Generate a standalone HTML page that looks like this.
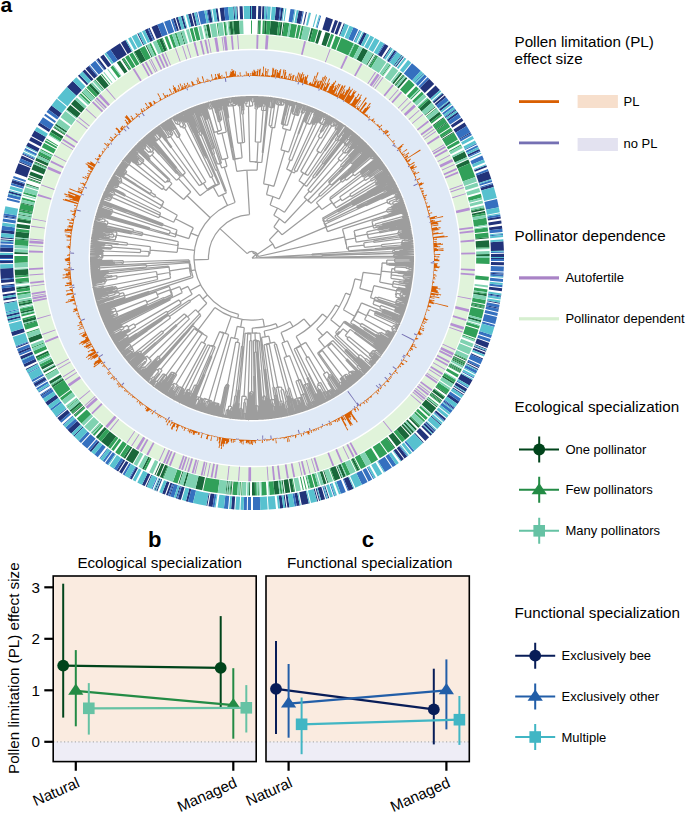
<!DOCTYPE html>
<html><head><meta charset="utf-8"><style>
html,body{margin:0;padding:0;background:#fff;}
svg{display:block;font-family:"Liberation Sans", sans-serif;}
</style></head><body>
<svg width="685" height="813" viewBox="0 0 685 813">
<path d="M459.8 258A207.8 207.8 0 1 1 44.2 258A207.8 207.8 0 1 1 459.8 258ZM415.4 258A163.4 163.4 0 1 0 88.6 258A163.4 163.4 0 1 0 415.4 258Z" fill="#dfe9f6" fill-rule="evenodd"/>
<path d="M475.2 258A223.2 223.2 0 1 1 28.8 258A223.2 223.2 0 1 1 475.2 258ZM461.2 258A209.2 209.2 0 1 0 42.8 258A209.2 209.2 0 1 0 461.2 258Z" fill="#e0f3da" fill-rule="evenodd"/>
<path d="M252 258L255.7 254.7M252.8 253.1A5 5 0 0 1 257 257.8M252.8 253.1L253.1 251.6M247.2 253.6A6.5 6.5 0 0 1 258 255.4M247.2 253.6L219.9 228.6M208.5 259.4A43.5 43.5 0 0 1 249.5 214.6M208.5 259.4L194 259.8M238.6 314.4A58 58 0 0 1 235.1 202.5M238.6 314.4L237.7 318.3M263 319A62 62 0 0 1 214.8 307.6M263 319L264.4 326.9M276.1 323.7A70 70 0 0 1 252.3 328M276.1 323.7L277.5 327.5M290 321.5A74 74 0 0 1 264.2 331M290 321.5L293 326.7M303.9 318.9A80 80 0 0 1 281 332.5M303.9 318.9L310.4 326.5M322.5 314A90 90 0 0 1 296.1 336.5M322.5 314L327.2 317.7M335.7 305A96 96 0 0 1 316.7 328.9M335.7 305L339.2 307M345.7 293.1A100 100 0 0 1 330.7 319.7M345.7 293.1L350.3 294.8M354.9 278.9A105 105 0 0 1 343.4 309.8M354.9 278.9L361.7 280.3M363.1 272.3A112 112 0 0 1 359.8 288.3M363.1 272.3L380.9 274.6M381.7 267A130 130 0 0 1 379.7 282.1M381.7 267L381.8 267.1M382.1 262.9A130.2 130.2 0 0 1 381.5 271.2M382.1 262.9L386.6 263.1M386.7 261.5A134.7 134.7 0 0 1 386.6 264.6M386.7 261.5L386.8 261.5M386.8 260.1A134.9 134.9 0 0 1 386.8 263M386.8 260.1L394.7 260.2M394.7 259A142.7 142.7 0 0 1 394.7 261.3M394.7 259L409.6 259.1M409.6 258.7A157.6 157.6 0 0 1 409.5 259.6M409.6 258.7L410.7 258.7M410.7 258.3A158.7 158.7 0 0 1 410.7 259M410.7 258.3L414 258.3M410.7 259L414 259M409.5 259.6L414 259.7M394.7 261.3L394.8 261.3M394.8 260.5A142.8 142.8 0 0 1 394.7 262.1M394.8 260.5L410.7 260.8M410.8 260.3A158.8 158.8 0 0 1 410.7 261.3M410.8 260.3L414 260.3M410.7 261.3L410.8 261.3M410.8 261A158.8 158.8 0 0 1 410.8 261.6M410.8 261L414 261M410.8 261.6L414 261.7M394.7 262.1L394.8 262.1M394.9 261.8A142.9 142.9 0 0 1 394.8 262.4M394.9 261.8L413.9 262.4M394.8 262.4L413.9 263M386.8 263L401.3 263.6M401.3 263.3A149.4 149.4 0 0 1 401.3 263.9M401.3 263.3L413.9 263.7M401.3 263.9L413.9 264.4M386.6 264.6L388.6 264.7M388.7 264.2A136.8 136.8 0 0 1 388.6 265.1M388.7 264.2L399.2 264.7M399.3 264.4A147.4 147.4 0 0 1 399.2 265M399.3 264.4L413.8 265M399.2 265L413.8 265.7M388.6 265.1L413.8 266.4M381.5 271.2L391.5 272.2M391.8 268.6A140.2 140.2 0 0 1 391.1 275.9M391.8 268.6L394.8 268.8M394.9 266.9A143.2 143.2 0 0 1 394.6 270.8M394.9 266.9L406.1 267.6M406.2 266.6A154.4 154.4 0 0 1 406.1 268.5M406.2 266.6L413.7 267.1M406.1 268.5L408.8 268.7M408.9 267.8A157.2 157.2 0 0 1 408.8 269.6M408.9 267.8L412.1 268M412.1 267.6A160.4 160.4 0 0 1 412.1 268.3M412.1 267.6L413.7 267.7M412.1 268.3L413.7 268.4M408.8 269.6L411.3 269.7M411.3 269.2A159.7 159.7 0 0 1 411.3 270.2M411.3 269.2L412.8 269.3M412.8 269A161.2 161.2 0 0 1 412.8 269.7M412.8 269L413.6 269.1M412.8 269.7L413.6 269.7M411.3 270.2L413.5 270.4M394.6 270.8L406.6 271.9M406.6 271.3A155.2 155.2 0 0 1 406.5 272.5M406.6 271.3L407.4 271.4M407.5 270.9A156 156 0 0 1 407.4 271.9M407.5 270.9L411.5 271.3M411.5 270.9A160 160 0 0 1 411.5 271.6M411.5 270.9L413.5 271.1M411.5 271.6L413.4 271.7M407.4 271.9L413.4 272.4M406.5 272.5L413.3 273.1M391.1 275.9L391.2 275.9M391.5 273.5A140.3 140.3 0 0 1 390.9 278.3M391.5 273.5L391.6 273.5M391.7 272.1A140.4 140.4 0 0 1 391.4 274.9M391.7 272.1L397.7 272.7M397.8 272.2A146.5 146.5 0 0 1 397.7 273.1M397.8 272.2L413.2 273.8M397.7 273.1L409.3 274.4M409.3 274A158.1 158.1 0 0 1 409.2 274.7M409.3 274L413.2 274.4M409.2 274.7L413.1 275.1M391.4 274.9L403.3 276.4M403.4 275A152.4 152.4 0 0 1 403.1 277.7M403.4 275L404.6 275.1M404.6 274.8A153.5 153.5 0 0 1 404.5 275.5M404.6 274.8L413 275.8M404.5 275.5L412.9 276.4M403.1 277.7L403.8 277.8M403.9 276.8A153.1 153.1 0 0 1 403.6 278.7M403.9 276.8L410.5 277.6M410.6 277.2A159.7 159.7 0 0 1 410.4 278.1M410.6 277.2L411.1 277.2M411.1 276.9A160.3 160.3 0 0 1 411.1 277.5M411.1 276.9L412.9 277.1M411.1 277.5L412.8 277.8M410.4 278.1L412.7 278.4M403.6 278.7L405.4 278.9M405.4 278.5A154.8 154.8 0 0 1 405.3 279.4M405.4 278.5L409.2 279M409.2 278.6A158.6 158.6 0 0 1 409.1 279.3M409.2 278.6L412.6 279.1M409.1 279.3L412.5 279.8M405.3 279.4L412.4 280.4M390.9 278.3L404.7 280.3M404.8 280A154.4 154.4 0 0 1 404.7 280.6M404.8 280L412.3 281.1M404.7 280.6L412.2 281.7M379.7 282.1L392.8 284.6M393.2 282.4A143.3 143.3 0 0 1 392.4 286.7M393.2 282.4L393.3 282.4M393.5 281.2A143.4 143.4 0 0 1 393.1 283.6M393.5 281.2L398.8 282.1M398.9 281.3A148.7 148.7 0 0 1 398.6 282.8M398.9 281.3L403.4 282.1M403.5 281.4A153.3 153.3 0 0 1 403.3 282.7M403.5 281.4L408.8 282.2M408.8 281.9A158.6 158.6 0 0 1 408.7 282.6M408.8 281.9L412.1 282.4M408.7 282.6L412 283.1M403.3 282.7L409 283.6M409 283.3A159.1 159.1 0 0 1 408.9 283.9M409 283.3L411.9 283.7M408.9 283.9L411.8 284.4M398.6 282.8L411.7 285.1M393.1 283.6L405.6 285.9M405.7 285A156.1 156.1 0 0 1 405.4 286.8M405.7 285L406.1 285.1M406.1 284.8A156.4 156.4 0 0 1 406 285.4M406.1 284.8L411.6 285.7M406 285.4L411.5 286.4M405.4 286.8L405.7 286.8M405.8 286.4A156.4 156.4 0 0 1 405.6 287.3M405.8 286.4L408.2 286.8M408.2 286.5A158.8 158.8 0 0 1 408.1 287.1M408.2 286.5L411.4 287M408.1 287.1L411.3 287.7M405.6 287.3L411.1 288.4M392.4 286.7L397.8 287.8M397.9 287.3A148.8 148.8 0 0 1 397.7 288.3M397.9 287.3L406.3 288.9M406.4 288.5A157.3 157.3 0 0 1 406.2 289.4M406.4 288.5L406.4 288.5M406.4 288.1A157.3 157.3 0 0 1 406.3 288.8M406.4 288.1L411 289M406.3 288.8L410.9 289.7M406.2 289.4L410.7 290.3M397.7 288.3L410.6 291M359.8 288.3L372.4 291.8M373.9 285.7A125 125 0 0 1 370.5 297.7M373.9 285.7L396.4 290.9M396.8 289.1A148.1 148.1 0 0 1 396 292.7M396.8 289.1L401.3 290M401.4 289.7A152.7 152.7 0 0 1 401.2 290.3M401.4 289.7L410.5 291.7M401.2 290.3L410.3 292.3M396 292.7L396 292.7M396.6 290.3A148.2 148.2 0 0 1 395.4 295.1M396.6 290.3L406.6 292.5M406.6 292.2A158.4 158.4 0 0 1 406.5 292.8M406.6 292.2L410.2 293M406.5 292.8L410 293.6M395.4 295.1L396.2 295.3M396.7 293.4A148.9 148.9 0 0 1 395.7 297.2M396.7 293.4L400.2 294.2M400.7 292.5A152.6 152.6 0 0 1 399.8 296M400.7 292.5L402.4 292.9M402.5 292.6A154.4 154.4 0 0 1 402.3 293.2M402.5 292.6L409.9 294.3M402.3 293.2L409.7 294.9M399.8 296L401 296.3M401.3 295.1A153.8 153.8 0 0 1 400.7 297.4M401.3 295.1L402.5 295.4M402.8 294.3A155.1 155.1 0 0 1 402.2 296.6M402.8 294.3L404.6 294.7M404.6 294.4A156.9 156.9 0 0 1 404.5 295M404.6 294.4L409.6 295.6M404.5 295L409.4 296.2M402.2 296.6L405.2 297.3M405.3 296.8A158.1 158.1 0 0 1 405 297.9M405.3 296.8L405.5 296.8M405.6 296.3A158.3 158.3 0 0 1 405.3 297.3M405.6 296.3L408.1 296.9M408.1 296.6A160.8 160.8 0 0 1 408 297.3M408.1 296.6L409.3 296.9M408 297.3L409.1 297.5M405.3 297.3L408.9 298.2M405 297.9L408.8 298.8M400.7 297.4L408.6 299.5M395.7 297.2L397.7 297.7M397.8 297.3A151 151 0 0 1 397.6 298.2M397.8 297.3L408.4 300.1M397.6 298.2L398.2 298.4M398.2 298.1A151.6 151.6 0 0 1 398.1 298.7M398.2 298.1L408.2 300.8M398.1 298.7L408.1 301.4M370.5 297.7L374.5 299M375.1 297.2A129.2 129.2 0 0 1 373.9 300.9M375.1 297.2L377.9 298.1M378.2 297.2A132.1 132.1 0 0 1 377.6 299.1M378.2 297.2L395.8 302.6M396.1 301.5A150.5 150.5 0 0 1 395.4 303.7M396.1 301.5L396.1 301.5M396.5 300.2A150.5 150.5 0 0 1 395.7 302.7M396.5 300.2L396.6 300.3M396.9 299.5A150.7 150.7 0 0 1 396.4 301.1M396.9 299.5L401.8 300.9M401.9 300.4A155.8 155.8 0 0 1 401.7 301.3M401.9 300.4L407.9 302.1M401.7 301.3L402.2 301.5M402.3 301.2A156.4 156.4 0 0 1 402.1 301.8M402.3 301.2L407.7 302.7M402.1 301.8L407.5 303.4M396.4 301.1L404.6 303.5M404.7 303.2A159.2 159.2 0 0 1 404.5 303.9M404.7 303.2L407.3 304M404.5 303.9L407.1 304.7M395.7 302.7L398.7 303.6M398.9 303.2A153.7 153.7 0 0 1 398.6 304.1M398.9 303.2L404.7 305M404.8 304.7A159.8 159.8 0 0 1 404.6 305.3M404.8 304.7L406.9 305.3M404.6 305.3L406.7 305.9M398.6 304.1L406.5 306.6M395.4 303.7L406.3 307.2M377.6 299.1L398.4 305.9M398.6 305.4A154.1 154.1 0 0 1 398.3 306.3M398.6 305.4L406.1 307.9M398.3 306.3L402.2 307.6M402.3 307.3A158.2 158.2 0 0 1 402.1 307.9M402.3 307.3L405.9 308.5M402.1 307.9L405.7 309.1M373.9 300.9L374 300.9M374.5 299.6A129.4 129.4 0 0 1 373.6 302.2M374.5 299.6L379.3 301.2M379.4 301A134.5 134.5 0 0 1 379.2 301.5M379.4 301L405.5 309.8M379.2 301.5L405.3 310.4M373.6 302.2L373.7 302.3M374.4 300.4A129.5 129.5 0 0 1 373 304.1M374.4 300.4L405.1 311.1M373 304.1L380.3 306.9M380.8 305.4A137.3 137.3 0 0 1 379.7 308.3M380.8 305.4L394.7 310.5M395 309.6A152 152 0 0 1 394.4 311.3M395 309.6L395.2 309.7M395.4 308.9A152.2 152.2 0 0 1 394.9 310.5M395.4 308.9L395.5 308.9M395.6 308.4A152.2 152.2 0 0 1 395.3 309.3M395.6 308.4L404.8 311.7M395.3 309.3L395.6 309.4M395.7 309.1A152.5 152.5 0 0 1 395.5 309.7M395.7 309.1L404.6 312.3M395.5 309.7L404.4 313M394.9 310.5L395 310.6M395.1 310.3A152.3 152.3 0 0 1 394.9 310.9M395.1 310.3L404.2 313.6M394.9 310.9L403.9 314.2M394.4 311.3L403.7 314.8M379.7 308.3L383.5 309.8M383.7 309.3A141.4 141.4 0 0 1 383.3 310.3M383.7 309.3L399.4 315.4M399.6 314.9A158.1 158.1 0 0 1 399.1 315.9M399.6 314.9L400.1 315.1M400.3 314.6A158.8 158.8 0 0 1 400 315.5M400.3 314.6L402 315.3M402.1 315A160.6 160.6 0 0 1 401.9 315.6M402.1 315L403.5 315.5M401.9 315.6L403.2 316.1M400 315.5L403 316.7M399.1 315.9L402.7 317.3M383.3 310.3L402.5 318M343.4 309.8L354.7 316.2M358.3 309.2A118 118 0 0 1 350.6 322.9M358.3 309.2L358.5 309.3M361.4 302.9A118.2 118.2 0 0 1 355.3 315.5M361.4 302.9L381.7 311.2M381.9 310.7A140.2 140.2 0 0 1 381.4 311.8M381.9 310.7L398.5 317.5M398.7 317.2A158.1 158.1 0 0 1 398.4 317.8M398.7 317.2L402.2 318.6M398.4 317.8L402 319.2M381.4 311.8L382.2 312.1M382.4 311.8A141 141 0 0 1 382.1 312.4M382.4 311.8L401.7 319.8M382.1 312.4L401.5 320.5M355.3 315.5L355.5 315.6M357.7 311.4A118.4 118.4 0 0 1 353 319.8M357.7 311.4L366.6 315.8M368.4 312.1A128.4 128.4 0 0 1 364.6 319.5M368.4 312.1L368.6 312.2M369.7 309.5A128.5 128.5 0 0 1 367.3 314.8M369.7 309.5L375.2 311.9M375.6 311A134.5 134.5 0 0 1 374.8 312.8M375.6 311L391.4 317.8M391.6 317.4A151.7 151.7 0 0 1 391.2 318.2M391.6 317.4L398.6 320.3M398.7 320A159.3 159.3 0 0 1 398.4 320.6M398.7 320L401.2 321.1M398.4 320.6L401 321.7M391.2 318.2L400.7 322.3M374.8 312.8L375 312.9M375.4 312A134.7 134.7 0 0 1 374.6 313.8M375.4 312L400.4 322.9M374.6 313.8L374.7 313.8M375 313.1A134.8 134.8 0 0 1 374.3 314.6M375 313.1L395.9 322.5M396.2 321.8A157.7 157.7 0 0 1 395.6 323.2M396.2 321.8L400.1 323.5M395.6 323.2L397.9 324.2M398.1 323.7A160.2 160.2 0 0 1 397.7 324.6M398.1 323.7L399.6 324.4M399.7 324.1A161.9 161.9 0 0 1 399.5 324.7M399.7 324.1L399.9 324.2M399.5 324.7L399.6 324.8M397.7 324.6L399.3 325.4M374.3 314.6L399 326M367.3 314.8L392.6 327.2M393.5 325.3A156.7 156.7 0 0 1 391.6 329.1M393.5 325.3L395.2 326.1M395.5 325.4A158.6 158.6 0 0 1 394.9 326.8M395.5 325.4L397.9 326.5M398 326.2A161.2 161.2 0 0 1 397.7 326.8M398 326.2L398.8 326.6M397.7 326.8L398.5 327.2M394.9 326.8L395.1 326.9M395.3 326.4A158.8 158.8 0 0 1 394.8 327.3M395.3 326.4L398.2 327.8M394.8 327.3L397.4 328.6M397.6 328.3A161.6 161.6 0 0 1 397.3 328.9M397.6 328.3L397.9 328.4M397.3 328.9L397.6 329M391.6 329.1L392.9 329.8M393.7 328.2A158.1 158.1 0 0 1 392.1 331.3M393.7 328.2L395.7 329.2M395.9 328.9A160.4 160.4 0 0 1 395.6 329.5M395.9 328.9L397.3 329.6M395.6 329.5L397 330.2M392.1 331.3L392.1 331.4M392.4 330.7A158.1 158.1 0 0 1 391.8 332M392.4 330.7L393.9 331.4M394.2 330.7A159.7 159.7 0 0 1 393.5 332.2M394.2 330.7L395.8 331.5M396.1 330.9A161.5 161.5 0 0 1 395.5 332.1M396.1 330.9L396.5 331.1M396.7 330.8A162 162 0 0 1 396.4 331.4M396.7 330.8L396.7 330.8M396.4 331.4L396.4 331.4M395.5 332.1L395.5 332.1M395.6 331.8A161.5 161.5 0 0 1 395.3 332.4M395.6 331.8L396.1 332M395.3 332.4L395.8 332.6M393.5 332.2L395.5 333.2M391.8 332L395.2 333.8M364.6 319.5L386.6 331.6M387.3 330.4A153.4 153.4 0 0 1 386 332.8M387.3 330.4L394.9 334.4M386 332.8L386 332.8M386.5 331.8A153.4 153.4 0 0 1 385.5 333.7M386.5 331.8L386.5 331.8M386.8 331.2A153.4 153.4 0 0 1 386.2 332.5M386.8 331.2L389.7 332.8M389.9 332.5A156.7 156.7 0 0 1 389.6 333.1M389.9 332.5L394.5 335M389.6 333.1L394.2 335.6M386.2 332.5L387.2 333M387.4 332.6A154.6 154.6 0 0 1 387 333.5M387.4 332.6L393.9 336.2M387 333.5L388.2 334.1M388.3 333.8A156 156 0 0 1 388 334.4M388.3 333.8L393.6 336.8M388 334.4L393.2 337.3M385.5 333.7L392.9 337.9M353 319.8L360.8 324.6M361.5 323.4A127.6 127.6 0 0 1 360.1 325.7M361.5 323.4L378.6 333.6M379.3 332.5A147.5 147.5 0 0 1 377.9 334.7M379.3 332.5L380.4 333.2M381 332.2A148.8 148.8 0 0 1 379.9 334.2M381 332.2L389.4 337.1M389.5 336.8A158.5 158.5 0 0 1 389.2 337.4M389.5 336.8L392.6 338.5M389.2 337.4L392.2 339.1M379.9 334.2L380.1 334.3M380.4 333.9A149.1 149.1 0 0 1 379.8 334.8M380.4 333.9L388 338.3M388.2 337.9A158 158 0 0 1 387.7 338.8M388.2 337.9L390.2 339.1M390.4 338.8A160.2 160.2 0 0 1 390 339.4M390.4 338.8L391.9 339.7M390 339.4L391.6 340.3M387.7 338.8L391.2 340.8M379.8 334.8L390.9 341.4M377.9 334.7L382.1 337.3M382.3 337A152.3 152.3 0 0 1 381.9 337.5M382.3 337L390.5 342M381.9 337.5L390.2 342.6M360.1 325.7L363.7 327.9M364 327.5A131.8 131.8 0 0 1 363.4 328.4M364 327.5L375.6 334.7M375.8 334.4A145.5 145.5 0 0 1 375.4 334.9M375.8 334.4L389.8 343.1M375.4 334.9L389.5 343.7M363.4 328.4L364.3 329M364.4 328.7A132.8 132.8 0 0 1 364.1 329.2M364.4 328.7L389.1 344.3M364.1 329.2L388.8 344.8M350.6 322.9L352.9 324.4M353.2 323.9A120.8 120.8 0 0 1 352.6 324.8M353.2 323.9L375.4 338.5M375.8 337.9A147.4 147.4 0 0 1 375.1 339M375.8 337.9L376 338M376.3 337.6A147.6 147.6 0 0 1 375.8 338.4M376.3 337.6L388.4 345.4M375.8 338.4L376 338.5M376.1 338.3A147.8 147.8 0 0 1 375.8 338.8M376.1 338.3L388 346M375.8 338.8L387.7 346.5M375.1 339L387.3 347.1M352.6 324.8L386.9 347.7M330.7 319.7L340.1 327.2M344.3 321.4A112 112 0 0 1 335.5 332.6M344.3 321.4L344.8 321.7M345.2 321.2A112.6 112.6 0 0 1 344.4 322.3M345.2 321.2L367.9 336.6M368.1 336.2A140 140 0 0 1 367.6 336.9M368.1 336.2L368.1 336.2M368.3 336A140 140 0 0 1 368 336.4M368.3 336L386.6 348.2M368 336.4L386.2 348.8M367.6 336.9L385.8 349.3M344.4 322.3L344.6 322.4M344.9 322A112.8 112.8 0 0 1 344.3 322.8M344.9 322L385.4 349.9M344.3 322.8L373.6 343.4M373.9 343A148.6 148.6 0 0 1 373.3 343.8M373.9 343L383.3 349.6M383.5 349.3A160.1 160.1 0 0 1 383.1 349.9M383.5 349.3L385 350.4M383.1 349.9L384.7 351M373.3 343.8L384.3 351.5M335.5 332.6L337 334M339.2 331.5A114 114 0 0 1 334.8 336.4M339.2 331.5L340.1 332.2M342.9 328.8A115.2 115.2 0 0 1 337.2 335.6M342.9 328.8L347.7 332.5M350.1 329.3A121.2 121.2 0 0 1 345.2 335.6M350.1 329.3L354.5 332.5M354.7 332.1A126.7 126.7 0 0 1 354.2 332.8M354.7 332.1L373.7 345.8M374 345.4A150.1 150.1 0 0 1 373.5 346.2M374 345.4L374.8 346M375 345.7A151.1 151.1 0 0 1 374.6 346.2M375 345.7L383.9 352.1M374.6 346.2L383.5 352.6M373.5 346.2L383.1 353.2M354.2 332.8L382.7 353.7M345.2 335.6L347.9 337.8M348.8 336.7A124.8 124.8 0 0 1 346.9 339M348.8 336.7L370 354M370.9 352.9A152.1 152.1 0 0 1 369.1 355.1M370.9 352.9L371 353M372.1 351.5A152.2 152.2 0 0 1 369.8 354.4M372.1 351.5L372.1 351.5M373 350.3A152.2 152.2 0 0 1 371.1 352.8M373 350.3L374.3 351.2M375 350.3A153.8 153.8 0 0 1 373.6 352.2M375 350.3L375.5 350.8M376.1 350A154.5 154.5 0 0 1 375 351.5M376.1 350L378.2 351.6M378.3 351.3A157.1 157.1 0 0 1 378 351.8M378.3 351.3L382.3 354.3M378 351.8L381.9 354.8M375 351.5L380.5 355.6M380.8 355.2A161.4 161.4 0 0 1 380.2 356M380.8 355.2L381 355.4M381.2 355.1A161.6 161.6 0 0 1 380.8 355.6M381.2 355.1L381.5 355.3M380.8 355.6L381.1 355.9M380.2 356L380.7 356.4M373.6 352.2L380 357.2M380.3 356.9A162 162 0 0 1 379.8 357.4M380.3 356.9L380.3 356.9M379.8 357.4L379.9 357.5M371.1 352.8L371.2 352.8M371.6 352.2A152.3 152.3 0 0 1 370.7 353.3M371.6 352.2L376 355.7M376.2 355.4A157.8 157.8 0 0 1 375.8 355.9M376.2 355.4L379.5 358M375.8 355.9L379 358.5M370.7 353.3L373.5 355.5M373.8 355.2A155.8 155.8 0 0 1 373.1 355.9M373.8 355.2L378.6 359M373.1 355.9L377.6 359.5M377.9 359.3A161.6 161.6 0 0 1 377.4 359.8M377.9 359.3L378.2 359.6M377.4 359.8L377.8 360.1M369.8 354.4L377.4 360.6M369.1 355.1L371.2 356.8M371.4 356.5A154.8 154.8 0 0 1 371 357M371.4 356.5L376.9 361.1M371 357L376.5 361.6M346.9 339L370.2 358.8M370.8 358.2A155.4 155.4 0 0 1 369.7 359.5M370.8 358.2L374.4 361.2M374.6 360.9A160.1 160.1 0 0 1 374.2 361.4M374.6 360.9L376.1 362.2M374.2 361.4L375.6 362.7M369.7 359.5L371.1 360.7M371.4 360.3A157.2 157.2 0 0 1 370.7 361.1M371.4 360.3L374.9 363.4M375.1 363.1A161.9 161.9 0 0 1 374.7 363.6M375.1 363.1L375.2 363.2M374.7 363.6L374.8 363.7M370.7 361.1L374.3 364.2M337.2 335.6L359.2 355.7M360.2 354.6A145.1 145.1 0 0 1 358.2 356.8M360.2 354.6L365.5 359.2M366.1 358.5A152 152 0 0 1 364.8 359.9M366.1 358.5L369.5 361.5M369.8 361.1A156.6 156.6 0 0 1 369.1 361.9M369.8 361.1L373.9 364.7M369.1 361.9L371.4 363.8M371.6 363.6A159.5 159.5 0 0 1 371.1 364.1M371.6 363.6L373.4 365.2M371.1 364.1L373 365.7M364.8 359.9L371.1 365.5M371.4 365.2A160.4 160.4 0 0 1 370.7 365.9M371.4 365.2L372.6 366.2M370.7 365.9L371.5 366.6M371.7 366.4A161.5 161.5 0 0 1 371.3 366.9M371.7 366.4L372.1 366.7M371.3 366.9L371.7 367.2M358.2 356.8L360.5 358.9M360.8 358.6A148.2 148.2 0 0 1 360.2 359.2M360.8 358.6L370.6 367.7M370.9 367.4A161.6 161.6 0 0 1 370.4 367.9M370.9 367.4L371.2 367.7M370.4 367.9L370.7 368.2M360.2 359.2L370.3 368.7M334.8 336.4L357 357.5M357.2 357.3A144.7 144.7 0 0 1 356.8 357.7M357.2 357.3L369.8 369.2M356.8 357.7L369.4 369.7M316.7 328.9L322.8 335.5M327 331.5A105 105 0 0 1 318.4 339.3M327 331.5L345.5 349.6M346 349.1A130.9 130.9 0 0 1 345 350.1M346 349.1L358.3 361M358.6 360.7A148 148 0 0 1 357.9 361.3M358.6 360.7L364.2 366.1M364.5 365.9A155.8 155.8 0 0 1 364 366.3M364.5 365.9L368.9 370.2M364 366.3L368.4 370.6M357.9 361.3L368 371.1M345 350.1L345.1 350.2M345.4 349.9A131 131 0 0 1 344.8 350.5M345.4 349.9L367.5 371.6M344.8 350.5L353.7 359.3M353.9 359.1A143.5 143.5 0 0 1 353.5 359.5M353.9 359.1L367 372.1M353.5 359.5L366.6 372.6M318.4 339.3L324.9 347.3M330.7 342.2A115.2 115.2 0 0 1 318.7 352M330.7 342.2L330.8 342.3M332.8 340.5A115.5 115.5 0 0 1 328.9 344.1M332.8 340.5L357.6 365.9M358.3 365.2A151 151 0 0 1 356.9 366.6M358.3 365.2L366.1 373M356.9 366.6L360.1 369.8M360.7 369.2A155.5 155.5 0 0 1 359.4 370.4M360.7 369.2L362 370.6M362.4 370.2A157.4 157.4 0 0 1 361.7 370.9M362.4 370.2L365.6 373.5M361.7 370.9L364.8 374.1M365 373.9A161.8 161.8 0 0 1 364.5 374.3M365 373.9L365.1 374M364.5 374.3L364.6 374.4M359.4 370.4L363.2 374.4M363.5 374.2A161 161 0 0 1 363 374.6M363.5 374.2L364.2 374.9M363 374.6L363.7 375.4M328.9 344.1L329.6 344.9M331.4 343.2A116.5 116.5 0 0 1 327.7 346.5M331.4 343.2L346.5 359.4M346.9 359A138.6 138.6 0 0 1 346.1 359.8M346.9 359L347 359.1M347.2 358.9A138.7 138.7 0 0 1 346.8 359.3M347.2 358.9L363.2 375.8M346.8 359.3L362.7 376.3M346.1 359.8L346.2 359.9M346.4 359.7A138.7 138.7 0 0 1 345.9 360.1M346.4 359.7L362.2 376.7M345.9 360.1L361.7 377.2M327.7 346.5L349.7 372.3M350.9 371.2A150.3 150.3 0 0 1 348.4 373.4M350.9 371.2L351.3 371.7M352 371A150.9 150.9 0 0 1 350.6 372.3M352 371L352.1 371.2M352.7 370.7A151.1 151.1 0 0 1 351.5 371.7M352.7 370.7L353.6 371.7M354.3 371.1A152.5 152.5 0 0 1 352.9 372.3M354.3 371.1L354.9 371.8M355.4 371.3A153.4 153.4 0 0 1 354.3 372.2M355.4 371.3L361.2 377.7M354.3 372.2L354.6 372.5M354.9 372.2A153.8 153.8 0 0 1 354.2 372.8M354.9 372.2L356.1 373.5M356.4 373.3A155.5 155.5 0 0 1 355.9 373.7M356.4 373.3L360.7 378.1M355.9 373.7L360.2 378.6M354.2 372.8L359.7 379M352.9 372.3L359.2 379.4M351.5 371.7L358.7 379.9M350.6 372.3L351.8 373.7M352.1 373.3A152.7 152.7 0 0 1 351.4 374M352.1 373.3L358.2 380.3M351.4 374L356.1 379.5M356.4 379.2A160 160 0 0 1 355.9 379.7M356.4 379.2L357.7 380.8M355.9 379.7L357.2 381.2M348.4 373.4L349.7 374.8M350.1 374.4A152.3 152.3 0 0 1 349.2 375.2M350.1 374.4L351.3 375.8M351.6 375.6A154.1 154.1 0 0 1 351.1 376M351.6 375.6L356.7 381.6M351.1 376L356.2 382.1M349.2 375.2L353.9 380.9M354.2 380.7A159.7 159.7 0 0 1 353.6 381.1M354.2 380.7L355.6 382.5M353.6 381.1L355.1 382.9M318.7 352L318.8 352.1M320.2 351.2A115.5 115.5 0 0 1 317.5 353.1M320.2 351.2L320.6 351.8M322.3 350.5A116.2 116.2 0 0 1 318.9 353M322.3 350.5L342.4 376.9M344 375.7A149.4 149.4 0 0 1 340.7 378.2M344 375.7L344 375.7M345.4 374.5A149.4 149.4 0 0 1 342.6 376.8M345.4 374.5L345.7 374.8M346.6 374.1A149.8 149.8 0 0 1 344.7 375.6M346.6 374.1L347.9 375.6M348.1 375.4A151.7 151.7 0 0 1 347.6 375.8M348.1 375.4L354.6 383.4M347.6 375.8L354.1 383.8M344.7 375.6L345.5 376.6M346.1 376.1A151 151 0 0 1 344.9 377M346.1 376.1L346.8 377M347.1 376.7A152.1 152.1 0 0 1 346.4 377.3M347.1 376.7L348.6 378.5M348.8 378.3A154.5 154.5 0 0 1 348.3 378.7M348.8 378.3L353.6 384.2M348.3 378.7L353 384.6M346.4 377.3L352.5 385M344.9 377L348.4 381.4M348.6 381.2A156.5 156.5 0 0 1 348.1 381.6M348.6 381.2L352 385.5M348.1 381.6L351.5 385.9M342.6 376.8L345.3 380.2M345.6 379.9A153.7 153.7 0 0 1 344.9 380.5M345.6 379.9L347.7 382.7M348 382.5A157.2 157.2 0 0 1 347.5 382.9M348 382.5L350.9 386.3M347.5 382.9L350.4 386.7M344.9 380.5L349.9 387.1M340.7 378.2L340.7 378.2M341.4 377.7A149.4 149.4 0 0 1 340 378.7M341.4 377.7L341.6 378M342 377.7A149.8 149.8 0 0 1 341.2 378.3M342 377.7L349.3 387.5M341.2 378.3L346.8 385.8M347.1 385.6A159.1 159.1 0 0 1 346.5 386M347.1 385.6L348.8 387.9M346.5 386L348.3 388.3M340 378.7L341.3 380.5M341.6 380.3A151.6 151.6 0 0 1 341.1 380.7M341.6 380.3L347.7 388.7M341.1 380.7L347.2 389.1M318.9 353L340 382.9M340.8 382.3A152.8 152.8 0 0 1 339.2 383.5M340.8 382.3L341.8 383.7M342.2 383.4A154.5 154.5 0 0 1 341.3 384M342.2 383.4L346.6 389.5M341.3 384L341.7 384.6M342.1 384.3A155.1 155.1 0 0 1 341.3 384.8M342.1 384.3L346.1 389.9M341.3 384.8L341.6 385.2M341.8 385A155.6 155.6 0 0 1 341.3 385.4M341.8 385L345.5 390.3M341.3 385.4L345 390.7M339.2 383.5L344.4 391M317.5 353.1L343.9 391.4M296.1 336.5L301 345.2M305.7 342.4A100 100 0 0 1 296.1 347.7M305.7 342.4L325.2 373M327.1 371.8A136.3 136.3 0 0 1 323.3 374.2M327.1 371.8L329.3 375.1M330.4 374.4A140.4 140.4 0 0 1 328.2 375.9M330.4 374.4L331.3 375.8M331.8 375.5A142 142 0 0 1 330.8 376.1M331.8 375.5L338.5 385.4M338.8 385.2A154 154 0 0 1 338.3 385.5M338.8 385.2L343.3 391.8M338.3 385.5L342.8 392.2M330.8 376.1L341.5 392.2M341.8 392A161.3 161.3 0 0 1 341.3 392.3M341.8 392L342.2 392.6M341.3 392.3L341.7 392.9M328.2 375.9L329 377.1M330 376.5A141.9 141.9 0 0 1 328 377.8M330 376.5L341.1 393.3M328 377.8L328.1 377.9M328.9 377.4A142 142 0 0 1 327.4 378.3M328.9 377.4L336.8 389.8M337.4 389.4A156.7 156.7 0 0 1 336.3 390.1M337.4 389.4L337.7 390M338 389.8A157.4 157.4 0 0 1 337.5 390.2M338 389.8L340.5 393.7M337.5 390.2L340 394M336.3 390.1L336.4 390.3M336.7 390.1A156.9 156.9 0 0 1 336.1 390.5M336.7 390.1L339.4 394.4M336.1 390.5L338.8 394.8M327.4 378.3L334.7 390.1M335 389.9A155.8 155.8 0 0 1 334.4 390.2M335 389.9L338.3 395.1M334.4 390.2L337.7 395.5M323.3 374.2L328.5 382.7M328.9 382.5A146.3 146.3 0 0 1 328.1 382.9M328.9 382.5L337.1 395.8M328.1 382.9L334.1 392.7M334.3 392.6A157.8 157.8 0 0 1 333.8 392.9M334.3 392.6L336.6 396.2M333.8 392.9L336 396.5M296.1 347.7L296.3 348M298.4 346.9A100.3 100.3 0 0 1 294.1 349M298.4 346.9L298.5 347.2M300.7 346A100.6 100.6 0 0 1 296.3 348.3M300.7 346L307.1 357.4M308.4 356.6A113.7 113.7 0 0 1 305.7 358.2M308.4 356.6L328.1 391M329.7 390.1A153.2 153.2 0 0 1 326.5 391.9M329.7 390.1L329.8 390.3M331 389.5A153.4 153.4 0 0 1 328.6 391M331 389.5L335.4 396.9M328.6 391L328.8 391.3M329.8 390.7A153.8 153.8 0 0 1 327.8 391.9M329.8 390.7L330.1 391.1M330.6 390.8A154.3 154.3 0 0 1 329.5 391.4M330.6 390.8L333.5 395.7M333.8 395.5A160 160 0 0 1 333.2 395.8M333.8 395.5L334.8 397.2M333.2 395.8L334.3 397.6M329.5 391.4L329.5 391.4M329.8 391.3A154.3 154.3 0 0 1 329.3 391.6M329.8 391.3L333.7 397.9M329.3 391.6L333.1 398.2M327.8 391.9L329.9 395.6M330.3 395.3A158.1 158.1 0 0 1 329.4 395.8M330.3 395.3L331 396.5M331.2 396.3A159.4 159.4 0 0 1 330.7 396.7M331.2 396.3L332.5 398.6M330.7 396.7L331.9 398.9M329.4 395.8L331.3 399.2M326.5 391.9L330.8 399.6M305.7 358.2L319.1 383.2M320.5 382.4A142.1 142.1 0 0 1 317.6 384M320.5 382.4L330.2 399.9M317.6 384L318.4 385.5M319.7 384.8A143.8 143.8 0 0 1 317 386.3M319.7 384.8L323.4 391.6M323.9 391.4A151.5 151.5 0 0 1 322.9 391.9M323.9 391.4L326.4 396.1M326.8 395.9A156.9 156.9 0 0 1 326 396.3M326.8 395.9L328.7 399.4M329 399.2A160.9 160.9 0 0 1 328.5 399.5M329 399.2L329.6 400.2M328.5 399.5L329 400.5M326 396.3L328.4 400.9M322.9 391.9L327.8 401.2M317 386.3L318.6 389.3M319.2 389A147.2 147.2 0 0 1 317.9 389.6M319.2 389L319.5 389.5M320 389.3A147.8 147.8 0 0 1 319 389.8M320 389.3L325.2 399.3M325.6 399.1A159.1 159.1 0 0 1 324.7 399.6M325.6 399.1L326.1 400.1M326.4 399.9A160.2 160.2 0 0 1 325.8 400.2M326.4 399.9L327.2 401.5M325.8 400.2L326.6 401.8M324.7 399.6L326 402.1M319 389.8L325.4 402.4M317.9 389.6L323.5 400.9M323.8 400.7A159.8 159.8 0 0 1 323.2 401M323.8 400.7L324.8 402.7M323.2 401L324.2 403M296.3 348.3L308.5 373.2M308.7 373.1A128.3 128.3 0 0 1 308.3 373.4M308.7 373.1L323.6 403.3M308.3 373.4L323 403.6M294.1 349L307.4 377.6M307.9 377.3A131.8 131.8 0 0 1 306.8 377.8M307.9 377.3L315.9 394.3M316.6 393.9A150.5 150.5 0 0 1 315.2 394.6M316.6 393.9L316.6 394M317.1 393.7A150.5 150.5 0 0 1 316 394.2M317.1 393.7L317.2 393.8M317.5 393.7A150.6 150.6 0 0 1 316.9 393.9M317.5 393.7L322.4 403.9M316.9 393.9L321.8 404.2M316 394.2L319.7 402.1M320 401.9A159.2 159.2 0 0 1 319.4 402.2M320 401.9L321.2 404.5M319.4 402.2L320.6 404.8M315.2 394.6L320 405M306.8 377.8L319.4 405.3M281 332.5L284.7 341.9M287.4 340.7A90 90 0 0 1 281.9 342.9M287.4 340.7L306 384.2M307.6 383.5A137.2 137.2 0 0 1 304.3 384.9M307.6 383.5L307.7 383.7M308.4 383.4A137.5 137.5 0 0 1 307 384M308.4 383.4L309.6 386M309.8 385.9A140.4 140.4 0 0 1 309.3 386.1M309.8 385.9L318.8 405.6M309.3 386.1L318.2 405.9M307 384L308.2 386.7M308.8 386.4A140.4 140.4 0 0 1 307.6 387M308.8 386.4L317.5 406.1M307.6 387L313.5 400.6M313.9 400.4A155.3 155.3 0 0 1 313.1 400.8M313.9 400.4L315.6 404.1M315.9 404A159.4 159.4 0 0 1 315.3 404.3M315.9 404L316.9 406.4M315.3 404.3L316.3 406.7M313.1 400.8L315.7 407M304.3 384.9L304.3 384.9M305.1 384.6A137.3 137.3 0 0 1 303.6 385.2M305.1 384.6L312.1 401.4M312.5 401.2A155.5 155.5 0 0 1 311.6 401.6M312.5 401.2L315.1 407.2M311.6 401.6L312.9 404.6M313.2 404.4A158.7 158.7 0 0 1 312.6 404.7M313.2 404.4L314.5 407.5M312.6 404.7L313.8 407.7M303.6 385.2L312.3 406.6M312.6 406.5A160.4 160.4 0 0 1 312 406.8M312.6 406.5L313.2 408M312 406.8L312.6 408.2M281.9 342.9L286.7 356.6M289.5 355.6A104.5 104.5 0 0 1 284 357.5M289.5 355.6L298.9 380M300.4 379.4A130.7 130.7 0 0 1 297.4 380.5M300.4 379.4L312 408.5M297.4 380.5L297.5 380.7M299 380.1A130.8 130.8 0 0 1 295.9 381.2M299 380.1L299.1 380.2M300 379.9A131 131 0 0 1 298.2 380.6M300 379.9L311.3 408.7M298.2 380.6L303.3 394.1M304.5 393.7A145.5 145.5 0 0 1 302.2 394.6M304.5 393.7L308 402.7M308.3 402.6A155.2 155.2 0 0 1 307.7 402.9M308.3 402.6L310.7 409M307.7 402.9L310.1 409.2M302.2 394.6L302.2 394.6M303 394.3A145.6 145.6 0 0 1 301.4 394.9M303 394.3L307.1 405.2M307.8 405A157.2 157.2 0 0 1 306.4 405.5M307.8 405L309.5 409.5M306.4 405.5L306.7 406.3M307.2 406.1A158.1 158.1 0 0 1 306.2 406.5M307.2 406.1L307.8 407.7M308.1 407.6A159.8 159.8 0 0 1 307.4 407.9M308.1 407.6L308.8 409.7M307.4 407.9L308.2 409.9M306.2 406.5L307.6 410.2M301.4 394.9L307 410.4M295.9 381.2L306.3 410.6M284 357.5L297.1 398.6M299.8 397.7A147.6 147.6 0 0 1 294.5 399.4M299.8 397.7L299.8 397.7M300.9 397.3A147.6 147.6 0 0 1 298.6 398.1M300.9 397.3L305.7 410.8M298.6 398.1L298.7 398.2M299.9 397.7A147.7 147.7 0 0 1 297.4 398.6M299.9 397.7L301.5 402.3M301.9 402.1A152.5 152.5 0 0 1 301 402.4M301.9 402.1L305.1 411.1M301 402.4L301.2 402.7M301.5 402.6A152.8 152.8 0 0 1 300.9 402.8M301.5 402.6L304.4 411.3M300.9 402.8L303.8 411.5M297.4 398.6L297.7 399.6M298.3 399.5A148.8 148.8 0 0 1 297.2 399.8M298.3 399.5L298.6 400.4M299 400.3A149.8 149.8 0 0 1 298.1 400.6M299 400.3L299.1 400.7M299.4 400.6A150.3 150.3 0 0 1 298.9 400.8M299.4 400.6L303.1 411.7M298.9 400.8L302.5 411.9M298.1 400.6L301.9 412.1M297.2 399.8L301.2 412.3M294.5 399.4L294.5 399.4M295.1 399.3A147.7 147.7 0 0 1 294 399.6M295.1 399.3L295.3 400.1M295.8 400A148.6 148.6 0 0 1 294.8 400.3M295.8 400L297.4 405.1M297.9 405A154 154 0 0 1 297 405.3M297.9 405L299.2 409.3M299.5 409.2A158.5 158.5 0 0 1 298.9 409.4M299.5 409.2L300.6 412.5M298.9 409.4L299.9 412.7M297 405.3L299.3 412.9M294.8 400.3L298.7 413.1M294 399.6L298 413.3M264.2 331L265.2 336.9M268.8 336.2A80 80 0 0 1 261.5 337.4M268.8 336.2L270.3 343.2M274.7 342.2A87.2 87.2 0 0 1 265.8 344.1M274.7 342.2L275.2 344.3M276.3 344A89.3 89.3 0 0 1 274.2 344.5M276.3 344L288.7 388.1M289.5 387.9A135.2 135.2 0 0 1 288 388.4M289.5 387.9L292.3 397.7M292.7 397.6A145.4 145.4 0 0 1 291.9 397.9M292.7 397.6L297.4 413.5M291.9 397.9L295.5 410.5M295.8 410.4A158.6 158.6 0 0 1 295.1 410.6M295.8 410.4L296.7 413.7M295.1 410.6L296.1 413.9M288 388.4L294.8 413.1M295.1 413A160.9 160.9 0 0 1 294.5 413.2M295.1 413L295.4 414.1M294.5 413.2L294.8 414.2M274.2 344.5L286.1 391.1M286.9 390.9A137.4 137.4 0 0 1 285.3 391.3M286.9 390.9L288.2 395.6M288.7 395.4A142.3 142.3 0 0 1 287.6 395.7M288.7 395.4L291.4 405.4M291.7 405.3A152.5 152.5 0 0 1 291.1 405.4M291.7 405.3L294.1 414.4M291.1 405.4L293.5 414.6M287.6 395.7L290.9 408.8M291.3 408.7A155.7 155.7 0 0 1 290.6 408.8M291.3 408.7L292.8 414.8M290.6 408.8L292.2 414.9M285.3 391.3L287.8 401.5M288.1 401.5A147.9 147.9 0 0 1 287.5 401.6M288.1 401.5L291.5 415.1M287.5 401.6L290.9 415.3M265.8 344.1L265.9 344.4M267.8 344.1A87.6 87.6 0 0 1 264 344.7M267.8 344.1L267.8 344.5M269.2 344.2A87.9 87.9 0 0 1 266.5 344.7M269.2 344.2L277.8 387.3M279.6 386.9A131.8 131.8 0 0 1 275.9 387.6M279.6 386.9L279.7 387.4M281.4 387A132.3 132.3 0 0 1 278 387.7M281.4 387L282.1 389.7M283.2 389.5A135.1 135.1 0 0 1 280.9 390M283.2 389.5L286.1 401.4M286.8 401.2A147.4 147.4 0 0 1 285.3 401.6M286.8 401.2L290.2 415.4M285.3 401.6L286.8 408.1M287.5 408A154.1 154.1 0 0 1 286.2 408.3M287.5 408L289.1 415.1M289.4 415A161.4 161.4 0 0 1 288.8 415.1M289.4 415L289.6 415.6M288.8 415.1L288.9 415.7M286.2 408.3L287.9 415.6M288.2 415.5A161.6 161.6 0 0 1 287.5 415.6M288.2 415.5L288.3 415.9M287.5 415.6L287.6 416M280.9 390L284.1 404.5M284.4 404.5A150 150 0 0 1 283.8 404.6M284.4 404.5L287 416.2M283.8 404.6L286.3 416.3M278 387.7L280.7 401.1M281.6 400.9A145.9 145.9 0 0 1 279.8 401.2M281.6 400.9L282 403M282.5 402.9A148.1 148.1 0 0 1 281.6 403.1M282.5 402.9L285.2 415.8M285.5 415.7A161.2 161.2 0 0 1 284.8 415.8M285.5 415.7L285.7 416.5M284.8 415.8L285 416.6M281.6 403.1L284.3 416.7M279.8 401.2L280.6 405.5M281.1 405.4A150.2 150.2 0 0 1 280.2 405.6M281.1 405.4L282.4 411.9M282.7 411.8A156.8 156.8 0 0 1 282 411.9M282.7 411.8L283.7 416.9M282 411.9L283 417M280.2 405.6L282.4 417.1M275.9 387.6L280.8 414M281.1 413.9A158.6 158.6 0 0 1 280.4 414M281.1 413.9L281.7 417.3M280.4 414L281 417.4M266.5 344.7L273.6 387.1M274.3 387A130.9 130.9 0 0 1 272.8 387.3M274.3 387L275.7 394.8M276.3 394.7A138.8 138.8 0 0 1 275.1 394.9M276.3 394.7L280.4 417.5M275.1 394.9L275.4 397.2M275.9 397.1A141.2 141.2 0 0 1 275 397.3M275.9 397.1L276 398M276.3 397.9A142 142 0 0 1 275.7 398M276.3 397.9L279.7 417.6M275.7 398L279.1 417.7M275 397.3L278.4 417.8M272.8 387.3L277.7 417.9M264 344.7L271.6 399.5M273 399.3A142.9 142.9 0 0 1 270.3 399.7M273 399.3L273 399.5M274.1 399.3A143 143 0 0 1 271.8 399.6M274.1 399.3L277.1 418M271.8 399.6L272.3 403.2M273 403.1A146.6 146.6 0 0 1 271.7 403.3M273 403.1L273.4 406.1M274.1 406A149.6 149.6 0 0 1 272.7 406.2M274.1 406L274.8 411M275.3 410.9A154.7 154.7 0 0 1 274.4 411.1M275.3 410.9L276.4 418.1M274.4 411.1L274.4 411.1M274.7 411.1A154.8 154.8 0 0 1 274.1 411.2M274.7 411.1L275.7 418.2M274.1 411.2L275.1 418.3M272.7 406.2L274.4 418.4M271.7 403.3L273.8 418.5M270.3 399.7L272.4 415.6M272.7 415.6A158.9 158.9 0 0 1 272 415.7M272.7 415.6L273.1 418.6M272 415.7L272.4 418.7M261.5 337.4L265.3 369.2M265.7 369.1A112 112 0 0 1 265 369.2M265.7 369.1L271.8 418.8M265 369.2L265 369.4M265.2 369.4A112.2 112.2 0 0 1 264.8 369.5M265.2 369.4L271.1 418.9M264.8 369.5L270.4 418.9M252.3 328L252.3 333M257.4 332.8A75 75 0 0 1 247.3 332.9M257.4 332.8L257.4 333.2M259.9 333A75.4 75.4 0 0 1 255 333.4M259.9 333L266.7 398.2M267.2 398.2A141 141 0 0 1 266.3 398.3M267.2 398.2L269 415.3M269.3 415.3A158.2 158.2 0 0 1 268.7 415.3M269.3 415.3L269.8 419M268.7 415.3L269.1 419.1M266.3 398.3L268.4 419.2M255 333.4L255.3 340.3M257.1 340.2A82.3 82.3 0 0 1 253.4 340.3M257.1 340.2L257.2 340.6M258.3 340.5A82.7 82.7 0 0 1 256 340.6M258.3 340.5L258.3 340.9M259.2 340.8A83.1 83.1 0 0 1 257.5 340.9M259.2 340.8L264 396.3M265.2 396.2A138.9 138.9 0 0 1 262.8 396.4M265.2 396.2L266.6 410.9M266.9 410.9A153.6 153.6 0 0 1 266.3 410.9M266.9 410.9L267.8 419.2M266.3 410.9L267.1 419.3M262.8 396.4L262.8 397.1M263.6 397.1A139.5 139.5 0 0 1 262.1 397.2M263.6 397.1L263.8 400.2M264.4 400.2A142.7 142.7 0 0 1 263.2 400.3M264.4 400.2L264.8 404.3M265.1 404.3A146.8 146.8 0 0 1 264.5 404.3M265.1 404.3L266.4 419.4M264.5 404.3L265.7 419.4M263.2 400.3L264.3 413.3M264.6 413.2A155.8 155.8 0 0 1 263.9 413.3M264.6 413.2L265.1 419.5M263.9 413.3L264.4 419.5M262.1 397.2L263.7 419.6M257.5 340.9L259.4 370M259.7 369.9A112.2 112.2 0 0 1 259.2 370M259.7 369.9L263.1 419.6M259.2 370L262.4 419.7M256 340.6L256 341M256.8 341A83.1 83.1 0 0 1 255.3 341.1M256.8 341L258.1 363.1M258.3 363.1A105.3 105.3 0 0 1 257.9 363.1M258.3 363.1L261.7 419.7M257.9 363.1L261.1 419.7M255.3 341.1L255.7 352M256.7 352A94.1 94.1 0 0 1 254.7 352.1M256.7 352L256.7 352.3M256.9 352.3A94.5 94.5 0 0 1 256.5 352.3M256.9 352.3L260.4 419.8M256.5 352.3L259.7 419.8M254.7 352.1L256.2 405.5M257.1 405.5A147.6 147.6 0 0 1 255.4 405.5M257.1 405.5L257.1 405.9M258 405.8A148 148 0 0 1 256.3 405.9M258 405.8L258.2 411.4M258.7 411.4A153.5 153.5 0 0 1 257.7 411.4M258.7 411.4L259 419.8M257.7 411.4L257.8 413.7M258.1 413.7A155.8 155.8 0 0 1 257.5 413.7M258.1 413.7L258.4 419.9M257.5 413.7L257.7 419.9M256.3 405.9L256.4 409.7M256.7 409.7A151.8 151.8 0 0 1 256.1 409.7M256.7 409.7L257 419.9M256.1 409.7L256.4 419.9M255.4 405.5L255.7 420M253.4 340.3L254 376M254.2 376A118.1 118.1 0 0 1 253.7 376.1M254.2 376L255 420M253.7 376.1L254.3 420M247.3 332.9L247.2 333.3M249.3 333.4A75.4 75.4 0 0 1 245.2 333.1M249.3 333.4L249.3 333.8M250.9 333.9A75.9 75.9 0 0 1 247.7 333.7M250.9 333.9L250.8 340.7M251.8 340.7A82.7 82.7 0 0 1 249.8 340.7M251.8 340.7L251.6 391.9M253.1 391.9A133.9 133.9 0 0 1 250.2 391.9M253.1 391.9L253.3 412.3M253.6 412.3A154.3 154.3 0 0 1 253 412.3M253.6 412.3L253.7 420M253 412.3L253 420M250.2 391.9L250.1 392.9M251.1 393A135 135 0 0 1 249.2 392.9M251.1 393L251.1 393.6M251.9 393.6A135.6 135.6 0 0 1 250.3 393.6M251.9 393.6L251.9 395.2M252.3 395.2A137.2 137.2 0 0 1 251.4 395.2M252.3 395.2L252.3 420M251.4 395.2L251.4 405.4M251.7 405.4A147.4 147.4 0 0 1 251.1 405.4M251.7 405.4L251.7 420M251.1 405.4L251 420M250.3 393.6L250.2 405M250.5 405A147 147 0 0 1 249.9 405M250.5 405L250.3 420M249.9 405L249.7 420M249.2 392.9L248.6 419.8M249 419.8A161.8 161.8 0 0 1 248.3 419.8M249 419.8L249 420M248.3 419.8L248.3 420M249.8 340.7L247.6 419.9M247.7 333.7L244.1 396.3M246.2 396.4A138.5 138.5 0 0 1 242 396.1M246.2 396.4L246.1 399.1M247.3 399.1A141.2 141.2 0 0 1 244.8 399M247.3 399.1L247.1 405.7M247.4 405.8A147.8 147.8 0 0 1 246.8 405.7M247.4 405.8L247 419.9M246.8 405.7L246.3 419.9M244.8 399L244.7 402.4M245.4 402.4A144.6 144.6 0 0 1 243.9 402.4M245.4 402.4L244.9 413M245.6 413A155.2 155.2 0 0 1 244.3 413M245.6 413L245.4 418.2M245.7 418.2A160.3 160.3 0 0 1 245 418.2M245.7 418.2L245.6 419.9M245 418.2L245 419.8M244.3 413L244 418.9M244.3 418.9A161.1 161.1 0 0 1 243.7 418.8M244.3 418.9L244.3 419.8M243.7 418.8L243.6 419.8M243.9 402.4L242.9 419.7M242 396.1L241.1 408.4M242 408.4A150.8 150.8 0 0 1 240.1 408.3M242 408.4L241.9 409.5M242.6 409.5A151.8 151.8 0 0 1 241.3 409.4M242.6 409.5L242 418.4M242.4 418.4A160.7 160.7 0 0 1 241.7 418.3M242.4 418.4L242.3 419.7M241.7 418.3L241.6 419.7M241.3 409.4L240.8 416.4M241.1 416.5A158.8 158.8 0 0 1 240.5 416.4M241.1 416.5L240.9 419.6M240.5 416.4L240.3 419.6M240.1 408.3L239.8 412.3M240.1 412.3A154.8 154.8 0 0 1 239.5 412.3M240.1 412.3L239.6 419.5M239.5 412.3L238.9 419.5M245.2 333.1L238.9 403.2M239.3 403.3A145.8 145.8 0 0 1 238.4 403.2M239.3 403.3L238.8 408.7M239.2 408.8A151.3 151.3 0 0 1 238.5 408.7M239.2 408.8L238.3 419.4M238.5 408.7L237.6 419.4M238.4 403.2L236.9 419.3M242 319.2L240.7 327.1M244.3 327.6A70 70 0 0 1 237.2 326.4M244.3 327.6L242.3 346.1M242.9 346.2A88.6 88.6 0 0 1 241.6 346M242.9 346.2L238.5 389.6M238.9 389.6A132.3 132.3 0 0 1 238 389.6M238.9 389.6L236.3 414.9M236.7 414.9A157.7 157.7 0 0 1 236 414.9M236.7 414.9L236.2 419.2M236 414.9L235.6 419.2M238 389.6L234.9 419.1M241.6 346L235.7 395.9M236.5 396A138.9 138.9 0 0 1 234.9 395.8M236.5 396L235.7 402.8M236 402.9A145.8 145.8 0 0 1 235.4 402.8M236 402.9L234.2 419M235.4 402.8L233.6 418.9M234.9 395.8L233.8 404.5M234.3 404.6A147.6 147.6 0 0 1 233.4 404.5M234.3 404.6L234.2 405.1M234.5 405.1A148.1 148.1 0 0 1 233.9 405M234.5 405.1L232.9 418.9M233.9 405L232.2 418.8M233.4 404.5L231.6 418.7M237.2 326.4L234.6 338.3M238.2 339A82.2 82.2 0 0 1 231 337.4M238.2 339L237.6 342.5M239.6 342.8A85.8 85.8 0 0 1 235.7 342.2M239.6 342.8L230.3 406.4M231.8 406.6A150 150 0 0 1 228.7 406.2M231.8 406.6L231.6 408.2M232.3 408.3A151.6 151.6 0 0 1 230.9 408.1M232.3 408.3L230.9 418.6M230.9 408.1L230.5 410.8M231 410.9A154.3 154.3 0 0 1 230 410.7M231 410.9L230 418.1M230.3 418.2A161.6 161.6 0 0 1 229.6 418.1M230.3 418.2L230.2 418.5M229.6 418.1L229.6 418.4M230 410.7L228.9 418.3M228.7 406.2L228.2 409.6M229.2 409.8A153.5 153.5 0 0 1 227.2 409.5M229.2 409.8L229.2 409.9M229.5 410A153.6 153.6 0 0 1 228.9 409.9M229.5 410L228.3 418.2M228.9 409.9L227.6 418.1M227.2 409.5L227.1 410M227.8 410.1A154 154 0 0 1 226.4 409.9M227.8 410.1L226.9 416.2M227.2 416.2A160.1 160.1 0 0 1 226.6 416.1M227.2 416.2L226.9 418M226.6 416.1L226.3 417.9M226.4 409.9L225.6 415.1M226 415.2A159.3 159.3 0 0 1 225.1 415M226 415.2L225.6 417.8M225.1 415L224.8 416.6M225.1 416.7A161 161 0 0 1 224.5 416.6M225.1 416.7L224.9 417.7M224.5 416.6L224.3 417.6M235.7 342.2L227.6 384.3M228.5 384.5A128.7 128.7 0 0 1 226.7 384.2M228.5 384.5L228.4 384.7M229 384.8A128.8 128.8 0 0 1 227.8 384.6M229 384.8L223.7 414M224.2 414.1A158.6 158.6 0 0 1 223.2 413.9M224.2 414.1L223.6 417.5M223.2 413.9L223 415.2M223.3 415.3A159.9 159.9 0 0 1 222.7 415.2M223.3 415.3L223 417.4M222.7 415.2L222.3 417.3M227.8 384.6L221.6 417.1M226.7 384.2L226.5 385M227.2 385.2A129.6 129.6 0 0 1 225.9 384.9M227.2 385.2L221 417M225.9 384.9L225.5 386.8M226 386.9A131.5 131.5 0 0 1 224.9 386.7M226 386.9L223.8 397.8M224.1 397.8A142.6 142.6 0 0 1 223.5 397.7M224.1 397.8L220.3 416.9M223.5 397.7L219.7 416.7M224.9 386.7L221.3 404M221.6 404A149.2 149.2 0 0 1 221 403.9M221.6 404L219 416.6M221 403.9L218.3 416.5M231 337.4L213.8 402.4M215 402.7A149.3 149.3 0 0 1 212.6 402M215 402.7L215 402.7M216.6 403.1A149.3 149.3 0 0 1 213.4 402.3M216.6 403.1L216.6 403.1M218.3 403.5A149.4 149.4 0 0 1 214.9 402.7M218.3 403.5L218.3 403.5M219.1 403.7A149.4 149.4 0 0 1 217.5 403.3M219.1 403.7L218.7 405.2M219.3 405.3A150.9 150.9 0 0 1 218.2 405M219.3 405.3L219.2 405.7M219.6 405.8A151.3 151.3 0 0 1 218.7 405.6M219.6 405.8L219.2 407.9M219.5 407.9A153.4 153.4 0 0 1 218.9 407.8M219.5 407.9L217.7 416.3M218.9 407.8L217 416.2M218.7 405.6L216.4 416M218.2 405L215.7 415.9M217.5 403.3L217.4 403.7M217.9 403.8A149.7 149.7 0 0 1 217 403.6M217.9 403.8L215.1 415.7M217 403.6L215.8 408.3M216.1 408.3A154.5 154.5 0 0 1 215.5 408.2M216.1 408.3L214.4 415.6M215.5 408.2L213.8 415.4M214.9 402.7L214.8 402.7M215.4 402.9A149.4 149.4 0 0 1 214.3 402.6M215.4 402.9L215 404.5M215.4 404.6A151.1 151.1 0 0 1 214.5 404.4M215.4 404.6L215.1 405.8M215.4 405.9A152.3 152.3 0 0 1 214.8 405.7M215.4 405.9L213.1 415.3M214.8 405.7L212.5 415.1M214.5 404.4L211.8 414.9M214.3 402.6L211.2 414.8M213.4 402.3L211.3 410.5M211.6 410.6A157.8 157.8 0 0 1 210.9 410.4M211.6 410.6L210.5 414.6M210.9 410.4L209.9 414.4M212.6 402L209.2 414.2M231.3 316.4L225.3 333.4M228.7 334.5A80 80 0 0 1 221.9 332.1M228.7 334.5L208.9 399.9M211.9 400.8A148.3 148.3 0 0 1 205.8 399M211.9 400.8L211.4 402.9M211.7 402.9A150.4 150.4 0 0 1 211.1 402.8M211.7 402.9L208.6 414.1M211.1 402.8L207.9 413.9M205.8 399L205.8 399M207.6 399.5A148.3 148.3 0 0 1 204 398.4M207.6 399.5L207.5 399.7M209.7 400.4A148.5 148.5 0 0 1 205.4 399M209.7 400.4L209.5 401.1M210.5 401.4A149.3 149.3 0 0 1 208.5 400.8M210.5 401.4L209.2 406M209.5 406.1A154 154 0 0 1 208.9 405.9M209.5 406.1L207.3 413.7M208.9 405.9L206.6 413.5M208.5 400.8L208.3 401.5M209.4 401.8A150 150 0 0 1 207.2 401.2M209.4 401.8L206 413.3M207.2 401.2L207 401.7M207.7 401.9A150.6 150.6 0 0 1 206.2 401.5M207.7 401.9L206.7 405.3M207.3 405.5A154.1 154.1 0 0 1 206.1 405.1M207.3 405.5L207.1 406.2M207.4 406.3A154.8 154.8 0 0 1 206.8 406.1M207.4 406.3L205.3 413.1M206.8 406.1L204.7 412.9M206.1 405.1L204.3 410.7M204.7 410.8A160 160 0 0 1 204 410.6M204.7 410.8L204.1 412.7M204 410.6L203.4 412.5M206.2 401.5L202.8 412.3M205.4 399L204.1 402.9M204.7 403A152.6 152.6 0 0 1 203.5 402.7M204.7 403L204.2 404.6M204.5 404.7A154.2 154.2 0 0 1 203.9 404.5M204.5 404.7L202.1 412.1M203.9 404.5L201.5 411.9M203.5 402.7L202.9 404.5M203.2 404.6A154.6 154.6 0 0 1 202.6 404.4M203.2 404.6L200.9 411.7M202.6 404.4L200.2 411.5M204 398.4L199.6 411.3M221.9 332.1L221.8 332.5M223.8 333.3A80.4 80.4 0 0 1 219.7 331.6M223.8 333.3L199.8 397.7M201.7 398.4A149.1 149.1 0 0 1 197.8 396.9M201.7 398.4L201.7 398.5M202.6 398.8A149.2 149.2 0 0 1 200.8 398.2M202.6 398.8L202.6 399M203.1 399.2A149.4 149.4 0 0 1 202 398.8M203.1 399.2L198.9 411.1M202 398.8L200.8 402.3M201.3 402.5A153.1 153.1 0 0 1 200.4 402.1M201.3 402.5L198.3 410.8M200.4 402.1L197.8 409.3M198.1 409.4A160.7 160.7 0 0 1 197.5 409.1M198.1 409.4L197.7 410.6M197.5 409.1L197 410.4M200.8 398.2L196.4 410.2M197.8 396.9L197.8 396.9M198.8 397.3A149.1 149.1 0 0 1 196.8 396.5M198.8 397.3L198.1 399.2M199.1 399.6A151.2 151.2 0 0 1 197.1 398.8M199.1 399.6L197.6 403.6M198.1 403.7A155.4 155.4 0 0 1 197.2 403.4M198.1 403.7L195.8 409.9M197.2 403.4L196.4 405.4M196.7 405.5A157.5 157.5 0 0 1 196.1 405.3M196.7 405.5L195.2 409.7M196.1 405.3L194.5 409.5M197.1 398.8L195.1 403.9M195.5 404.1A156.6 156.6 0 0 1 194.6 403.7M195.5 404.1L194.2 407.6M194.5 407.7A160.4 160.4 0 0 1 193.9 407.5M194.5 407.7L193.9 409.2M193.9 407.5L193.3 409M194.6 403.7L192.7 408.7M196.8 396.5L192 408.5M219.7 331.6L213.4 346.1M215.2 346.9A96.2 96.2 0 0 1 211.5 345.3M215.2 346.9L211.5 356M212 356.2A106 106 0 0 1 210.9 355.7M212 356.2L204.7 374.4M205 374.5A125.6 125.6 0 0 1 204.3 374.2M205 374.5L191.4 408.2M204.3 374.2L198 389.6M198.2 389.7A142.2 142.2 0 0 1 197.7 389.5M198.2 389.7L190.8 408M197.7 389.5L190.2 407.7M210.9 355.7L201 379.3M201.3 379.4A131.6 131.6 0 0 1 200.8 379.2M201.3 379.4L189.5 407.5M200.8 379.2L188.9 407.2M211.5 345.3L211.2 345.9M213.2 346.9A96.9 96.9 0 0 1 209.1 345M213.2 346.9L196.5 385.2M197.4 385.6A138.8 138.8 0 0 1 195.6 384.8M197.4 385.6L188.3 407M195.6 384.8L195.4 385.3M196.2 385.7A139.3 139.3 0 0 1 194.6 384.9M196.2 385.7L192.9 393.3M193.4 393.5A147.6 147.6 0 0 1 192.4 393.1M193.4 393.5L187.7 406.7M192.4 393.1L190.9 396.4M191.4 396.6A151.3 151.3 0 0 1 190.5 396.3M191.4 396.6L187.1 406.4M190.5 396.3L187.4 403.3M187.7 403.4A159 159 0 0 1 187.1 403.1M187.7 403.4L186.5 406.1M187.1 403.1L185.8 405.9M194.6 384.9L185.2 405.6M209.1 345L209 345.3M210.1 345.8A97.3 97.3 0 0 1 207.9 344.7M210.1 345.8L189.1 390M190.4 390.6A146.2 146.2 0 0 1 187.8 389.4M190.4 390.6L189.6 392.2M190.2 392.5A148 148 0 0 1 189.1 391.9M190.2 392.5L189.8 393.2M190.1 393.3A148.8 148.8 0 0 1 189.5 393.1M190.1 393.3L184.6 405.3M189.5 393.1L184 405M189.1 391.9L185 400.5M185.3 400.6A157.4 157.4 0 0 1 184.7 400.4M185.3 400.6L183.4 404.8M184.7 400.4L182.8 404.5M187.8 389.4L187.7 389.6M188.2 389.8A146.5 146.5 0 0 1 187.2 389.4M188.2 389.8L187.5 391.3M187.9 391.5A148.1 148.1 0 0 1 187.1 391.1M187.9 391.5L187.6 392.2M187.8 392.3A148.9 148.9 0 0 1 187.3 392.1M187.8 392.3L182.2 404.2M187.3 392.1L181.6 403.9M187.1 391.1L181 403.6M187.2 389.4L180.4 403.3M207.9 344.7L184 391.6M184.5 391.9A149.9 149.9 0 0 1 183.5 391.4M184.5 391.9L183.4 394M183.8 394.2A152.3 152.3 0 0 1 183 393.8M183.8 394.2L179.5 402.8M179.8 403A162 162 0 0 1 179.2 402.7M179.8 403L179.8 403M179.2 402.7L179.2 402.7M183 393.8L178.6 402.4M183.5 391.4L178 402.1M214.8 307.6L198 330M203.5 333.8A90 90 0 0 1 192.9 325.8M203.5 333.8L203.3 334.1M207.3 336.5A90.4 90.4 0 0 1 199.4 331.5M207.3 336.5L203.6 342.9M205.7 344.1A97.7 97.7 0 0 1 201.6 341.7M205.7 344.1L182 387.9M183.2 388.5A147.5 147.5 0 0 1 180.9 387.3M183.2 388.5L183.2 388.5M183.8 388.8A147.5 147.5 0 0 1 182.7 388.2M183.8 388.8L183.3 389.8M183.5 389.9A148.7 148.7 0 0 1 183 389.7M183.5 389.9L177.4 401.8M183 389.7L176.8 401.5M182.7 388.2L177 398.9M177.3 399.1A159.6 159.6 0 0 1 176.7 398.8M177.3 399.1L176.2 401.2M176.7 398.8L175.6 400.9M180.9 387.3L180.9 387.3M181.9 387.8A147.6 147.6 0 0 1 179.9 386.7M181.9 387.8L175 400.5M179.9 386.7L179.7 387M180.4 387.3A147.8 147.8 0 0 1 179.1 386.6M180.4 387.3L176.3 394.8M176.8 395.1A156.3 156.3 0 0 1 175.7 394.5M176.8 395.1L174.2 399.9M174.5 400.1A161.8 161.8 0 0 1 173.9 399.7M174.5 400.1L174.4 400.2M173.9 399.7L173.8 399.9M175.7 394.5L175.1 395.5M175.4 395.7A157.6 157.6 0 0 1 174.8 395.4M175.4 395.7L173.2 399.6M174.8 395.4L172.7 399.2M179.1 386.6L172.1 398.9M201.6 341.7L176 384.3M177.9 385.4A147.4 147.4 0 0 1 174.1 383.2M177.9 385.4L177.8 385.6M178.4 386A147.6 147.6 0 0 1 177.2 385.3M178.4 386L173.7 394.1M174 394.2A157 157 0 0 1 173.4 393.9M174 394.2L171.5 398.6M173.4 393.9L170.9 398.2M177.2 385.3L174.1 390.5M174.5 390.7A153.7 153.7 0 0 1 173.7 390.3M174.5 390.7L170.3 397.9M173.7 390.3L170 396.5M170.3 396.7A161 161 0 0 1 169.7 396.3M170.3 396.7L169.7 397.6M169.7 396.3L169.2 397.2M174.1 383.2L173.1 384.8M174.2 385.5A149.4 149.4 0 0 1 171.9 384.1M174.2 385.5L173.9 386.1M174.5 386.5A150 150 0 0 1 173.2 385.7M174.5 386.5L172.7 389.5M172.9 389.6A153.5 153.5 0 0 1 172.4 389.3M172.9 389.6L168.6 396.9M172.4 389.3L168 396.5M173.2 385.7L172.2 387.4M172.6 387.7A152 152 0 0 1 171.7 387.1M172.6 387.7L167.4 396.2M171.7 387.1L168.6 392.1M169 392.4A158 158 0 0 1 168.2 391.9M169 392.4L166.9 395.8M168.2 391.9L167.6 392.8M167.8 393A159.1 159.1 0 0 1 167.3 392.7M167.8 393L166.3 395.5M167.3 392.7L165.7 395.1M171.9 384.1L165.2 394.8M199.4 331.5L199.2 331.8M202.1 333.7A90.7 90.7 0 0 1 196.4 329.7M202.1 333.7L175.7 373.7M176.8 374.5A138.6 138.6 0 0 1 174.5 373M176.8 374.5L172.7 380.9M173.1 381.1A146.3 146.3 0 0 1 172.3 380.6M173.1 381.1L164.6 394.4M172.3 380.6L164.9 392.1M165.1 392.3A160 160 0 0 1 164.6 392M165.1 392.3L164 394M164.6 392L163.5 393.7M174.5 373L174.4 373.2M175.6 374A138.9 138.9 0 0 1 173.2 372.3M175.6 374L162.9 393.3M173.2 372.3L172.9 372.7M174.1 373.4A139.3 139.3 0 0 1 171.8 371.9M174.1 373.4L173.3 374.5M174 374.9A140.6 140.6 0 0 1 172.7 374.1M174 374.9L168.3 383.3M168.6 383.5A150.7 150.7 0 0 1 168.1 383.2M168.6 383.5L162.3 392.9M168.1 383.2L161.8 392.6M172.7 374.1L172.3 374.6M172.9 375A141.2 141.2 0 0 1 171.8 374.2M172.9 375L161.2 392.2M171.8 374.2L166.9 381.4M167.2 381.6A149.9 149.9 0 0 1 166.5 381.1M167.2 381.6L165.1 384.7M165.4 384.9A153.6 153.6 0 0 1 164.9 384.5M165.4 384.9L160.7 391.8M164.9 384.5L160.1 391.4M166.5 381.1L159.6 391M171.8 371.9L171.2 372.7M171.5 372.9A140.3 140.3 0 0 1 171 372.6M171.5 372.9L159 390.7M171 372.6L158.5 390.3M196.4 329.7L196.2 330M198.1 331.4A91.1 91.1 0 0 1 194.3 328.5M198.1 331.4L165.9 375.4M167 376.2A145.6 145.6 0 0 1 164.8 374.6M167 376.2L164.3 380M164.7 380.4A150.3 150.3 0 0 1 163.8 379.7M164.7 380.4L157.9 389.9M163.8 379.7L161.4 383M161.8 383.3A154.4 154.4 0 0 1 161 382.7M161.8 383.3L157.4 389.5M161 382.7L158.5 386.3M158.8 386.4A158.7 158.7 0 0 1 158.2 386.1M158.8 386.4L156.8 389.1M158.2 386.1L156.3 388.7M164.8 374.6L164.8 374.6M165.5 375.1A145.6 145.6 0 0 1 164 374M165.5 375.1L155.7 388.3M164 374L163.8 374.3M164.5 374.9A146 146 0 0 1 163.1 373.8M164.5 374.9L156.5 385.6M156.8 385.8A159.4 159.4 0 0 1 156.3 385.4M156.8 385.8L155.2 387.9M156.3 385.4L154.7 387.5M163.1 373.8L157.1 381.5M157.9 382.1A155.7 155.7 0 0 1 156.3 380.8M157.9 382.1L154.1 387.1M156.3 380.8L154.8 382.8M155.3 383.1A158.1 158.1 0 0 1 154.4 382.4M155.3 383.1L153.3 385.7M153.7 386A161.3 161.3 0 0 1 152.9 385.4M153.7 386L153.4 386.4M153.7 386.6A161.9 161.9 0 0 1 153.1 386.2M153.7 386.6L153.6 386.7M153.1 386.2L153.1 386.3M152.9 385.4L152.5 385.9M154.4 382.4L152 385.5M194.3 328.5L160.8 369.4M162.1 370.4A144 144 0 0 1 159.4 368.3M162.1 370.4L159.6 373.6M159.9 373.9A148 148 0 0 1 159.2 373.3M159.9 373.9L155.1 380M155.3 380.2A155.8 155.8 0 0 1 154.8 379.8M155.3 380.2L151.5 385M154.8 379.8L151 384.6M159.2 373.3L150.4 384.2M159.4 368.3L157.8 370.2M159 371.2A146.5 146.5 0 0 1 156.7 369.2M159 371.2L154 377.3M154.7 377.8A154.3 154.3 0 0 1 153.3 376.7M154.7 377.8L149.9 383.8M153.3 376.7L151.5 378.9M152.2 379.4A157.2 157.2 0 0 1 150.8 378.3M152.2 379.4L149.5 382.8M149.7 383A161.5 161.5 0 0 1 149.2 382.5M149.7 383L149.4 383.4M149.2 382.5L148.9 382.9M150.8 378.3L148.7 380.8M149.1 381.1A160.4 160.4 0 0 1 148.3 380.4M149.1 381.1L148.4 382M148.6 382.2A161.6 161.6 0 0 1 148.1 381.8M148.6 382.2L148.4 382.5M148.1 381.8L147.8 382.1M148.3 380.4L147.3 381.6M156.7 369.2L152.7 373.9M152.9 374.1A152.6 152.6 0 0 1 152.4 373.7M152.9 374.1L146.8 381.2M152.4 373.7L146.3 380.8M192.9 325.8L189.4 329.8M189.5 330A95.3 95.3 0 0 1 189.2 329.7M189.5 330L145.8 380.3M189.2 329.7L145.3 379.9M207.5 295.1L202.8 299M206.8 303.3A64 64 0 0 1 199.3 294.4M206.8 303.3L197.9 312.1M200.4 314.5A76.5 76.5 0 0 1 195.6 309.6M200.4 314.5L200.1 314.8M200.9 315.5A76.9 76.9 0 0 1 199.4 314.1M200.9 315.5L194.1 323.2M194.3 323.4A87.2 87.2 0 0 1 193.9 323M194.3 323.4L144.8 379.4M193.9 323L184.7 333.3M184.9 333.4A100.9 100.9 0 0 1 184.6 333.1M184.9 333.4L144.3 379M184.6 333.1L143.8 378.6M199.4 314.1L159.2 356.8M160.1 357.7A135.6 135.6 0 0 1 158.4 356M160.1 357.7L159.6 358.2M160.3 358.9A136.3 136.3 0 0 1 158.9 357.6M160.3 358.9L158.5 360.9M158.7 361.1A139 139 0 0 1 158.3 360.7M158.7 361.1L143.3 378.1M158.3 360.7L142.8 377.7M158.9 357.6L156.5 360.2M157 360.6A139.9 139.9 0 0 1 156 359.7M157 360.6L154.5 363.2M154.9 363.5A143.4 143.4 0 0 1 154.2 362.9M154.9 363.5L142.3 377.2M154.2 362.9L153.9 363.3M154.1 363.5A143.9 143.9 0 0 1 153.7 363.1M154.1 363.5L141.8 376.7M153.7 363.1L141.3 376.3M156 359.7L140.8 375.8M158.4 356L141.5 373.6M141.8 373.9A159.9 159.9 0 0 1 141.3 373.4M141.8 373.9L140.3 375.4M141.3 373.4L139.8 374.9M195.6 309.6L187.6 316.9M189.5 318.9A87.2 87.2 0 0 1 185.8 314.8M189.5 318.9L149.1 358.3M151.4 360.7A143.7 143.7 0 0 1 146.8 356M151.4 360.7L144.8 367.4M145.5 368.1A153.1 153.1 0 0 1 144.1 366.7M145.5 368.1L139.4 374.4M144.1 366.7L143 367.8M143.6 368.5A154.8 154.8 0 0 1 142.3 367.2M143.6 368.5L142.1 370M142.4 370.4A157 157 0 0 1 141.7 369.7M142.4 370.4L138.9 374M141.7 369.7L140.1 371.3M140.3 371.5A159.3 159.3 0 0 1 139.9 371.1M140.3 371.5L138.4 373.5M139.9 371.1L137.9 373M142.3 367.2L138.4 371.1M138.6 371.4A160.3 160.3 0 0 1 138.2 370.9M138.6 371.4L137.4 372.6M138.2 370.9L137 372.1M146.8 356L145.4 357.2M146 357.9A145.6 145.6 0 0 1 144.9 356.6M146 357.9L145.9 358M146.7 358.8A145.7 145.7 0 0 1 145.2 357.1M146.7 358.8L146.1 359.4M147 360.4A146.6 146.6 0 0 1 145.1 358.4M147 360.4L145.5 361.8M146 362.3A148.7 148.7 0 0 1 145.1 361.3M146 362.3L136.5 371.6M145.1 361.3L142.2 364.1M142.7 364.6A152.7 152.7 0 0 1 141.7 363.6M142.7 364.6L136 371.1M141.7 363.6L138 367.1M138.3 367.5A157.8 157.8 0 0 1 137.7 366.8M138.3 367.5L138.2 367.6M138.4 367.9A158 158 0 0 1 138 367.4M138.4 367.9L135.6 370.6M138 367.4L135.1 370.2M137.7 366.8L134.6 369.7M145.1 358.4L134.9 368.1M135.1 368.3A160.7 160.7 0 0 1 134.6 367.8M135.1 368.3L134.2 369.2M134.6 367.8L133.7 368.7M145.2 357.1L133.3 368.2M144.9 356.6L132.8 367.7M185.8 314.8L185.5 315.1M186.6 316.3A87.6 87.6 0 0 1 184.5 313.8M186.6 316.3L176.7 325M177.2 325.5A100.8 100.8 0 0 1 176.3 324.5M177.2 325.5L144 355.3M144.4 355.8A145.4 145.4 0 0 1 143.6 354.9M144.4 355.8L143.8 356.3M144 356.5A146.2 146.2 0 0 1 143.6 356.1M144 356.5L132.3 367.2M143.6 356.1L131.9 366.7M143.6 354.9L142.5 355.8M142.7 356.1A146.8 146.8 0 0 1 142.3 355.6M142.7 356.1L131.4 366.2M142.3 355.6L131 365.7M176.3 324.5L155.7 342.7M155.9 342.9A128.2 128.2 0 0 1 155.5 342.5M155.9 342.9L130.6 365.2M155.5 342.5L130.1 364.7M184.5 313.8L162.9 331.7M163.6 332.6A115.6 115.6 0 0 1 162.1 330.8M163.6 332.6L140.9 351.8M141.6 352.6A145.4 145.4 0 0 1 140.1 350.9M141.6 352.6L141 353.2M141.4 353.6A146.2 146.2 0 0 1 140.6 352.7M141.4 353.6L130.1 363.3M130.4 363.6A161.1 161.1 0 0 1 129.9 363.1M130.4 363.6L129.7 364.2M129.9 363.1L129.2 363.7M140.6 352.7L130 361.7M130.2 362A160.2 160.2 0 0 1 129.8 361.5M130.2 362L128.8 363.2M129.8 361.5L128.4 362.7M140.1 350.9L138.4 352.3M138.7 352.7A147.6 147.6 0 0 1 138.1 352M138.7 352.7L129.8 360.1M130.1 360.4A159.2 159.2 0 0 1 129.6 359.9M130.1 360.4L127.9 362.2M129.6 359.9L127.5 361.6M138.1 352L127.1 361.1M162.1 330.8L135.6 352.3M135.9 352.6A149.8 149.8 0 0 1 135.3 351.9M135.9 352.6L129 358.2M129.2 358.5A158.7 158.7 0 0 1 128.8 358M129.2 358.5L126.6 360.6M128.8 358L126.2 360.1M135.3 351.9L125.8 359.6M199.3 294.4L190.1 300.8M190.6 301.6A75.3 75.3 0 0 1 189.5 299.9M190.6 301.6L169.5 316.6M170.5 318A101.2 101.2 0 0 1 168.5 315.2M170.5 318L131.5 346.7M132.7 348.3A149.6 149.6 0 0 1 130.3 345.1M132.7 348.3L132.5 348.5M133.4 349.7A150 150 0 0 1 131.6 347.3M133.4 349.7L133 350M133.9 351.1A150.4 150.4 0 0 1 132.1 348.9M133.9 351.1L132.4 352.3M133 353A152.3 152.3 0 0 1 131.8 351.6M133 353L125.4 359M131.8 351.6L131.6 351.7M132.1 352.4A152.6 152.6 0 0 1 131.1 351.1M132.1 352.4L131.5 353M131.7 353.2A153.4 153.4 0 0 1 131.3 352.7M131.7 353.2L125 358.5M131.3 352.7L124.5 358M131.1 351.1L125.7 355.2M126 355.5A159.3 159.3 0 0 1 125.4 354.8M126 355.5L125 356.4M125.2 356.6A160.7 160.7 0 0 1 124.8 356.1M125.2 356.6L124.1 357.5M124.8 356.1L123.7 356.9M125.4 354.8L123.3 356.4M132.1 348.9L122.9 355.9M131.6 347.3L128.9 349.3M129.3 349.8A153.2 153.2 0 0 1 128.5 348.8M129.3 349.8L126.7 351.7M126.9 352A156.5 156.5 0 0 1 126.5 351.5M126.9 352L122.5 355.3M126.5 351.5L122.1 354.8M128.5 348.8L123.6 352.4M123.8 352.7A159.4 159.4 0 0 1 123.4 352.2M123.8 352.7L121.7 354.3M123.4 352.2L121.3 353.7M130.3 345.1L130.3 345.1M130.9 345.9A149.6 149.6 0 0 1 129.8 344.3M130.9 345.9L120.9 353.2M129.8 344.3L125.4 347.4M125.8 347.8A154.9 154.9 0 0 1 125.1 346.9M125.8 347.8L124.2 348.9M124.5 349.3A156.8 156.8 0 0 1 123.9 348.6M124.5 349.3L122.7 350.7M122.8 350.9A159.1 159.1 0 0 1 122.5 350.4M122.8 350.9L120.5 352.6M122.5 350.4L120.1 352.1M123.9 348.6L119.7 351.5M125.1 346.9L119.3 351M168.5 315.2L162 319.7M162.3 320.1A109.1 109.1 0 0 1 161.8 319.3M162.3 320.1L147.6 330.2M147.7 330.4A126.9 126.9 0 0 1 147.4 330M147.7 330.4L119 350.4M147.4 330L118.6 349.9M161.8 319.3L132.4 339.3M132.5 339.5A144.6 144.6 0 0 1 132.2 339M132.5 339.5L118.2 349.3M132.2 339L117.8 348.8M189.5 299.9L117.4 348.2M200.6 284.9L190 290.5M192.2 294.3A70 70 0 0 1 188 286.4M192.2 294.3L180.1 301.7M181.2 303.4A84.2 84.2 0 0 1 179 299.9M181.2 303.4L167.4 312.2M168 313.2A100.5 100.5 0 0 1 166.8 311.3M168 313.2L136.6 333.8M136.8 334.2A138.1 138.1 0 0 1 136.4 333.5M136.8 334.2L118.5 346.3M118.7 346.6A160 160 0 0 1 118.3 346M118.7 346.6L117.1 347.7M118.3 346L116.7 347.1M136.4 333.5L116.3 346.5M166.8 311.3L127.6 335.8M128.3 337.1A146.8 146.8 0 0 1 126.8 334.6M128.3 337.1L128.2 337.1M128.5 337.5A146.9 146.9 0 0 1 128 336.7M128.5 337.5L120.8 342.5M121 342.7A156.1 156.1 0 0 1 120.6 342.2M121 342.7L116 346M120.6 342.2L115.6 345.4M128 336.7L115.2 344.8M126.8 334.6L126.3 334.9M126.6 335.3A147.3 147.3 0 0 1 126 334.4M126.6 335.3L124 337M124.3 337.4A150.4 150.4 0 0 1 123.7 336.5M124.3 337.4L118.2 341.2M118.5 341.6A157.5 157.5 0 0 1 118 340.8M118.5 341.6L117.5 342.2M117.7 342.5A158.7 158.7 0 0 1 117.3 341.9M117.7 342.5L114.9 344.3M117.3 341.9L114.5 343.7M118 340.8L114.2 343.1M123.7 336.5L113.8 342.6M126 334.4L113.5 342M179 299.9L134.8 325.4M135.7 326.9A135.2 135.2 0 0 1 133.9 323.8M135.7 326.9L130.3 330.1M130.6 330.6A141.5 141.5 0 0 1 130 329.6M130.6 330.6L117 338.7M117.2 339A157.2 157.2 0 0 1 116.9 338.4M117.2 339L113.1 341.4M116.9 338.4L112.8 340.8M130 329.6L121.4 334.6M121.6 334.9A151.4 151.4 0 0 1 121.2 334.3M121.6 334.9L112.4 340.3M121.2 334.3L112.1 339.7M133.9 323.8L128.2 327M129.1 328.6A141.8 141.8 0 0 1 127.3 325.4M129.1 328.6L125.3 330.7M125.5 331.1A146.1 146.1 0 0 1 125.1 330.4M125.5 331.1L111.8 339.1M125.1 330.4L120.3 333.1M120.4 333.4A151.6 151.6 0 0 1 120.1 332.8M120.4 333.4L111.4 338.5M120.1 332.8L111.1 337.9M127.3 325.4L123.5 327.4M124 328.5A146.1 146.1 0 0 1 122.9 326.4M124 328.5L121.2 330.1M121.6 330.9A149.4 149.4 0 0 1 120.7 329.3M121.6 330.9L116.2 333.9M116.4 334.2A155.6 155.6 0 0 1 116 333.6M116.4 334.2L110.8 337.3M116 333.6L110.4 336.8M120.7 329.3L114.1 332.8M114.5 333.4A156.9 156.9 0 0 1 113.8 332.3M114.5 333.4L110.8 335.4M111 335.7A161 161 0 0 1 110.6 335.1M111 335.7L110.1 336.2M110.6 335.1L109.8 335.6M113.8 332.3L110.1 334.3M110.2 334.6A161.1 161.1 0 0 1 109.9 334M110.2 334.6L109.5 335M109.9 334L109.1 334.4M122.9 326.4L108.8 333.8M188 286.4L180.9 289.6M182.3 292.6A77.8 77.8 0 0 1 179.7 286.6M182.3 292.6L170.3 298.5M170.6 299.1A91.2 91.2 0 0 1 170 297.9M170.6 299.1L170.3 299.3M170.5 299.7A91.6 91.6 0 0 1 170 298.8M170.5 299.7L121.8 324.6M122.1 325.2A146.2 146.2 0 0 1 121.5 324M122.1 325.2L121.9 325.3M122.2 325.7A146.4 146.4 0 0 1 121.7 324.9M122.2 325.7L112.7 330.7M112.8 331A157.1 157.1 0 0 1 112.5 330.4M112.8 331L108.5 333.2M112.5 330.4L108.2 332.6M121.7 324.9L107.9 332M121.5 324L118.8 325.4M118.9 325.7A149.3 149.3 0 0 1 118.7 325.1M118.9 325.7L107.6 331.4M118.7 325.1L107.3 330.8M170 298.8L107 330.2M170 297.9L140 312.5M140.1 312.9A124.6 124.6 0 0 1 139.8 312.2M140.1 312.9L124.3 320.6M124.5 320.9A142.2 142.2 0 0 1 124.2 320.3M124.5 320.9L106.7 329.6M124.2 320.3L106.4 329M139.8 312.2L106.1 328.4M179.7 286.6L170.6 290.2M172.2 293.8A87.5 87.5 0 0 1 169.3 286.5M172.2 293.8L171.8 294M172.7 295.9A87.9 87.9 0 0 1 171 292.1M172.7 295.9L105.8 327.8M171 292.1L170.7 292.2M171.7 294.6A88.2 88.2 0 0 1 169.7 289.8M171.7 294.6L164 298.1M164.3 298.7A96.7 96.7 0 0 1 163.7 297.5M164.3 298.7L147.6 306.5M147.9 306.9A115.1 115.1 0 0 1 147.4 306M147.9 306.9L136.3 312.4M136.4 312.6A127.8 127.8 0 0 1 136.2 312.1M136.4 312.6L105.5 327.2M136.2 312.1L105.2 326.6M147.4 306L116.5 320.1M116.7 320.6A149.1 149.1 0 0 1 116.3 319.7M116.7 320.6L105 326M116.3 319.7L109.5 322.8M109.6 323.1A156.6 156.6 0 0 1 109.3 322.5M109.6 323.1L104.7 325.4M109.3 322.5L104.4 324.8M163.7 297.5L104.1 324.2M169.7 289.8L157.2 294.6M158.3 297.2A101.6 101.6 0 0 1 156.2 291.9M158.3 297.2L146.7 302.1M147.5 304A114.1 114.1 0 0 1 146 300.2M147.5 304L130.6 311.4M130.7 311.7A132.6 132.6 0 0 1 130.5 311.2M130.7 311.7L103.9 323.5M130.5 311.2L103.6 322.9M146 300.2L116.5 311.9M117.5 314.4A145.9 145.9 0 0 1 115.5 309.5M117.5 314.4L117.4 314.4M117.8 315.2A145.9 145.9 0 0 1 117.1 313.6M117.8 315.2L113 317.3M113.2 317.7A151.1 151.1 0 0 1 112.8 316.8M113.2 317.7L108.5 319.7M108.6 320A156.2 156.2 0 0 1 108.3 319.4M108.6 320L103.3 322.3M108.3 319.4L103 321.7M112.8 316.8L102.8 321.1M117.1 313.6L114.1 314.8M114.3 315.2A149.1 149.1 0 0 1 113.9 314.4M114.3 315.2L113.9 315.4M114.1 315.6A149.5 149.5 0 0 1 113.8 315.1M114.1 315.6L102.5 320.5M113.8 315.1L102.3 319.8M113.9 314.4L102 319.2M115.5 309.5L115.5 309.5M116 310.9A145.9 145.9 0 0 1 115 308.1M116 310.9L112.9 312.1M113.3 312.9A149.2 149.2 0 0 1 112.6 311.2M113.3 312.9L111.3 313.7M111.5 314.3A151.3 151.3 0 0 1 111.1 313.2M111.5 314.3L103.5 317.5M103.7 317.8A160 160 0 0 1 103.4 317.2M103.7 317.8L101.8 318.6M103.4 317.2L101.5 318M111.1 313.2L106.7 314.8M106.9 315.1A156 156 0 0 1 106.6 314.5M106.9 315.1L101.3 317.3M106.6 314.5L101 316.7M112.6 311.2L112.5 311.3M112.6 311.6A149.4 149.4 0 0 1 112.3 311M112.6 311.6L100.8 316.1M112.3 311L100.5 315.5M115 308.1L111 309.6M111.3 310.2A150.1 150.1 0 0 1 110.8 308.9M111.3 310.2L111 310.3M111.2 310.8A150.4 150.4 0 0 1 110.8 309.9M111.2 310.8L100.3 314.8M110.8 309.9L104.4 312.3M104.5 312.6A157.3 157.3 0 0 1 104.3 312M104.5 312.6L100.1 314.2M104.3 312L99.8 313.6M110.8 308.9L99.6 313M156.2 291.9L108.3 308.8M108.4 309.1A152.4 152.4 0 0 1 108.2 308.5M108.4 309.1L99.4 312.3M108.2 308.5L99.2 311.7M169.3 286.5L132.7 299.1M132.7 299.3A126.2 126.2 0 0 1 132.6 298.8M132.7 299.3L98.9 311.1M132.6 298.8L98.7 310.4M195.2 269.9L191.3 270.7M193.1 277.4A62 62 0 0 1 190.3 263.9M193.1 277.4L149.1 291.8M149.3 292.3A108.3 108.3 0 0 1 148.9 291.3M149.3 292.3L149 292.4M149.1 292.7A108.6 108.6 0 0 1 148.9 292.1M149.1 292.7L98.5 309.8M148.9 292.1L136.2 296.3M136.3 296.5A121.9 121.9 0 0 1 136.2 296M136.3 296.5L98.3 309.1M136.2 296L98.1 308.5M148.9 291.3L97.9 307.9M190.3 263.9L189.8 263.9M190.2 267.2A62.5 62.5 0 0 1 189.6 260.6M190.2 267.2L189.7 267.3M190.5 271.9A63 63 0 0 1 189.2 262.7M190.5 271.9L190.1 272M191.1 276.1A63.5 63.5 0 0 1 189.3 267.8M191.1 276.1L124.5 295.8M125.1 297.8A133 133 0 0 1 123.9 293.9M125.1 297.8L125 297.8M125.1 298.2A133.1 133.1 0 0 1 124.9 297.4M125.1 298.2L109.7 303.1M109.8 303.4A149.3 149.3 0 0 1 109.6 302.8M109.8 303.4L97.7 307.2M109.6 302.8L97.5 306.6M124.9 297.4L97.3 305.9M123.9 293.9L123.8 294M124.2 295.3A133.2 133.2 0 0 1 123.4 292.7M124.2 295.3L113.7 298.3M113.9 298.9A144.1 144.1 0 0 1 113.5 297.8M113.9 298.9L104.5 301.6M104.6 302.2A153.8 153.8 0 0 1 104.3 301.1M104.6 302.2L99.1 303.8M99.2 304.3A159.6 159.6 0 0 1 98.9 303.4M99.2 304.3L97.4 304.9M97.5 305.2A161.6 161.6 0 0 1 97.3 304.5M97.5 305.2L97.1 305.3M97.3 304.5L96.9 304.7M98.9 303.4L96.7 304M104.3 301.1L96.5 303.4M113.5 297.8L96.3 302.7M123.4 292.7L119.3 293.8M119.7 295.1A137.4 137.4 0 0 1 118.9 292.4M119.7 295.1L97.7 301.3M97.7 301.6A160.3 160.3 0 0 1 97.6 301M97.7 301.6L96.1 302.1M97.6 301L95.9 301.4M118.9 292.4L115 293.4M115.2 294.3A141.5 141.5 0 0 1 114.8 292.5M115.2 294.3L108.4 296.1M108.6 297A148.6 148.6 0 0 1 108.2 295.3M108.6 297L96.6 300.2M96.7 300.5A161 161 0 0 1 96.6 299.9M96.7 300.5L95.8 300.8M96.6 299.9L95.6 300.1M108.2 295.3L102.5 296.8M102.6 297.3A154.4 154.4 0 0 1 102.4 296.3M102.6 297.3L102.1 297.4M102.1 297.7A155 155 0 0 1 102 297.1M102.1 297.7L95.4 299.5M102 297.1L95.2 298.8M102.4 296.3L95.1 298.2M114.8 292.5L94.9 297.5M189.3 267.8L169.6 270.9M170.4 275.2A83.4 83.4 0 0 1 169 266.5M170.4 275.2L170 275.3M170.6 278.1A83.8 83.8 0 0 1 169.5 272.5M170.6 278.1L94.7 296.9M169.5 272.5L157 274.7M157.6 277.9A96.4 96.4 0 0 1 156.5 271.5M157.6 277.9L157.3 277.9M157.7 279.5A96.8 96.8 0 0 1 157 276.3M157.7 279.5L117 288.8M117.3 290.3A138.5 138.5 0 0 1 116.7 287.4M117.3 290.3L113.2 291.3M113.3 291.7A142.7 142.7 0 0 1 113.1 290.8M113.3 291.7L94.6 296.2M113.1 290.8L96.4 294.8M96.5 295.1A159.9 159.9 0 0 1 96.3 294.5M96.5 295.1L94.4 295.6M96.3 294.5L94.3 294.9M116.7 287.4L116.2 287.5M116.4 288.4A138.9 138.9 0 0 1 116 286.6M116.4 288.4L115.3 288.7M115.4 289.1A140.1 140.1 0 0 1 115.2 288.2M115.4 289.1L106 291.2M106.1 291.5A149.7 149.7 0 0 1 106 290.9M106.1 291.5L94.1 294.3M106 290.9L94 293.6M115.2 288.2L93.8 293M116 286.6L113.1 287.2M113.2 287.8A142 142 0 0 1 112.9 286.6M113.2 287.8L113 287.8M113.1 288.1A142.1 142.1 0 0 1 113 287.5M113.1 288.1L93.7 292.3M113 287.5L93.5 291.7M112.9 286.6L102.1 288.9M102.2 289.2A153 153 0 0 1 102 288.6M102.2 289.2L93.4 291M102 288.6L93.3 290.3M157 276.3L103.8 286.5M103.9 287.2A150.9 150.9 0 0 1 103.6 285.8M103.9 287.2L96.9 288.6M96.9 288.9A158.1 158.1 0 0 1 96.8 288.3M96.9 288.9L93.1 289.7M96.8 288.3L93 289M103.6 285.8L94.7 287.5M94.7 288A160.1 160.1 0 0 1 94.6 287M94.7 288L92.9 288.4M94.6 287L92.8 287.4M92.9 287.7A161.9 161.9 0 0 1 92.7 287M92.9 287.7L92.7 287.7M92.7 287L92.6 287M156.5 271.5L116.9 277.1M117.1 278.6A136.4 136.4 0 0 1 116.7 275.7M117.1 278.6L106.3 280.2M106.4 281.3A147.4 147.4 0 0 1 106.1 279.2M106.4 281.3L105.3 281.5M105.5 282.5A148.6 148.6 0 0 1 105.1 280.4M105.5 282.5L104.9 282.6M105.1 283.7A149.2 149.2 0 0 1 104.7 281.5M105.1 283.7L96.4 285.2M96.5 285.7A157.9 157.9 0 0 1 96.4 284.7M96.5 285.7L92.5 286.4M96.4 284.7L95.9 284.8M96 285.1A158.3 158.3 0 0 1 95.9 284.5M96 285.1L92.4 285.7M95.9 284.5L92.3 285.1M104.7 281.5L102.1 282M102.1 282.4A151.8 151.8 0 0 1 102 281.5M102.1 282.4L97.8 283.1M97.8 283.5A156.3 156.3 0 0 1 97.7 282.8M97.8 283.5L92.2 284.4M97.7 282.8L92.1 283.7M102 281.5L92 283.1M105.1 280.4L91.9 282.4M106.1 279.2L102.7 279.7M102.8 280.1A150.8 150.8 0 0 1 102.7 279.2M102.8 280.1L91.8 281.7M102.7 279.2L98.3 279.8M98.3 280.1A155.3 155.3 0 0 1 98.2 279.5M98.3 280.1L91.7 281.1M98.2 279.5L91.6 280.4M116.7 275.7L112.2 276.3M112.3 276.9A141 141 0 0 1 112.1 275.7M112.3 276.9L91.5 279.8M112.1 275.7L108.5 276.2M108.6 276.8A144.7 144.7 0 0 1 108.4 275.5M108.6 276.8L91.4 279.1M108.4 275.5L103.9 276M104 276.5A149.2 149.2 0 0 1 103.9 275.6M104 276.5L94.3 277.7M94.4 278A158.9 158.9 0 0 1 94.3 277.4M94.4 278L91.3 278.4M94.3 277.4L91.2 277.8M103.9 275.6L91.1 277.1M169 266.5L168.6 266.5M168.7 267.1A83.8 83.8 0 0 1 168.6 266M168.7 267.1L106.3 273.9M106.3 274.4A146.6 146.6 0 0 1 106.2 273.5M106.3 274.4L105.1 274.5M105.1 274.8A147.8 147.8 0 0 1 105.1 274.2M105.1 274.8L91.1 276.4M105.1 274.2L91 275.8M106.2 273.5L90.9 275.1M168.6 266L108.7 271.7M108.8 272.3A143.9 143.9 0 0 1 108.7 271.1M108.8 272.3L91.5 274M91.6 274.3A161.3 161.3 0 0 1 91.5 273.7M91.6 274.3L90.8 274.4M91.5 273.7L90.8 273.8M108.7 271.1L107.1 271.3M107.1 271.6A145.5 145.5 0 0 1 107.1 270.9M107.1 271.6L90.7 273.1M107.1 270.9L90.6 272.4M189.2 262.7L146.4 265.9M146.5 267A105.9 105.9 0 0 1 146.3 264.8M146.5 267L90.6 271.7M146.3 264.8L99.6 267.9M99.6 269.2A152.8 152.8 0 0 1 99.5 266.5M99.6 269.2L99.6 269.2M99.7 270A152.8 152.8 0 0 1 99.6 268.4M99.7 270L97.2 270.2M97.2 270.5A155.3 155.3 0 0 1 97.2 269.9M97.2 270.5L90.5 271.1M97.2 269.9L90.5 270.4M99.6 268.4L99.5 268.4M99.6 269.1A152.8 152.8 0 0 1 99.5 267.7M99.6 269.1L90.4 269.7M99.5 267.7L98 267.7M98 268.2A154.3 154.3 0 0 1 97.9 267.3M98 268.2L93.7 268.5M93.7 268.8A158.7 158.7 0 0 1 93.7 268.2M93.7 268.8L90.4 269.1M93.7 268.2L90.3 268.4M97.9 267.3L90.3 267.7M99.5 266.5L90.3 267.1M189.6 260.6L189.1 260.6M189.1 261.3A63 63 0 0 1 189 259.9M189.1 261.3L90.2 266.4M189 259.9L123.4 262M123.4 263.3A128.7 128.7 0 0 1 123.3 260.7M123.4 263.3L122.3 263.3M122.4 264.2A129.8 129.8 0 0 1 122.3 262.5M122.4 264.2L90.2 265.7M122.3 262.5L114.8 262.8M114.8 263.3A137.3 137.3 0 0 1 114.8 262.3M114.8 263.3L105.8 263.6M105.8 264.1A146.3 146.3 0 0 1 105.8 263.2M105.8 264.1L100.7 264.3M100.7 264.6A151.4 151.4 0 0 1 100.7 264M100.7 264.6L90.2 265M100.7 264L90.1 264.4M105.8 263.2L90.1 263.7M114.8 262.3L90.1 263M123.3 260.7L112.7 260.9M112.7 261.5A139.3 139.3 0 0 1 112.7 260.3M112.7 261.5L108.9 261.6M108.9 261.9A143.1 143.1 0 0 1 108.9 261.3M108.9 261.9L90.1 262.4M108.9 261.3L90 261.7M112.7 260.3L98.4 260.5M98.4 260.9A153.7 153.7 0 0 1 98.3 260.2M98.4 260.9L90 261M98.3 260.2L90 260.3M194.5 250.3L177.7 248M177.2 252.3A75 75 0 0 1 178.4 243.7M177.2 252.3L150.1 250.2M149.9 253.9A102.2 102.2 0 0 1 150.4 246.6M149.9 253.9L148.8 253.9M148.8 256.1A103.2 103.2 0 0 1 149 251.6M148.8 256.1L102.8 255.3M102.8 257.7A149.2 149.2 0 0 1 102.9 252.9M102.8 257.7L101.9 257.7M101.9 259.6A150.1 150.1 0 0 1 101.9 255.9M101.9 259.6L90 259.7M101.9 255.9L101.7 255.9M101.7 257.6A150.3 150.3 0 0 1 101.8 254.3M101.7 257.6L100 257.6M100 258.9A152 152 0 0 1 100 256.2M100 258.9L90 259M100 256.2L99 256.2M99 257A153 153 0 0 1 99 255.5M99 257L98.5 257M98.5 257.5A153.5 153.5 0 0 1 98.5 256.4M98.5 257.5L97.5 257.5M97.5 258A154.5 154.5 0 0 1 97.5 257M97.5 258L92.2 258M92.2 258.3A159.8 159.8 0 0 1 92.2 257.7M92.2 258.3L90 258.3M92.2 257.7L90 257.7M97.5 257L90 257M98.5 256.4L90 256.3M99 255.5L97.4 255.4M97.4 255.8A154.6 154.6 0 0 1 97.5 255.1M97.4 255.8L90 255.7M97.5 255.1L90 255M101.8 254.3L99.6 254.2M99.6 254.5A152.5 152.5 0 0 1 99.6 253.9M99.6 254.5L90 254.3M99.6 253.9L90.1 253.6M102.9 252.9L102.5 252.9M102.5 253.4A149.6 149.6 0 0 1 102.5 252.4M102.5 253.4L90.1 253M102.5 252.4L96.3 252.2M96.3 252.5A155.8 155.8 0 0 1 96.3 251.9M96.3 252.5L90.1 252.3M96.3 251.9L90.1 251.6M149 251.6L140.5 251M140.4 252.7A111.7 111.7 0 0 1 140.7 249.3M140.4 252.7L103.9 251M103.9 251.6A148.2 148.2 0 0 1 103.9 250.5M103.9 251.6L90.2 251M103.9 250.5L102.4 250.4M102.4 250.9A149.8 149.8 0 0 1 102.4 249.9M102.4 250.9L90.2 250.3M102.4 249.9L100.4 249.8M100.4 250.1A151.8 151.8 0 0 1 100.4 249.5M100.4 250.1L90.2 249.6M100.4 249.5L90.3 248.9M140.7 249.3L111.9 247.1M111.8 248.6A140.5 140.5 0 0 1 112 245.6M111.8 248.6L111 248.5M110.9 249.2A141.3 141.3 0 0 1 111 247.8M110.9 249.2L98.5 248.4M98.5 248.8A153.8 153.8 0 0 1 98.5 248.1M98.5 248.8L90.3 248.3M98.5 248.1L90.3 247.6M111 247.8L104.2 247.3M104.2 247.9A148.2 148.2 0 0 1 104.3 246.8M104.2 247.9L90.4 246.9M104.3 246.8L101.2 246.6M101.1 247A151.3 151.3 0 0 1 101.2 246.1M101.1 247L90.4 246.3M101.2 246.1L101 246.1M100.9 246.4A151.5 151.5 0 0 1 101 245.8M100.9 246.4L90.5 245.6M101 245.8L90.5 244.9M112 245.6L104.8 245M104.8 245.5A147.7 147.7 0 0 1 104.9 244.5M104.8 245.5L90.6 244.3M104.9 244.5L99.3 244M99.3 244.4A153.3 153.3 0 0 1 99.3 243.7M99.3 244.4L90.6 243.6M99.3 243.7L90.7 242.9M150.4 246.6L127.3 244M127.2 245.2A125.4 125.4 0 0 1 127.5 242.8M127.2 245.2L118.6 244.3M118.5 244.7A134.1 134.1 0 0 1 118.6 243.8M118.5 244.7L105.9 243.4M105.8 243.7A146.9 146.9 0 0 1 105.9 243.1M105.8 243.7L90.8 242.2M105.9 243.1L90.8 241.6M118.6 243.8L90.9 240.9M127.5 242.8L98.6 239.3M98.5 240.1A154.6 154.6 0 0 1 98.7 238.5M98.5 240.1L97.4 240M97.3 240.6A155.6 155.6 0 0 1 97.5 239.3M97.3 240.6L94.3 240.3M94.3 240.6A158.7 158.7 0 0 1 94.3 240M94.3 240.6L91 240.2M94.3 240L91.1 239.6M97.5 239.3L97.3 239.3M97.2 239.6A155.8 155.8 0 0 1 97.3 239M97.2 239.6L91.1 238.9M97.3 239L91.2 238.2M98.7 238.5L91.3 237.6M178.4 243.7L178 243.6M177.6 245.5A75.4 75.4 0 0 1 178.3 241.7M177.6 245.5L116.5 235.2M116 238A137.4 137.4 0 0 1 117 232.4M116 238L115.6 238M115.3 239.8A137.9 137.9 0 0 1 115.9 236.1M115.3 239.8L110 239.1M110 239.3A143.3 143.3 0 0 1 110 238.8M110 239.3L91.4 236.9M110 238.8L91.5 236.2M115.9 236.1L113.4 235.8M113.2 237.3A140.4 140.4 0 0 1 113.7 234.2M113.2 237.3L109.4 236.7M109.3 237.6A144.1 144.1 0 0 1 109.6 235.8M109.3 237.6L103.8 236.8M103.7 237.3A149.7 149.7 0 0 1 103.9 236.4M103.7 237.3L91.6 235.6M103.9 236.4L101.5 236M101.5 236.3A152.1 152.1 0 0 1 101.6 235.7M101.5 236.3L91.7 234.9M101.6 235.7L91.8 234.3M109.6 235.8L106.2 235.3M106.2 235.8A147.5 147.5 0 0 1 106.3 234.9M106.2 235.8L91.9 233.6M106.3 234.9L104.4 234.6M104.4 234.9A149.4 149.4 0 0 1 104.5 234.3M104.4 234.9L92 232.9M104.5 234.3L92.1 232.3M113.7 234.2L112 233.9M111.9 234.9A142 142 0 0 1 112.2 233M111.9 234.9L92.2 231.6M112.2 233L110.4 232.7M110.3 233.2A143.9 143.9 0 0 1 110.5 232.2M110.3 233.2L103.3 232M103.2 232.5A151 151 0 0 1 103.3 231.5M103.2 232.5L98.7 231.7M98.6 232A155.6 155.6 0 0 1 98.7 231.4M98.6 232L92.3 230.9M98.7 231.4L92.4 230.3M103.3 231.5L92.5 229.6M110.5 232.2L92.6 229M117 232.4L113.7 231.8M113.6 232.2A140.8 140.8 0 0 1 113.8 231.3M113.6 232.2L92.7 228.3M113.8 231.3L95.2 227.7M95.1 228.1A159.7 159.7 0 0 1 95.2 227.4M95.1 228.1L92.9 227.6M95.2 227.4L93 227M178.3 241.7L142.5 233.8M142.3 235A112.1 112.1 0 0 1 142.8 232.7M142.3 235L142 234.9M141.9 235.6A112.3 112.3 0 0 1 142.2 234.2M141.9 235.6L131.5 233.5M131.4 234A123 123 0 0 1 131.6 233.1M131.4 234L93.1 226.3M131.6 233.1L106.5 227.9M106.4 228.3A148.6 148.6 0 0 1 106.6 227.4M106.4 228.3L93.3 225.7M106.6 227.4L100.1 226.1M100.1 226.4A155.2 155.2 0 0 1 100.2 225.8M100.1 226.4L93.4 225M100.2 225.8L93.5 224.3M142.2 234.2L93.7 223.7M142.8 232.7L133.2 230.5M132.9 231.7A121.9 121.9 0 0 1 133.5 229.3M132.9 231.7L93.8 223M133.5 229.3L107.6 223M107.3 224.6A148.5 148.5 0 0 1 108 221.5M107.3 224.6L106.1 224.3M106 224.8A149.7 149.7 0 0 1 106.3 223.9M106 224.8L94.6 222.2M94.5 222.5A161.5 161.5 0 0 1 94.6 221.8M94.5 222.5L94 222.4M94.6 221.8L94.1 221.7M106.3 223.9L94.3 221.1M108 221.5L104.9 220.7M104.6 222A151.8 151.8 0 0 1 105.2 219.4M104.6 222L96.4 220M96.3 220.5A160.1 160.1 0 0 1 96.5 219.6M96.3 220.5L95.2 220.3M95.1 220.6A161.3 161.3 0 0 1 95.3 219.9M95.1 220.6L94.4 220.4M95.3 219.9L94.6 219.8M96.5 219.6L94.7 219.1M105.2 219.4L102.4 218.6M102.2 219.5A154.7 154.7 0 0 1 102.6 217.8M102.2 219.5L100.2 219M100.1 219.8A156.7 156.7 0 0 1 100.4 218.3M100.1 219.8L94.9 218.5M100.4 218.3L98.8 217.9M98.7 218.4A158.3 158.3 0 0 1 99 217.4M98.7 218.4L97.7 218.1M97.6 218.5A159.4 159.4 0 0 1 97.8 217.8M97.6 218.5L95.1 217.8M97.8 217.8L95.2 217.2M99 217.4L95.4 216.5M102.6 217.8L95.6 215.9M198.3 236.2L190.9 233.2M188.9 238.6A66 66 0 0 1 193.3 227.9M188.9 238.6L176 234.6M175.3 237A79.6 79.6 0 0 1 176.7 232.3M175.3 237L95.8 215.2M176.7 232.3L176.3 232.1M175.6 234.3A80 80 0 0 1 177.1 230M175.6 234.3L169.8 232.5M169.3 234.1A86.1 86.1 0 0 1 170.3 230.9M169.3 234.1L150 228.5M149.8 229A106.2 106.2 0 0 1 150.1 228M149.8 229L146.9 228.2M146.8 228.5A109.2 109.2 0 0 1 147 227.8M146.8 228.5L105.3 216.8M105.2 217.1A152.4 152.4 0 0 1 105.4 216.5M105.2 217.1L95.9 214.6M105.4 216.5L96.1 213.9M147 227.8L96.3 213.3M150.1 228L149.8 228M149.8 228.2A106.5 106.5 0 0 1 149.9 227.8M149.8 228.2L96.5 212.6M149.9 227.8L96.7 212M170.3 230.9L112.3 211.6M111.8 213.2A147.2 147.2 0 0 1 112.8 210.1M111.8 213.2L111.8 213.1M111.4 214.3A147.2 147.2 0 0 1 112.1 211.9M111.4 214.3L110.9 214.2M110.6 215A147.8 147.8 0 0 1 111.1 213.4M110.6 215L110.2 214.9M110 215.3A148.3 148.3 0 0 1 110.3 214.4M110 215.3L96.9 211.3M110.3 214.4L101.4 211.7M101.3 212A157.6 157.6 0 0 1 101.4 211.3M101.3 212L97.1 210.7M101.4 211.3L97.3 210.1M111.1 213.4L105.4 211.6M105.3 211.9A153.8 153.8 0 0 1 105.5 211.3M105.3 211.9L97.5 209.4M105.5 211.3L97.7 208.8M112.1 211.9L111.5 211.7M111.3 212.2A147.9 147.9 0 0 1 111.6 211.3M111.3 212.2L109.6 211.6M109.5 211.9A149.8 149.8 0 0 1 109.6 211.3M109.5 211.9L97.9 208.1M109.6 211.3L98.1 207.5M111.6 211.3L98.3 206.9M112.8 210.1L102.4 206.5M102.2 207.1A158.2 158.2 0 0 1 102.7 205.9M102.2 207.1L100.6 206.6M100.5 206.9A159.9 159.9 0 0 1 100.7 206.3M100.5 206.9L98.5 206.2M100.7 206.3L98.7 205.6M102.7 205.9L101.5 205.5M101.4 205.8A159.4 159.4 0 0 1 101.6 205.2M101.4 205.8L98.9 204.9M101.6 205.2L99.2 204.3M177.1 230L163.1 224.8M162.9 225.4A94.9 94.9 0 0 1 163.4 224.2M162.9 225.4L162.6 225.3M162.4 225.8A95.2 95.2 0 0 1 162.8 224.8M162.4 225.8L111.7 207.6M111.6 208A149 149 0 0 1 111.9 207.2M111.6 208L99.4 203.7M111.9 207.2L103 203.9M102.8 204.2A158.6 158.6 0 0 1 103.1 203.6M102.8 204.2L99.6 203M103.1 203.6L99.8 202.4M162.8 224.8L126.4 211.2M126.3 211.5A134 134 0 0 1 126.5 211M126.3 211.5L100.1 201.8M126.5 211L100.3 201.2M163.4 224.2L163.1 224M163 224.2A95.2 95.2 0 0 1 163.1 223.9M163 224.2L100.5 200.5M163.1 223.9L100.8 199.9M193.3 227.9L175.4 218.8M173.7 222.3A86 86 0 0 1 177.3 215.3M173.7 222.3L159.6 215.9M158.8 217.7A101.5 101.5 0 0 1 160.4 214.2M158.8 217.7L111.8 197.4M111.2 198.8A152.7 152.7 0 0 1 112.5 195.9M111.2 198.8L111.2 198.8M110.6 200.3A152.8 152.8 0 0 1 111.8 197.3M110.6 200.3L110.1 200.1M109.7 200.9A153.3 153.3 0 0 1 110.4 199.2M109.7 200.9L104.4 198.8M104 199.6A159.1 159.1 0 0 1 104.7 197.9M104 199.6L103.1 199.3M102.8 200A160.1 160.1 0 0 1 103.4 198.6M102.8 200L101 199.3M103.4 198.6L103.3 198.6M103.1 199A160.1 160.1 0 0 1 103.5 198.1M103.1 199L102.3 198.7M102.2 199A161 161 0 0 1 102.4 198.4M102.2 199L101.3 198.7M102.4 198.4L101.5 198M103.5 198.1L101.8 197.4M104.7 197.9L102 196.8M110.4 199.2L108.7 198.5M108.5 198.7A155.2 155.2 0 0 1 108.8 198.2M108.5 198.7L102.3 196.2M108.8 198.2L102.5 195.5M111.8 197.3L111 196.9M110.8 197.4A153.6 153.6 0 0 1 111.2 196.4M110.8 197.4L108.1 196.3M107.9 196.7A156.6 156.6 0 0 1 108.3 195.8M107.9 196.7L106.7 196.2M106.6 196.5A157.9 157.9 0 0 1 106.8 195.9M106.6 196.5L102.8 194.9M106.8 195.9L103 194.3M108.3 195.8L103.3 193.7M111.2 196.4L103.6 193.1M112.5 195.9L104.1 192.2M104 192.5A161.9 161.9 0 0 1 104.3 191.9M104 192.5L103.9 192.5M104.3 191.9L104.1 191.8M160.4 214.2L160.1 214.1M159.6 215.1A101.8 101.8 0 0 1 160.6 213M159.6 215.1L114.4 194.1M113.9 195.2A151.7 151.7 0 0 1 115 193M113.9 195.2L109.2 193M109 193.3A156.9 156.9 0 0 1 109.3 192.7M109 193.3L104.4 191.2M109.3 192.7L104.7 190.6M115 193L114.1 192.6M113.8 193.2A152.7 152.7 0 0 1 114.4 191.9M113.8 193.2L110.3 191.6M110.1 192A156.5 156.5 0 0 1 110.5 191.2M110.1 192L108.1 191.1M108 191.4A158.6 158.6 0 0 1 108.3 190.8M108 191.4L105 190M108.3 190.8L105.2 189.4M110.5 191.2L105.5 188.8M114.4 191.9L112 190.8M111.9 191.1A155.3 155.3 0 0 1 112.2 190.5M111.9 191.1L105.8 188.2M112.2 190.5L106.1 187.6M160.6 213L125.4 195.7M125.1 196.1A141.1 141.1 0 0 1 125.6 195.2M125.1 196.1L106.4 187M125.6 195.2L124.9 194.8M124.7 195.2A142 142 0 0 1 125.1 194.4M124.7 195.2L106.7 186.4M125.1 194.4L123.8 193.8M123.7 194.1A143.4 143.4 0 0 1 123.9 193.6M123.7 194.1L107 185.8M123.9 193.6L107.3 185.2M177.3 215.3L161.5 206.3M160.2 208.8A104.2 104.2 0 0 1 163 203.9M160.2 208.8L117.8 186M117 187.7A152.2 152.2 0 0 1 118.7 184.4M117 187.7L115.9 187.1M115.6 187.7A153.4 153.4 0 0 1 116.3 186.5M115.6 187.7L114 186.9M113.8 187.3A155.2 155.2 0 0 1 114.2 186.5M113.8 187.3L109.9 185.4M109.8 185.7A159.5 159.5 0 0 1 110.1 185.1M109.8 185.7L107.6 184.6M110.1 185.1L107.9 184M114.2 186.5L108.2 183.4M116.3 186.5L111.3 183.8M111.1 184.1A159.1 159.1 0 0 1 111.4 183.6M111.1 184.1L108.5 182.8M111.4 183.6L108.8 182.2M118.7 184.4L118.6 184.4M118.2 185.1A152.3 152.3 0 0 1 119 183.7M118.2 185.1L118.1 185M117.7 185.7A152.5 152.5 0 0 1 118.4 184.4M117.7 185.7L117.7 185.6M117.5 186.1A152.6 152.6 0 0 1 117.9 185.2M117.5 186.1L109.1 181.6M117.9 185.2L113.4 182.8M113.2 183A157.7 157.7 0 0 1 113.5 182.5M113.2 183L109.5 181M113.5 182.5L109.8 180.4M118.4 184.4L110.1 179.8M119 183.7L117.9 183M117.7 183.3A153.7 153.7 0 0 1 118 182.7M117.7 183.3L110.4 179.2M118 182.7L110.8 178.7M163 203.9L162.7 203.7M161.6 205.6A104.5 104.5 0 0 1 163.8 201.9M161.6 205.6L121.3 182.2M120.6 183.4A151.1 151.1 0 0 1 122 181M120.6 183.4L111.1 178.1M122 181L121 180.5M120.3 181.7A152.2 152.2 0 0 1 121.8 179.3M120.3 181.7L117.7 180.1M117.4 180.5A155.3 155.3 0 0 1 117.9 179.7M117.4 180.5L114.8 179.1M114.7 179.4A158.2 158.2 0 0 1 115 178.8M114.7 179.4L111.4 177.5M115 178.8L111.8 176.9M117.9 179.7L112.1 176.3M121.8 179.3L120.4 178.4M119.8 179.4A153.8 153.8 0 0 1 121 177.5M119.8 179.4L118.4 178.6M118.1 179.1A155.4 155.4 0 0 1 118.7 178.1M118.1 179.1L112.4 175.7M118.7 178.1L115.1 176M114.9 176.4A159.6 159.6 0 0 1 115.4 175.6M114.9 176.4L112.8 175.2M115.4 175.6L114.3 174.9M114.1 175.2A160.8 160.8 0 0 1 114.5 174.6M114.1 175.2L113.1 174.6M114.5 174.6L113.5 174M121 177.5L114.7 173.6M114.5 173.9A161.2 161.2 0 0 1 114.8 173.3M114.5 173.9L113.8 173.4M114.8 173.3L114.2 172.9M163.8 201.9L155.1 196.3M154.5 197.2A114.9 114.9 0 0 1 155.7 195.4M154.5 197.2L114.5 172.3M155.7 195.4L150.9 192.3M150.1 193.6A120.6 120.6 0 0 1 151.7 191.1M150.1 193.6L135.9 184.6M135.7 184.9A137.4 137.4 0 0 1 136 184.4M135.7 184.9L114.9 171.7M136 184.4L115.2 171.2M151.7 191.1L125.5 173.6M124.5 175A152.1 152.1 0 0 1 126.5 172.1M124.5 175L124.4 175M124 175.6A152.2 152.2 0 0 1 124.8 174.4M124 175.6L121.9 174.2M121.7 174.5A154.7 154.7 0 0 1 122.1 174M121.7 174.5L115.6 170.6M122.1 174L116 170M124.8 174.4L124.6 174.2M124.3 174.7A152.5 152.5 0 0 1 124.9 173.7M124.3 174.7L116.3 169.5M124.9 173.7L123.6 172.8M123.3 173.2A154.1 154.1 0 0 1 123.8 172.4M123.3 173.2L116.7 168.9M123.8 172.4L122.8 171.8M122.7 172.1A155.3 155.3 0 0 1 123 171.5M122.7 172.1L117.1 168.3M123 171.5L117.4 167.8M126.5 172.1L126.5 172.1M126 172.8A152.1 152.1 0 0 1 126.9 171.5M126 172.8L117.8 167.2M126.9 171.5L125.5 170.5M125.1 171A153.8 153.8 0 0 1 125.9 170M125.1 171L124.1 170.3M123.9 170.6A155 155 0 0 1 124.3 170.1M123.9 170.6L118.2 166.7M124.3 170.1L118.6 166.1M125.9 170L122.3 167.5M122.1 167.7A158.2 158.2 0 0 1 122.4 167.2M122.1 167.7L119 165.6M122.4 167.2L119.3 165M210.2 217.8L187.1 195.7M183.6 199.5A90 90 0 0 1 190.8 192M183.6 199.5L168.9 187M166 190.5A109.3 109.3 0 0 1 172 183.6M166 190.5L163.2 188.3M162.2 189.6A112.9 112.9 0 0 1 164.2 187M162.2 189.6L129 164.4M127.8 165.9A154.6 154.6 0 0 1 130.2 162.8M127.8 165.9L127.8 165.9M127 167A154.6 154.6 0 0 1 128.6 164.9M127 167L127 167M126.2 168.1A154.6 154.6 0 0 1 127.8 165.9M126.2 168.1L126.2 168.1M125.7 168.7A154.6 154.6 0 0 1 126.7 167.4M125.7 168.7L119.7 164.5M126.7 167.4L126.3 167.2M125.9 167.7A155.1 155.1 0 0 1 126.7 166.6M125.9 167.7L124.6 166.7M124.4 167A156.7 156.7 0 0 1 124.8 166.5M124.4 167L120.1 163.9M124.8 166.5L120.5 163.4M126.7 166.6L126.7 166.6M126.5 166.9A155.1 155.1 0 0 1 126.9 166.4M126.5 166.9L120.9 162.8M126.9 166.4L121.3 162.3M127.8 165.9L122.5 161.9M122.3 162.2A161.3 161.3 0 0 1 122.7 161.6M122.3 162.2L121.7 161.7M122.7 161.6L122.1 161.2M128.6 164.9L122.7 160.4M122.5 160.7A162 162 0 0 1 122.9 160.1M122.5 160.7L122.5 160.7M122.9 160.1L122.9 160.1M130.2 162.8L130.1 162.8M129.6 163.4A154.7 154.7 0 0 1 130.6 162.2M129.6 163.4L129 162.9M128.7 163.3A155.5 155.5 0 0 1 129.3 162.5M128.7 163.3L124.7 160.3M124.5 160.5A160.5 160.5 0 0 1 124.9 160M124.5 160.5L123.3 159.6M124.9 160L123.7 159.1M129.3 162.5L124.1 158.5M130.6 162.2L130.4 162M130.1 162.4A154.9 154.9 0 0 1 130.7 161.6M130.1 162.4L124.5 158M130.7 161.6L127.4 159M127.2 159.3A159.1 159.1 0 0 1 127.6 158.7M127.2 159.3L125 157.5M127.6 158.7L125.4 157M164.2 187L134.2 162.8M134 163A151.5 151.5 0 0 1 134.4 162.5M134 163L125.8 156.4M134.4 162.5L126.2 155.9M172 183.6L169 180.9M167.9 182.1A113.3 113.3 0 0 1 170.1 179.7M167.9 182.1L166.9 181.2M165.5 182.7A114.7 114.7 0 0 1 168.3 179.6M165.5 182.7L142.5 162.7M141.2 164.2A145.1 145.1 0 0 1 143.9 161.2M141.2 164.2L140.8 163.8M139.8 165.1A145.7 145.7 0 0 1 141.9 162.6M139.8 165.1L138.7 164.2M138.2 164.9A147.1 147.1 0 0 1 139.2 163.6M138.2 164.9L126.6 155.4M139.2 163.6L137.8 162.5M137.4 163A148.9 148.9 0 0 1 138.3 161.9M137.4 163L135.9 161.8M135.7 162A150.8 150.8 0 0 1 136.1 161.5M135.7 162L127.1 154.9M136.1 161.5L127.5 154.4M138.3 161.9L137.6 161.3M137.3 161.7A149.8 149.8 0 0 1 137.9 161M137.3 161.7L127.9 153.8M137.9 161L134.7 158.3M134.5 158.5A153.9 153.9 0 0 1 134.9 158M134.5 158.5L128.4 153.3M134.9 158L128.8 152.8M141.9 162.6L138.9 160M138.5 160.3A149.7 149.7 0 0 1 139.2 159.6M138.5 160.3L129.2 152.3M139.2 159.6L136.6 157.4M136.4 157.6A153.1 153.1 0 0 1 136.8 157.1M136.4 157.6L129.7 151.8M136.8 157.1L130.1 151.3M143.9 161.2L143.5 160.8M143 161.4A145.7 145.7 0 0 1 144 160.3M143 161.4L133.4 152.8M133.1 153.1A158.5 158.5 0 0 1 133.6 152.6M133.1 153.1L130.6 150.8M133.6 152.6L131 150.3M144 160.3L137.5 154.5M137.1 154.9A154.3 154.3 0 0 1 138 154M137.1 154.9L131.4 149.8M138 154L137.8 153.9M137.5 154.3A154.5 154.5 0 0 1 138.2 153.5M137.5 154.3L131.9 149.3M138.2 153.5L136.1 151.5M135.7 151.9A157.4 157.4 0 0 1 136.4 151.2M135.7 151.9L132.3 148.8M136.4 151.2L134.9 149.8M134.7 150A159.5 159.5 0 0 1 135.1 149.5M134.7 150L132.8 148.3M135.1 149.5L133.3 147.8M168.3 179.6L133.7 147.3M170.1 179.7L149.3 159.7M148.8 160.2A142.2 142.2 0 0 1 149.8 159.2M148.8 160.2L141.9 153.7M141.7 153.9A151.6 151.6 0 0 1 142.1 153.5M141.7 153.9L134.2 146.8M142.1 153.5L134.6 146.3M149.8 159.2L149.7 159.2M149.4 159.6A142.2 142.2 0 0 1 150.1 158.8M149.4 159.6L135.1 145.8M150.1 158.8L146.1 154.9M145.8 155.2A147.8 147.8 0 0 1 146.4 154.6M145.8 155.2L135.6 145.4M146.4 154.6L145.8 154M145.6 154.2A148.6 148.6 0 0 1 146 153.8M145.6 154.2L136 144.9M146 153.8L136.5 144.4M190.8 192L178.5 178.6M176.6 180.4A108.2 108.2 0 0 1 180.3 176.9M176.6 180.4L151.9 154.9M149.9 156.8A143.8 143.8 0 0 1 153.8 153M149.9 156.8L137 143.9M153.8 153L152.2 151.3M150.9 152.5A146.1 146.1 0 0 1 153.6 150M150.9 152.5L149.9 151.4M148.8 152.5A147.6 147.6 0 0 1 150.9 150.4M148.8 152.5L144.7 148.2M143.7 149.2A153.5 153.5 0 0 1 145.7 147.3M143.7 149.2L143.5 149.1M143.3 149.3A153.7 153.7 0 0 1 143.7 148.8M143.3 149.3L137.4 143.4M143.7 148.8L137.9 143M145.7 147.3L145.4 147M145 147.5A153.9 153.9 0 0 1 145.9 146.5M145 147.5L144.5 147M144 147.5A154.6 154.6 0 0 1 145 146.5M144 147.5L143.4 146.9M143.1 147.3A155.3 155.3 0 0 1 143.8 146.6M143.1 147.3L138.4 142.5M143.8 146.6L139.2 141.9M139 142.1A161.8 161.8 0 0 1 139.5 141.7M139 142.1L138.9 142M139.5 141.7L139.4 141.6M145 146.5L139.8 141.1M145.9 146.5L140.3 140.6M150.9 150.4L141.9 140.8M141.6 141A160.8 160.8 0 0 1 142.1 140.6M141.6 141L140.8 140.2M142.1 140.6L141.3 139.7M153.6 150L150.9 147.1M150.5 147.5A150 150 0 0 1 151.3 146.8M150.5 147.5L147.4 144.1M147 144.4A154.6 154.6 0 0 1 147.7 143.8M147 144.4L142.6 139.6M142.3 139.8A161.2 161.2 0 0 1 142.8 139.4M142.3 139.8L141.8 139.3M142.8 139.4L142.3 138.8M147.7 143.8L142.8 138.3M151.3 146.8L143.3 137.9M180.3 176.9L177 173.1M176.5 173.5A113.3 113.3 0 0 1 177.5 172.7M176.5 173.5L159.2 154.2M159 154.4A139.3 139.3 0 0 1 159.4 154M159 154.4L143.8 137.4M159.4 154L144.3 137M177.5 172.7L153.2 144.9M152.9 145.2A150.2 150.2 0 0 1 153.6 144.6M152.9 145.2L152.9 145.2M152.6 145.4A150.2 150.2 0 0 1 153.1 145M152.6 145.4L144.8 136.6M153.1 145L145.3 136.1M153.6 144.6L145.8 135.7M227.5 205.4L222.4 194.6M218.6 196.5A70 70 0 0 1 226.4 192.9M218.6 196.5L213.4 187.1M207.5 190.6A80.7 80.7 0 0 1 219.6 184M207.5 190.6L207.3 190.3M200 195.7A81.1 81.1 0 0 1 215.1 185.7M200 195.7L182.9 175.2M181.6 176.3A107.9 107.9 0 0 1 184.1 174.2M181.6 176.3L146.3 135.2M184.1 174.2L183.9 174M182.5 175.1A108.1 108.1 0 0 1 185.4 172.8M182.5 175.1L176.6 168.1M176.2 168.3A117.4 117.4 0 0 1 176.9 167.8M176.2 168.3L175 166.8M174.7 167.1A119.3 119.3 0 0 1 175.3 166.6M174.7 167.1L152 140.4M151.7 140.6A154.4 154.4 0 0 1 152.2 140.2M151.7 140.6L146.8 134.8M152.2 140.2L147.3 134.4M175.3 166.6L147.8 133.9M176.9 167.8L148.4 133.5M185.4 172.8L158.9 138.8M156.9 140.4A151.2 151.2 0 0 1 160.9 137.3M156.9 140.4L156.9 140.4M156 141.2A151.2 151.2 0 0 1 157.8 139.7M156 141.2L154.2 139M154 139.3A154 154 0 0 1 154.5 138.8M154 139.3L148.9 133.1M154.5 138.8L149.4 132.6M157.8 139.7L157.7 139.6M156.8 140.2A151.4 151.4 0 0 1 158.5 138.9M156.8 140.2L156.1 139.3M155.8 139.5A152.6 152.6 0 0 1 156.3 139.1M155.8 139.5L149.9 132.2M156.3 139.1L150.4 131.8M158.5 138.9L155.5 135.2M154.8 135.7A156.2 156.2 0 0 1 156.2 134.6M154.8 135.7L153.1 133.5M152.8 133.7A159 159 0 0 1 153.3 133.3M152.8 133.7L151 131.4M153.3 133.3L151.5 131M156.2 134.6L156 134.3M155.6 134.6A156.5 156.5 0 0 1 156.4 134M155.6 134.6L152.6 130.8M152.3 131A161.5 161.5 0 0 1 152.9 130.6M152.3 131L152 130.5M152.9 130.6L152.5 130.1M156.4 134L153.1 129.7M160.9 137.3L160.8 137.1M160.3 137.5A151.4 151.4 0 0 1 161.3 136.8M160.3 137.5L154.8 130.3M154.5 130.5A160.5 160.5 0 0 1 155 130.1M154.5 130.5L153.6 129.3M155 130.1L154.1 128.9M161.3 136.8L159.1 133.8M158.8 134A155.1 155.1 0 0 1 159.3 133.6M158.8 134L154.7 128.5M159.3 133.6L155.2 128.1M215.1 185.7L214.9 185.4M211.5 187.2A81.5 81.5 0 0 1 218.4 183.7M211.5 187.2L211.3 186.9M207.3 189.3A81.9 81.9 0 0 1 215.5 184.6M207.3 189.3L203.4 183.3M200.9 185A89.1 89.1 0 0 1 205.9 181.7M200.9 185L200.7 184.7M199.3 185.7A89.5 89.5 0 0 1 202.1 183.7M199.3 185.7L171.4 147.5M171 147.8A136.8 136.8 0 0 1 171.9 147.1M171 147.8L165.9 140.9M165.7 141.1A145.3 145.3 0 0 1 166.2 140.8M165.7 141.1L155.7 127.7M166.2 140.8L156.3 127.3M171.9 147.1L167.5 141.1M167.2 141.2A144.3 144.3 0 0 1 167.7 140.9M167.2 141.2L156.8 126.9M167.7 140.9L157.4 126.5M202.1 183.7L170.5 136.5M168.6 137.8A146.3 146.3 0 0 1 172.4 135.2M168.6 137.8L168.4 137.4M167.4 138.1A146.7 146.7 0 0 1 169.3 136.8M167.4 138.1L166.4 136.7M166.1 137A148.4 148.4 0 0 1 166.8 136.5M166.1 137L158.9 127M158.7 127.2A160.7 160.7 0 0 1 159.2 126.8M158.7 127.2L157.9 126.1M159.2 126.8L158.5 125.7M166.8 136.5L159 125.3M169.3 136.8L164.2 129.3M163.8 129.6A155.8 155.8 0 0 1 164.7 129M163.8 129.6L161.2 125.8M160.8 126.1A160.4 160.4 0 0 1 161.6 125.5M160.8 126.1L160.5 125.7M160.2 125.8A160.9 160.9 0 0 1 160.7 125.5M160.2 125.8L159.6 125M160.7 125.5L160.1 124.6M161.6 125.5L160.7 124.2M164.7 129L161.2 123.8M172.4 135.2L171.9 134.5M171 135.1A147.2 147.2 0 0 1 172.9 133.9M171 135.1L170.3 134.1M169.6 134.6A148.4 148.4 0 0 1 171 133.6M169.6 134.6L166.8 130.4M166.6 130.6A153.4 153.4 0 0 1 167.1 130.2M166.6 130.6L161.8 123.4M167.1 130.2L162.3 123.1M171 133.6L169.1 130.6M168.7 130.9A152 152 0 0 1 169.5 130.4M168.7 130.9L168.3 130.4M168.1 130.5A152.6 152.6 0 0 1 168.6 130.2M168.1 130.5L162.9 122.7M168.6 130.2L163.5 122.3M169.5 130.4L164 122M172.9 133.9L170.8 130.7M170.6 130.9A150.9 150.9 0 0 1 171.1 130.6M170.6 130.9L164.6 121.6M171.1 130.6L165.2 121.2M205.9 181.7L178.7 136.8M177.5 137.6A141.6 141.6 0 0 1 180 136.1M177.5 137.6L173 130.3M172.5 130.7A150.1 150.1 0 0 1 173.6 130M172.5 130.7L171.6 129.2M171.2 129.5A151.8 151.8 0 0 1 172 129M171.2 129.5L165.7 120.9M172 129L171.4 128.1M171.1 128.3A152.9 152.9 0 0 1 171.7 127.9M171.1 128.3L166.3 120.5M171.7 127.9L166.9 120.2M173.6 130L167.4 119.8M180 136.1L179.6 135.5M179 135.9A142.3 142.3 0 0 1 180.2 135.1M179 135.9L175.1 129.3M174.6 129.7A149.9 149.9 0 0 1 175.6 129M174.6 129.7L169.4 121.1M169.1 121.2A159.9 159.9 0 0 1 169.7 120.9M169.1 121.2L168 119.5M169.7 120.9L168.6 119.1M175.6 129L173.1 124.7M172.8 124.9A154.9 154.9 0 0 1 173.3 124.5M172.8 124.9L169.2 118.8M173.3 124.5L169.7 118.4M180.2 135.1L170.3 118.1M215.5 184.6L211.7 177M210.5 177.6A90.4 90.4 0 0 1 212.9 176.4M210.5 177.6L184.6 127.5M183.3 128.2A146.9 146.9 0 0 1 186 126.8M183.3 128.2L182.3 126.4M180.8 127.2A148.9 148.9 0 0 1 183.8 125.6M180.8 127.2L179.1 123.9M177.7 124.7A152.6 152.6 0 0 1 180.4 123.2M177.7 124.7L177 123.5M176.1 124A154 154 0 0 1 178 123M176.1 124L173.2 118.9M172.7 119.2A159.9 159.9 0 0 1 173.7 118.6M172.7 119.2L172.3 118.5M171.9 118.8A160.6 160.6 0 0 1 172.7 118.3M171.9 118.8L171.5 118.1M171.2 118.2A161.5 161.5 0 0 1 171.7 117.9M171.2 118.2L170.9 117.8M171.7 117.9L171.5 117.4M172.7 118.3L172.1 117.1M173.7 118.6L172.7 116.8M178 123L176.7 120.6M176.1 120.9A156.7 156.7 0 0 1 177.2 120.3M176.1 120.9L175.9 120.5M175.6 120.6A157.2 157.2 0 0 1 176.1 120.3M175.6 120.6L173.2 116.4M176.1 120.3L173.8 116.1M177.2 120.3L177.2 120.2M176.9 120.3A156.9 156.9 0 0 1 177.5 120M176.9 120.3L174.4 115.8M177.5 120L175 115.5M180.4 123.2L179.5 121.5M179.1 121.7A154.5 154.5 0 0 1 180 121.3M179.1 121.7L175.6 115.1M180 121.3L178.5 118.5M178.2 118.6A157.7 157.7 0 0 1 178.8 118.3M178.2 118.6L176.2 114.8M178.8 118.3L176.8 114.5M183.8 125.6L181.9 121.8M181.5 122.1A153.2 153.2 0 0 1 182.3 121.6M181.5 122.1L177.4 114.2M182.3 121.6L178.6 114.4M178.3 114.5A161.3 161.3 0 0 1 178.9 114.2M178.3 114.5L178 113.9M178.9 114.2L178.6 113.6M186 126.8L179.2 113.3M212.9 176.4L186.8 122M186.1 122.3A150.8 150.8 0 0 1 187.6 121.6M186.1 122.3L185.9 122M185.3 122.3A151.2 151.2 0 0 1 186.5 121.7M185.3 122.3L185.2 122.2M184.8 122.4A151.4 151.4 0 0 1 185.6 121.9M184.8 122.4L182.4 117.5M182.1 117.6A156.8 156.8 0 0 1 182.7 117.3M182.1 117.6L179.8 113M182.7 117.3L180.4 112.7M185.6 121.9L181 112.4M186.5 121.7L183.5 115.4M183.2 115.5A158.2 158.2 0 0 1 183.8 115.2M183.2 115.5L181.6 112.1M183.8 115.2L182.2 111.8M187.6 121.6L182.8 111.5M218.4 183.7L206.7 158M206.1 158.3A109.8 109.8 0 0 1 207.4 157.7M206.1 158.3L205.1 156.1M204.7 156.3A112.1 112.1 0 0 1 205.6 155.9M204.7 156.3L193.7 132.5M193.4 132.6A138.4 138.4 0 0 1 193.9 132.4M193.4 132.6L183.4 111.2M193.9 132.4L184 111M205.6 155.9L189.5 120.6M189.2 120.8A150.9 150.9 0 0 1 189.8 120.5M189.2 120.8L184.6 110.7M189.8 120.5L185.2 110.4M207.4 157.7L204.4 151.1M204.2 151.2A117 117 0 0 1 204.7 151M204.2 151.2L185.8 110.1M204.7 151L186.5 109.9M219.6 184L187.1 109.6M226.4 192.9L225.8 191.3M225.2 191.5A71.7 71.7 0 0 1 226.3 191.1M225.2 191.5L216.6 170.1M215.8 170.4A94.8 94.8 0 0 1 217.5 169.8M215.8 170.4L201.2 135M200.2 135.4A133.1 133.1 0 0 1 202.1 134.6M200.2 135.4L199 132.5M198.3 132.8A136.2 136.2 0 0 1 199.7 132.2M198.3 132.8L195.7 126.6M195.2 126.8A143 143 0 0 1 196.1 126.4M195.2 126.8L187.7 109.3M196.1 126.4L188.9 109.5M188.6 109.7A161.3 161.3 0 0 1 189.2 109.4M188.6 109.7L188.3 109M189.2 109.4L188.9 108.8M199.7 132.2L192.7 115.2M192.4 115.4A154.6 154.6 0 0 1 193 115.1M192.4 115.4L189.5 108.5M193 115.1L190.2 108.3M202.1 134.6L193.5 113.5M193.1 113.7A155.9 155.9 0 0 1 194 113.3M193.1 113.7L190.8 108M194 113.3L191.9 108.2M191.6 108.3A161.4 161.4 0 0 1 192.2 108.1M191.6 108.3L191.4 107.8M192.2 108.1L192 107.5M217.5 169.8L209.9 150.4M209.7 150.5A115.6 115.6 0 0 1 210.1 150.3M209.7 150.5L192.7 107.3M210.1 150.3L193.3 107M226.3 191.1L193.9 106.8M235.1 202.5L224.3 167.1M221.7 168A95 95 0 0 1 227 166.3M221.7 168L220.2 163.6M218.9 164.1A99.6 99.6 0 0 1 221.5 163.2M218.9 164.1L218.8 163.8M217.5 164.2A99.9 99.9 0 0 1 220.1 163.3M217.5 164.2L213.8 154.2M213 154.5A110.6 110.6 0 0 1 214.6 153.9M213 154.5L208.7 143.1M208.4 143.2A122.8 122.8 0 0 1 208.9 143M208.4 143.2L194.5 106.5M208.9 143L195.2 106.3M214.6 153.9L212.7 148.6M211.7 149A116.3 116.3 0 0 1 213.7 148.2M211.7 149L195.8 106.1M213.7 148.2L213.5 147.5M212.8 147.7A117 117 0 0 1 214.1 147.3M212.8 147.7L201.4 115.6M200.6 115.9A151.1 151.1 0 0 1 202.2 115.4M200.6 115.9L200.6 115.8M200.1 116A151.2 151.2 0 0 1 201 115.6M200.1 116L196.4 105.8M201 115.6L197.9 107M197.6 107.1A160.4 160.4 0 0 1 198.2 106.9M197.6 107.1L197 105.6M198.2 106.9L197.7 105.4M202.2 115.4L201.4 113.1M201.1 113.2A153.5 153.5 0 0 1 201.7 113M201.1 113.2L198.3 105.2M201.7 113L198.9 104.9M214.1 147.3L199.6 104.7M220.1 163.3L200.2 104.5M221.5 163.2L207.5 119.4M206.8 119.7A145.5 145.5 0 0 1 208.2 119.2M206.8 119.7L206.5 118.9M206.1 119.1A146.3 146.3 0 0 1 207 118.8M206.1 119.1L204.1 113M203.8 113.1A152.7 152.7 0 0 1 204.4 112.9M203.8 113.1L200.9 104.3M204.4 112.9L201.5 104.1M207 118.8L202.1 103.9M208.2 119.2L207.9 118.3M207.5 118.5A146.5 146.5 0 0 1 208.4 118.2M207.5 118.5L202.8 103.7M208.4 118.2L204.7 106.5M204.4 106.6A158.7 158.7 0 0 1 205 106.4M204.4 106.6L203.4 103.5M205 106.4L204.1 103.3M227 166.3L225 158.9M222 159.7A102.7 102.7 0 0 1 228 158.1M222 159.7L204.7 103.1M228 158.1L222 133.1M217.8 134.2A128.4 128.4 0 0 1 226.3 132.2M217.8 134.2L217 131.5M214.2 132.3A131.2 131.2 0 0 1 219.9 130.8M214.2 132.3L205.3 102.9M219.9 130.8L219.8 130.6M218.1 131.1A131.4 131.4 0 0 1 221.5 130.2M218.1 131.1L212 108.3M210.5 108.7A155 155 0 0 1 213.5 107.9M210.5 108.7L210.5 108.7M209.1 109.1A155 155 0 0 1 211.9 108.3M209.1 109.1L208.9 108.2M208.2 108.4A155.9 155.9 0 0 1 209.6 108M208.2 108.4L207.9 107.5M207.4 107.6A156.8 156.8 0 0 1 208.4 107.3M207.4 107.6L206 102.7M208.4 107.3L207.8 105.5M207.5 105.6A158.8 158.8 0 0 1 208.1 105.4M207.5 105.6L206.6 102.5M208.1 105.4L207.3 102.3M209.6 108L207.9 102.1M211.9 108.3L211.6 107.2M210.9 107.4A156.1 156.1 0 0 1 212.3 107M210.9 107.4L209.8 103.2M209.3 103.4A160.4 160.4 0 0 1 210.3 103.1M209.3 103.4L208.9 101.9M208.6 102A162 162 0 0 1 209.2 101.8M208.6 102L208.6 101.9M209.2 101.8L209.2 101.8M210.3 103.1L209.9 101.6M212.3 107L210.9 101.6M210.6 101.7A161.7 161.7 0 0 1 211.2 101.5M210.6 101.7L210.5 101.4M211.2 101.5L211.2 101.2M213.5 107.9L211.8 101.1M221.5 130.2L219.5 121.6M218.5 121.9A140.2 140.2 0 0 1 220.5 121.4M218.5 121.9L216.3 113M215.8 113.1A149.3 149.3 0 0 1 216.7 112.9M215.8 113.1L214.3 106.9M214 107A155.8 155.8 0 0 1 214.6 106.8M214 107L212.5 100.9M214.6 106.8L213.1 100.7M216.7 112.9L213.8 100.6M220.5 121.4L220.3 120.4M219.5 120.6A141.2 141.2 0 0 1 221.1 120.2M219.5 120.6L216.1 106.3M215.8 106.4A155.9 155.9 0 0 1 216.5 106.2M215.8 106.4L214.4 100.4M216.5 106.2L215.1 100.3M221.1 120.2L221.1 120.1M220.4 120.3A141.3 141.3 0 0 1 221.8 120M220.4 120.3L215.7 100.1M221.8 120L219.8 110.8M219.2 110.9A150.7 150.7 0 0 1 220.4 110.6M219.2 110.9L218.5 108.1M218.2 108.2A153.6 153.6 0 0 1 218.8 108M218.2 108.2L216.4 100M218.8 108L217 99.8M220.4 110.6L219.3 105.4M218.9 105.5A156.1 156.1 0 0 1 219.6 105.3M218.9 105.5L217.7 99.7M219.6 105.3L218.3 99.5M226.3 132.2L221.7 109.6M221.1 109.7A151.4 151.4 0 0 1 222.2 109.5M221.1 109.7L219 99.4M222.2 109.5L221.4 105.5M220.9 105.6A155.6 155.6 0 0 1 221.9 105.4M220.9 105.6L219.7 99.3M221.9 105.4L221.9 105.3M221.6 105.4A155.6 155.6 0 0 1 222.2 105.3M221.6 105.4L220.3 99.1M222.2 105.3L221 99M249.5 214.6L246.9 170.1M236.8 171.3A88 88 0 0 1 257.1 170.2M236.8 171.3L234.7 159.5M233.3 159.8A100 100 0 0 1 236.2 159.2M233.3 159.8L221.6 98.9M236.2 159.2L236.2 158.9M233.8 159.4A100.3 100.3 0 0 1 238.6 158.6M233.8 159.4L231.7 148.1M231.5 148.1A111.8 111.8 0 0 1 232 148M231.5 148.1L222.3 98.7M232 148L223 98.6M238.6 158.6L238.6 158.3M235 158.8A100.6 100.6 0 0 1 242.1 157.9M235 158.8L228 118M227.4 118.1A142.1 142.1 0 0 1 228.6 117.9M227.4 118.1L226.1 110.5M225.8 110.6A149.8 149.8 0 0 1 226.4 110.5M225.8 110.6L223.6 98.5M226.4 110.5L224.3 98.4M228.6 117.9L228.6 117.9M228.3 117.9A142.1 142.1 0 0 1 228.8 117.8M228.3 117.9L224.9 98.3M228.8 117.8L225.6 98.2M242.1 157.9L240.7 142.9M237.8 143.2A115.7 115.7 0 0 1 243.6 142.6M237.8 143.2L233.1 105.6M230.4 106A153.6 153.6 0 0 1 235.9 105.3M230.4 106L230.4 105.9M228.4 106.2A153.6 153.6 0 0 1 232.3 105.6M228.4 106.2L228.4 106.1M227.9 106.1A153.8 153.8 0 0 1 228.8 106M227.9 106.1L227.8 105.5M227.5 105.5A154.4 154.4 0 0 1 228.1 105.4M227.5 105.5L226.3 98.1M228.1 105.4L226.9 98M228.8 106L227.6 97.9M232.3 105.6L232.1 104.1M230.4 104.3A155.2 155.2 0 0 1 233.9 103.8M230.4 104.3L230.2 102.7M229.3 102.8A156.8 156.8 0 0 1 231 102.6M229.3 102.8L229 100.6M228.7 100.6A159.1 159.1 0 0 1 229.3 100.5M228.7 100.6L228.3 97.8M229.3 100.5L228.9 97.7M231 102.6L231 102.5M230.3 102.6A156.9 156.9 0 0 1 231.7 102.4M230.3 102.6L229.6 97.6M231.7 102.4L231.3 98.9M230.8 99A160.4 160.4 0 0 1 231.8 98.9M230.8 99L230.7 98.5M230.4 98.6A160.9 160.9 0 0 1 231.1 98.5M230.4 98.6L230.2 97.5M231.1 98.5L230.9 97.4M231.8 98.9L231.6 97.3M233.9 103.8L233.8 103.1M233.3 103.2A155.9 155.9 0 0 1 234.3 103.1M233.3 103.2L233.2 102.3M232.9 102.3A156.9 156.9 0 0 1 233.5 102.2M232.9 102.3L232.2 97.2M233.5 102.2L232.9 97.1M234.3 103.1L233.6 97.1M235.9 105.3L235.8 104.6M235.1 104.7A154.2 154.2 0 0 1 236.5 104.6M235.1 104.7L234.2 97M236.5 104.6L236.5 104.3M236 104.4A154.4 154.4 0 0 1 237 104.3M236 104.4L235.8 102.6M235.5 102.7A156.2 156.2 0 0 1 236.2 102.6M235.5 102.7L234.9 96.9M236.2 102.6L235.6 96.8M237 104.3L236.2 96.8M243.6 142.6L243.5 142.4M242.5 142.5A115.9 115.9 0 0 1 244.6 142.3M242.5 142.5L239.5 105.7M238.7 105.8A152.8 152.8 0 0 1 240.3 105.6M238.7 105.8L238.7 105.7M238.1 105.8A152.9 152.9 0 0 1 239.3 105.6M238.1 105.8L237.9 103.6M237.6 103.6A155 155 0 0 1 238.2 103.6M237.6 103.6L236.9 96.7M238.2 103.6L237.6 96.6M239.3 105.6L238.9 100.2M238.6 100.2A158.4 158.4 0 0 1 239.2 100.1M238.6 100.2L238.3 96.6M239.2 100.1L238.9 96.5M240.3 105.6L239.6 96.5M244.6 142.3L242.8 114.3M241.9 114.3A144 144 0 0 1 243.6 114.2M241.9 114.3L240.8 99.2M240.5 99.2A159.2 159.2 0 0 1 241.1 99.2M240.5 99.2L240.3 96.4M241.1 99.2L240.9 96.4M243.6 114.2L243.4 110.5M242.8 110.5A147.8 147.8 0 0 1 244 110.4M242.8 110.5L242.7 108.6M242.4 108.6A149.7 149.7 0 0 1 243 108.5M242.4 108.6L241.6 96.3M243 108.5L242.3 96.3M244 110.4L243.6 102.8M243.3 102.8A155.5 155.5 0 0 1 243.9 102.7M243.3 102.8L242.9 96.3M243.9 102.7L243.6 96.2M257.1 170.2L257.6 162.2M253.4 162A96 96 0 0 1 261.8 162.5M253.4 162L253.4 161.7M249.8 161.7A96.3 96.3 0 0 1 257 161.8M249.8 161.7L248.5 106.2M246.1 106.3A151.8 151.8 0 0 1 251 106.2M246.1 106.3L246 103.8M245 103.8A154.3 154.3 0 0 1 247 103.7M245 103.8L244.9 101.7M244.5 101.7A156.5 156.5 0 0 1 245.2 101.7M244.5 101.7L244.3 96.2M245.2 101.7L245 96.2M247 103.7L246.9 101.8M246.2 101.8A156.3 156.3 0 0 1 247.6 101.8M246.2 101.8L246 97.5M245.7 97.6A160.6 160.6 0 0 1 246.3 97.5M245.7 97.6L245.6 96.1M246.3 97.5L246.3 96.1M247.6 101.8L247.6 101.4M247.1 101.4A156.7 156.7 0 0 1 248.1 101.4M247.1 101.4L247 96.1M248.1 101.4L248.1 101.1M247.8 101.2A156.9 156.9 0 0 1 248.4 101.1M247.8 101.2L247.6 96.1M248.4 101.1L248.3 96M251 106.2L251 106M249.5 106A152 152 0 0 1 252.6 106M249.5 106L249.4 100.5M249.1 100.5A157.5 157.5 0 0 1 249.7 100.5M249.1 100.5L249 96M249.7 100.5L249.7 96M252.6 106L252.6 101.9M251.4 101.9A156.1 156.1 0 0 1 253.8 101.9M251.4 101.9L251.3 100.7M250.7 100.7A157.3 157.3 0 0 1 252 100.7M250.7 100.7L250.7 98.4M250.3 98.4A159.6 159.6 0 0 1 251 98.4M250.3 98.4L250.3 96M251 98.4L251 96M252 100.7L252 97.3M251.7 97.3A160.7 160.7 0 0 1 252.3 97.3M251.7 97.3L251.7 96M252.3 97.3L252.3 96M253.8 101.9L253.8 98.2M253.3 98.2A159.8 159.8 0 0 1 254.3 98.2M253.3 98.2L253.3 97.5M253 97.5A160.5 160.5 0 0 1 253.7 97.5M253 97.5L253 96M253.7 97.5L253.7 96M254.3 98.2L254.3 96M257 161.8L258 142.1M255.3 142A116.1 116.1 0 0 1 260.7 142.2M255.3 142L256.2 109.1M255.1 109A149 149 0 0 1 257.3 109.1M255.1 109L255.2 105.3M254.8 105.3A152.7 152.7 0 0 1 255.5 105.3M254.8 105.3L255 96M255.5 105.3L255.7 96M257.3 109.1L257.4 107.2M256.1 107.1A150.9 150.9 0 0 1 258.8 107.2M256.1 107.1L256.4 96.1M258.8 107.2L258.8 106.8M257.6 106.8A151.3 151.3 0 0 1 259.9 106.9M257.6 106.8L257.7 105.7M257.1 105.6A152.4 152.4 0 0 1 258.3 105.7M257.1 105.6L257.1 105.1M256.8 105.1A153 153 0 0 1 257.4 105.1M256.8 105.1L257 96.1M257.4 105.1L257.7 96.1M258.3 105.7L258.7 97.3M258.3 97.3A160.8 160.8 0 0 1 259 97.3M258.3 97.3L258.4 96.1M259 97.3L259 96.2M259.9 106.9L259.9 106.7M259.2 106.6A151.5 151.5 0 0 1 260.6 106.7M259.2 106.6L259.7 96.2M260.6 106.7L260.7 106.3M260.2 106.3A152 152 0 0 1 261.1 106.3M260.2 106.3L260.4 102.6M260.1 102.6A155.6 155.6 0 0 1 260.7 102.6M260.1 102.6L260.4 96.2M260.7 102.6L261.1 96.3M261.1 106.3L261.7 96.3M260.7 142.2L263.1 110.4M261.5 110.3A148 148 0 0 1 264.6 110.5M261.5 110.3L262.4 96.3M264.6 110.5L264.6 110.4M263.5 110.3A148.1 148.1 0 0 1 265.8 110.5M263.5 110.3L263.8 106.3M262.7 106.2A152.2 152.2 0 0 1 264.8 106.4M262.7 106.2L262.9 103M262.6 103A155.4 155.4 0 0 1 263.3 103M262.6 103L263.1 96.4M263.3 103L263.7 96.4M264.8 106.4L265 104.4M264.3 104.3A154.2 154.2 0 0 1 265.7 104.4M264.3 104.3L264.3 104.1M263.8 104A154.4 154.4 0 0 1 264.8 104.1M263.8 104L264.4 96.5M264.8 104.1L264.8 103.8M264.5 103.8A154.7 154.7 0 0 1 265.1 103.9M264.5 103.8L265.1 96.5M265.1 103.9L265.7 96.6M265.7 104.4L266.4 96.6M265.8 110.5L267.1 96.7M261.8 162.5L262.8 152.9M262.5 152.8A105.7 105.7 0 0 1 263.1 152.9M262.5 152.8L262.5 152.6M262.3 152.5A106 106 0 0 1 262.7 152.6M262.3 152.5L267.8 96.8M262.7 152.6L268.4 96.8M263.1 152.9L269.1 96.9M258 255.4L258 255.4M257.4 254.3A6.5 6.5 0 0 1 258.3 256.5M257.4 254.3L272.6 243.9M269.3 239.9A25 25 0 0 1 275.1 248.4M269.3 239.9L278.3 230.5M273.9 226.9A38 38 0 0 1 282.1 234.8M273.9 226.9L279.6 218.7M273.8 215.3A48 48 0 0 1 284.8 223M273.8 215.3L277.5 208.1M270.1 205A56 56 0 0 1 284.4 212.3M270.1 205L273 196.5M266.5 194.6A65 65 0 0 1 279.2 199M266.5 194.6L268.8 184.9M263.6 183.9A75 75 0 0 1 273.9 186.3M263.6 183.9L272.3 127.6M270.1 127.2A132 132 0 0 1 274.6 127.9M270.1 127.2L270.3 125.7M269 125.5A133.6 133.6 0 0 1 271.6 125.9M269 125.5L271.3 107.5M270 107.3A151.7 151.7 0 0 1 272.7 107.7M270 107.3L270 107.3M269.1 107.2A151.8 151.8 0 0 1 270.8 107.4M269.1 107.2L269.7 102.3M269.2 102.2A156.7 156.7 0 0 1 270.1 102.3M269.2 102.2L269.8 97M270.1 102.3L270.7 97.3M270.4 97.3A161.8 161.8 0 0 1 271.1 97.3M270.4 97.3L270.4 97.1M271.1 97.3L271.1 97.1M270.8 107.4L271.7 100.2M271.4 100.1A159.1 159.1 0 0 1 272.1 100.2M271.4 100.1L271.8 97.2M272.1 100.2L272.4 97.3M272.7 107.7L272.7 107.6M272.1 107.5A151.8 151.8 0 0 1 273.3 107.7M272.1 107.5L273.1 99.8M272.8 99.8A159.6 159.6 0 0 1 273.4 99.9M272.8 99.8L273.1 97.4M273.4 99.9L273.8 97.5M273.3 107.7L274.6 98.9M274.2 98.9A160.6 160.6 0 0 1 274.9 99M274.2 98.9L274.4 97.6M274.9 99L275.1 97.7M271.6 125.9L275.7 97.8M274.6 127.9L278.6 104.7M276.4 104.3A155.6 155.6 0 0 1 280.8 105.1M276.4 104.3L276.5 103.8M275.8 103.7A156.1 156.1 0 0 1 277.1 103.9M275.8 103.7L276.5 99.7M276.1 99.7A160.1 160.1 0 0 1 276.8 99.8M276.1 99.7L276.4 97.9M276.8 99.8L277.1 98M277.1 103.9L277.8 100M277.4 99.9A160.1 160.1 0 0 1 278.1 100M277.4 99.9L277.7 98.1M278.1 100L278.4 98.2M280.8 105.1L280.8 105M279.4 104.7A155.7 155.7 0 0 1 282.3 105.3M279.4 104.7L279.4 104.6M278.5 104.4A155.8 155.8 0 0 1 280.3 104.8M278.5 104.4L279.2 100.7M278.7 100.6A159.7 159.7 0 0 1 279.7 100.8M278.7 100.6L279.1 98.3M279.7 100.8L279.9 99.4M279.6 99.4A161 161 0 0 1 280.2 99.5M279.6 99.4L279.7 98.4M280.2 99.5L280.4 98.5M280.3 104.8L280.6 103.1M280.2 103A157.5 157.5 0 0 1 280.9 103.2M280.2 103L281 98.6M280.9 103.2L281.7 98.7M282.3 105.3L282.4 104.9M281.3 104.7A156.1 156.1 0 0 1 283.4 105.1M281.3 104.7L282.4 98.9M283.4 105.1L284 102.5M283 102.3A158.7 158.7 0 0 1 285 102.7M283 102.3L283.2 101.4M282.6 101.3A159.7 159.7 0 0 1 283.7 101.5M282.6 101.3L283 99M283.7 101.5L283.8 101.3M283.3 101.2A159.9 159.9 0 0 1 284.2 101.4M283.3 101.2L283.7 99.1M284.2 101.4L284.4 100.8M284 100.7A160.5 160.5 0 0 1 284.7 100.9M284 100.7L284.3 99.3M284.7 100.9L285 99.4M285 102.7L285.7 99.5M273.9 186.3L284.7 150.9M280.9 149.8A112 112 0 0 1 288.6 152.1M280.9 149.8L286.3 129.4M282.5 128.4A133.1 133.1 0 0 1 290.1 130.5M282.5 128.4L283.4 124.6M281.3 124.1A137.1 137.1 0 0 1 285.5 125.1M281.3 124.1L285.6 104.7M285.2 104.6A156.9 156.9 0 0 1 285.9 104.8M285.2 104.6L286.3 99.7M285.9 104.8L287 99.8M285.5 125.1L285.6 125M283.7 124.5A137.2 137.2 0 0 1 287.4 125.4M283.7 124.5L283.7 124.4M282.6 124.1A137.3 137.3 0 0 1 284.9 124.7M282.6 124.1L282.6 124M282.2 123.9A137.5 137.5 0 0 1 283.1 124.1M282.2 123.9L287.6 100M283.1 124.1L285.1 115.2M284.8 115.1A146.6 146.6 0 0 1 285.4 115.3M284.8 115.1L288.3 100.1M285.4 115.3L288.9 100.3M284.9 124.7L289.6 105.3M288.8 105.1A157.3 157.3 0 0 1 290.5 105.5M288.8 105.1L289.4 102.7M289.1 102.6A159.8 159.8 0 0 1 289.7 102.8M289.1 102.6L289.6 100.4M289.7 102.8L290.2 100.6M290.5 105.5L290.5 105.4M289.8 105.3A157.3 157.3 0 0 1 291.2 105.6M289.8 105.3L290.9 100.7M291.2 105.6L291.2 105.5M290.8 105.4A157.5 157.5 0 0 1 291.7 105.6M290.8 105.4L291.4 102.7M291.1 102.6A160.2 160.2 0 0 1 291.8 102.8M291.1 102.6L291.5 100.9M291.8 102.8L292.2 101.1M291.7 105.6L292.8 101.2M287.4 125.4L291.1 111.5M290.8 111.5A151.6 151.6 0 0 1 291.4 111.6M290.8 111.5L293.5 101.4M291.4 111.6L294.1 101.6M290.1 130.5L294.8 114.7M293.1 114.2A149.6 149.6 0 0 1 296.5 115.2M293.1 114.2L293.2 114M292.1 113.7A149.8 149.8 0 0 1 294.2 114.3M292.1 113.7L292.5 112.3M292 112.1A151.3 151.3 0 0 1 293 112.4M292 112.1L294.8 101.8M293 112.4L295.3 104.4M294.8 104.2A159.6 159.6 0 0 1 295.8 104.5M294.8 104.2L295.4 101.9M295.8 104.5L296.3 102.5M296 102.4A161.7 161.7 0 0 1 296.6 102.6M296 102.4L296.1 102.1M296.6 102.6L296.7 102.3M294.2 114.3L296.8 105.5M296.5 105.4A159 159 0 0 1 297.2 105.6M296.5 105.4L297.4 102.5M297.2 105.6L298 102.7M296.5 115.2L296.6 115.1M295.6 114.8A149.6 149.6 0 0 1 297.6 115.5M295.6 114.8L296.3 112.3M295.9 112.1A152.3 152.3 0 0 1 296.8 112.4M295.9 112.1L298.7 102.9M296.8 112.4L298.4 107.1M298.1 107A157.9 157.9 0 0 1 298.7 107.1M298.1 107L299.3 103.1M298.7 107.1L299.9 103.3M297.6 115.5L297.6 115.4M296.9 115.2A149.7 149.7 0 0 1 298.2 115.7M296.9 115.2L300.6 103.5M298.2 115.7L300.3 109.2M299.9 109.1A156.4 156.4 0 0 1 300.8 109.4M299.9 109.1L300.5 107.2M300.1 107.1A158.4 158.4 0 0 1 300.8 107.3M300.1 107.1L301.2 103.7M300.8 107.3L301.9 103.9M300.8 109.4L302.5 104.1M288.6 152.1L302 113.3M301.1 113A153.1 153.1 0 0 1 302.9 113.6M301.1 113L303.2 106.6M302.8 106.5A159.8 159.8 0 0 1 303.7 106.8M302.8 106.5L303.2 105.2M302.9 105.1A161.1 161.1 0 0 1 303.5 105.3M302.9 105.1L303.1 104.3M303.5 105.3L303.8 104.5M303.7 106.8L304.4 104.7M302.9 113.6L303.2 112.7M302.5 112.4A154.1 154.1 0 0 1 304 112.9M302.5 112.4L305.1 104.9M304 112.9L304.8 110.6M304.2 110.4A156.6 156.6 0 0 1 305.4 110.8M304.2 110.4L305.5 106.7M305.2 106.5A160.5 160.5 0 0 1 305.8 106.8M305.2 106.5L305.7 105.2M305.8 106.8L306.3 105.4M305.4 110.8L307 106.6M306.6 106.5A161.1 161.1 0 0 1 307.3 106.7M306.6 106.5L307 105.6M307.3 106.7L307.6 105.8M279.2 199L291.7 171.7M289 170.5A95 95 0 0 1 294.4 173M289 170.5L289.1 170.2M286.6 169.2A95.3 95.3 0 0 1 291.6 171.3M286.6 169.2L290.2 160.1M288.8 159.6A105.1 105.1 0 0 1 291.6 160.7M288.8 159.6L298.3 134M297.9 133.9A132.4 132.4 0 0 1 298.7 134.1M297.9 133.9L308.2 106.1M298.7 134.1L306.8 112.6M306.5 112.5A155.4 155.4 0 0 1 307.1 112.7M306.5 112.5L308.8 106.3M307.1 112.7L309.5 106.5M291.6 160.7L306.9 123.1M305.1 122.4A145.7 145.7 0 0 1 308.7 123.8M305.1 122.4L305.2 121.9M304.7 121.7A146.1 146.1 0 0 1 305.8 122.2M304.7 121.7L305.4 119.8M305.1 119.7A148.1 148.1 0 0 1 305.7 119.9M305.1 119.7L310.1 106.8M305.7 119.9L310.7 107M305.8 122.2L308.6 115M308.3 114.9A153.8 153.8 0 0 1 308.9 115.1M308.3 114.9L311.3 107.3M308.9 115.1L312 107.5M308.7 123.8L308.7 123.8M307.4 123.3A145.7 145.7 0 0 1 310 124.4M307.4 123.3L311.8 112.5M311.2 112.2A157.3 157.3 0 0 1 312.5 112.8M311.2 112.2L312.4 109.1M312.1 109A160.7 160.7 0 0 1 312.7 109.2M312.1 109L312.6 107.8M312.7 109.2L313.2 108M312.5 112.8L312.7 112.4M312.2 112.2A157.7 157.7 0 0 1 313.1 112.6M312.2 112.2L313.8 108.3M313.1 112.6L313.9 110.7M313.6 110.6A159.7 159.7 0 0 1 314.2 110.9M313.6 110.6L314.5 108.5M314.2 110.9L315.1 108.8M310 124.4L314 115.2M313.5 115A155.7 155.7 0 0 1 314.4 115.3M313.5 115L315.5 110.5M315.1 110.3A160.6 160.6 0 0 1 315.8 110.6M315.1 110.3L315.7 109M315.8 110.6L316.3 109.3M314.4 115.3L316.9 109.6M291.6 171.3L313 124.4M312.1 124A146.9 146.9 0 0 1 313.8 124.7M312.1 124L312.1 123.9M311.7 123.7A146.9 146.9 0 0 1 312.6 124.1M311.7 123.7L316.6 112.8M316.3 112.7A158.9 158.9 0 0 1 316.9 113M316.3 112.7L317.5 109.9M316.9 113L318.2 110.1M312.6 124.1L318.8 110.4M313.8 124.7L314.1 124M313.7 123.8A147.7 147.7 0 0 1 314.5 124.2M313.7 123.8L317 116.6M316.7 116.5A155.6 155.6 0 0 1 317.3 116.8M316.7 116.5L319.4 110.7M317.3 116.8L320 111M314.5 124.2L320.6 111.2M294.4 173L295.4 170.9M294.1 170.3A97.3 97.3 0 0 1 296.7 171.6M294.1 170.3L317 122.7M316.4 122.4A150.1 150.1 0 0 1 317.5 123M316.4 122.4L316.4 122.4M316.1 122.2A150.2 150.2 0 0 1 316.7 122.5M316.1 122.2L321.2 111.5M316.7 122.5L321.8 111.8M317.5 123L319.9 118M319.7 117.8A155.7 155.7 0 0 1 320.2 118.1M319.7 117.8L322.4 112.1M320.2 118.1L323 112.4M296.7 171.6L321.5 123.8M319.7 122.9A151.1 151.1 0 0 1 323.3 124.7M319.7 122.9L319.7 122.8M318.8 122.4A151.1 151.1 0 0 1 320.5 123.3M318.8 122.4L323.6 112.7M320.5 123.3L320.8 122.7M319.7 122.2A151.7 151.7 0 0 1 321.9 123.3M319.7 122.2L324.2 113M321.9 123.3L324 119.3M323.1 118.8A156.3 156.3 0 0 1 324.8 119.7M323.1 118.8L323.7 117.6M323.2 117.3A157.7 157.7 0 0 1 324.3 117.9M323.2 117.3L325 113.7M324.7 113.5A161.8 161.8 0 0 1 325.3 113.8M324.7 113.5L324.8 113.3M325.3 113.8L325.4 113.6M324.3 117.9L325.2 116.2M324.9 116A159.6 159.6 0 0 1 325.5 116.3M324.9 116L326 113.9M325.5 116.3L326.6 114.2M324.8 119.7L327.2 115.2M327 115A161.4 161.4 0 0 1 327.5 115.3M327 115L327.2 114.5M327.5 115.3L327.8 114.8M323.3 124.7L328.4 115.1M284.4 212.3L304 184.6M301.5 182.8A90 90 0 0 1 306.6 186.4M301.5 182.8L301.7 182.5M298.9 180.7A90.4 90.4 0 0 1 304.4 184.4M298.9 180.7L303.5 173M300.7 171.4A99.4 99.4 0 0 1 306.3 174.8M300.7 171.4L319.7 137.5M318.2 136.7A138.3 138.3 0 0 1 321.2 138.3M318.2 136.7L320.7 132.2M320.1 131.9A143.4 143.4 0 0 1 321.2 132.5M320.1 131.9L329 115.5M321.2 132.5L322.1 130.9M321.5 130.5A145.2 145.2 0 0 1 322.7 131.2M321.5 130.5L329.6 115.8M322.7 131.2L325.5 126.2M324.8 125.8A151 151 0 0 1 326.2 126.5M324.8 125.8L330.2 116.1M326.2 126.5L327.1 124.9M326.6 124.6A152.9 152.9 0 0 1 327.7 125.2M326.6 124.6L328.6 120.9M328.4 120.7A157.1 157.1 0 0 1 328.9 121.1M328.4 120.7L330.8 116.4M328.9 121.1L331.3 116.8M327.7 125.2L328.1 124.5M327.8 124.3A153.7 153.7 0 0 1 328.4 124.6M327.8 124.3L331.9 117.1M328.4 124.6L332.5 117.4M321.2 138.3L333.1 117.8M306.3 174.8L306.5 174.5M305 173.6A99.7 99.7 0 0 1 307.9 175.5M305 173.6L318.7 151.8M316.7 150.6A125.4 125.4 0 0 1 320.6 153M316.7 150.6L331.8 125.6M330.2 124.6A154.6 154.6 0 0 1 333.4 126.5M330.2 124.6L330.2 124.6M330 124.5A154.6 154.6 0 0 1 330.5 124.8M330 124.5L333.7 118.1M330.5 124.8L334.3 118.4M333.4 126.5L334 125.5M333.1 124.9A155.8 155.8 0 0 1 335 126.1M333.1 124.9L333.5 124.1M332.8 123.7A156.7 156.7 0 0 1 334.2 124.6M332.8 123.7L333.8 122.1M333.4 121.9A158.6 158.6 0 0 1 334.2 122.4M333.4 121.9L334.9 119.3M334.7 119.1A161.6 161.6 0 0 1 335.2 119.4M334.7 119.1L334.8 118.8M335.2 119.4L335.4 119.1M334.2 122.4L336 119.5M334.2 124.6L335.5 122.5M335.1 122.3A159.1 159.1 0 0 1 335.9 122.8M335.1 122.3L336.6 119.8M335.9 122.8L337 121M336.7 120.8A161.2 161.2 0 0 1 337.3 121.2M336.7 120.8L337.1 120.2M337.3 121.2L337.7 120.5M335 126.1L338.3 120.9M320.6 153L336 129.5M335.3 129A153.5 153.5 0 0 1 336.7 129.9M335.3 129L335.4 128.9M334.8 128.5A153.7 153.7 0 0 1 336 129.3M334.8 128.5L337.2 124.7M336.8 124.5A158.2 158.2 0 0 1 337.6 125M336.8 124.5L338.8 121.2M337.6 125L338.5 123.6M338.2 123.4A159.9 159.9 0 0 1 338.8 123.8M338.2 123.4L339.4 121.6M338.8 123.8L340 122M336 129.3L340.5 122.3M336.7 129.9L339.3 125.9M339.1 125.8A158.3 158.3 0 0 1 339.6 126.1M339.1 125.8L341.1 122.7M339.6 126.1L341.7 123.1M307.9 175.5L324.7 150.7M324.4 150.5A129.6 129.6 0 0 1 325.1 151M324.4 150.5L330.7 141.2M330.4 141A140.8 140.8 0 0 1 330.9 141.4M330.4 141L342.2 123.4M330.9 141.4L342.8 123.8M325.1 151L343.3 124.2M304.4 184.4L335.7 140.3M335.1 139.9A144.4 144.4 0 0 1 336.4 140.8M335.1 139.9L337.8 136M337.1 135.4A149.2 149.2 0 0 1 338.6 136.6M337.1 135.4L343.4 126.3M342.9 126A160.3 160.3 0 0 1 343.9 126.6M342.9 126L343.9 124.6M343.9 126.6L344.4 125.9M344 125.6A161.2 161.2 0 0 1 344.8 126.2M344 125.6L344.4 125M344.8 126.2L345.1 125.7M344.8 125.5A161.8 161.8 0 0 1 345.4 125.9M344.8 125.5L345 125.3M345.4 125.9L345.5 125.7M338.6 136.6L346.1 126.1M336.4 140.8L346.6 126.5M306.6 186.4L313.5 177.4M312.6 176.8A101.3 101.3 0 0 1 314.3 178M312.6 176.8L322.6 163.5M321.9 163A117.9 117.9 0 0 1 323.2 164M321.9 163L338.8 140.1M338 139.5A146.4 146.4 0 0 1 339.5 140.7M338 139.5L347.2 126.9M339.5 140.7L342.6 136.5M342.2 136.2A151.5 151.5 0 0 1 343 136.9M342.2 136.2L344.6 133M344.2 132.7A155.6 155.6 0 0 1 345 133.2M344.2 132.7L345.7 130.5M345.5 130.3A158.2 158.2 0 0 1 346 130.7M345.5 130.3L347.7 127.3M346 130.7L348.3 127.7M345 133.2L348.8 128.1M343 136.9L349.3 128.5M323.2 164L349.9 128.9M314.3 178L316.2 175.6M315.9 175.3A104.5 104.5 0 0 1 316.5 175.8M315.9 175.3L336.4 148.8M336 148.6A138 138 0 0 1 336.7 149.1M336 148.6L343.7 138.6M343.4 138.4A150.5 150.5 0 0 1 343.9 138.8M343.4 138.4L350.4 129.3M343.9 138.8L350.9 129.7M336.7 149.1L351.5 130.1M316.5 175.8L352 130.5M284.8 223L306.7 199.6M304.1 197.3A80 80 0 0 1 309.2 202.1M304.1 197.3L309.2 191.3M307.8 190.1A87.9 87.9 0 0 1 310.5 192.5M307.8 190.1L345.2 144.7M344.1 143.8A146.7 146.7 0 0 1 346.3 145.6M344.1 143.8L344.6 143.1M343.5 142.3A147.5 147.5 0 0 1 345.6 143.9M343.5 142.3L352.5 131M345.6 143.9L345.9 143.6M345.1 142.9A148 148 0 0 1 346.7 144.2M345.1 142.9L348 139.3M347.2 138.7A152.6 152.6 0 0 1 348.7 139.9M347.2 138.7L353 131.4M348.7 139.9L349.7 138.8M349.2 138.4A154.1 154.1 0 0 1 350.1 139.2M349.2 138.4L351.6 135.5M351.2 135.2A157.9 157.9 0 0 1 352 135.8M351.2 135.2L352.1 134.2M351.8 134A159.2 159.2 0 0 1 352.3 134.4M351.8 134L353.6 131.8M352.3 134.4L354.1 132.2M352 135.8L354.6 132.6M350.1 139.2L355.1 133.1M346.7 144.2L355.6 133.5M346.3 145.6L356.2 133.9M310.5 192.5L339.4 160.1M338 158.8A131.3 131.3 0 0 1 340.9 161.3M338 158.8L343.6 152.3M342.4 151.2A139.9 139.9 0 0 1 344.8 153.4M342.4 151.2L356.7 134.4M344.8 153.4L345.7 152.5M344.8 151.7A141.1 141.1 0 0 1 346.5 153.2M344.8 151.7L348.6 147.4M347.9 146.8A146.8 146.8 0 0 1 349.3 148M347.9 146.8L351.9 142.2M351.5 141.9A152.9 152.9 0 0 1 352.2 142.5M351.5 141.9L351.8 141.5M351.6 141.3A153.4 153.4 0 0 1 352.1 141.7M351.6 141.3L357.2 134.8M352.1 141.7L357.7 135.2M352.2 142.5L358.2 135.7M349.3 148L351.1 146M350.7 145.7A149.5 149.5 0 0 1 351.4 146.3M350.7 145.7L358.8 136.5M358.6 136.3A161.8 161.8 0 0 1 359.1 136.7M358.6 136.3L358.7 136.1M359.1 136.7L359.2 136.6M351.4 146.3L359.7 137M346.5 153.2L347.4 152.1M347.2 151.9A142.5 142.5 0 0 1 347.7 152.3M347.2 151.9L360.2 137.4M347.7 152.3L360.7 137.9M340.9 161.3L352.8 148.4M352.4 148A148.9 148.9 0 0 1 353.2 148.8M352.4 148L361.2 138.3M353.2 148.8L353.7 148.2M353.3 147.9A149.6 149.6 0 0 1 354 148.5M353.3 147.9L361.7 138.8M354 148.5L357.1 145.2M356.9 145A154.2 154.2 0 0 1 357.4 145.4M356.9 145L362.2 139.3M357.4 145.4L362.7 139.7M309.2 202.1L309.5 201.8M308 200.3A80.4 80.4 0 0 1 311 203.4M308 200.3L341.2 166.1M340.5 165.4A128.1 128.1 0 0 1 341.9 166.8M340.5 165.4L348.8 156.7M348.4 156.3A140.2 140.2 0 0 1 349.2 157.1M348.4 156.3L362.4 141.4M362.2 141.2A160.6 160.6 0 0 1 362.7 141.7M362.2 141.2L363.2 140.2M362.7 141.7L363.7 140.6M349.2 157.1L351 155.2M350.8 155A142.7 142.7 0 0 1 351.2 155.4M350.8 155L364.2 141.1M351.2 155.4L364.6 141.6M341.9 166.8L345.4 163.2M345.1 162.9A133.1 133.1 0 0 1 345.7 163.5M345.1 162.9L357 150.8M356.8 150.6A150.1 150.1 0 0 1 357.2 151M356.8 150.6L365.1 142M357.2 151L365.6 142.5M345.7 163.5L366.1 143M311 203.4L319.5 195.5M318.6 194.7A91.9 91.9 0 0 1 320.3 196.4M318.6 194.7L330.1 183.8M328.8 182.5A107.7 107.7 0 0 1 331.3 185.1M328.8 182.5L329 182.3M328.5 181.8A108 108 0 0 1 329.6 182.8M328.5 181.8L339.1 171.3M338.9 171.1A122.9 122.9 0 0 1 339.3 171.5M338.9 171.1L366.6 143.4M339.3 171.5L367 143.9M329.6 182.8L350.5 162.5M349.8 161.8A137.2 137.2 0 0 1 351.2 163.3M349.8 161.8L367.5 144.4M351.2 163.3L351.3 163.2M350.7 162.6A137.3 137.3 0 0 1 351.9 163.8M350.7 162.6L360.6 153.1M360.1 152.6A151 151 0 0 1 361.1 153.6M360.1 152.6L368 144.9M361.1 153.6L362 152.7M361.7 152.4A152.3 152.3 0 0 1 362.3 153M361.7 152.4L367.9 146.3M367.7 146.1A160.9 160.9 0 0 1 368.1 146.6M367.7 146.1L368.4 145.4M368.1 146.6L368.9 145.8M362.3 153L369.4 146.3M351.9 163.8L369.8 146.8M331.3 185.1L351.9 166.1M351.6 165.8A135.7 135.7 0 0 1 352.3 166.5M351.6 165.8L354.7 162.9M354.4 162.5A140 140 0 0 1 355 163.2M354.4 162.5L363.4 154.2M363.1 154A152.2 152.2 0 0 1 363.6 154.5M363.1 154L370.3 147.3M363.6 154.5L370.7 147.8M355 163.2L371.2 148.3M352.3 166.5L371.7 148.8M320.3 196.4L348.7 170.9M348.5 170.7A130.2 130.2 0 0 1 348.9 171.1M348.5 170.7L372.1 149.3M348.9 171.1L372.6 149.8M282.1 234.8L319.2 206M316.4 202.6A85 85 0 0 1 321.9 209.6M316.4 202.6L341.3 181.2M340.4 180.3A117.8 117.8 0 0 1 342.1 182.2M340.4 180.3L340.6 180.1M340.3 179.7A118 118 0 0 1 340.9 180.5M340.3 179.7L349.6 171.4M349.5 171.2A130.5 130.5 0 0 1 349.8 171.6M349.5 171.2L373 150.3M349.8 171.6L373.4 150.8M340.9 180.5L361.7 162.4M361.5 162.1A145.6 145.6 0 0 1 361.9 162.6M361.5 162.1L373.9 151.3M361.9 162.6L374.3 151.8M342.1 182.2L345.6 179.3M344.7 178.2A122.3 122.3 0 0 1 346.4 180.3M344.7 178.2L374.8 152.3M346.4 180.3L353.5 174.5M352.5 173.3A131.4 131.4 0 0 1 354.6 175.8M352.5 173.3L371 157.7M370.4 156.9A155.6 155.6 0 0 1 371.6 158.4M370.4 156.9L375.2 152.8M371.6 158.4L371.7 158.3M370.9 157.3A155.8 155.8 0 0 1 372.5 159.2M370.9 157.3L375.6 153.3M372.5 159.2L373.2 158.6M372.7 158A156.8 156.8 0 0 1 373.7 159.2M372.7 158L373.1 157.7M372.6 157.2A157.2 157.2 0 0 1 373.5 158.2M372.6 157.2L373.8 156.2M373.6 155.9A158.8 158.8 0 0 1 374 156.4M373.6 155.9L376.1 153.8M374 156.4L376.5 154.4M373.5 158.2L376.2 155.9M376 155.6A160.8 160.8 0 0 1 376.4 156.2M376 155.6L376.9 154.9M376.4 156.2L377.4 155.4M373.7 159.2L377.8 155.9M354.6 175.8L361.5 170.2M361.3 170A140.4 140.4 0 0 1 361.7 170.5M361.3 170L378.2 156.4M361.7 170.5L378.6 157M321.9 209.6L332.2 202.5M329.6 199A97.5 97.5 0 0 1 334.5 206M329.6 199L330.5 198.4M329.9 197.7A98.5 98.5 0 0 1 331 199.1M329.9 197.7L361.2 173.5M360.6 172.9A138 138 0 0 1 361.7 174.2M360.6 172.9L360.8 172.8M360.4 172.2A138.2 138.2 0 0 1 361.2 173.3M360.4 172.2L379 157.5M361.2 173.3L361.9 172.7M361.6 172.4A139.1 139.1 0 0 1 362.2 173M361.6 172.4L366.8 168.4M366.6 168.1A145.6 145.6 0 0 1 366.9 168.6M366.6 168.1L379.5 158M366.9 168.6L379.9 158.5M362.2 173L380.3 159.1M361.7 174.2L380.7 159.6M331 199.1L362.2 175.8M361.6 174.9A137.5 137.5 0 0 1 362.9 176.6M361.6 174.9L381.1 160.1M362.9 176.6L363 176.6M362.5 176A137.6 137.6 0 0 1 363.4 177.1M362.5 176L369.4 170.9M369.1 170.4A146.2 146.2 0 0 1 369.8 171.4M369.1 170.4L378.7 163.2M378.5 162.9A158.3 158.3 0 0 1 378.9 163.5M378.5 162.9L381.5 160.7M378.9 163.5L381.9 161.2M369.8 171.4L372.8 169.1M372.6 168.9A150 150 0 0 1 373 169.4M372.6 168.9L382.3 161.7M373 169.4L382.7 162.3M363.4 177.1L383.1 162.8M334.5 206L334.8 205.9M333.5 203.8A97.8 97.8 0 0 1 336.1 207.9M333.5 203.8L340.9 198.9M339.6 197A106.7 106.7 0 0 1 342.1 200.8M339.6 197L364.6 179.5M363.9 178.4A137.3 137.3 0 0 1 365.4 180.6M363.9 178.4L368 175.5M367.5 174.9A142.3 142.3 0 0 1 368.4 176.1M367.5 174.9L383.5 163.4M368.4 176.1L368.7 175.9M368.3 175.4A142.7 142.7 0 0 1 369.1 176.5M368.3 175.4L382.2 165.5M382 165.3A159.7 159.7 0 0 1 382.4 165.8M382 165.3L383.9 163.9M382.4 165.8L384.3 164.5M369.1 176.5L379.1 169.5M378.8 169.1A154.9 154.9 0 0 1 379.4 169.9M378.8 169.1L384.7 165M379.4 169.9L383.5 167.1M383.3 166.8A159.8 159.8 0 0 1 383.6 167.3M383.3 166.8L385 165.6M383.6 167.3L385.4 166.1M365.4 180.6L385.8 166.7M342.1 200.8L350.6 195.4M349.8 194.2A116.8 116.8 0 0 1 351.3 196.6M349.8 194.2L370.9 180.4M370.4 179.6A142 142 0 0 1 371.4 181.1M370.4 179.6L374.4 177M374 176.4A146.8 146.8 0 0 1 374.7 177.5M374 176.4L382.6 170.7M382.3 170.3A157.1 157.1 0 0 1 382.8 171.1M382.3 170.3L383.2 169.6M383 169.4A158.2 158.2 0 0 1 383.4 169.9M383 169.4L386.2 167.2M383.4 169.9L386.6 167.8M382.8 171.1L386.9 168.3M374.7 177.5L386.1 170.1M385.9 169.8A160.3 160.3 0 0 1 386.2 170.4M385.9 169.8L387.3 168.9M386.2 170.4L387.7 169.5M371.4 181.1L374.9 178.9M374.8 178.6A146.2 146.2 0 0 1 375.1 179.1M374.8 178.6L388 170M375.1 179.1L388.4 170.6M351.3 196.6L375.3 181.8M374.8 181.1A144.9 144.9 0 0 1 375.8 182.6M374.8 181.1L376.5 180M376.2 179.5A146.9 146.9 0 0 1 376.9 180.5M376.2 179.5L380.4 176.9M380.2 176.6A151.9 151.9 0 0 1 380.5 177.1M380.2 176.6L388.8 171.2M380.5 177.1L389.1 171.7M376.9 180.5L382.5 177M382.3 176.8A153.5 153.5 0 0 1 382.6 177.3M382.3 176.8L389.5 172.3M382.6 177.3L389.8 172.9M375.8 182.6L388.2 175M388.1 174.7A159.5 159.5 0 0 1 388.4 175.3M388.1 174.7L390.2 173.4M388.4 175.3L390.5 174M336.1 207.9L375.5 184.5M375.2 184A143.7 143.7 0 0 1 375.8 184.9M375.2 184L390.9 174.6M375.8 184.9L376 184.8M375.7 184.4A144 144 0 0 1 376.3 185.3M375.7 184.4L391.2 175.2M376.3 185.3L378.2 184.1M378 183.7A146.2 146.2 0 0 1 378.4 184.5M378 183.7L391.6 175.7M378.4 184.5L389.4 178.2M389.3 177.9A158.9 158.9 0 0 1 389.6 178.4M389.3 177.9L391.9 176.3M389.6 178.4L392.2 176.9M275.1 248.4L325.8 227.2M323.9 222.8A80 80 0 0 1 327.6 231.7M323.9 222.8L324.2 222.7M322.7 219.6A80.4 80.4 0 0 1 325.7 225.7M322.7 219.6L323 219.4M322.4 218.3A80.8 80.8 0 0 1 323.7 220.6M322.4 218.3L351.3 201.9M351.1 201.5A114.1 114.1 0 0 1 351.6 202.3M351.1 201.5L367 192.5M366.8 192.2A132.4 132.4 0 0 1 367.1 192.7M366.8 192.2L392.6 177.5M367.1 192.7L392.9 178.1M351.6 202.3L386.1 183M386 182.7A153.7 153.7 0 0 1 386.3 183.3M386 182.7L393.2 178.7M386.3 183.3L393.6 179.2M323.7 220.6L324 220.5M323.4 219.2A81.2 81.2 0 0 1 324.7 221.7M323.4 219.2L337.7 211.4M337.4 210.9A97.6 97.6 0 0 1 338 211.9M337.4 210.9L393.9 179.8M338 211.9L352.3 204.3M352 203.7A113.7 113.7 0 0 1 352.6 204.9M352 203.7L387.6 184.4M387.4 184.1A154.3 154.3 0 0 1 387.7 184.7M387.4 184.1L394.2 180.4M387.7 184.7L394.5 181M352.6 204.9L352.8 204.8M352.6 204.5A114 114 0 0 1 353 205.1M352.6 204.5L388.8 185.2M388.6 184.9A155 155 0 0 1 388.9 185.5M388.6 184.9L394.9 181.6M388.9 185.5L395.2 182.2M353 205.1L395.5 182.8M324.7 221.7L327.1 220.4M326.7 219.5A84 84 0 0 1 327.6 221.4M326.7 219.5L374 195.2M373.8 194.8A137.2 137.2 0 0 1 374.2 195.5M373.8 194.8L395.8 183.4M374.2 195.5L389 188M388.9 187.7A153.9 153.9 0 0 1 389.2 188.2M388.9 187.7L396.1 184M389.2 188.2L396.4 184.6M327.6 221.4L356.9 207.1M356.5 206.4A116.6 116.6 0 0 1 357.2 207.9M356.5 206.4L383.9 192.9M383.6 192.3A147.1 147.1 0 0 1 384.2 193.5M383.6 192.3L386.5 190.8M386.3 190.4A150.4 150.4 0 0 1 386.7 191.2M386.3 190.4L396.7 185.2M386.7 191.2L392.4 188.4M392.3 188.1A156.7 156.7 0 0 1 392.6 188.7M392.3 188.1L397 185.8M392.6 188.7L397.3 186.4M384.2 193.5L397.6 187M357.2 207.9L357.5 207.8M357.3 207.4A116.8 116.8 0 0 1 357.6 208.1M357.3 207.4L367.6 202.5M367.5 202.2A128.3 128.3 0 0 1 367.8 202.7M367.5 202.2L397.9 187.6M367.8 202.7L398.2 188.2M357.6 208.1L398.5 188.8M325.7 225.7L326 225.6M325.3 224A80.8 80.8 0 0 1 326.7 227.1M325.3 224L365.9 205.3M365.7 204.9A125.5 125.5 0 0 1 366.1 205.7M365.7 204.9L398.8 189.4M366.1 205.7L381.2 198.7M381 198.3A142.2 142.2 0 0 1 381.4 199.1M381 198.3L399 190M381.4 199.1L393.1 193.8M393 193.5A155 155 0 0 1 393.2 194.1M393 193.5L399.3 190.6M393.2 194.1L399.6 191.2M326.7 227.1L387.4 202M386.7 200.3A146.5 146.5 0 0 1 388.1 203.7M386.7 200.3L395.1 196.8M394.7 195.8A155.6 155.6 0 0 1 395.5 197.7M394.7 195.8L395.3 195.6M395 194.9A156.4 156.4 0 0 1 395.6 196.2M395 194.9L397.9 193.6M397.7 193.2A159.5 159.5 0 0 1 398.1 194.1M397.7 193.2L397.9 193.1M397.8 192.8A159.7 159.7 0 0 1 398 193.4M397.8 192.8L399.9 191.8M398 193.4L400.1 192.5M398.1 194.1L400.4 193.1M395.6 196.2L396.4 195.9M396.3 195.6A157.2 157.2 0 0 1 396.5 196.2M396.3 195.6L400.7 193.7M396.5 196.2L401 194.3M395.5 197.7L400.9 195.4M400.7 195.1A161.5 161.5 0 0 1 401 195.7M400.7 195.1L401.2 194.9M401 195.7L401.5 195.5M388.1 203.7L389.7 203.1M389.2 201.7A148.3 148.3 0 0 1 390.3 204.5M389.2 201.7L395.7 199M395.6 198.7A155.4 155.4 0 0 1 395.8 199.3M395.6 198.7L401.7 196.2M395.8 199.3L402 196.8M390.3 204.5L393 203.5M392.5 202.3A151.1 151.1 0 0 1 393.4 204.7M392.5 202.3L396.2 200.8M395.9 200A155.1 155.1 0 0 1 396.6 201.7M395.9 200L402.2 197.4M396.6 201.7L399.6 200.5M399.3 199.8A158.4 158.4 0 0 1 399.8 201.2M399.3 199.8L400 199.6M399.8 199.1A159.1 159.1 0 0 1 400.2 200M399.8 199.1L402.5 198M400.2 200L402.8 199M402.7 198.7A162 162 0 0 1 403 199.3M402.7 198.7L402.7 198.7M403 199.3L403 199.3M399.8 201.2L403.2 199.9M393.4 204.7L398.3 202.8M398.2 202.5A156.4 156.4 0 0 1 398.5 203.1M398.2 202.5L403.5 200.5M398.5 203.1L403.7 201.2M327.6 231.7L386.9 211.1M386.5 209.8A142.9 142.9 0 0 1 387.4 212.3M386.5 209.8L388 209.3M387.7 208.5A144.4 144.4 0 0 1 388.2 210.1M387.7 208.5L391.3 207.2M391 206.6A148.3 148.3 0 0 1 391.5 207.9M391 206.6L403.9 201.8M391.5 207.9L392.2 207.6M392 207.2A149 149 0 0 1 392.3 208.1M392 207.2L396.3 205.6M396.1 205.3A153.5 153.5 0 0 1 396.4 205.9M396.1 205.3L404.2 202.4M396.4 205.9L404.4 203M392.3 208.1L404.6 203.7M388.2 210.1L404.8 204.3M387.4 212.3L390.9 211M390.7 210.3A146.7 146.7 0 0 1 391.2 211.8M390.7 210.3L400.4 206.9M400.3 206.6A156.9 156.9 0 0 1 400.5 207.2M400.3 206.6L405.1 204.9M400.5 207.2L405.3 205.6M391.2 211.8L392.6 211.4M392.4 211A148.1 148.1 0 0 1 392.7 211.8M392.4 211L398.3 209M398.2 208.7A154.2 154.2 0 0 1 398.4 209.3M398.2 208.7L405.5 206.2M398.4 209.3L405.7 206.9M392.7 211.8L405.9 207.5M258.3 256.5L344.6 236.8M342.5 229.2A95 95 0 0 1 346 244.5M342.5 229.2L388.2 214.7M388.1 214.3A142.9 142.9 0 0 1 388.3 215.1M388.1 214.3L389.5 213.8M389.4 213.5A144.4 144.4 0 0 1 389.6 214.1M389.4 213.5L406.1 208.1M389.6 214.1L406.3 208.8M388.3 215.1L406.5 209.4M346 244.5L346.4 244.4M345.6 239.9A95.3 95.3 0 0 1 346.9 249M345.6 239.9L355.4 238M354.5 233.9A105.3 105.3 0 0 1 356.1 242.1M354.5 233.9L354.7 233.8M354 230.9A105.6 105.6 0 0 1 355.4 236.6M354 230.9L373 225.9M372.4 223.6A125.2 125.2 0 0 1 373.6 228.2M372.4 223.6L372.6 223.6M371.9 221.4A125.4 125.4 0 0 1 373.2 225.8M371.9 221.4L383.3 217.9M383.2 217.4A137.3 137.3 0 0 1 383.5 218.5M383.2 217.4L406.7 210.1M383.5 218.5L401.4 213.2M401.1 212.5A155.9 155.9 0 0 1 401.6 213.9M401.1 212.5L406.9 210.7M401.6 213.9L402.3 213.6M402.1 212.8A156.7 156.7 0 0 1 402.6 214.4M402.1 212.8L407.1 211.3M402.6 214.4L403.1 214.3M402.9 213.6A157.3 157.3 0 0 1 403.2 214.9M402.9 213.6L404 213.3M404 213A158.5 158.5 0 0 1 404.1 213.6M404 213L407.3 212M404.1 213.6L407.5 212.6M403.2 214.9L404.3 214.6M404.2 214.3A158.3 158.3 0 0 1 404.4 214.9M404.2 214.3L407.7 213.3M404.4 214.9L407.9 213.9M373.2 225.8L375.4 225.2M375.1 224.2A127.7 127.7 0 0 1 375.7 226.2M375.1 224.2L402.3 216.7M402.2 216.2A155.9 155.9 0 0 1 402.5 217.3M402.2 216.2L408.1 214.6M402.5 217.3L402.5 217.3M402.4 216.8A155.9 155.9 0 0 1 402.6 217.8M402.4 216.8L408.2 215.2M402.6 217.8L405.5 217M405.4 216.7A158.9 158.9 0 0 1 405.6 217.3M405.4 216.7L408.4 215.9M405.6 217.3L408.6 216.5M375.7 226.2L382.1 224.5M382 224.1A134.3 134.3 0 0 1 382.2 224.9M382 224.1L408.8 217.2M382.2 224.9L399.3 220.6M399.3 220.3A152 152 0 0 1 399.4 220.9M399.3 220.3L408.9 217.8M399.4 220.9L409.1 218.5M373.6 228.2L387.9 224.7M387.8 224.4A139.9 139.9 0 0 1 387.9 225M387.8 224.4L409.3 219.1M387.9 225L409.4 219.8M355.4 236.6L367.3 234.2M366.8 231.9A117.7 117.7 0 0 1 367.7 236.5M366.8 231.9L377.5 229.4M377.4 228.8A128.7 128.7 0 0 1 377.7 230.1M377.4 228.8L378.6 228.5M378.5 228.1A130 130 0 0 1 378.7 228.9M378.5 228.1L378.6 228.1M378.6 227.8A130.1 130.1 0 0 1 378.7 228.3M378.6 227.8L409.6 220.4M378.7 228.3L409.7 221.1M378.7 228.9L409.9 221.7M377.7 230.1L381.3 229.3M381.2 228.9A132.5 132.5 0 0 1 381.4 229.7M381.2 228.9L410 222.4M381.4 229.7L396.5 226.4M396.4 226.1A147.9 147.9 0 0 1 396.6 226.7M396.4 226.1L410.2 223M396.6 226.7L410.3 223.7M367.7 236.5L368 236.5M367.6 234.6A117.9 117.9 0 0 1 368.3 238.3M367.6 234.6L379.3 232.3M379.1 231.7A129.8 129.8 0 0 1 379.4 232.9M379.1 231.7L389.5 229.5M389.4 229.1A140.4 140.4 0 0 1 389.6 230M389.4 229.1L403.3 226.2M403.3 225.9A154.6 154.6 0 0 1 403.4 226.5M403.3 225.9L410.5 224.3M403.4 226.5L410.6 225M389.6 230L410.7 225.7M379.4 232.9L390.7 230.6M390.7 230.3A141.4 141.4 0 0 1 390.8 230.9M390.7 230.3L410.9 226.3M390.8 230.9L411 227M368.3 238.3L398.1 233.3M397.9 231.8A148.2 148.2 0 0 1 398.4 234.8M397.9 231.8L398.8 231.6M398.6 230.3A149.2 149.2 0 0 1 399.1 232.9M398.6 230.3L403.4 229.4M403.3 229.1A154 154 0 0 1 403.4 229.8M403.3 229.1L411.1 227.6M403.4 229.8L411.3 228.3M399.1 232.9L399.8 232.8M399.7 232A150 150 0 0 1 400 233.6M399.7 232L401.7 231.7M401.6 231.1A152 152 0 0 1 401.8 232.3M401.6 231.1L402.2 230.9M402.2 230.6A152.6 152.6 0 0 1 402.3 231.3M402.2 230.6L411.4 229M402.3 231.3L411.5 229.6M401.8 232.3L405.4 231.7M405.4 231.4A155.7 155.7 0 0 1 405.5 232M405.4 231.4L411.6 230.3M405.5 232L411.7 230.9M400 233.6L411.8 231.6M398.4 234.8L399.7 234.5M399.6 234.2A149.5 149.5 0 0 1 399.7 234.9M399.6 234.2L411.9 232.3M399.7 234.9L412 232.9M356.1 242.1L412.1 233.6M346.9 249L348.4 248.8M348.2 246.9A96.9 96.9 0 0 1 348.6 250.8M348.2 246.9L364.1 245.1M363.8 242.8A112.8 112.8 0 0 1 364.3 247.3M363.8 242.8L373.6 241.5M373.5 240.8A122.7 122.7 0 0 1 373.7 242.3M373.5 240.8L399.9 237M399.8 236.4A149.4 149.4 0 0 1 400 237.6M399.8 236.4L399.9 236.4M399.9 236.1A149.5 149.5 0 0 1 400 236.7M399.9 236.1L412.2 234.3M400 236.7L412.3 234.9M400 237.6L400 237.6M400 237.3A149.4 149.4 0 0 1 400.1 237.9M400 237.3L412.4 235.6M400.1 237.9L412.5 236.2M373.7 242.3L406.1 238.1M406.1 237.8A155.4 155.4 0 0 1 406.1 238.4M406.1 237.8L412.6 236.9M406.1 238.4L412.7 237.6M364.3 247.3L381.5 245.6M381.4 244.6A130.1 130.1 0 0 1 381.6 246.7M381.4 244.6L401.6 242.5M401.5 241.6A150.4 150.4 0 0 1 401.7 243.4M401.5 241.6L402.2 241.5M402.1 240.3A151.1 151.1 0 0 1 402.4 242.7M402.1 240.3L404.3 240.1M404.2 239.3A153.4 153.4 0 0 1 404.4 240.9M404.2 239.3L412.8 238.2M404.4 240.9L408.3 240.4M408.2 239.8A157.3 157.3 0 0 1 408.3 241.1M408.2 239.8L410.1 239.6M410.1 239.2A159.2 159.2 0 0 1 410.2 239.9M410.1 239.2L412.9 238.9M410.2 239.9L412.9 239.6M408.3 241.1L412.6 240.6M412.6 240.3A161.6 161.6 0 0 1 412.7 241M412.6 240.3L413 240.2M412.7 241L413.1 240.9M402.4 242.7L413.2 241.6M401.7 243.4L413.2 242.2M381.6 246.7L401.3 245M401.2 244.4A149.8 149.8 0 0 1 401.3 245.6M401.2 244.4L401.2 244.4M401.2 244A149.9 149.9 0 0 1 401.3 244.7M401.2 244L413.3 242.9M401.3 244.7L413.4 243.6M401.3 245.6L402 245.5M402 245.2A150.5 150.5 0 0 1 402 245.9M402 245.2L413.4 244.3M402 245.9L413.5 244.9M348.6 250.8L374.9 248.8M374.8 248.6A123.2 123.2 0 0 1 374.9 249.1M374.8 248.6L413.5 245.6M374.9 249.1L413.6 246.3M257 257.8L259.5 257.7M259.5 257.6A7.5 7.5 0 0 1 259.5 257.8M259.5 257.6L311.9 254.6M311.9 254A60 60 0 0 1 311.9 255.2M311.9 254L364 250.6M364 250.3A112.3 112.3 0 0 1 364 250.8M364 250.3L413.6 246.9M364 250.8L413.7 247.6M311.9 255.2L392.7 251.5M392.6 250.5A140.8 140.8 0 0 1 392.7 252.5M392.6 250.5L394.4 250.4M394.3 249.4A142.6 142.6 0 0 1 394.4 251.3M394.3 249.4L413.7 248.3M394.4 251.3L399.7 251M399.6 250.5A147.8 147.8 0 0 1 399.7 251.6M399.6 250.5L403.6 250.3M403.6 249.8A151.8 151.8 0 0 1 403.7 250.8M403.6 249.8L406 249.7M406 249.4A154.2 154.2 0 0 1 406 250M406 249.4L413.7 248.9M406 250L413.8 249.6M403.7 250.8L413.8 250.3M399.7 251.6L413.8 251M392.7 252.5L413.9 251.6M259.5 257.8L322 256.4M322 255.7A70 70 0 0 1 322 257.1M322 255.7L365.4 254.2M365.4 254A113.5 113.5 0 0 1 365.4 254.5M365.4 254L413.9 252.3M365.4 254.5L413.9 253M322 257.1L393.5 256.1M393.5 255.1A141.5 141.5 0 0 1 393.5 257.1M393.5 255.1L393.9 255.1M393.9 254.5A142 142 0 0 1 394 255.8M393.9 254.5L401.5 254.3M401.5 254A149.5 149.5 0 0 1 401.5 254.6M401.5 254L413.9 253.6M401.5 254.6L414 254.3M394 255.8L398.7 255.7M398.7 255.3A146.8 146.8 0 0 1 398.7 256.2M398.7 255.3L414 255M398.7 256.2L408.2 256.1M408.2 255.7A156.2 156.2 0 0 1 408.2 256.4M408.2 255.7L414 255.7M408.2 256.4L414 256.3M393.5 257.1L414 257M252 258L414 257.7" fill="none" stroke="#9d9d9d" stroke-width="1.25"/>
<path d="M504 258A252.0 252.0 0 0 1 504 259L491 259A239.0 239.0 0 0 0 491 258ZM504 262.2A252.0 252.0 0 0 1 503.9 265.3L490.9 264.9A239.0 239.0 0 0 0 491 262ZM503.5 273.7A252.0 252.0 0 0 1 503.4 274.7L490.5 273.8A239.0 239.0 0 0 0 490.5 272.8ZM502.2 288.2A252.0 252.0 0 0 1 501.8 291.3L488.9 289.6A239.0 239.0 0 0 0 489.3 286.7ZM501.2 295.5A252.0 252.0 0 0 1 501 296.5L488.2 294.5A239.0 239.0 0 0 0 488.3 293.5ZM500 302.7A252.0 252.0 0 0 1 499.8 303.7L487 301.3A239.0 239.0 0 0 0 487.2 300.4ZM499 307.8A252.0 252.0 0 0 1 498.8 308.8L486.1 306.2A239.0 239.0 0 0 0 486.3 305.2ZM489.2 343A252.0 252.0 0 0 1 487.4 347.9L475.3 343.2A239.0 239.0 0 0 0 477 338.6ZM487 348.9A252.0 252.0 0 0 1 486.7 349.8L474.6 345.1A239.0 239.0 0 0 0 474.9 344.2ZM486.3 350.8A252.0 252.0 0 0 1 485.9 351.8L473.8 346.9A239.0 239.0 0 0 0 474.2 346ZM485.5 352.7A252.0 252.0 0 0 1 484.7 354.7L472.7 349.7A239.0 239.0 0 0 0 473.5 347.9ZM483.1 358.5A252.0 252.0 0 0 1 482.7 359.5L470.8 354.2A239.0 239.0 0 0 0 471.2 353.3ZM479.2 367.1A252.0 252.0 0 0 1 478.7 368L467 362.3A239.0 239.0 0 0 0 467.5 361.4ZM478.3 368.9A252.0 252.0 0 0 1 477.8 369.9L466.2 364.1A239.0 239.0 0 0 0 466.6 363.2ZM472.5 380.1A252.0 252.0 0 0 1 469.4 385.5L458.1 378.9A239.0 239.0 0 0 0 461.1 373.8ZM467.2 389.1A252.0 252.0 0 0 1 465.6 391.8L454.6 384.9A239.0 239.0 0 0 0 456.1 382.3ZM465 392.6A252.0 252.0 0 0 1 464.5 393.5L453.5 386.5A239.0 239.0 0 0 0 454 385.7ZM463.9 394.4A252.0 252.0 0 0 1 463.3 395.3L452.4 388.2A239.0 239.0 0 0 0 453 387.4ZM459.3 401.4A252.0 252.0 0 0 1 457.5 403.9L446.9 396.4A239.0 239.0 0 0 0 448.6 394ZM454.4 408.1A252.0 252.0 0 0 1 453.8 409L443.4 401.2A239.0 239.0 0 0 0 443.9 400.4ZM446 418.8A252.0 252.0 0 0 1 444.7 420.4L434.7 412A239.0 239.0 0 0 0 436 410.5ZM441.3 424.4A252.0 252.0 0 0 1 440.6 425.2L430.8 416.5A239.0 239.0 0 0 0 431.5 415.8ZM435.6 430.6A252.0 252.0 0 0 1 434.9 431.3L425.5 422.4A239.0 239.0 0 0 0 426.2 421.7ZM434.2 432.1A252.0 252.0 0 0 1 432.8 433.6L423.4 424.5A239.0 239.0 0 0 0 424.8 423.1ZM432 434.3A252.0 252.0 0 0 1 430.6 435.8L421.3 426.6A239.0 239.0 0 0 0 422.7 425.2ZM429.1 437.3A252.0 252.0 0 0 1 425.3 440.9L416.4 431.5A239.0 239.0 0 0 0 419.9 428ZM423.8 442.4A252.0 252.0 0 0 1 423 443.1L414.2 433.5A239.0 239.0 0 0 0 414.9 432.8ZM407.1 456.6A252.0 252.0 0 0 1 404.6 458.5L396.8 448.2A239.0 239.0 0 0 0 399.1 446.3ZM403.8 459.1A252.0 252.0 0 0 1 401.3 461L393.6 450.5A239.0 239.0 0 0 0 396 448.8ZM353.5 488.7A252.0 252.0 0 0 1 348.7 490.7L343.7 478.7A239.0 239.0 0 0 0 348.2 476.8ZM329.1 497.9A252.0 252.0 0 0 1 328.1 498.2L324.2 485.8A239.0 239.0 0 0 0 325.1 485.5ZM325.1 499.2A252.0 252.0 0 0 1 321.1 500.3L317.5 487.8A239.0 239.0 0 0 0 321.3 486.7ZM320.1 500.6A252.0 252.0 0 0 1 319.1 500.9L315.6 488.4A239.0 239.0 0 0 0 316.6 488.1ZM318.1 501.2A252.0 252.0 0 0 1 317.1 501.5L313.7 488.9A239.0 239.0 0 0 0 314.7 488.6ZM308.9 503.5A252.0 252.0 0 0 1 301.8 505L299.2 492.3A239.0 239.0 0 0 0 306 490.8ZM299.8 505.4A252.0 252.0 0 0 1 296.7 506L294.4 493.2A239.0 239.0 0 0 0 297.3 492.7ZM289.5 507.2A252.0 252.0 0 0 1 287.4 507.5L285.6 494.6A239.0 239.0 0 0 0 287.5 494.3ZM286.4 507.6A252.0 252.0 0 0 1 285.3 507.8L283.6 494.9A239.0 239.0 0 0 0 284.6 494.8ZM283.3 508.1A252.0 252.0 0 0 1 280.1 508.4L278.7 495.5A239.0 239.0 0 0 0 281.6 495.2ZM234.3 509.4A252.0 252.0 0 0 1 231.1 509.1L232.2 496.2A239.0 239.0 0 0 0 235.2 496.4ZM212.5 506.9A252.0 252.0 0 0 1 208.4 506.2L210.6 493.4A239.0 239.0 0 0 0 214.5 494ZM207.3 506A252.0 252.0 0 0 1 206.3 505.8L208.7 493A239.0 239.0 0 0 0 209.6 493.2ZM188 501.7A252.0 252.0 0 0 1 185.9 501.2L189.3 488.6A239.0 239.0 0 0 0 191.3 489.2ZM180.9 499.8A252.0 252.0 0 0 1 177.9 498.9L181.7 486.4A239.0 239.0 0 0 0 184.6 487.3ZM176.9 498.6A252.0 252.0 0 0 1 175.9 498.2L179.8 485.8A239.0 239.0 0 0 0 180.8 486.1ZM170 496.3A252.0 252.0 0 0 1 169 495.9L173.3 483.7A239.0 239.0 0 0 0 174.2 484ZM168 495.6A252.0 252.0 0 0 1 166 494.9L170.5 482.7A239.0 239.0 0 0 0 172.3 483.3ZM165 494.5A252.0 252.0 0 0 1 162.1 493.4L166.8 481.3A239.0 239.0 0 0 0 169.5 482.3ZM157.3 491.5A252.0 252.0 0 0 1 156.3 491.1L161.2 479.1A239.0 239.0 0 0 0 162.1 479.5ZM155.3 490.7A252.0 252.0 0 0 1 154.4 490.3L159.4 478.3A239.0 239.0 0 0 0 160.3 478.7ZM146.7 487A252.0 252.0 0 0 1 145.8 486.5L151.2 474.7A239.0 239.0 0 0 0 152.1 475.1ZM144.8 486.1A252.0 252.0 0 0 1 142 484.7L147.7 473A239.0 239.0 0 0 0 150.3 474.3ZM131.8 479.5A252.0 252.0 0 0 1 129.9 478.5L136.2 467.1A239.0 239.0 0 0 0 138 468ZM121.8 473.8A252.0 252.0 0 0 1 119.1 472.1L126 461.1A239.0 239.0 0 0 0 128.5 462.6ZM118.2 471.6A252.0 252.0 0 0 1 116.5 470.5L123.5 459.5A239.0 239.0 0 0 0 125.1 460.6ZM91.2 452A252.0 252.0 0 0 1 89.6 450.7L98 440.7A239.0 239.0 0 0 0 99.5 442ZM74.2 436.6A252.0 252.0 0 0 1 73.4 435.8L82.7 426.6A239.0 239.0 0 0 0 83.4 427.3ZM71.2 433.6A252.0 252.0 0 0 1 67.6 429.8L77.2 420.9A239.0 239.0 0 0 0 80.6 424.5ZM60 421.2A252.0 252.0 0 0 1 57.3 418L67.4 409.8A239.0 239.0 0 0 0 69.9 412.8ZM47.8 405.6A252.0 252.0 0 0 1 45.3 402.2L56 394.8A239.0 239.0 0 0 0 58.3 398ZM41.2 396.2A252.0 252.0 0 0 1 40.7 395.3L51.6 388.2A239.0 239.0 0 0 0 52.1 389ZM35.2 386.4A252.0 252.0 0 0 1 33.6 383.7L44.9 377.2A239.0 239.0 0 0 0 46.4 379.8ZM26.2 369.9A252.0 252.0 0 0 1 25.7 368.9L37.4 363.2A239.0 239.0 0 0 0 37.8 364.1ZM24.8 367.1A252.0 252.0 0 0 1 23.5 364.2L35.3 358.8A239.0 239.0 0 0 0 36.5 361.4ZM21.3 359.5A252.0 252.0 0 0 1 20.1 356.6L32.1 351.5A239.0 239.0 0 0 0 33.2 354.2ZM18.9 353.7A252.0 252.0 0 0 1 18.1 351.8L30.2 346.9A239.0 239.0 0 0 0 30.9 348.8ZM16.6 347.9A252.0 252.0 0 0 1 16.2 346.9L28.4 342.3A239.0 239.0 0 0 0 28.7 343.2ZM12.4 336.1A252.0 252.0 0 0 1 11.1 332.1L23.6 328.3A239.0 239.0 0 0 0 24.8 332ZM8 321A252.0 252.0 0 0 1 7.5 319L20.1 315.9A239.0 239.0 0 0 0 20.6 317.8ZM7 317A252.0 252.0 0 0 1 6.5 314.9L19.2 312A239.0 239.0 0 0 0 19.6 313.9ZM4.2 303.7A252.0 252.0 0 0 1 4 302.7L16.8 300.4A239.0 239.0 0 0 0 17 301.3ZM3.6 300.6A252.0 252.0 0 0 1 3.3 298.6L16.1 296.5A239.0 239.0 0 0 0 16.4 298.4ZM3 296.5A252.0 252.0 0 0 1 2.6 294.4L15.5 292.5A239.0 239.0 0 0 0 15.8 294.5ZM2.4 292.4A252.0 252.0 0 0 1 1.8 288.2L14.7 286.7A239.0 239.0 0 0 0 15.2 290.6ZM1.6 286.1A252.0 252.0 0 0 1 1.5 285.1L14.4 283.7A239.0 239.0 0 0 0 14.5 284.7ZM1.2 283A252.0 252.0 0 0 1 1 279.9L13.9 278.8A239.0 239.0 0 0 0 14.2 281.7ZM0.9 278.9A252.0 252.0 0 0 1 0.2 268.4L13.2 267.9A239.0 239.0 0 0 0 13.8 277.8ZM0.1 263.2A252.0 252.0 0 0 1 0 261.1L13 261A239.0 239.0 0 0 0 13.1 263ZM0 258A252.0 252.0 0 0 1 0 254.9L13 255A239.0 239.0 0 0 0 13 258ZM0.1 251.7A252.0 252.0 0 0 1 0.2 247.6L13.2 248.1A239.0 239.0 0 0 0 13.1 252.1ZM0.6 240.3A252.0 252.0 0 0 1 0.7 239.2L13.7 240.2A239.0 239.0 0 0 0 13.6 241.2ZM0.8 238.2A252.0 252.0 0 0 1 0.9 237.1L13.8 238.2A239.0 239.0 0 0 0 13.7 239.2ZM1.2 233A252.0 252.0 0 0 1 1.6 229.9L14.5 231.3A239.0 239.0 0 0 0 14.2 234.3ZM3.5 216.4A252.0 252.0 0 0 1 3.6 215.4L16.4 217.6A239.0 239.0 0 0 0 16.3 218.6ZM8.5 192.9A252.0 252.0 0 0 1 9.1 190.9L21.6 194.4A239.0 239.0 0 0 0 21.1 196.3ZM11.4 182.9A252.0 252.0 0 0 1 12.4 179.9L24.8 184A239.0 239.0 0 0 0 23.9 186.8ZM14.8 173A252.0 252.0 0 0 1 18.5 163.3L30.5 168.1A239.0 239.0 0 0 0 27 177.4ZM18.9 162.3A252.0 252.0 0 0 1 19.3 161.3L31.3 166.3A239.0 239.0 0 0 0 30.9 167.2ZM20.5 158.4A252.0 252.0 0 0 1 21.8 155.6L33.6 160.9A239.0 239.0 0 0 0 32.4 163.6ZM22.2 154.6A252.0 252.0 0 0 1 22.6 153.7L34.4 159A239.0 239.0 0 0 0 34 159.9ZM26.2 146.1A252.0 252.0 0 0 1 28.1 142.4L39.6 148.4A239.0 239.0 0 0 0 37.8 151.9ZM29.1 140.5A252.0 252.0 0 0 1 31 136.9L42.4 143.1A239.0 239.0 0 0 0 40.6 146.6ZM31.5 135.9A252.0 252.0 0 0 1 34.6 130.5L45.9 137.1A239.0 239.0 0 0 0 42.9 142.2ZM37.9 125.1A252.0 252.0 0 0 1 39.5 122.5L50.5 129.5A239.0 239.0 0 0 0 48.9 132ZM48.4 109.5A252.0 252.0 0 0 1 51.5 105.4L61.8 113.2A239.0 239.0 0 0 0 58.9 117.2ZM66.9 87A252.0 252.0 0 0 1 72.7 80.9L82 90.1A239.0 239.0 0 0 0 76.5 95.8ZM77.9 75.8A252.0 252.0 0 0 1 79.4 74.4L88.3 83.8A239.0 239.0 0 0 0 86.9 85.2ZM82.5 71.5A252.0 252.0 0 0 1 84.8 69.4L93.5 79.2A239.0 239.0 0 0 0 91.2 81.1ZM85.6 68.7A252.0 252.0 0 0 1 88.8 66L97.2 75.9A239.0 239.0 0 0 0 94.2 78.5ZM96.9 59.4A252.0 252.0 0 0 1 98.5 58.1L106.4 68.4A239.0 239.0 0 0 0 104.9 69.7ZM100.2 56.9A252.0 252.0 0 0 1 103.5 54.4L111.2 64.9A239.0 239.0 0 0 0 108 67.2ZM110.4 49.6A252.0 252.0 0 0 1 120 43.3L126.8 54.4A239.0 239.0 0 0 0 117.7 60.3ZM120.9 42.8A252.0 252.0 0 0 1 125.4 40.1L131.9 51.4A239.0 239.0 0 0 0 127.7 53.9ZM137.3 33.6A252.0 252.0 0 0 1 138.2 33.1L144.1 44.7A239.0 239.0 0 0 0 143.2 45.2ZM144.8 29.9A252.0 252.0 0 0 1 147.7 28.6L153 40.4A239.0 239.0 0 0 0 150.3 41.7ZM148.6 28.2A252.0 252.0 0 0 1 149.6 27.8L154.9 39.6A239.0 239.0 0 0 0 153.9 40ZM151.5 26.9A252.0 252.0 0 0 1 157.3 24.5L162.1 36.5A239.0 239.0 0 0 0 156.7 38.8ZM172.9 18.7A252.0 252.0 0 0 1 174.9 18.1L178.9 30.5A239.0 239.0 0 0 0 177 31.1ZM175.9 17.8A252.0 252.0 0 0 1 177.9 17.1L181.7 29.6A239.0 239.0 0 0 0 179.8 30.2ZM180.9 16.2A252.0 252.0 0 0 1 182.9 15.7L186.5 28.2A239.0 239.0 0 0 0 184.6 28.7ZM188 14.3A252.0 252.0 0 0 1 191 13.5L194.1 26.1A239.0 239.0 0 0 0 191.3 26.8ZM192 13.2A252.0 252.0 0 0 1 194 12.8L197 25.4A239.0 239.0 0 0 0 195.1 25.9ZM207.3 10A252.0 252.0 0 0 1 210.4 9.5L212.6 22.3A239.0 239.0 0 0 0 209.6 22.8ZM215.6 8.6A252.0 252.0 0 0 1 217.6 8.4L219.4 21.2A239.0 239.0 0 0 0 217.5 21.5ZM219.7 8.1A252.0 252.0 0 0 1 223.9 7.6L225.3 20.5A239.0 239.0 0 0 0 221.4 21ZM233.2 6.7A252.0 252.0 0 0 1 234.3 6.6L235.2 19.6A239.0 239.0 0 0 0 234.2 19.7ZM236.3 6.5A252.0 252.0 0 0 1 237.4 6.4L238.1 19.4A239.0 239.0 0 0 0 237.2 19.5ZM239.5 6.3A252.0 252.0 0 0 1 242.6 6.2L243.1 19.2A239.0 239.0 0 0 0 240.1 19.3ZM249.9 6A252.0 252.0 0 0 1 251 6L251 19A239.0 239.0 0 0 0 250 19ZM252 6A252.0 252.0 0 0 1 256.2 6L256 19A239.0 239.0 0 0 0 252 19ZM258.3 6.1A252.0 252.0 0 0 1 261.4 6.2L260.9 19.2A239.0 239.0 0 0 0 257.9 19.1ZM262.4 6.2A252.0 252.0 0 0 1 264.5 6.3L263.9 19.3A239.0 239.0 0 0 0 261.9 19.2ZM276 7.1A252.0 252.0 0 0 1 280.1 7.6L278.7 20.5A239.0 239.0 0 0 0 274.7 20.1ZM281.2 7.7A252.0 252.0 0 0 1 283.3 7.9L281.6 20.8A239.0 239.0 0 0 0 279.7 20.6ZM298.7 10.4A252.0 252.0 0 0 1 302.8 11.2L300.2 23.9A239.0 239.0 0 0 0 296.3 23.1ZM305.9 11.8A252.0 252.0 0 0 1 306.9 12.1L304.1 24.7A239.0 239.0 0 0 0 303.1 24.5ZM326.1 17.1A252.0 252.0 0 0 1 333 19.4L328.9 31.7A239.0 239.0 0 0 0 322.3 29.6ZM335 20.1A252.0 252.0 0 0 1 338 21.1L333.5 33.3A239.0 239.0 0 0 0 330.7 32.3ZM339 21.5A252.0 252.0 0 0 1 341.9 22.6L337.2 34.7A239.0 239.0 0 0 0 334.5 33.7ZM343.8 23.3A252.0 252.0 0 0 1 344.8 23.7L340 35.8A239.0 239.0 0 0 0 339.1 35.4ZM363.9 32.2A252.0 252.0 0 0 1 366.7 33.6L360.8 45.2A239.0 239.0 0 0 0 358.1 43.8ZM384.9 43.9A252.0 252.0 0 0 1 388.4 46.1L381.4 57A239.0 239.0 0 0 0 378 54.9ZM390.2 47.2A252.0 252.0 0 0 1 391 47.8L383.9 58.7A239.0 239.0 0 0 0 383 58.1ZM394.5 50.2A252.0 252.0 0 0 1 396.2 51.3L388.8 62A239.0 239.0 0 0 0 387.1 60.9ZM401.3 55A252.0 252.0 0 0 1 402.1 55.6L394.4 66.1A239.0 239.0 0 0 0 393.6 65.5ZM403 56.2A252.0 252.0 0 0 1 403.8 56.9L396 67.2A239.0 239.0 0 0 0 395.2 66.6ZM429.1 78.7A252.0 252.0 0 0 1 434.2 83.9L424.8 92.9A239.0 239.0 0 0 0 419.9 88ZM435.6 85.4A252.0 252.0 0 0 1 439.9 90.1L430.2 98.7A239.0 239.0 0 0 0 426.2 94.3ZM442.6 93.2A252.0 252.0 0 0 1 444 94.8L434.1 103.2A239.0 239.0 0 0 0 432.8 101.7ZM444.7 95.6A252.0 252.0 0 0 1 446 97.2L436 105.5A239.0 239.0 0 0 0 434.7 104ZM449.3 101.2A252.0 252.0 0 0 1 450.6 102.9L440.3 110.9A239.0 239.0 0 0 0 439.1 109.3ZM455.6 109.5A252.0 252.0 0 0 1 456.2 110.4L445.7 118A239.0 239.0 0 0 0 445.1 117.2ZM457.5 112.1A252.0 252.0 0 0 1 458.7 113.8L448 121.2A239.0 239.0 0 0 0 446.9 119.6ZM461.6 118.1A252.0 252.0 0 0 1 463.3 120.7L452.4 127.8A239.0 239.0 0 0 0 450.8 125.3ZM464.5 122.5A252.0 252.0 0 0 1 466.7 126L455.6 132.8A239.0 239.0 0 0 0 453.5 129.5ZM470.4 132.3A252.0 252.0 0 0 1 470.9 133.2L459.6 139.6A239.0 239.0 0 0 0 459.1 138.8ZM479.2 148.9A252.0 252.0 0 0 1 480.1 150.8L468.3 156.3A239.0 239.0 0 0 0 467.5 154.6ZM486.3 165.2A252.0 252.0 0 0 1 487 167.1L474.9 171.8A239.0 239.0 0 0 0 474.2 170ZM488.5 171A252.0 252.0 0 0 1 491.3 178.9L478.9 183A239.0 239.0 0 0 0 476.3 175.5ZM492.9 183.9A252.0 252.0 0 0 1 493.8 186.9L481.3 190.6A239.0 239.0 0 0 0 480.4 187.7ZM500.5 216.4A252.0 252.0 0 0 1 500.9 218.5L488 220.5A239.0 239.0 0 0 0 487.7 218.6ZM501.2 220.5A252.0 252.0 0 0 1 501.6 223.6L488.8 225.4A239.0 239.0 0 0 0 488.3 222.5ZM501.9 225.7A252.0 252.0 0 0 1 502.3 228.8L489.4 230.3A239.0 239.0 0 0 0 489 227.4ZM503.4 241.3A252.0 252.0 0 0 1 503.9 250.7L490.9 251.1A239.0 239.0 0 0 0 490.5 242.2ZM504 253.8A252.0 252.0 0 0 1 504 257L491 257A239.0 239.0 0 0 0 491 254Z" fill="#22337a"/>
<path d="M504 259A252.0 252.0 0 0 1 504 261.1L491 261A239.0 239.0 0 0 0 491 259ZM503.9 266.4A252.0 252.0 0 0 1 503.6 271.6L490.7 270.9A239.0 239.0 0 0 0 490.9 265.9ZM503.6 272.6A252.0 252.0 0 0 1 503.5 273.7L490.5 272.8A239.0 239.0 0 0 0 490.6 271.9ZM503.4 274.7A252.0 252.0 0 0 1 503.3 276.8L490.3 275.8A239.0 239.0 0 0 0 490.5 273.8ZM503.1 278.9A252.0 252.0 0 0 1 502.9 282L489.9 280.7A239.0 239.0 0 0 0 490.2 277.8ZM502.5 285.1A252.0 252.0 0 0 1 502.3 287.2L489.4 285.7A239.0 239.0 0 0 0 489.6 283.7ZM501 296.5A252.0 252.0 0 0 1 500.9 297.5L488 295.5A239.0 239.0 0 0 0 488.2 294.5ZM499.6 304.7A252.0 252.0 0 0 1 499 307.8L486.3 305.2A239.0 239.0 0 0 0 486.9 302.3ZM498.8 308.8A252.0 252.0 0 0 1 498.2 311.9L485.5 309.1A239.0 239.0 0 0 0 486.1 306.2ZM497.9 312.9A252.0 252.0 0 0 1 497.2 316L484.6 313A239.0 239.0 0 0 0 485.3 310.1ZM497 317A252.0 252.0 0 0 1 495.2 324.1L482.6 320.7A239.0 239.0 0 0 0 484.4 313.9ZM494.9 325.1A252.0 252.0 0 0 1 494.3 327.1L481.8 323.5A239.0 239.0 0 0 0 482.4 321.6ZM491.9 335.1A252.0 252.0 0 0 1 490.9 338.1L478.6 333.9A239.0 239.0 0 0 0 479.5 331.1ZM490.6 339A252.0 252.0 0 0 1 489.6 342L477.3 337.7A239.0 239.0 0 0 0 478.3 334.9ZM482.7 359.5A252.0 252.0 0 0 1 480.5 364.2L468.7 358.8A239.0 239.0 0 0 0 470.8 354.2ZM480.1 365.2A252.0 252.0 0 0 1 479.2 367.1L467.5 361.4A239.0 239.0 0 0 0 468.3 359.7ZM477.3 370.8A252.0 252.0 0 0 1 475.9 373.6L464.4 367.6A239.0 239.0 0 0 0 465.7 365ZM474 377.3A252.0 252.0 0 0 1 473.5 378.2L462 372A239.0 239.0 0 0 0 462.5 371.2ZM468.3 387.3A252.0 252.0 0 0 1 467.8 388.2L456.6 381.5A239.0 239.0 0 0 0 457.1 380.6ZM461 398.8A252.0 252.0 0 0 1 459.3 401.4L448.6 394A239.0 239.0 0 0 0 450.2 391.5ZM455 407.3A252.0 252.0 0 0 1 454.4 408.1L443.9 400.4A239.0 239.0 0 0 0 444.5 399.6ZM453.8 409A252.0 252.0 0 0 1 453.1 409.8L442.8 402A239.0 239.0 0 0 0 443.4 401.2ZM452.5 410.6A252.0 252.0 0 0 1 450.6 413.1L440.3 405.1A239.0 239.0 0 0 0 442.2 402.8ZM444.7 420.4A252.0 252.0 0 0 1 444 421.2L434.1 412.8A239.0 239.0 0 0 0 434.7 412ZM434.9 431.3A252.0 252.0 0 0 1 434.2 432.1L424.8 423.1A239.0 239.0 0 0 0 425.5 422.4ZM414.4 450.7A252.0 252.0 0 0 1 412.8 452L404.5 442A239.0 239.0 0 0 0 406 440.7ZM408 455.9A252.0 252.0 0 0 1 407.1 456.6L399.1 446.3A239.0 239.0 0 0 0 399.9 445.7ZM396.2 464.7A252.0 252.0 0 0 1 392.8 467L385.5 456.2A239.0 239.0 0 0 0 388.8 454ZM391.9 467.6A252.0 252.0 0 0 1 384.9 472.1L378 461.1A239.0 239.0 0 0 0 384.7 456.8ZM374.1 478.5A252.0 252.0 0 0 1 373.1 479L366.9 467.6A239.0 239.0 0 0 0 367.8 467.1ZM372.2 479.5A252.0 252.0 0 0 1 368.5 481.4L362.5 469.9A239.0 239.0 0 0 0 366 468ZM367.6 481.9A252.0 252.0 0 0 1 362 484.7L356.3 473A239.0 239.0 0 0 0 361.6 470.4ZM348.7 490.7A252.0 252.0 0 0 1 347.7 491.1L342.8 479.1A239.0 239.0 0 0 0 343.7 478.7ZM345.8 491.9A252.0 252.0 0 0 1 340.9 493.8L336.3 481.6A239.0 239.0 0 0 0 340.9 479.8ZM335 495.9A252.0 252.0 0 0 1 334 496.3L329.8 484A239.0 239.0 0 0 0 330.7 483.7ZM327.1 498.6A252.0 252.0 0 0 1 326.1 498.9L322.3 486.4A239.0 239.0 0 0 0 323.2 486.1ZM296.7 506A252.0 252.0 0 0 1 294.6 506.4L292.4 493.6A239.0 239.0 0 0 0 294.4 493.2ZM260.4 509.9A252.0 252.0 0 0 1 253 510L253 497A239.0 239.0 0 0 0 259.9 496.9ZM251 510A252.0 252.0 0 0 1 247.8 510L248 497A239.0 239.0 0 0 0 251 497ZM246.8 509.9A252.0 252.0 0 0 1 243.6 509.9L244.1 496.9A239.0 239.0 0 0 0 247 496.9ZM228 508.9A252.0 252.0 0 0 1 223.9 508.4L225.3 495.5A239.0 239.0 0 0 0 229.3 495.9ZM214.5 507.2A252.0 252.0 0 0 1 212.5 506.9L214.5 494A239.0 239.0 0 0 0 216.5 494.3ZM193 503A252.0 252.0 0 0 1 188 501.7L191.3 489.2A239.0 239.0 0 0 0 196.1 490.4ZM177.9 498.9A252.0 252.0 0 0 1 176.9 498.6L180.8 486.1A239.0 239.0 0 0 0 181.7 486.4ZM173.9 497.6A252.0 252.0 0 0 1 170 496.3L174.2 484A239.0 239.0 0 0 0 178 485.2ZM169 495.9A252.0 252.0 0 0 1 168 495.6L172.3 483.3A239.0 239.0 0 0 0 173.3 483.7ZM152.4 489.5A252.0 252.0 0 0 1 151.5 489.1L156.7 477.2A239.0 239.0 0 0 0 157.6 477.6ZM129.9 478.5A252.0 252.0 0 0 1 129 478L135.4 466.6A239.0 239.0 0 0 0 136.2 467.1ZM124.5 475.4A252.0 252.0 0 0 1 122.7 474.3L129.4 463.1A239.0 239.0 0 0 0 131.1 464.1ZM116.5 470.5A252.0 252.0 0 0 1 113.8 468.8L121 457.9A239.0 239.0 0 0 0 123.5 459.5ZM107.8 464.7A252.0 252.0 0 0 1 105.2 462.9L112.8 452.3A239.0 239.0 0 0 0 115.2 454ZM104.4 462.2A252.0 252.0 0 0 1 102.7 461L110.4 450.5A239.0 239.0 0 0 0 112 451.7ZM100.2 459.1A252.0 252.0 0 0 1 99.4 458.5L107.2 448.2A239.0 239.0 0 0 0 108 448.8ZM97.7 457.2A252.0 252.0 0 0 1 94.4 454.6L102.5 444.5A239.0 239.0 0 0 0 105.7 447ZM89.6 450.7A252.0 252.0 0 0 1 88 449.3L96.4 439.4A239.0 239.0 0 0 0 98 440.7ZM87.2 448.6A252.0 252.0 0 0 1 81.7 443.8L90.5 434.2A239.0 239.0 0 0 0 95.7 438.8ZM81 443.1A252.0 252.0 0 0 1 78.7 440.9L87.6 431.5A239.0 239.0 0 0 0 89.8 433.5ZM67.6 429.8A252.0 252.0 0 0 1 65.5 427.5L75.1 418.8A239.0 239.0 0 0 0 77.2 420.9ZM63.4 425.2A252.0 252.0 0 0 1 62.7 424.4L72.5 415.8A239.0 239.0 0 0 0 73.2 416.5ZM61.4 422.8A252.0 252.0 0 0 1 60 421.2L69.9 412.8A239.0 239.0 0 0 0 71.2 414.3ZM56.7 417.2A252.0 252.0 0 0 1 56 416.4L66.1 408.2A239.0 239.0 0 0 0 66.7 409ZM51.5 410.6A252.0 252.0 0 0 1 50.2 409L60.6 401.2A239.0 239.0 0 0 0 61.8 402.8ZM43 398.8A252.0 252.0 0 0 1 41.2 396.2L52.1 389A239.0 239.0 0 0 0 53.8 391.5ZM40.7 395.3A252.0 252.0 0 0 1 40.1 394.4L51 387.4A239.0 239.0 0 0 0 51.6 388.2ZM39 392.6A252.0 252.0 0 0 1 38.4 391.8L49.4 384.9A239.0 239.0 0 0 0 50 385.7ZM37.3 390A252.0 252.0 0 0 1 36.2 388.2L47.4 381.5A239.0 239.0 0 0 0 48.4 383.2ZM35.7 387.3A252.0 252.0 0 0 1 35.2 386.4L46.4 379.8A239.0 239.0 0 0 0 46.9 380.6ZM33.6 383.7A252.0 252.0 0 0 1 33.1 382.8L44.4 376.4A239.0 239.0 0 0 0 44.9 377.2ZM32.6 381.9A252.0 252.0 0 0 1 31.5 380.1L42.9 373.8A239.0 239.0 0 0 0 43.9 375.5ZM28.1 373.6A252.0 252.0 0 0 1 27.6 372.7L39.2 366.8A239.0 239.0 0 0 0 39.6 367.6ZM23.5 364.2A252.0 252.0 0 0 1 21.8 360.4L33.6 355.1A239.0 239.0 0 0 0 35.3 358.8ZM19.7 355.6A252.0 252.0 0 0 1 18.9 353.7L30.9 348.8A239.0 239.0 0 0 0 31.7 350.6ZM18.1 351.8A252.0 252.0 0 0 1 17 348.9L29.1 344.2A239.0 239.0 0 0 0 30.2 346.9ZM16.2 346.9A252.0 252.0 0 0 1 15.8 345.9L28 341.4A239.0 239.0 0 0 0 28.4 342.3ZM6.1 312.9A252.0 252.0 0 0 1 5.8 311.9L18.5 309.1A239.0 239.0 0 0 0 18.7 310.1ZM1.8 288.2A252.0 252.0 0 0 1 1.6 286.1L14.5 284.7A239.0 239.0 0 0 0 14.7 286.7ZM1 279.9A252.0 252.0 0 0 1 0.9 278.9L13.8 277.8A239.0 239.0 0 0 0 13.9 278.8ZM0 261.1A252.0 252.0 0 0 1 0 260.1L13 260A239.0 239.0 0 0 0 13 261ZM0 259A252.0 252.0 0 0 1 0 258L13 258A239.0 239.0 0 0 0 13 259ZM0.2 247.6A252.0 252.0 0 0 1 0.4 244.4L13.3 245.1A239.0 239.0 0 0 0 13.2 248.1ZM0.4 243.4A252.0 252.0 0 0 1 0.6 241.3L13.5 242.2A239.0 239.0 0 0 0 13.4 244.1ZM1.6 229.9A252.0 252.0 0 0 1 2.1 225.7L15 227.4A239.0 239.0 0 0 0 14.5 231.3ZM2.6 221.6A252.0 252.0 0 0 1 3.1 218.5L16 220.5A239.0 239.0 0 0 0 15.5 223.5ZM3.3 217.4A252.0 252.0 0 0 1 3.5 216.4L16.3 218.6A239.0 239.0 0 0 0 16.1 219.5ZM3.6 215.4A252.0 252.0 0 0 1 4 213.3L16.8 215.6A239.0 239.0 0 0 0 16.4 217.6ZM6.8 200A252.0 252.0 0 0 1 7.2 198L19.9 201.1A239.0 239.0 0 0 0 19.4 203ZM7.5 197A252.0 252.0 0 0 1 8.3 194L20.8 197.3A239.0 239.0 0 0 0 20.1 200.1ZM10.8 184.9A252.0 252.0 0 0 1 11.4 182.9L23.9 186.8A239.0 239.0 0 0 0 23.3 188.7ZM12.4 179.9A252.0 252.0 0 0 1 12.7 178.9L25.1 183A239.0 239.0 0 0 0 24.8 184ZM13.1 177.9A252.0 252.0 0 0 1 13.7 176L26 180.2A239.0 239.0 0 0 0 25.4 182.1ZM19.3 161.3A252.0 252.0 0 0 1 20.5 158.4L32.4 163.6A239.0 239.0 0 0 0 31.3 166.3ZM22.6 153.7A252.0 252.0 0 0 1 23 152.7L34.9 158.1A239.0 239.0 0 0 0 34.4 159ZM24.4 149.9A252.0 252.0 0 0 1 25.3 148L37 153.7A239.0 239.0 0 0 0 36.1 155.5ZM39.5 122.5A252.0 252.0 0 0 1 43 117.2L53.8 124.5A239.0 239.0 0 0 0 50.5 129.5ZM44.2 115.5A252.0 252.0 0 0 1 45.3 113.8L56 121.2A239.0 239.0 0 0 0 54.9 122.9ZM46.5 112.1A252.0 252.0 0 0 1 48.4 109.5L58.9 117.2A239.0 239.0 0 0 0 57.1 119.6ZM88.8 66A252.0 252.0 0 0 1 89.6 65.3L98 75.3A239.0 239.0 0 0 0 97.2 75.9ZM90.4 64.7A252.0 252.0 0 0 1 95.2 60.7L103.3 70.9A239.0 239.0 0 0 0 98.7 74.6ZM96 60.1A252.0 252.0 0 0 1 96.9 59.4L104.9 69.7A239.0 239.0 0 0 0 104.1 70.3ZM106.1 52.5A252.0 252.0 0 0 1 110.4 49.6L117.7 60.3A239.0 239.0 0 0 0 113.6 63.1ZM147.7 28.6A252.0 252.0 0 0 1 148.6 28.2L153.9 40A239.0 239.0 0 0 0 153 40.4ZM157.3 24.5A252.0 252.0 0 0 1 163.1 22.2L167.7 34.4A239.0 239.0 0 0 0 162.1 36.5ZM164.1 21.8A252.0 252.0 0 0 1 170 19.7L174.2 32A239.0 239.0 0 0 0 168.6 34ZM171 19.4A252.0 252.0 0 0 1 172.9 18.7L177 31.1A239.0 239.0 0 0 0 175.1 31.7ZM196.1 12.3A252.0 252.0 0 0 1 197.1 12.1L199.9 24.7A239.0 239.0 0 0 0 199 25ZM198.1 11.8A252.0 252.0 0 0 1 204.2 10.6L206.7 23.3A239.0 239.0 0 0 0 200.9 24.5ZM206.3 10.2A252.0 252.0 0 0 1 207.3 10L209.6 22.8A239.0 239.0 0 0 0 208.7 23ZM223.9 7.6A252.0 252.0 0 0 1 228 7.1L229.3 20.1A239.0 239.0 0 0 0 225.3 20.5ZM266.6 6.4A252.0 252.0 0 0 1 267.7 6.5L266.8 19.5A239.0 239.0 0 0 0 265.9 19.4ZM280.1 7.6A252.0 252.0 0 0 1 281.2 7.7L279.7 20.6A239.0 239.0 0 0 0 278.7 20.5ZM290.5 9A252.0 252.0 0 0 1 294.6 9.6L292.4 22.4A239.0 239.0 0 0 0 288.5 21.8ZM302.8 11.2A252.0 252.0 0 0 1 303.8 11.4L301.2 24.1A239.0 239.0 0 0 0 300.2 23.9ZM320.1 15.4A252.0 252.0 0 0 1 321.1 15.7L317.5 28.2A239.0 239.0 0 0 0 316.6 27.9ZM353.5 27.3A252.0 252.0 0 0 1 358.2 29.5L352.8 41.3A239.0 239.0 0 0 0 348.2 39.2ZM359.2 29.9A252.0 252.0 0 0 1 360.1 30.4L354.5 42.1A239.0 239.0 0 0 0 353.7 41.7ZM384 43.3A252.0 252.0 0 0 1 384.9 43.9L378 54.9A239.0 239.0 0 0 0 377.2 54.4ZM396.2 51.3A252.0 252.0 0 0 1 397.1 51.9L389.6 62.6A239.0 239.0 0 0 0 388.8 62ZM412 63.3A252.0 252.0 0 0 1 420.7 70.8L412 80.5A239.0 239.0 0 0 0 403.8 73.4ZM423 72.9A252.0 252.0 0 0 1 423.8 73.6L414.9 83.2A239.0 239.0 0 0 0 414.2 82.5ZM424.6 74.4A252.0 252.0 0 0 1 426.8 76.5L417.8 85.9A239.0 239.0 0 0 0 415.7 83.8ZM427.6 77.2A252.0 252.0 0 0 1 429.1 78.7L419.9 88A239.0 239.0 0 0 0 418.5 86.6ZM446 97.2A252.0 252.0 0 0 1 448.6 100.4L438.5 108.5A239.0 239.0 0 0 0 436 105.5ZM452.5 105.4A252.0 252.0 0 0 1 453.8 107L443.4 114.8A239.0 239.0 0 0 0 442.2 113.2ZM455 108.7A252.0 252.0 0 0 1 455.6 109.5L445.1 117.2A239.0 239.0 0 0 0 444.5 116.4ZM458.7 113.8A252.0 252.0 0 0 1 461 117.2L450.2 124.5A239.0 239.0 0 0 0 448 121.2ZM466.7 126A252.0 252.0 0 0 1 470.4 132.3L459.1 138.8A239.0 239.0 0 0 0 455.6 132.8ZM470.9 133.2A252.0 252.0 0 0 1 472 135L460.6 141.4A239.0 239.0 0 0 0 459.6 139.6ZM476.4 143.3A252.0 252.0 0 0 1 476.9 144.2L465.3 150.1A239.0 239.0 0 0 0 464.8 149.2ZM477.3 145.2A252.0 252.0 0 0 1 478.3 147.1L466.6 152.8A239.0 239.0 0 0 0 465.7 151ZM480.1 150.8A252.0 252.0 0 0 1 480.5 151.8L468.7 157.2A239.0 239.0 0 0 0 468.3 156.3ZM482.2 155.6A252.0 252.0 0 0 1 483.9 159.4L471.9 164.5A239.0 239.0 0 0 0 470.4 160.9ZM487.8 169.1A252.0 252.0 0 0 1 488.5 171L476.3 175.5A239.0 239.0 0 0 0 475.6 173.7ZM491.6 179.9A252.0 252.0 0 0 1 492.2 181.9L479.8 185.8A239.0 239.0 0 0 0 479.2 184ZM492.6 182.9A252.0 252.0 0 0 1 492.9 183.9L480.4 187.7A239.0 239.0 0 0 0 480.1 186.8ZM497 199A252.0 252.0 0 0 1 498.8 207.2L486.1 209.8A239.0 239.0 0 0 0 484.4 202.1ZM500.2 214.4A252.0 252.0 0 0 1 500.5 216.4L487.7 218.6A239.0 239.0 0 0 0 487.4 216.6ZM502.3 228.8A252.0 252.0 0 0 1 502.6 231.9L489.7 233.3A239.0 239.0 0 0 0 489.4 230.3ZM502.9 234A252.0 252.0 0 0 1 503 235.1L490 236.2A239.0 239.0 0 0 0 489.9 235.3ZM503.9 251.7A252.0 252.0 0 0 1 503.9 252.8L490.9 253A239.0 239.0 0 0 0 490.9 252.1Z" fill="#3570bf"/>
<path d="M503.3 276.8A252.0 252.0 0 0 1 503.2 277.8L490.3 276.8A239.0 239.0 0 0 0 490.3 275.8ZM502.8 283A252.0 252.0 0 0 1 502.5 285.1L489.6 283.7A239.0 239.0 0 0 0 489.8 281.7ZM501.5 293.4A252.0 252.0 0 0 1 501.2 295.5L488.3 293.5A239.0 239.0 0 0 0 488.6 291.6ZM500.9 297.5A252.0 252.0 0 0 1 500.5 299.6L487.7 297.4A239.0 239.0 0 0 0 488 295.5ZM500.4 300.6A252.0 252.0 0 0 1 500 302.7L487.2 300.4A239.0 239.0 0 0 0 487.6 298.4ZM494.3 327.1A252.0 252.0 0 0 1 491.9 335.1L479.5 331.1A239.0 239.0 0 0 0 481.8 323.5ZM486.7 349.8A252.0 252.0 0 0 1 486.3 350.8L474.2 346A239.0 239.0 0 0 0 474.6 345.1ZM484.7 354.7A252.0 252.0 0 0 1 483.9 356.6L471.9 351.5A239.0 239.0 0 0 0 472.7 349.7ZM477.8 369.9A252.0 252.0 0 0 1 477.3 370.8L465.7 365A239.0 239.0 0 0 0 466.2 364.1ZM475.9 373.6A252.0 252.0 0 0 1 475.4 374.5L463.9 368.5A239.0 239.0 0 0 0 464.4 367.6ZM474.9 375.5A252.0 252.0 0 0 1 474 377.3L462.5 371.2A239.0 239.0 0 0 0 463.4 369.4ZM473 379.1A252.0 252.0 0 0 1 472.5 380.1L461.1 373.8A239.0 239.0 0 0 0 461.6 372.9ZM469.4 385.5A252.0 252.0 0 0 1 468.3 387.3L457.1 380.6A239.0 239.0 0 0 0 458.1 378.9ZM465.6 391.8A252.0 252.0 0 0 1 465 392.6L454 385.7A239.0 239.0 0 0 0 454.6 384.9ZM463.3 395.3A252.0 252.0 0 0 1 461.6 397.9L450.8 390.7A239.0 239.0 0 0 0 452.4 388.2ZM457.5 403.9A252.0 252.0 0 0 1 455 407.3L444.5 399.6A239.0 239.0 0 0 0 446.9 396.4ZM453.1 409.8A252.0 252.0 0 0 1 452.5 410.6L442.2 402.8A239.0 239.0 0 0 0 442.8 402ZM450.6 413.1A252.0 252.0 0 0 1 449.3 414.8L439.1 406.7A239.0 239.0 0 0 0 440.3 405.1ZM448.6 415.6A252.0 252.0 0 0 1 446.7 418L436.6 409.8A239.0 239.0 0 0 0 438.5 407.5ZM444 421.2A252.0 252.0 0 0 1 443.3 422L433.4 413.6A239.0 239.0 0 0 0 434.1 412.8ZM442.6 422.8A252.0 252.0 0 0 1 441.3 424.4L431.5 415.8A239.0 239.0 0 0 0 432.8 414.3ZM440.6 425.2A252.0 252.0 0 0 1 437.1 429L427.5 420.2A239.0 239.0 0 0 0 430.8 416.5ZM436.4 429.8A252.0 252.0 0 0 1 435.6 430.6L426.2 421.7A239.0 239.0 0 0 0 426.8 420.9ZM432.8 433.6A252.0 252.0 0 0 1 432 434.3L422.7 425.2A239.0 239.0 0 0 0 423.4 424.5ZM423 443.1A252.0 252.0 0 0 1 414.4 450.7L406 440.7A239.0 239.0 0 0 0 414.2 433.5ZM412 452.7A252.0 252.0 0 0 1 409.6 454.6L401.5 444.5A239.0 239.0 0 0 0 403.8 442.6ZM408.8 455.3A252.0 252.0 0 0 1 408 455.9L399.9 445.7A239.0 239.0 0 0 0 400.7 445.1ZM401.3 461A252.0 252.0 0 0 1 400.5 461.6L392.8 451.1A239.0 239.0 0 0 0 393.6 450.5ZM398.8 462.9A252.0 252.0 0 0 1 396.2 464.7L388.8 454A239.0 239.0 0 0 0 391.2 452.3ZM384.9 472.1A252.0 252.0 0 0 1 384 472.7L377.2 461.6A239.0 239.0 0 0 0 378 461.1ZM382.2 473.8A252.0 252.0 0 0 1 377.7 476.4L371.2 465.1A239.0 239.0 0 0 0 375.5 462.6ZM375.9 477.4A252.0 252.0 0 0 1 374.1 478.5L367.8 467.1A239.0 239.0 0 0 0 369.5 466.1ZM362 484.7A252.0 252.0 0 0 1 355.4 487.8L350.1 476A239.0 239.0 0 0 0 356.3 473ZM354.4 488.2A252.0 252.0 0 0 1 353.5 488.7L348.2 476.8A239.0 239.0 0 0 0 349.1 476.4ZM340.9 493.8A252.0 252.0 0 0 1 339 494.5L334.5 482.3A239.0 239.0 0 0 0 336.3 481.6ZM337 495.2A252.0 252.0 0 0 1 335 495.9L330.7 483.7A239.0 239.0 0 0 0 332.6 483ZM333 496.6A252.0 252.0 0 0 1 330.1 497.6L326 485.2A239.0 239.0 0 0 0 328.9 484.3ZM328.1 498.2A252.0 252.0 0 0 1 327.1 498.6L323.2 486.1A239.0 239.0 0 0 0 324.2 485.8ZM321.1 500.3A252.0 252.0 0 0 1 320.1 500.6L316.6 488.1A239.0 239.0 0 0 0 317.5 487.8ZM317.1 501.5A252.0 252.0 0 0 1 311 503L307.9 490.4A239.0 239.0 0 0 0 313.7 488.9ZM310 503.2A252.0 252.0 0 0 1 308.9 503.5L306 490.8A239.0 239.0 0 0 0 307 490.6ZM300.8 505.2A252.0 252.0 0 0 1 299.8 505.4L297.3 492.7A239.0 239.0 0 0 0 298.3 492.5ZM294.6 506.4A252.0 252.0 0 0 1 289.5 507.2L287.5 494.3A239.0 239.0 0 0 0 292.4 493.6ZM285.3 507.8A252.0 252.0 0 0 1 283.3 508.1L281.6 495.2A239.0 239.0 0 0 0 283.6 494.9ZM280.1 508.4A252.0 252.0 0 0 1 278.1 508.6L276.7 495.7A239.0 239.0 0 0 0 278.7 495.5ZM276 508.9A252.0 252.0 0 0 1 268.7 509.4L267.8 496.5A239.0 239.0 0 0 0 274.7 495.9ZM267.7 509.5A252.0 252.0 0 0 1 260.4 509.9L259.9 496.9A239.0 239.0 0 0 0 266.8 496.5ZM243.6 509.9A252.0 252.0 0 0 1 240.5 509.7L241.1 496.8A239.0 239.0 0 0 0 244.1 496.9ZM239.5 509.7A252.0 252.0 0 0 1 235.3 509.4L236.2 496.5A239.0 239.0 0 0 0 240.1 496.7ZM231.1 509.1A252.0 252.0 0 0 1 229.1 509L230.2 496A239.0 239.0 0 0 0 232.2 496.2ZM223.9 508.4A252.0 252.0 0 0 1 217.6 507.6L219.4 494.8A239.0 239.0 0 0 0 225.3 495.5ZM215.6 507.4A252.0 252.0 0 0 1 214.5 507.2L216.5 494.3A239.0 239.0 0 0 0 217.5 494.5ZM206.3 505.8A252.0 252.0 0 0 1 193 503L196.1 490.4A239.0 239.0 0 0 0 208.7 493ZM185.9 501.2A252.0 252.0 0 0 1 181.9 500.1L185.5 487.6A239.0 239.0 0 0 0 189.3 488.6ZM175.9 498.2A252.0 252.0 0 0 1 173.9 497.6L178 485.2A239.0 239.0 0 0 0 179.8 485.8ZM162.1 493.4A252.0 252.0 0 0 1 159.2 492.3L164 480.2A239.0 239.0 0 0 0 166.8 481.3ZM156.3 491.1A252.0 252.0 0 0 1 155.3 490.7L160.3 478.7A239.0 239.0 0 0 0 161.2 479.1ZM154.4 490.3A252.0 252.0 0 0 1 153.4 489.9L158.5 477.9A239.0 239.0 0 0 0 159.4 478.3ZM151.5 489.1A252.0 252.0 0 0 1 146.7 487L152.1 475.1A239.0 239.0 0 0 0 156.7 477.2ZM142 484.7A252.0 252.0 0 0 1 137.3 482.4L143.2 470.8A239.0 239.0 0 0 0 147.7 473ZM135.5 481.4A252.0 252.0 0 0 1 132.7 480L138.8 468.5A239.0 239.0 0 0 0 141.5 469.9ZM129 478A252.0 252.0 0 0 1 124.5 475.4L131.1 464.1A239.0 239.0 0 0 0 135.4 466.6ZM113.8 468.8A252.0 252.0 0 0 1 109.5 465.8L116.9 455.1A239.0 239.0 0 0 0 121 457.9ZM108.6 465.3A252.0 252.0 0 0 1 107.8 464.7L115.2 454A239.0 239.0 0 0 0 116 454.6ZM102.7 461A252.0 252.0 0 0 1 100.2 459.1L108 448.8A239.0 239.0 0 0 0 110.4 450.5ZM94.4 454.6A252.0 252.0 0 0 1 91.2 452L99.5 442A239.0 239.0 0 0 0 102.5 444.5ZM78.7 440.9A252.0 252.0 0 0 1 74.2 436.6L83.4 427.3A239.0 239.0 0 0 0 87.6 431.5ZM73.4 435.8A252.0 252.0 0 0 1 71.2 433.6L80.6 424.5A239.0 239.0 0 0 0 82.7 426.6ZM65.5 427.5A252.0 252.0 0 0 1 63.4 425.2L73.2 416.5A239.0 239.0 0 0 0 75.1 418.8ZM56 416.4A252.0 252.0 0 0 1 51.5 410.6L61.8 402.8A239.0 239.0 0 0 0 66.1 408.2ZM50.2 409A252.0 252.0 0 0 1 47.8 405.6L58.3 398A239.0 239.0 0 0 0 60.6 401.2ZM45.3 402.2A252.0 252.0 0 0 1 43 398.8L53.8 391.5A239.0 239.0 0 0 0 56 394.8ZM38.4 391.8A252.0 252.0 0 0 1 37.3 390L48.4 383.2A239.0 239.0 0 0 0 49.4 384.9ZM31.5 380.1A252.0 252.0 0 0 1 28.1 373.6L39.6 367.6A239.0 239.0 0 0 0 42.9 373.8ZM27.6 372.7A252.0 252.0 0 0 1 26.2 369.9L37.8 364.1A239.0 239.0 0 0 0 39.2 366.8ZM21.8 360.4A252.0 252.0 0 0 1 21.3 359.5L33.2 354.2A239.0 239.0 0 0 0 33.6 355.1ZM15.8 345.9A252.0 252.0 0 0 1 12.7 337.1L25.1 333A239.0 239.0 0 0 0 28 341.4ZM11.1 332.1A252.0 252.0 0 0 1 8.8 324.1L21.4 320.7A239.0 239.0 0 0 0 23.6 328.3ZM8.5 323.1A252.0 252.0 0 0 1 8 321L20.6 317.8A239.0 239.0 0 0 0 21.1 319.7ZM7.5 319A252.0 252.0 0 0 1 7 317L19.6 313.9A239.0 239.0 0 0 0 20.1 315.9ZM6.5 314.9A252.0 252.0 0 0 1 6.1 312.9L18.7 310.1A239.0 239.0 0 0 0 19.2 312ZM5.8 311.9A252.0 252.0 0 0 1 4.2 303.7L17 301.3A239.0 239.0 0 0 0 18.5 309.1ZM3.3 298.6A252.0 252.0 0 0 1 3 296.5L15.8 294.5A239.0 239.0 0 0 0 16.1 296.5ZM0.2 268.4A252.0 252.0 0 0 1 0.1 264.3L13.1 263.9A239.0 239.0 0 0 0 13.2 267.9ZM0 254.9A252.0 252.0 0 0 1 0.1 252.8L13.1 253A239.0 239.0 0 0 0 13 255ZM0.6 241.3A252.0 252.0 0 0 1 0.6 240.3L13.6 241.2A239.0 239.0 0 0 0 13.5 242.2ZM0.9 237.1A252.0 252.0 0 0 1 1.2 233L14.2 234.3A239.0 239.0 0 0 0 13.8 238.2ZM2.1 225.7A252.0 252.0 0 0 1 2.5 222.6L15.4 224.4A239.0 239.0 0 0 0 15 227.4ZM4 213.3A252.0 252.0 0 0 1 5.4 206.2L18.1 208.8A239.0 239.0 0 0 0 16.8 215.6ZM8.3 194A252.0 252.0 0 0 1 8.5 192.9L21.1 196.3A239.0 239.0 0 0 0 20.8 197.3ZM9.1 190.9A252.0 252.0 0 0 1 9.4 189.9L21.9 193.4A239.0 239.0 0 0 0 21.6 194.4ZM9.7 188.9A252.0 252.0 0 0 1 10.5 185.9L23 189.6A239.0 239.0 0 0 0 22.2 192.5ZM23 152.7A252.0 252.0 0 0 1 23.5 151.8L35.3 157.2A239.0 239.0 0 0 0 34.9 158.1ZM23.9 150.8A252.0 252.0 0 0 1 24.4 149.9L36.1 155.5A239.0 239.0 0 0 0 35.7 156.3ZM25.7 147.1A252.0 252.0 0 0 1 26.2 146.1L37.8 151.9A239.0 239.0 0 0 0 37.4 152.8ZM34.6 130.5A252.0 252.0 0 0 1 36.8 126.9L47.9 133.7A239.0 239.0 0 0 0 45.9 137.1ZM51.5 105.4A252.0 252.0 0 0 1 56.7 98.8L66.7 107A239.0 239.0 0 0 0 61.8 113.2ZM57.3 98A252.0 252.0 0 0 1 66.9 87L76.5 95.8A239.0 239.0 0 0 0 67.4 106.2ZM72.7 80.9A252.0 252.0 0 0 1 76.4 77.2L85.5 86.6A239.0 239.0 0 0 0 82 90.1ZM79.4 74.4A252.0 252.0 0 0 1 82.5 71.5L91.2 81.1A239.0 239.0 0 0 0 88.3 83.8ZM104.4 53.8A252.0 252.0 0 0 1 106.1 52.5L113.6 63.1A239.0 239.0 0 0 0 112 64.3ZM125.4 40.1A252.0 252.0 0 0 1 126.3 39.6L132.8 50.9A239.0 239.0 0 0 0 131.9 51.4ZM128.1 38.6A252.0 252.0 0 0 1 130.9 37L137.1 48.4A239.0 239.0 0 0 0 134.5 49.9ZM131.8 36.5A252.0 252.0 0 0 1 136.4 34.1L142.4 45.6A239.0 239.0 0 0 0 138 48ZM138.2 33.1A252.0 252.0 0 0 1 141.1 31.7L146.8 43.4A239.0 239.0 0 0 0 144.1 44.7ZM142 31.3A252.0 252.0 0 0 1 144.8 29.9L150.3 41.7A239.0 239.0 0 0 0 147.7 43ZM177.9 17.1A252.0 252.0 0 0 1 180.9 16.2L184.6 28.7A239.0 239.0 0 0 0 181.7 29.6ZM182.9 15.7A252.0 252.0 0 0 1 183.9 15.4L187.4 27.9A239.0 239.0 0 0 0 186.5 28.2ZM185.9 14.8A252.0 252.0 0 0 1 188 14.3L191.3 26.8A239.0 239.0 0 0 0 189.3 27.4ZM194 12.8A252.0 252.0 0 0 1 196.1 12.3L199 25A239.0 239.0 0 0 0 197 25.4ZM204.2 10.6A252.0 252.0 0 0 1 206.3 10.2L208.7 23A239.0 239.0 0 0 0 206.7 23.3ZM210.4 9.5A252.0 252.0 0 0 1 211.4 9.3L213.5 22.1A239.0 239.0 0 0 0 212.6 22.3ZM212.5 9.1A252.0 252.0 0 0 1 215.6 8.6L217.5 21.5A239.0 239.0 0 0 0 214.5 22ZM228 7.1A252.0 252.0 0 0 1 233.2 6.7L234.2 19.7A239.0 239.0 0 0 0 229.3 20.1ZM234.3 6.6A252.0 252.0 0 0 1 236.3 6.5L237.2 19.5A239.0 239.0 0 0 0 235.2 19.6ZM243.6 6.1A252.0 252.0 0 0 1 249.9 6L250 19A239.0 239.0 0 0 0 244.1 19.1ZM251 6A252.0 252.0 0 0 1 252 6L252 19A239.0 239.0 0 0 0 251 19ZM264.5 6.3A252.0 252.0 0 0 1 266.6 6.4L265.9 19.4A239.0 239.0 0 0 0 263.9 19.3ZM267.7 6.5A252.0 252.0 0 0 1 270.8 6.7L269.8 19.7A239.0 239.0 0 0 0 266.8 19.5ZM271.8 6.8A252.0 252.0 0 0 1 276 7.1L274.7 20.1A239.0 239.0 0 0 0 270.8 19.7ZM283.3 7.9A252.0 252.0 0 0 1 284.3 8.1L282.6 21A239.0 239.0 0 0 0 281.6 20.8ZM285.3 8.2A252.0 252.0 0 0 1 286.4 8.4L284.6 21.2A239.0 239.0 0 0 0 283.6 21.1ZM294.6 9.6A252.0 252.0 0 0 1 295.6 9.8L293.4 22.6A239.0 239.0 0 0 0 292.4 22.4ZM296.7 10A252.0 252.0 0 0 1 298.7 10.4L296.3 23.1A239.0 239.0 0 0 0 294.4 22.8ZM308.9 12.5A252.0 252.0 0 0 1 311 13L307.9 25.6A239.0 239.0 0 0 0 306 25.2ZM316 14.3A252.0 252.0 0 0 1 317.1 14.5L313.7 27.1A239.0 239.0 0 0 0 312.7 26.8ZM319.1 15.1A252.0 252.0 0 0 1 320.1 15.4L316.6 27.9A239.0 239.0 0 0 0 315.6 27.6ZM344.8 23.7A252.0 252.0 0 0 1 348.7 25.3L343.7 37.3A239.0 239.0 0 0 0 340 35.8ZM349.6 25.7A252.0 252.0 0 0 1 353.5 27.3L348.2 39.2A239.0 239.0 0 0 0 344.6 37.7ZM360.1 30.4A252.0 252.0 0 0 1 362 31.3L356.3 43A239.0 239.0 0 0 0 354.5 42.1ZM362.9 31.7A252.0 252.0 0 0 1 363.9 32.2L358.1 43.8A239.0 239.0 0 0 0 357.2 43.4ZM366.7 33.6A252.0 252.0 0 0 1 369.5 35.1L363.4 46.6A239.0 239.0 0 0 0 360.8 45.2ZM370.4 35.5A252.0 252.0 0 0 1 374.1 37.5L367.8 48.9A239.0 239.0 0 0 0 364.3 47ZM375 38A252.0 252.0 0 0 1 379.5 40.6L372.9 51.9A239.0 239.0 0 0 0 368.6 49.4ZM380.4 41.2A252.0 252.0 0 0 1 384 43.3L377.2 54.4A239.0 239.0 0 0 0 373.8 52.4ZM391 47.8A252.0 252.0 0 0 1 392.8 49L385.5 59.8A239.0 239.0 0 0 0 383.9 58.7ZM393.6 49.6A252.0 252.0 0 0 1 394.5 50.2L387.1 60.9A239.0 239.0 0 0 0 386.3 60.3ZM397.1 51.9A252.0 252.0 0 0 1 401.3 55L393.6 65.5A239.0 239.0 0 0 0 389.6 62.6ZM402.1 55.6A252.0 252.0 0 0 1 403 56.2L395.2 66.6A239.0 239.0 0 0 0 394.4 66.1ZM404.6 57.5A252.0 252.0 0 0 1 406.3 58.8L398.3 69A239.0 239.0 0 0 0 396.8 67.8ZM408 60.1A252.0 252.0 0 0 1 411.2 62.7L403 72.7A239.0 239.0 0 0 0 399.9 70.3ZM420.7 70.8A252.0 252.0 0 0 1 423 72.9L414.2 82.5A239.0 239.0 0 0 0 412 80.5ZM423.8 73.6A252.0 252.0 0 0 1 424.6 74.4L415.7 83.8A239.0 239.0 0 0 0 414.9 83.2ZM439.9 90.1A252.0 252.0 0 0 1 441.3 91.6L431.5 100.2A239.0 239.0 0 0 0 430.2 98.7ZM442 92.4A252.0 252.0 0 0 1 442.6 93.2L432.8 101.7A239.0 239.0 0 0 0 432.2 100.9ZM448.6 100.4A252.0 252.0 0 0 1 449.3 101.2L439.1 109.3A239.0 239.0 0 0 0 438.5 108.5ZM450.6 102.9A252.0 252.0 0 0 1 451.9 104.5L441.6 112.4A239.0 239.0 0 0 0 440.3 110.9ZM453.8 107A252.0 252.0 0 0 1 455 108.7L444.5 116.4A239.0 239.0 0 0 0 443.4 114.8ZM456.2 110.4A252.0 252.0 0 0 1 457.5 112.1L446.9 119.6A239.0 239.0 0 0 0 445.7 118ZM472.5 135.9A252.0 252.0 0 0 1 474 138.7L462.5 144.8A239.0 239.0 0 0 0 461.1 142.2ZM474.9 140.5A252.0 252.0 0 0 1 476.4 143.3L464.8 149.2A239.0 239.0 0 0 0 463.4 146.6ZM478.3 147.1A252.0 252.0 0 0 1 479.2 148.9L467.5 154.6A239.0 239.0 0 0 0 466.6 152.8ZM481 152.7A252.0 252.0 0 0 1 481.4 153.7L469.6 159A239.0 239.0 0 0 0 469.1 158.1ZM483.9 159.4A252.0 252.0 0 0 1 485.1 162.3L473.1 167.2A239.0 239.0 0 0 0 471.9 164.5ZM485.9 164.2A252.0 252.0 0 0 1 486.3 165.2L474.2 170A239.0 239.0 0 0 0 473.8 169.1ZM491.3 178.9A252.0 252.0 0 0 1 491.6 179.9L479.2 184A239.0 239.0 0 0 0 478.9 183ZM493.8 186.9A252.0 252.0 0 0 1 496.8 198L484.1 201.1A239.0 239.0 0 0 0 481.3 190.6ZM498.8 207.2A252.0 252.0 0 0 1 499.8 212.3L487 214.7A239.0 239.0 0 0 0 486.1 209.8ZM500 213.3A252.0 252.0 0 0 1 500.2 214.4L487.4 216.6A239.0 239.0 0 0 0 487.2 215.6ZM502.8 233A252.0 252.0 0 0 1 502.9 234L489.9 235.3A239.0 239.0 0 0 0 489.8 234.3ZM503 235.1A252.0 252.0 0 0 1 503.1 237.1L490.2 238.2A239.0 239.0 0 0 0 490 236.2ZM503.3 239.2A252.0 252.0 0 0 1 503.4 241.3L490.5 242.2A239.0 239.0 0 0 0 490.3 240.2ZM503.9 250.7A252.0 252.0 0 0 1 503.9 251.7L490.9 252.1A239.0 239.0 0 0 0 490.9 251.1ZM504 257A252.0 252.0 0 0 1 504 258L491 258A239.0 239.0 0 0 0 491 257Z" fill="#57c1cf"/>
<path d="M486.8 294.3A237.6 237.6 0 0 1 486.5 296.2L473.3 294.1A224.2 224.2 0 0 0 473.6 292.2ZM484.5 306.9A237.6 237.6 0 0 1 484.3 307.8L471.2 305A224.2 224.2 0 0 0 471.4 304.1ZM481.3 320.3A237.6 237.6 0 0 1 480.8 322.2L467.9 318.6A224.2 224.2 0 0 0 468.4 316.8ZM466.6 359.9A237.6 237.6 0 0 1 466.2 360.8L454.1 355A224.2 224.2 0 0 0 454.5 354.2ZM465.8 361.7A237.6 237.6 0 0 1 465.3 362.6L453.3 356.7A224.2 224.2 0 0 0 453.7 355.9ZM464.9 363.5A237.6 237.6 0 0 1 464.5 364.4L452.5 358.4A224.2 224.2 0 0 0 452.9 357.5ZM464 365.3A237.6 237.6 0 0 1 463.6 366.1L451.6 360A224.2 224.2 0 0 0 452.1 359.2ZM461.7 369.6A237.6 237.6 0 0 1 461.3 370.5L449.5 364.1A224.2 224.2 0 0 0 449.9 363.3ZM460.8 371.4A237.6 237.6 0 0 1 460.3 372.2L448.6 365.8A224.2 224.2 0 0 0 449 365ZM454.4 382.4A237.6 237.6 0 0 1 453.4 384.1L442 377A224.2 224.2 0 0 0 443 375.4ZM446.8 394A237.6 237.6 0 0 1 446.3 394.8L435.3 387.1A224.2 224.2 0 0 0 435.9 386.3ZM444.6 397.2A237.6 237.6 0 0 1 442.8 399.6L432.1 391.6A224.2 224.2 0 0 0 433.7 389.3ZM442.2 400.4A237.6 237.6 0 0 1 441.6 401.1L430.9 393.1A224.2 224.2 0 0 0 431.5 392.3ZM441 401.9A237.6 237.6 0 0 1 440.5 402.7L429.8 394.5A224.2 224.2 0 0 0 430.4 393.8ZM437.4 406.6A237.6 237.6 0 0 1 436.8 407.3L426.4 398.9A224.2 224.2 0 0 0 427 398.2ZM436.2 408.1A237.6 237.6 0 0 1 431.7 413.4L421.6 404.6A224.2 224.2 0 0 0 425.8 399.6ZM419.7 426.4A237.6 237.6 0 0 1 418.3 427.7L408.9 418.2A224.2 224.2 0 0 0 410.2 416.9ZM416.8 429.1A237.6 237.6 0 0 1 415.4 430.5L406.2 420.7A224.2 224.2 0 0 0 407.5 419.5ZM414 431.8A237.6 237.6 0 0 1 412.5 433.2L403.5 423.3A224.2 224.2 0 0 0 404.9 422ZM411.8 433.8A237.6 237.6 0 0 1 410.4 435.1L401.4 425.2A224.2 224.2 0 0 0 402.8 423.9ZM409.6 435.8A237.6 237.6 0 0 1 405.1 439.7L396.5 429.4A224.2 224.2 0 0 0 400.7 425.8ZM401.3 442.8A237.6 237.6 0 0 1 396.7 446.5L388.5 435.8A224.2 224.2 0 0 0 392.9 432.4ZM395.1 447.6A237.6 237.6 0 0 1 394.4 448.2L386.3 437.5A224.2 224.2 0 0 0 387.1 436.9ZM359.3 470A237.6 237.6 0 0 1 357.5 470.9L351.5 458.9A224.2 224.2 0 0 0 353.2 458.1ZM345.9 476.3A237.6 237.6 0 0 1 343.2 477.4L338 465A224.2 224.2 0 0 0 340.6 464ZM342.2 477.8A237.6 237.6 0 0 1 341.3 478.2L336.3 465.8A224.2 224.2 0 0 0 337.2 465.4ZM340.4 478.5A237.6 237.6 0 0 1 334.9 480.7L330.2 468.1A224.2 224.2 0 0 0 335.4 466.1ZM328.4 483A237.6 237.6 0 0 1 327.5 483.3L323.2 470.6A224.2 224.2 0 0 0 324.1 470.3ZM326.5 483.6A237.6 237.6 0 0 1 323.7 484.5L319.7 471.7A224.2 224.2 0 0 0 322.3 470.9ZM294.1 491.8A237.6 237.6 0 0 1 291.2 492.3L289 479.1A224.2 224.2 0 0 0 291.7 478.6ZM290.2 492.5A237.6 237.6 0 0 1 285.4 493.2L283.5 480A224.2 224.2 0 0 0 288.1 479.3ZM284.4 493.4A237.6 237.6 0 0 1 283.4 493.5L281.6 480.2A224.2 224.2 0 0 0 282.6 480.1ZM279.5 494A237.6 237.6 0 0 1 274.6 494.5L273.3 481.2A224.2 224.2 0 0 0 278 480.7ZM255 495.6A237.6 237.6 0 0 1 252 495.6L252 482.2A224.2 224.2 0 0 0 254.8 482.2ZM250 495.6A237.6 237.6 0 0 1 249 495.6L249.2 482.2A224.2 224.2 0 0 0 250.1 482.2ZM231.3 494.7A237.6 237.6 0 0 1 230.4 494.6L231.6 481.3A224.2 224.2 0 0 0 232.5 481.4ZM228.4 494.4A237.6 237.6 0 0 1 227.4 494.3L228.8 481A224.2 224.2 0 0 0 229.7 481.1ZM226.4 494.2A237.6 237.6 0 0 1 225.5 494.1L227 480.8A224.2 224.2 0 0 0 227.9 480.9ZM202.2 490.3A237.6 237.6 0 0 1 195.4 488.8L198.6 475.8A224.2 224.2 0 0 0 205 477.2ZM185 486A237.6 237.6 0 0 1 183.1 485.4L187 472.6A224.2 224.2 0 0 0 188.8 473.1ZM179.3 484.2A237.6 237.6 0 0 1 178.4 483.9L182.5 471.2A224.2 224.2 0 0 0 183.4 471.5ZM162.7 478.2A237.6 237.6 0 0 1 159.9 477L165.1 464.7A224.2 224.2 0 0 0 167.7 465.8ZM159 476.7A237.6 237.6 0 0 1 156.3 475.5L161.7 463.2A224.2 224.2 0 0 0 164.3 464.3ZM155.4 475.1A237.6 237.6 0 0 1 154.5 474.7L160 462.5A224.2 224.2 0 0 0 160.9 462.8ZM143.9 469.6A237.6 237.6 0 0 1 142.1 468.7L148.3 456.8A224.2 224.2 0 0 0 150 457.6ZM132.6 463.4A237.6 237.6 0 0 1 125.9 459.4L133 448A224.2 224.2 0 0 0 139.4 451.9ZM125.1 458.8A237.6 237.6 0 0 1 123.4 457.8L130.6 446.5A224.2 224.2 0 0 0 132.2 447.5ZM108.1 447A237.6 237.6 0 0 1 101.1 441.6L109.6 431.2A224.2 224.2 0 0 0 116.2 436.4ZM98.1 439A237.6 237.6 0 0 1 95.9 437.1L104.7 427A224.2 224.2 0 0 0 106.8 428.8ZM74.2 415.6A237.6 237.6 0 0 1 73.6 414.9L83.6 406A224.2 224.2 0 0 0 84.2 406.7ZM72.9 414.1A237.6 237.6 0 0 1 72.3 413.4L82.4 404.6A224.2 224.2 0 0 0 83 405.3ZM71 411.9A237.6 237.6 0 0 1 69.7 410.4L80 401.8A224.2 224.2 0 0 0 81.2 403.2ZM52.7 387.4A237.6 237.6 0 0 1 51.7 385.8L63 378.6A224.2 224.2 0 0 0 64 380.1ZM50.6 384.1A237.6 237.6 0 0 1 49.1 381.6L60.5 374.6A224.2 224.2 0 0 0 62 377ZM44.1 373.1A237.6 237.6 0 0 1 43.2 371.4L55 365A224.2 224.2 0 0 0 55.9 366.6ZM42.3 369.6A237.6 237.6 0 0 1 40.9 367L52.8 360.9A224.2 224.2 0 0 0 54.1 363.3ZM36.5 358.2A237.6 237.6 0 0 1 35.7 356.4L47.9 350.8A224.2 224.2 0 0 0 48.7 352.5ZM30 342.7A237.6 237.6 0 0 1 28.3 338.1L40.9 333.6A224.2 224.2 0 0 0 42.5 338ZM24 325A237.6 237.6 0 0 1 23.8 324.1L36.6 320.4A224.2 224.2 0 0 0 36.9 321.2ZM23.5 323.1A237.6 237.6 0 0 1 22.7 320.3L35.6 316.8A224.2 224.2 0 0 0 36.4 319.5ZM21 313.6A237.6 237.6 0 0 1 20.5 311.7L33.6 308.7A224.2 224.2 0 0 0 34 310.5ZM19.3 305.9A237.6 237.6 0 0 1 18.9 304L32 301.4A224.2 224.2 0 0 0 32.4 303.2ZM18.7 303A237.6 237.6 0 0 1 18.5 302.1L31.7 299.6A224.2 224.2 0 0 0 31.9 300.5ZM16.5 289.4A237.6 237.6 0 0 1 16.2 287.5L29.5 285.8A224.2 224.2 0 0 0 29.8 287.6ZM15.8 283.6A237.6 237.6 0 0 1 15.7 282.6L29 281.2A224.2 224.2 0 0 0 29.1 282.1ZM15.1 275.7A237.6 237.6 0 0 1 14.7 269.8L28.1 269.1A224.2 224.2 0 0 0 28.4 274.7ZM14.4 254.1A237.6 237.6 0 0 1 14.5 252.1L27.9 252.4A224.2 224.2 0 0 0 27.8 254.3ZM15.1 239.3A237.6 237.6 0 0 1 15.2 238.3L28.6 239.4A224.2 224.2 0 0 0 28.5 240.4ZM15.3 237.3A237.6 237.6 0 0 1 15.9 231.5L29.2 233A224.2 224.2 0 0 0 28.6 238.5ZM16.4 227.6A237.6 237.6 0 0 1 16.9 223.7L30.2 225.6A224.2 224.2 0 0 0 29.6 229.3ZM17.2 221.7A237.6 237.6 0 0 1 17.7 218.8L30.9 221A224.2 224.2 0 0 0 30.4 223.8ZM18.3 214.9A237.6 237.6 0 0 1 18.5 213.9L31.7 216.4A224.2 224.2 0 0 0 31.5 217.3ZM19.3 210.1A237.6 237.6 0 0 1 19.5 209.1L32.6 211.9A224.2 224.2 0 0 0 32.4 212.8ZM20.8 203.3A237.6 237.6 0 0 1 21 202.4L34 205.5A224.2 224.2 0 0 0 33.8 206.4ZM26.1 184.4A237.6 237.6 0 0 1 26.4 183.5L39.1 187.7A224.2 224.2 0 0 0 38.8 188.5ZM28 178.8A237.6 237.6 0 0 1 28.3 177.9L40.9 182.4A224.2 224.2 0 0 0 40.6 183.3ZM28.7 176.9A237.6 237.6 0 0 1 29 176L41.6 180.6A224.2 224.2 0 0 0 41.3 181.5ZM29.3 175.1A237.6 237.6 0 0 1 30.7 171.4L43.2 176.3A224.2 224.2 0 0 0 41.9 179.8ZM31.5 169.6A237.6 237.6 0 0 1 33.7 164.1L46 169.4A224.2 224.2 0 0 0 43.9 174.6ZM34.5 162.3A237.6 237.6 0 0 1 34.9 161.4L47.2 166.9A224.2 224.2 0 0 0 46.8 167.7ZM35.3 160.5A237.6 237.6 0 0 1 36.5 157.8L48.7 163.5A224.2 224.2 0 0 0 47.5 166ZM37.8 155.2A237.6 237.6 0 0 1 38.2 154.3L50.3 160.1A224.2 224.2 0 0 0 49.9 161ZM50.6 131.9A237.6 237.6 0 0 1 52.2 129.4L63.5 136.6A224.2 224.2 0 0 0 62 139ZM53.3 127.7A237.6 237.6 0 0 1 53.8 126.9L65 134.3A224.2 224.2 0 0 0 64.5 135.1ZM54.9 125.3A237.6 237.6 0 0 1 56 123.7L67.1 131.2A224.2 224.2 0 0 0 66 132.8ZM66.6 109.4A237.6 237.6 0 0 1 70.3 104.9L80.6 113.5A224.2 224.2 0 0 0 77 117.8ZM71 104.1A237.6 237.6 0 0 1 74.9 99.6L84.8 108.6A224.2 224.2 0 0 0 81.2 112.8ZM88.6 85.5A237.6 237.6 0 0 1 90.7 83.5L99.8 93.3A224.2 224.2 0 0 0 97.8 95.3ZM95.9 78.9A237.6 237.6 0 0 1 100.4 75.1L108.9 85.4A224.2 224.2 0 0 0 104.7 89ZM116.8 62.6A237.6 237.6 0 0 1 120.1 60.4L127.5 71.5A224.2 224.2 0 0 0 124.5 73.6ZM121.7 59.3A237.6 237.6 0 0 1 122.6 58.7L129.9 70A224.2 224.2 0 0 0 129.1 70.5ZM134.3 51.6A237.6 237.6 0 0 1 139.5 48.7L145.9 60.5A224.2 224.2 0 0 0 141 63.2ZM145.6 45.5A237.6 237.6 0 0 1 146.5 45.1L152.5 57.1A224.2 224.2 0 0 0 151.6 57.5ZM159 39.3A237.6 237.6 0 0 1 161.8 38.2L166.8 50.6A224.2 224.2 0 0 0 164.3 51.7ZM180.3 31.5A237.6 237.6 0 0 1 181.2 31.2L185.2 44A224.2 224.2 0 0 0 184.3 44.3ZM206 24.9A237.6 237.6 0 0 1 208.9 24.3L211.3 37.5A224.2 224.2 0 0 0 208.6 38ZM229.4 21.5A237.6 237.6 0 0 1 232.3 21.2L233.4 34.6A224.2 224.2 0 0 0 230.7 34.8ZM233.3 21.1A237.6 237.6 0 0 1 239.2 20.7L239.9 34.1A224.2 224.2 0 0 0 234.4 34.5ZM257.9 20.5A237.6 237.6 0 0 1 258.9 20.5L258.5 33.9A224.2 224.2 0 0 0 257.6 33.9ZM264.8 20.7A237.6 237.6 0 0 1 266.8 20.9L265.9 34.2A224.2 224.2 0 0 0 264.1 34.1ZM270.7 21.1A237.6 237.6 0 0 1 278.5 21.9L277 35.2A224.2 224.2 0 0 0 269.6 34.5ZM280.5 22.1A237.6 237.6 0 0 1 282.4 22.4L280.7 35.6A224.2 224.2 0 0 0 278.9 35.4ZM283.4 22.5A237.6 237.6 0 0 1 284.4 22.6L282.6 35.9A224.2 224.2 0 0 0 281.6 35.8ZM311.4 28A237.6 237.6 0 0 1 313.3 28.5L309.9 41.4A224.2 224.2 0 0 0 308.1 40.9ZM319 30A237.6 237.6 0 0 1 321.9 30.9L317.9 43.7A224.2 224.2 0 0 0 315.2 42.9ZM325.6 32.1A237.6 237.6 0 0 1 330.3 33.7L325.9 46.3A224.2 224.2 0 0 0 321.5 44.8ZM362.8 47.8A237.6 237.6 0 0 1 367.9 50.6L361.4 62.3A224.2 224.2 0 0 0 356.5 59.6ZM373.1 53.6A237.6 237.6 0 0 1 373.9 54.1L367 65.6A224.2 224.2 0 0 0 366.2 65.1ZM375.6 55.1A237.6 237.6 0 0 1 376.4 55.6L369.4 67A224.2 224.2 0 0 0 368.6 66.5ZM400.6 72.6A237.6 237.6 0 0 1 402.1 73.8L393.6 84.2A224.2 224.2 0 0 0 392.2 83ZM403.6 75.1A237.6 237.6 0 0 1 404.4 75.7L395.8 86A224.2 224.2 0 0 0 395.1 85.4ZM405.9 77A237.6 237.6 0 0 1 407.4 78.3L398.6 88.4A224.2 224.2 0 0 0 397.2 87.2ZM429.1 99.6A237.6 237.6 0 0 1 431.7 102.6L421.6 111.4A224.2 224.2 0 0 0 419.2 108.6ZM434.9 106.4A237.6 237.6 0 0 1 435.6 107.1L425.2 115.6A224.2 224.2 0 0 0 424.6 114.9ZM439.2 111.7A237.6 237.6 0 0 1 441 114.1L430.4 122.2A224.2 224.2 0 0 0 428.7 120ZM443.4 117.2A237.6 237.6 0 0 1 444 118L433.2 125.9A224.2 224.2 0 0 0 432.6 125.2ZM446.8 122A237.6 237.6 0 0 1 447.4 122.8L436.4 130.5A224.2 224.2 0 0 0 435.9 129.7ZM452.3 130.2A237.6 237.6 0 0 1 452.8 131.1L441.5 138.2A224.2 224.2 0 0 0 441 137.4ZM453.4 131.9A237.6 237.6 0 0 1 453.9 132.7L442.5 139.8A224.2 224.2 0 0 0 442 139ZM464.5 151.6A237.6 237.6 0 0 1 467 156.9L454.9 162.6A224.2 224.2 0 0 0 452.5 157.6ZM468.3 159.6A237.6 237.6 0 0 1 469.9 163.2L457.6 168.6A224.2 224.2 0 0 0 456.1 165.2ZM484.3 208.2A237.6 237.6 0 0 1 484.7 210.1L471.6 212.8A224.2 224.2 0 0 0 471.2 211ZM484.9 211A237.6 237.6 0 0 1 485.3 213L472.1 215.5A224.2 224.2 0 0 0 471.8 213.7ZM488.7 237.3A237.6 237.6 0 0 1 488.8 238.3L475.4 239.4A224.2 224.2 0 0 0 475.4 238.5ZM488.9 240.3A237.6 237.6 0 0 1 489.4 247.2L476 247.8A224.2 224.2 0 0 0 475.6 241.3ZM489.6 254.1A237.6 237.6 0 0 1 489.6 256L476.2 256.1A224.2 224.2 0 0 0 476.2 254.3Z" fill="#1a683b"/>
<path d="M489.6 258A237.6 237.6 0 0 1 489.5 263.9L476.1 263.6A224.2 224.2 0 0 0 476.2 258ZM488.9 276.7A237.6 237.6 0 0 1 488.5 280.6L475.2 279.3A224.2 224.2 0 0 0 475.5 275.6ZM487.5 289.4A237.6 237.6 0 0 1 487.1 292.3L473.8 290.4A224.2 224.2 0 0 0 474.2 287.6ZM487 293.3A237.6 237.6 0 0 1 486.8 294.3L473.6 292.2A224.2 224.2 0 0 0 473.7 291.3ZM485.8 300.1A237.6 237.6 0 0 1 485.1 304L472 301.4A224.2 224.2 0 0 0 472.6 297.7ZM484.9 305A237.6 237.6 0 0 1 484.5 306.9L471.4 304.1A224.2 224.2 0 0 0 471.8 302.3ZM484.3 307.8A237.6 237.6 0 0 1 484.1 308.8L471 305.9A224.2 224.2 0 0 0 471.2 305ZM483.9 309.8A237.6 237.6 0 0 1 481.8 318.4L468.8 315A224.2 224.2 0 0 0 470.8 306.9ZM479.7 326A237.6 237.6 0 0 1 478.8 328.8L466 324.8A224.2 224.2 0 0 0 466.8 322.1ZM478.5 329.7A237.6 237.6 0 0 1 475.7 338.1L463.1 333.6A224.2 224.2 0 0 0 465.7 325.7ZM475.3 339.1A237.6 237.6 0 0 1 475 340L462.4 335.4A224.2 224.2 0 0 0 462.7 334.5ZM467 359.1A237.6 237.6 0 0 1 466.6 359.9L454.5 354.2A224.2 224.2 0 0 0 454.9 353.4ZM465.3 362.6A237.6 237.6 0 0 1 464.9 363.5L452.9 357.5A224.2 224.2 0 0 0 453.3 356.7ZM464.5 364.4A237.6 237.6 0 0 1 464 365.3L452.1 359.2A224.2 224.2 0 0 0 452.5 358.4ZM461.3 370.5A237.6 237.6 0 0 1 460.8 371.4L449 365A224.2 224.2 0 0 0 449.5 364.1ZM460.3 372.2A237.6 237.6 0 0 1 459.9 373.1L448.1 366.6A224.2 224.2 0 0 0 448.6 365.8ZM458.9 374.8A237.6 237.6 0 0 1 457.4 377.4L445.9 370.6A224.2 224.2 0 0 0 447.2 368.2ZM455.9 379.9A237.6 237.6 0 0 1 454.4 382.4L443 375.4A224.2 224.2 0 0 0 444.4 373ZM449.6 389.9A237.6 237.6 0 0 1 446.8 394L435.9 386.3A224.2 224.2 0 0 0 438.5 382.5ZM445.1 396.4A237.6 237.6 0 0 1 444.6 397.2L433.7 389.3A224.2 224.2 0 0 0 434.3 388.6ZM441.6 401.1A237.6 237.6 0 0 1 441 401.9L430.4 393.8A224.2 224.2 0 0 0 430.9 393.1ZM440.5 402.7A237.6 237.6 0 0 1 439.8 403.5L429.3 395.3A224.2 224.2 0 0 0 429.8 394.5ZM438.6 405A237.6 237.6 0 0 1 438 405.8L427.5 397.5A224.2 224.2 0 0 0 428.1 396.7ZM430.4 414.9A237.6 237.6 0 0 1 429.1 416.4L419.2 407.4A224.2 224.2 0 0 0 420.4 406ZM427.8 417.8A237.6 237.6 0 0 1 425.8 420L416 410.9A224.2 224.2 0 0 0 417.9 408.8ZM425.1 420.7A237.6 237.6 0 0 1 423.8 422.1L414.1 412.9A224.2 224.2 0 0 0 415.4 411.5ZM420.4 425.7A237.6 237.6 0 0 1 419.7 426.4L410.2 416.9A224.2 224.2 0 0 0 410.9 416.2ZM405.1 439.7A237.6 237.6 0 0 1 402.1 442.2L393.6 431.8A224.2 224.2 0 0 0 396.5 429.4ZM394.4 448.2A237.6 237.6 0 0 1 388 452.8L380.3 441.9A224.2 224.2 0 0 0 386.3 437.5ZM387.2 453.4A237.6 237.6 0 0 1 379.8 458.3L372.6 447A224.2 224.2 0 0 0 379.5 442.4ZM378.1 459.4A237.6 237.6 0 0 1 371.4 463.4L364.6 451.9A224.2 224.2 0 0 0 371 448ZM366.2 466.3A237.6 237.6 0 0 1 361 469.1L354.9 457.2A224.2 224.2 0 0 0 359.8 454.6ZM360.1 469.6A237.6 237.6 0 0 1 359.3 470L353.2 458.1A224.2 224.2 0 0 0 354 457.6ZM357.5 470.9A237.6 237.6 0 0 1 356.6 471.3L350.7 459.3A224.2 224.2 0 0 0 351.5 458.9ZM350.4 474.3A237.6 237.6 0 0 1 346.8 475.9L341.4 463.6A224.2 224.2 0 0 0 344.8 462.1ZM334.9 480.7A237.6 237.6 0 0 1 334 481L329.4 468.4A224.2 224.2 0 0 0 330.2 468.1ZM318.1 486.2A237.6 237.6 0 0 1 315.2 487L311.7 474.1A224.2 224.2 0 0 0 314.4 473.4ZM314.3 487.3A237.6 237.6 0 0 1 310.5 488.3L307.2 475.3A224.2 224.2 0 0 0 310.8 474.4ZM309.5 488.5A237.6 237.6 0 0 1 308.6 488.8L305.4 475.8A224.2 224.2 0 0 0 306.3 475.5ZM306.7 489.2A237.6 237.6 0 0 1 305.7 489.5L302.7 476.4A224.2 224.2 0 0 0 303.6 476.2ZM303.8 489.9A237.6 237.6 0 0 1 302.8 490.1L299.9 477A224.2 224.2 0 0 0 300.9 476.8ZM295.1 491.7A237.6 237.6 0 0 1 294.1 491.8L291.7 478.6A224.2 224.2 0 0 0 292.7 478.5ZM282.4 493.6A237.6 237.6 0 0 1 280.5 493.9L278.9 480.6A224.2 224.2 0 0 0 280.7 480.4ZM274.6 494.5A237.6 237.6 0 0 1 269.7 494.9L268.7 481.6A224.2 224.2 0 0 0 273.3 481.2ZM266.8 495.1A237.6 237.6 0 0 1 261.8 495.4L261.3 482A224.2 224.2 0 0 0 265.9 481.8ZM258.9 495.5A237.6 237.6 0 0 1 257.9 495.5L257.6 482.1A224.2 224.2 0 0 0 258.5 482.1ZM256.9 495.5A237.6 237.6 0 0 1 255 495.6L254.8 482.2A224.2 224.2 0 0 0 256.6 482.2ZM242.2 495.4A237.6 237.6 0 0 1 241.2 495.4L241.8 482A224.2 224.2 0 0 0 242.7 482ZM240.2 495.3A237.6 237.6 0 0 1 239.2 495.3L239.9 481.9A224.2 224.2 0 0 0 240.9 481.9ZM237.2 495.1A237.6 237.6 0 0 1 232.3 494.8L233.4 481.4A224.2 224.2 0 0 0 238.1 481.8ZM230.4 494.6A237.6 237.6 0 0 1 229.4 494.5L230.7 481.2A224.2 224.2 0 0 0 231.6 481.3ZM217.7 493.1A237.6 237.6 0 0 1 203.1 490.5L205.9 477.4A224.2 224.2 0 0 0 219.6 479.8ZM177.5 483.6A237.6 237.6 0 0 1 172.8 482L177.3 469.4A224.2 224.2 0 0 0 181.7 470.9ZM163.6 478.5A237.6 237.6 0 0 1 162.7 478.2L167.7 465.8A224.2 224.2 0 0 0 168.6 466.1ZM145.6 470.5A237.6 237.6 0 0 1 143.9 469.6L150 457.6A224.2 224.2 0 0 0 151.6 458.5ZM123.4 457.8A237.6 237.6 0 0 1 120.1 455.6L127.5 444.5A224.2 224.2 0 0 0 130.6 446.5ZM119.3 455.1A237.6 237.6 0 0 1 115.2 452.3L122.9 441.3A224.2 224.2 0 0 0 126.8 444ZM113.6 451.1A237.6 237.6 0 0 1 111.2 449.4L119.2 438.6A224.2 224.2 0 0 0 121.4 440.3ZM110.4 448.8A237.6 237.6 0 0 1 108.1 447L116.2 436.4A224.2 224.2 0 0 0 118.4 438.1ZM101.1 441.6A237.6 237.6 0 0 1 98.1 439L106.8 428.8A224.2 224.2 0 0 0 109.6 431.2ZM94.4 435.8A237.6 237.6 0 0 1 92.9 434.5L101.9 424.5A224.2 224.2 0 0 0 103.3 425.8ZM92.2 433.8A237.6 237.6 0 0 1 91.5 433.2L100.5 423.3A224.2 224.2 0 0 0 101.2 423.9ZM81.6 423.6A237.6 237.6 0 0 1 76.8 418.5L86.7 409.5A224.2 224.2 0 0 0 91.2 414.2ZM75.5 417.1A237.6 237.6 0 0 1 74.2 415.6L84.2 406.7A224.2 224.2 0 0 0 85.5 408.1ZM72.3 413.4A237.6 237.6 0 0 1 71 411.9L81.2 403.2A224.2 224.2 0 0 0 82.4 404.6ZM67.8 408.1A237.6 237.6 0 0 1 67.2 407.3L77.6 398.9A224.2 224.2 0 0 0 78.2 399.6ZM61.8 400.4A237.6 237.6 0 0 1 60 398L70.8 390.1A224.2 224.2 0 0 0 72.5 392.3ZM59.4 397.2A237.6 237.6 0 0 1 52.7 387.4L64 380.1A224.2 224.2 0 0 0 70.3 389.3ZM51.7 385.8A237.6 237.6 0 0 1 51.2 384.9L62.5 377.8A224.2 224.2 0 0 0 63 378.6ZM45.6 375.7A237.6 237.6 0 0 1 45.1 374.8L56.8 368.2A224.2 224.2 0 0 0 57.2 369ZM40.9 367A237.6 237.6 0 0 1 39.5 364.4L51.5 358.4A224.2 224.2 0 0 0 52.8 360.9ZM37.8 360.8A237.6 237.6 0 0 1 36.5 358.2L48.7 352.5A224.2 224.2 0 0 0 49.9 355ZM34.9 354.6A237.6 237.6 0 0 1 33.3 351L45.7 345.7A224.2 224.2 0 0 0 47.2 349.1ZM32.2 348.2A237.6 237.6 0 0 1 31.8 347.3L44.2 342.3A224.2 224.2 0 0 0 44.6 343.2ZM26.7 333.5A237.6 237.6 0 0 1 26.4 332.5L39.1 328.3A224.2 224.2 0 0 0 39.4 329.2ZM25.5 329.7A237.6 237.6 0 0 1 24 325L36.9 321.2A224.2 224.2 0 0 0 38.3 325.7ZM22.7 320.3A237.6 237.6 0 0 1 22.2 318.4L35.2 315A224.2 224.2 0 0 0 35.6 316.8ZM21.7 316.5A237.6 237.6 0 0 1 21.2 314.6L34.2 311.4A224.2 224.2 0 0 0 34.7 313.2ZM20.5 311.7A237.6 237.6 0 0 1 19.9 308.8L33 305.9A224.2 224.2 0 0 0 33.6 308.7ZM18.9 304A237.6 237.6 0 0 1 18.7 303L31.9 300.5A224.2 224.2 0 0 0 32 301.4ZM17.3 295.3A237.6 237.6 0 0 1 17 293.3L30.3 291.3A224.2 224.2 0 0 0 30.6 293.2ZM16.9 292.3A237.6 237.6 0 0 1 16.5 289.4L29.8 287.6A224.2 224.2 0 0 0 30.2 290.4ZM15.7 282.6A237.6 237.6 0 0 1 15.3 278.7L28.6 277.5A224.2 224.2 0 0 0 29 281.2ZM15.2 277.7A237.6 237.6 0 0 1 15.1 275.7L28.4 274.7A224.2 224.2 0 0 0 28.6 276.6ZM14.5 262.9A237.6 237.6 0 0 1 14.4 256L27.8 256.1A224.2 224.2 0 0 0 27.8 262.6ZM14.7 245.2A237.6 237.6 0 0 1 15.1 239.3L28.5 240.4A224.2 224.2 0 0 0 28.1 245.9ZM15.9 231.5A237.6 237.6 0 0 1 16.2 228.5L29.5 230.2A224.2 224.2 0 0 0 29.2 233ZM17.7 218.8A237.6 237.6 0 0 1 17.8 217.8L31 220.1A224.2 224.2 0 0 0 30.9 221ZM18.9 212A237.6 237.6 0 0 1 19.3 210.1L32.4 212.8A224.2 224.2 0 0 0 32 214.6ZM19.5 209.1A237.6 237.6 0 0 1 20.8 203.3L33.8 206.4A224.2 224.2 0 0 0 32.6 211.9ZM21.7 199.5A237.6 237.6 0 0 1 22.2 197.6L35.2 201A224.2 224.2 0 0 0 34.7 202.8ZM23.2 193.8A237.6 237.6 0 0 1 23.8 191.9L36.6 195.6A224.2 224.2 0 0 0 36.1 197.4ZM27.7 179.7A237.6 237.6 0 0 1 28 178.8L40.6 183.3A224.2 224.2 0 0 0 40.3 184.1ZM34.1 163.2A237.6 237.6 0 0 1 34.5 162.3L46.8 167.7A224.2 224.2 0 0 0 46.4 168.6ZM38.2 154.3A237.6 237.6 0 0 1 39.5 151.6L51.5 157.6A224.2 224.2 0 0 0 50.3 160.1ZM40.4 149.9A237.6 237.6 0 0 1 40.9 149L52.8 155.1A224.2 224.2 0 0 0 52.4 156ZM41.8 147.2A237.6 237.6 0 0 1 44.1 142.9L55.9 149.4A224.2 224.2 0 0 0 53.6 153.5ZM44.6 142.1A237.6 237.6 0 0 1 45.6 140.3L57.2 147A224.2 224.2 0 0 0 56.3 148.6ZM46.1 139.5A237.6 237.6 0 0 1 46.6 138.6L58.1 145.4A224.2 224.2 0 0 0 57.7 146.2ZM49.1 134.4A237.6 237.6 0 0 1 50.6 131.9L62 139A224.2 224.2 0 0 0 60.5 141.4ZM53.8 126.9A237.6 237.6 0 0 1 54.4 126.1L65.5 133.5A224.2 224.2 0 0 0 65 134.3ZM79.5 94.6A237.6 237.6 0 0 1 80.9 93.2L90.5 102.5A224.2 224.2 0 0 0 89.3 103.8ZM81.6 92.4A237.6 237.6 0 0 1 82.3 91.7L91.8 101.1A224.2 224.2 0 0 0 91.2 101.8ZM85 89A237.6 237.6 0 0 1 85.7 88.3L95.1 97.8A224.2 224.2 0 0 0 94.5 98.5ZM86.4 87.6A237.6 237.6 0 0 1 88.6 85.5L97.8 95.3A224.2 224.2 0 0 0 95.8 97.2ZM94.4 80.2A237.6 237.6 0 0 1 95.1 79.6L104 89.6A224.2 224.2 0 0 0 103.3 90.2ZM101.1 74.4A237.6 237.6 0 0 1 101.9 73.8L110.4 84.2A224.2 224.2 0 0 0 109.6 84.8ZM110.4 67.2A237.6 237.6 0 0 1 112.8 65.4L120.7 76.3A224.2 224.2 0 0 0 118.4 77.9ZM122.6 58.7A237.6 237.6 0 0 1 124.2 57.7L131.4 69A224.2 224.2 0 0 0 129.9 70ZM125.1 57.2A237.6 237.6 0 0 1 128.4 55.1L135.4 66.5A224.2 224.2 0 0 0 132.2 68.5ZM129.2 54.6A237.6 237.6 0 0 1 132.6 52.6L139.4 64.1A224.2 224.2 0 0 0 136.2 66ZM133.5 52.1A237.6 237.6 0 0 1 134.3 51.6L141 63.2A224.2 224.2 0 0 0 140.2 63.7ZM139.5 48.7A237.6 237.6 0 0 1 144.7 46L150.8 57.9A224.2 224.2 0 0 0 145.9 60.5ZM149.2 43.8A237.6 237.6 0 0 1 150.9 43L156.6 55.1A224.2 224.2 0 0 0 155 55.9ZM156.3 40.5A237.6 237.6 0 0 1 159 39.3L164.3 51.7A224.2 224.2 0 0 0 161.7 52.8ZM161.8 38.2A237.6 237.6 0 0 1 162.7 37.8L167.7 50.2A224.2 224.2 0 0 0 166.8 50.6ZM164.5 37.1A237.6 237.6 0 0 1 167.3 36L172 48.5A224.2 224.2 0 0 0 169.4 49.6ZM169.1 35.3A237.6 237.6 0 0 1 171.9 34.3L176.4 46.9A224.2 224.2 0 0 0 173.8 47.9ZM174.7 33.3A237.6 237.6 0 0 1 176.5 32.7L180.8 45.4A224.2 224.2 0 0 0 179 46ZM189.7 28.7A237.6 237.6 0 0 1 192.6 28L195.9 40.9A224.2 224.2 0 0 0 193.2 41.6ZM193.5 27.7A237.6 237.6 0 0 1 197.3 26.8L200.4 39.8A224.2 224.2 0 0 0 196.8 40.7ZM204.1 25.3A237.6 237.6 0 0 1 205 25.1L207.7 38.2A224.2 224.2 0 0 0 206.8 38.4ZM216.7 23A237.6 237.6 0 0 1 217.7 22.9L219.6 36.2A224.2 224.2 0 0 0 218.7 36.3ZM223.5 22.1A237.6 237.6 0 0 1 225.5 21.9L227 35.2A224.2 224.2 0 0 0 225.1 35.4ZM228.4 21.6A237.6 237.6 0 0 1 229.4 21.5L230.7 34.8A224.2 224.2 0 0 0 229.7 34.9ZM232.3 21.2A237.6 237.6 0 0 1 233.3 21.1L234.4 34.5A224.2 224.2 0 0 0 233.4 34.6ZM251 20.4A237.6 237.6 0 0 1 252 20.4L252 33.8A224.2 224.2 0 0 0 251.1 33.8ZM258.9 20.5A237.6 237.6 0 0 1 260.9 20.6L260.4 34A224.2 224.2 0 0 0 258.5 33.9ZM262.8 20.6A237.6 237.6 0 0 1 264.8 20.7L264.1 34.1A224.2 224.2 0 0 0 262.2 34ZM266.8 20.9A237.6 237.6 0 0 1 270.7 21.1L269.6 34.5A224.2 224.2 0 0 0 265.9 34.2ZM278.5 21.9A237.6 237.6 0 0 1 280.5 22.1L278.9 35.4A224.2 224.2 0 0 0 277 35.2ZM284.4 22.6A237.6 237.6 0 0 1 289.3 23.3L287.2 36.6A224.2 224.2 0 0 0 282.6 35.9ZM291.2 23.7A237.6 237.6 0 0 1 297 24.7L294.5 37.9A224.2 224.2 0 0 0 289 36.9ZM298 24.9A237.6 237.6 0 0 1 300.9 25.5L298.1 38.6A224.2 224.2 0 0 0 295.4 38ZM301.8 25.7A237.6 237.6 0 0 1 303.8 26.1L300.9 39.2A224.2 224.2 0 0 0 299 38.8ZM313.3 28.5A237.6 237.6 0 0 1 318.1 29.8L314.4 42.6A224.2 224.2 0 0 0 309.9 41.4ZM331.2 34A237.6 237.6 0 0 1 334 35L329.4 47.6A224.2 224.2 0 0 0 326.7 46.6ZM335.8 35.7A237.6 237.6 0 0 1 340.4 37.5L335.4 49.9A224.2 224.2 0 0 0 331.1 48.2ZM341.3 37.8A237.6 237.6 0 0 1 353.9 43.4L348.2 55.5A224.2 224.2 0 0 0 336.3 50.2ZM354.8 43.8A237.6 237.6 0 0 1 359.3 46L353.2 57.9A224.2 224.2 0 0 0 349 55.9ZM376.4 55.6A237.6 237.6 0 0 1 378.1 56.6L371 68A224.2 224.2 0 0 0 369.4 67ZM389.6 64.3A237.6 237.6 0 0 1 390.4 64.9L382.6 75.7A224.2 224.2 0 0 0 381.8 75.2ZM402.9 74.4A237.6 237.6 0 0 1 403.6 75.1L395.1 85.4A224.2 224.2 0 0 0 394.4 84.8ZM408.9 79.6A237.6 237.6 0 0 1 414.7 84.9L405.5 94.6A224.2 224.2 0 0 0 400 89.6ZM416.1 86.2A237.6 237.6 0 0 1 419 89L409.5 98.5A224.2 224.2 0 0 0 406.9 95.9ZM419.7 89.6A237.6 237.6 0 0 1 420.4 90.3L410.9 99.8A224.2 224.2 0 0 0 410.2 99.1ZM421.7 91.7A237.6 237.6 0 0 1 423.8 93.9L414.1 103.1A224.2 224.2 0 0 0 412.2 101.1ZM427.8 98.2A237.6 237.6 0 0 1 429.1 99.6L419.2 108.6A224.2 224.2 0 0 0 417.9 107.2ZM436.2 107.9A237.6 237.6 0 0 1 436.8 108.7L426.4 117.1A224.2 224.2 0 0 0 425.8 116.4ZM441 114.1A237.6 237.6 0 0 1 442.2 115.6L431.5 123.7A224.2 224.2 0 0 0 430.4 122.2ZM444 118A237.6 237.6 0 0 1 446.8 122L435.9 129.7A224.2 224.2 0 0 0 433.2 125.9ZM447.4 122.8A237.6 237.6 0 0 1 450.2 126.9L439 134.3A224.2 224.2 0 0 0 436.4 130.5ZM450.7 127.7A237.6 237.6 0 0 1 452.3 130.2L441 137.4A224.2 224.2 0 0 0 439.5 135.1ZM453.9 132.7A237.6 237.6 0 0 1 457.9 139.5L446.3 146.2A224.2 224.2 0 0 0 442.5 139.8ZM458.4 140.3A237.6 237.6 0 0 1 459.9 142.9L448.1 149.4A224.2 224.2 0 0 0 446.8 147ZM460.8 144.6A237.6 237.6 0 0 1 461.3 145.5L449.5 151.9A224.2 224.2 0 0 0 449 151ZM469.9 163.2A237.6 237.6 0 0 1 475.3 176.9L462.7 181.5A224.2 224.2 0 0 0 457.6 168.6ZM480.8 193.8A237.6 237.6 0 0 1 481.8 197.6L468.8 201A224.2 224.2 0 0 0 467.9 197.4ZM484.1 207.2A237.6 237.6 0 0 1 484.3 208.2L471.2 211A224.2 224.2 0 0 0 471 210.1ZM485.3 213A237.6 237.6 0 0 1 485.7 214.9L472.5 217.3A224.2 224.2 0 0 0 472.1 215.5ZM486.2 217.8A237.6 237.6 0 0 1 487.2 224.6L474 226.5A224.2 224.2 0 0 0 473 220.1ZM487.6 227.6A237.6 237.6 0 0 1 488.1 231.5L474.8 233A224.2 224.2 0 0 0 474.4 229.3ZM488.2 232.4A237.6 237.6 0 0 1 488.7 237.3L475.4 238.5A224.2 224.2 0 0 0 474.9 233.9ZM489.4 247.2A237.6 237.6 0 0 1 489.4 248.2L476 248.7A224.2 224.2 0 0 0 476 247.8Z" fill="#31a059"/>
<path d="M488 285.5A237.6 237.6 0 0 1 487.8 287.5L474.5 285.8A224.2 224.2 0 0 0 474.7 284ZM487.1 292.3A237.6 237.6 0 0 1 487 293.3L473.7 291.3A224.2 224.2 0 0 0 473.8 290.4ZM486.5 296.2A237.6 237.6 0 0 1 485.8 300.1L472.6 297.7A224.2 224.2 0 0 0 473.3 294.1ZM481.8 318.4A237.6 237.6 0 0 1 481.3 320.3L468.4 316.8A224.2 224.2 0 0 0 468.8 315ZM480.8 322.2A237.6 237.6 0 0 1 480.2 324.1L467.4 320.4A224.2 224.2 0 0 0 467.9 318.6ZM480 325A237.6 237.6 0 0 1 479.7 326L466.8 322.1A224.2 224.2 0 0 0 467.1 321.2ZM475 340A237.6 237.6 0 0 1 474.3 341.8L461.8 337.1A224.2 224.2 0 0 0 462.4 335.4ZM473.6 343.7A237.6 237.6 0 0 1 472.2 347.3L459.8 342.3A224.2 224.2 0 0 0 461.1 338.8ZM471.8 348.2A237.6 237.6 0 0 1 469.1 354.6L456.8 349.1A224.2 224.2 0 0 0 459.4 343.2ZM468.7 355.5A237.6 237.6 0 0 1 467 359.1L454.9 353.4A224.2 224.2 0 0 0 456.5 350ZM463.6 366.1A237.6 237.6 0 0 1 462.7 367.9L450.8 361.7A224.2 224.2 0 0 0 451.6 360ZM462.2 368.8A237.6 237.6 0 0 1 461.7 369.6L449.9 363.3A224.2 224.2 0 0 0 450.4 362.5ZM456.4 379.1A237.6 237.6 0 0 1 455.9 379.9L444.4 373A224.2 224.2 0 0 0 444.9 372.2ZM453.4 384.1A237.6 237.6 0 0 1 451.3 387.4L440 380.1A224.2 224.2 0 0 0 442 377ZM450.7 388.3A237.6 237.6 0 0 1 449.6 389.9L438.5 382.5A224.2 224.2 0 0 0 439.5 380.9ZM438 405.8A237.6 237.6 0 0 1 437.4 406.6L427 398.2A224.2 224.2 0 0 0 427.5 397.5ZM431.1 414.1A237.6 237.6 0 0 1 430.4 414.9L420.4 406A224.2 224.2 0 0 0 421 405.3ZM423.8 422.1A237.6 237.6 0 0 1 420.4 425.7L410.9 416.2A224.2 224.2 0 0 0 414.1 412.9ZM415.4 430.5A237.6 237.6 0 0 1 414 431.8L404.9 422A224.2 224.2 0 0 0 406.2 420.7ZM412.5 433.2A237.6 237.6 0 0 1 411.8 433.8L402.8 423.9A224.2 224.2 0 0 0 403.5 423.3ZM371.4 463.4A237.6 237.6 0 0 1 366.2 466.3L359.8 454.6A224.2 224.2 0 0 0 364.6 451.9ZM355.7 471.8A237.6 237.6 0 0 1 350.4 474.3L344.8 462.1A224.2 224.2 0 0 0 349.9 459.7ZM346.8 475.9A237.6 237.6 0 0 1 345.9 476.3L340.6 464A224.2 224.2 0 0 0 341.4 463.6ZM343.2 477.4A237.6 237.6 0 0 1 342.2 477.8L337.2 465.4A224.2 224.2 0 0 0 338 465ZM333.1 481.3A237.6 237.6 0 0 1 328.4 483L324.1 470.3A224.2 224.2 0 0 0 328.5 468.7ZM323.7 484.5A237.6 237.6 0 0 1 320.9 485.4L317 472.6A224.2 224.2 0 0 0 319.7 471.7ZM320 485.7A237.6 237.6 0 0 1 318.1 486.2L314.4 473.4A224.2 224.2 0 0 0 316.1 472.8ZM310.5 488.3A237.6 237.6 0 0 1 309.5 488.5L306.3 475.5A224.2 224.2 0 0 0 307.2 475.3ZM300.9 490.5A237.6 237.6 0 0 1 296.1 491.5L293.6 478.3A224.2 224.2 0 0 0 298.1 477.4ZM283.4 493.5A237.6 237.6 0 0 1 282.4 493.6L280.7 480.4A224.2 224.2 0 0 0 281.6 480.2ZM280.5 493.9A237.6 237.6 0 0 1 279.5 494L278 480.7A224.2 224.2 0 0 0 278.9 480.6ZM269.7 494.9A237.6 237.6 0 0 1 268.7 495L267.8 481.6A224.2 224.2 0 0 0 268.7 481.6ZM261.8 495.4A237.6 237.6 0 0 1 260.9 495.4L260.4 482A224.2 224.2 0 0 0 261.3 482ZM259.9 495.5A237.6 237.6 0 0 1 258.9 495.5L258.5 482.1A224.2 224.2 0 0 0 259.4 482.1ZM257.9 495.5A237.6 237.6 0 0 1 256.9 495.5L256.6 482.2A224.2 224.2 0 0 0 257.6 482.1ZM249 495.6A237.6 237.6 0 0 1 247.1 495.5L247.4 482.2A224.2 224.2 0 0 0 249.2 482.2ZM246.1 495.5A237.6 237.6 0 0 1 242.2 495.4L242.7 482A224.2 224.2 0 0 0 246.4 482.1ZM239.2 495.3A237.6 237.6 0 0 1 237.2 495.1L238.1 481.8A224.2 224.2 0 0 0 239.9 481.9ZM229.4 494.5A237.6 237.6 0 0 1 228.4 494.4L229.7 481.1A224.2 224.2 0 0 0 230.7 481.2ZM227.4 494.3A237.6 237.6 0 0 1 226.4 494.2L227.9 480.9A224.2 224.2 0 0 0 228.8 481ZM225.5 494.1A237.6 237.6 0 0 1 217.7 493.1L219.6 479.8A224.2 224.2 0 0 0 227 480.8ZM195.4 488.8A237.6 237.6 0 0 1 185 486L188.8 473.1A224.2 224.2 0 0 0 198.6 475.8ZM183.1 485.4A237.6 237.6 0 0 1 179.3 484.2L183.4 471.5A224.2 224.2 0 0 0 187 472.6ZM172.8 482A237.6 237.6 0 0 1 163.6 478.5L168.6 466.1A224.2 224.2 0 0 0 177.3 469.4ZM152.7 473.9A237.6 237.6 0 0 1 149.2 472.2L155 460.1A224.2 224.2 0 0 0 158.3 461.7ZM142.1 468.7A237.6 237.6 0 0 1 138.6 466.8L145 455A224.2 224.2 0 0 0 148.3 456.8ZM136.9 465.9A237.6 237.6 0 0 1 133.5 463.9L140.2 452.3A224.2 224.2 0 0 0 143.4 454.1ZM92.9 434.5A237.6 237.6 0 0 1 92.2 433.8L101.2 423.9A224.2 224.2 0 0 0 101.9 424.5ZM91.5 433.2A237.6 237.6 0 0 1 90.7 432.5L99.8 422.7A224.2 224.2 0 0 0 100.5 423.3ZM90 431.8A237.6 237.6 0 0 1 84.3 426.4L93.8 416.9A224.2 224.2 0 0 0 99.1 422ZM83.6 425.7A237.6 237.6 0 0 1 81.6 423.6L91.2 414.2A224.2 224.2 0 0 0 93.1 416.2ZM69.7 410.4A237.6 237.6 0 0 1 67.8 408.1L78.2 399.6A224.2 224.2 0 0 0 80 401.8ZM67.2 407.3A237.6 237.6 0 0 1 66 405.8L76.5 397.5A224.2 224.2 0 0 0 77.6 398.9ZM64.8 404.3A237.6 237.6 0 0 1 61.8 400.4L72.5 392.3A224.2 224.2 0 0 0 75.3 396ZM51.2 384.9A237.6 237.6 0 0 1 50.6 384.1L62 377A224.2 224.2 0 0 0 62.5 377.8ZM48.1 379.9A237.6 237.6 0 0 1 45.6 375.7L57.2 369A224.2 224.2 0 0 0 59.6 373ZM43.2 371.4A237.6 237.6 0 0 1 42.7 370.5L54.5 364.1A224.2 224.2 0 0 0 55 365ZM39.5 364.4A237.6 237.6 0 0 1 38.7 362.6L50.7 356.7A224.2 224.2 0 0 0 51.5 358.4ZM38.2 361.7A237.6 237.6 0 0 1 37.8 360.8L49.9 355A224.2 224.2 0 0 0 50.3 355.9ZM33.3 351A237.6 237.6 0 0 1 32.2 348.2L44.6 343.2A224.2 224.2 0 0 0 45.7 345.7ZM31.8 347.3A237.6 237.6 0 0 1 30.7 344.6L43.2 339.7A224.2 224.2 0 0 0 44.2 342.3ZM28.3 338.1A237.6 237.6 0 0 1 26.7 333.5L39.4 329.2A224.2 224.2 0 0 0 40.9 333.6ZM23.8 324.1A237.6 237.6 0 0 1 23.5 323.1L36.4 319.5A224.2 224.2 0 0 0 36.6 320.4ZM21.2 314.6A237.6 237.6 0 0 1 21 313.6L34 310.5A224.2 224.2 0 0 0 34.2 311.4ZM19.9 308.8A237.6 237.6 0 0 1 19.7 307.8L32.8 305A224.2 224.2 0 0 0 33 305.9ZM19.5 306.9A237.6 237.6 0 0 1 19.3 305.9L32.4 303.2A224.2 224.2 0 0 0 32.6 304.1ZM18.5 302.1A237.6 237.6 0 0 1 18.2 300.1L31.4 297.7A224.2 224.2 0 0 0 31.7 299.6ZM18 299.2A237.6 237.6 0 0 1 17.3 295.3L30.6 293.2A224.2 224.2 0 0 0 31.2 296.8ZM16.2 287.5A237.6 237.6 0 0 1 16.1 286.5L29.4 284.9A224.2 224.2 0 0 0 29.5 285.8ZM15.9 284.5A237.6 237.6 0 0 1 15.8 283.6L29.1 282.1A224.2 224.2 0 0 0 29.2 283ZM14.7 269.8A237.6 237.6 0 0 1 14.6 268.8L28 268.2A224.2 224.2 0 0 0 28.1 269.1ZM14.6 267.8A237.6 237.6 0 0 1 14.5 262.9L27.8 262.6A224.2 224.2 0 0 0 28 267.3ZM14.5 252.1A237.6 237.6 0 0 1 14.6 249.1L28 249.6A224.2 224.2 0 0 0 27.9 252.4ZM14.6 248.2A237.6 237.6 0 0 1 14.7 245.2L28.1 245.9A224.2 224.2 0 0 0 28 248.7ZM15.2 238.3A237.6 237.6 0 0 1 15.3 237.3L28.6 238.5A224.2 224.2 0 0 0 28.6 239.4ZM17.8 217.8A237.6 237.6 0 0 1 18.3 214.9L31.5 217.3A224.2 224.2 0 0 0 31 220.1ZM18.5 213.9A237.6 237.6 0 0 1 18.9 212L32 214.6A224.2 224.2 0 0 0 31.7 216.4ZM21 202.4A237.6 237.6 0 0 1 21.7 199.5L34.7 202.8A224.2 224.2 0 0 0 34 205.5ZM22.7 195.7A237.6 237.6 0 0 1 23 194.8L35.9 198.3A224.2 224.2 0 0 0 35.6 199.2ZM23.8 191.9A237.6 237.6 0 0 1 25.2 187.2L38 191.2A224.2 224.2 0 0 0 36.6 195.6ZM25.5 186.3A237.6 237.6 0 0 1 26.1 184.4L38.8 188.5A224.2 224.2 0 0 0 38.3 190.3ZM33.7 164.1A237.6 237.6 0 0 1 34.1 163.2L46.4 168.6A224.2 224.2 0 0 0 46 169.4ZM36.5 157.8A237.6 237.6 0 0 1 37.8 155.2L49.9 161A224.2 224.2 0 0 0 48.7 163.5ZM39.5 151.6A237.6 237.6 0 0 1 40.4 149.9L52.4 156A224.2 224.2 0 0 0 51.5 157.6ZM48.6 135.2A237.6 237.6 0 0 1 49.1 134.4L60.5 141.4A224.2 224.2 0 0 0 60 142.2ZM54.4 126.1A237.6 237.6 0 0 1 54.9 125.3L66 132.8A224.2 224.2 0 0 0 65.5 133.5ZM56 123.7A237.6 237.6 0 0 1 59.4 118.8L70.3 126.7A224.2 224.2 0 0 0 67.1 131.2ZM60.6 117.2A237.6 237.6 0 0 1 65.4 111L75.9 119.3A224.2 224.2 0 0 0 71.4 125.2ZM66 110.2A237.6 237.6 0 0 1 66.6 109.4L77 117.8A224.2 224.2 0 0 0 76.5 118.5ZM74.9 99.6A237.6 237.6 0 0 1 76.8 97.5L86.7 106.5A224.2 224.2 0 0 0 84.8 108.6ZM78.2 96A237.6 237.6 0 0 1 79.5 94.6L89.3 103.8A224.2 224.2 0 0 0 88 105.1ZM82.3 91.7A237.6 237.6 0 0 1 85 89L94.5 98.5A224.2 224.2 0 0 0 91.8 101.1ZM90.7 83.5A237.6 237.6 0 0 1 92.2 82.2L101.2 92.1A224.2 224.2 0 0 0 99.8 93.3ZM92.9 81.5A237.6 237.6 0 0 1 94.4 80.2L103.3 90.2A224.2 224.2 0 0 0 101.9 91.5ZM103.4 72.6A237.6 237.6 0 0 1 104.2 72L112.5 82.5A224.2 224.2 0 0 0 111.8 83ZM107.3 69.5A237.6 237.6 0 0 1 108.1 69L116.2 79.6A224.2 224.2 0 0 0 115.5 80.2ZM112.8 65.4A237.6 237.6 0 0 1 113.6 64.9L121.4 75.7A224.2 224.2 0 0 0 120.7 76.3ZM146.5 45.1A237.6 237.6 0 0 1 149.2 43.8L155 55.9A224.2 224.2 0 0 0 152.5 57.1ZM152.7 42.1A237.6 237.6 0 0 1 156.3 40.5L161.7 52.8A224.2 224.2 0 0 0 158.3 54.3ZM171.9 34.3A237.6 237.6 0 0 1 174.7 33.3L179 46A224.2 224.2 0 0 0 176.4 46.9ZM176.5 32.7A237.6 237.6 0 0 1 180.3 31.5L184.3 44.3A224.2 224.2 0 0 0 180.8 45.4ZM181.2 31.2A237.6 237.6 0 0 1 184 30.3L187.9 43.2A224.2 224.2 0 0 0 185.2 44ZM185.9 29.8A237.6 237.6 0 0 1 188.8 29L192.3 41.9A224.2 224.2 0 0 0 189.6 42.6ZM198.3 26.5A237.6 237.6 0 0 1 201.2 25.9L204.1 39A224.2 224.2 0 0 0 201.3 39.6ZM203.1 25.5A237.6 237.6 0 0 1 204.1 25.3L206.8 38.4A224.2 224.2 0 0 0 205.9 38.6ZM205 25.1A237.6 237.6 0 0 1 206 24.9L208.6 38A224.2 224.2 0 0 0 207.7 38.2ZM209.9 24.2A237.6 237.6 0 0 1 215.7 23.2L217.8 36.4A224.2 224.2 0 0 0 212.3 37.4ZM217.7 22.9A237.6 237.6 0 0 1 222.5 22.2L224.2 35.5A224.2 224.2 0 0 0 219.6 36.2ZM225.5 21.9A237.6 237.6 0 0 1 226.4 21.8L227.9 35.1A224.2 224.2 0 0 0 227 35.2ZM227.4 21.7A237.6 237.6 0 0 1 228.4 21.6L229.7 34.9A224.2 224.2 0 0 0 228.8 35ZM239.2 20.7A237.6 237.6 0 0 1 243.1 20.6L243.6 34A224.2 224.2 0 0 0 239.9 34.1ZM289.3 23.3A237.6 237.6 0 0 1 291.2 23.7L289 36.9A224.2 224.2 0 0 0 287.2 36.6ZM303.8 26.1A237.6 237.6 0 0 1 310.5 27.7L307.2 40.7A224.2 224.2 0 0 0 300.9 39.2ZM353.9 43.4A237.6 237.6 0 0 1 354.8 43.8L349 55.9A224.2 224.2 0 0 0 348.2 55.5ZM359.3 46A237.6 237.6 0 0 1 362.8 47.8L356.5 59.6A224.2 224.2 0 0 0 353.2 57.9ZM367.9 50.6A237.6 237.6 0 0 1 373.1 53.6L366.2 65.1A224.2 224.2 0 0 0 361.4 62.3ZM374.8 54.6A237.6 237.6 0 0 1 375.6 55.1L368.6 66.5A224.2 224.2 0 0 0 367.8 66ZM378.1 56.6A237.6 237.6 0 0 1 386.3 62L378.8 73.1A224.2 224.2 0 0 0 371 68ZM387.2 62.6A237.6 237.6 0 0 1 389.6 64.3L381.8 75.2A224.2 224.2 0 0 0 379.5 73.6ZM390.4 64.9A237.6 237.6 0 0 1 391.2 65.4L383.3 76.3A224.2 224.2 0 0 0 382.6 75.7ZM392.8 66.6A237.6 237.6 0 0 1 398.3 70.8L390 81.3A224.2 224.2 0 0 0 384.8 77.4ZM399 71.4A237.6 237.6 0 0 1 400.6 72.6L392.2 83A224.2 224.2 0 0 0 390.7 81.9ZM404.4 75.7A237.6 237.6 0 0 1 405.9 77L397.2 87.2A224.2 224.2 0 0 0 395.8 86ZM419 89A237.6 237.6 0 0 1 419.7 89.6L410.2 99.1A224.2 224.2 0 0 0 409.5 98.5ZM423.8 93.9A237.6 237.6 0 0 1 426.5 96.7L416.7 105.8A224.2 224.2 0 0 0 414.1 103.1ZM427.2 97.5A237.6 237.6 0 0 1 427.8 98.2L417.9 107.2A224.2 224.2 0 0 0 417.3 106.5ZM431.7 102.6A237.6 237.6 0 0 1 434.9 106.4L424.6 114.9A224.2 224.2 0 0 0 421.6 111.4ZM436.8 108.7A237.6 237.6 0 0 1 439.2 111.7L428.7 120A224.2 224.2 0 0 0 426.4 117.1ZM461.3 145.5A237.6 237.6 0 0 1 462.7 148.1L450.8 154.3A224.2 224.2 0 0 0 449.5 151.9ZM463.6 149.9A237.6 237.6 0 0 1 464.5 151.6L452.5 157.6A224.2 224.2 0 0 0 451.6 156ZM467 156.9A237.6 237.6 0 0 1 467.9 158.7L455.7 164.3A224.2 224.2 0 0 0 454.9 162.6ZM475.3 176.9A237.6 237.6 0 0 1 477 181.6L464.3 185.9A224.2 224.2 0 0 0 462.7 181.5ZM477.3 182.5A237.6 237.6 0 0 1 478.5 186.3L465.7 190.3A224.2 224.2 0 0 0 464.6 186.8ZM479.1 188.1A237.6 237.6 0 0 1 480.2 191.9L467.4 195.6A224.2 224.2 0 0 0 466.3 192.1ZM481.8 197.6A237.6 237.6 0 0 1 482.3 199.5L469.3 202.8A224.2 224.2 0 0 0 468.8 201ZM482.5 200.5A237.6 237.6 0 0 1 483.2 203.3L470.2 206.4A224.2 224.2 0 0 0 469.5 203.7ZM483.7 205.3A237.6 237.6 0 0 1 484.1 207.2L471 210.1A224.2 224.2 0 0 0 470.6 208.2ZM485.7 214.9A237.6 237.6 0 0 1 486.2 217.8L473 220.1A224.2 224.2 0 0 0 472.5 217.3ZM487.2 224.6A237.6 237.6 0 0 1 487.4 225.6L474.1 227.4A224.2 224.2 0 0 0 474 226.5ZM487.5 226.6A237.6 237.6 0 0 1 487.6 227.6L474.4 229.3A224.2 224.2 0 0 0 474.2 228.4ZM489.4 248.2A237.6 237.6 0 0 1 489.4 249.1L476 249.6A224.2 224.2 0 0 0 476 248.7ZM489.5 251.1A237.6 237.6 0 0 1 489.6 254.1L476.2 254.3A224.2 224.2 0 0 0 476.1 251.5ZM489.6 256A237.6 237.6 0 0 1 489.6 258L476.2 258A224.2 224.2 0 0 0 476.2 256.1Z" fill="#7fd2b1"/>
<path d="M474.9 269.1A223.2 223.2 0 0 1 474.8 270.9L460.8 270.1A209.2 209.2 0 0 0 460.9 268.4ZM474.6 273.7A223.2 223.2 0 0 1 474.5 275.6L460.6 274.5A209.2 209.2 0 0 0 460.7 272.7ZM471.5 298.5A223.2 223.2 0 0 1 471.3 299.4L457.6 296.8A209.2 209.2 0 0 0 457.7 295.9ZM469.2 309.3A223.2 223.2 0 0 1 468.6 312L455 308.6A209.2 209.2 0 0 0 455.6 306.1ZM466.6 319.2A223.2 223.2 0 0 1 466.1 321L452.7 317A209.2 209.2 0 0 0 453.2 315.3ZM464.2 327.1A223.2 223.2 0 0 1 463.3 329.8L450.1 325.3A209.2 209.2 0 0 0 450.9 322.8ZM462.7 331.5A223.2 223.2 0 0 1 462.4 332.4L449.2 327.7A209.2 209.2 0 0 0 449.5 326.9ZM455.6 349.6A223.2 223.2 0 0 1 455.2 350.4L442.4 344.6A209.2 209.2 0 0 0 442.8 343.8ZM454 352.9A223.2 223.2 0 0 1 452.8 355.4L440.2 349.3A209.2 209.2 0 0 0 441.3 347ZM452.4 356.3A223.2 223.2 0 0 1 451.6 357.9L439.1 351.7A209.2 209.2 0 0 0 439.8 350.1ZM449.9 361.2A223.2 223.2 0 0 1 449 362.9L436.7 356.3A209.2 209.2 0 0 0 437.5 354.7ZM448.2 364.5A223.2 223.2 0 0 1 447.3 366.1L435 359.3A209.2 209.2 0 0 0 435.9 357.8ZM445.5 369.3A223.2 223.2 0 0 1 445 370.1L432.9 363.1A209.2 209.2 0 0 0 433.3 362.3ZM443.1 373.3A223.2 223.2 0 0 1 442.1 374.9L430.2 367.6A209.2 209.2 0 0 0 431.1 366.1ZM441.2 376.5A223.2 223.2 0 0 1 440.7 377.3L428.8 369.8A209.2 209.2 0 0 0 429.3 369ZM438.7 380.4A223.2 223.2 0 0 1 438.2 381.1L426.5 373.4A209.2 209.2 0 0 0 427 372.7ZM437.6 381.9A223.2 223.2 0 0 1 436.6 383.4L425 375.6A209.2 209.2 0 0 0 426 374.1ZM432.4 389.5A223.2 223.2 0 0 1 431.3 391L420 382.6A209.2 209.2 0 0 0 421 381.2ZM430.2 392.5A223.2 223.2 0 0 1 429.6 393.2L418.5 384.7A209.2 209.2 0 0 0 419 384ZM429 393.9A223.2 223.2 0 0 1 427.9 395.4L416.9 386.8A209.2 209.2 0 0 0 417.9 385.4ZM426.8 396.9A223.2 223.2 0 0 1 426.2 397.6L415.2 388.8A209.2 209.2 0 0 0 415.8 388.1ZM425.6 398.3A223.2 223.2 0 0 1 424.4 399.7L413.6 390.8A209.2 209.2 0 0 0 414.7 389.5ZM423.8 400.4A223.2 223.2 0 0 1 423.2 401.2L412.5 392.2A209.2 209.2 0 0 0 413.1 391.5ZM421.5 403.3A223.2 223.2 0 0 1 420.8 404L410.3 394.8A209.2 209.2 0 0 0 410.8 394.2ZM392.3 431.6A223.2 223.2 0 0 1 391.6 432.2L382.8 421.2A209.2 209.2 0 0 0 383.5 420.7ZM357.7 454.6A223.2 223.2 0 0 1 356 455.5L349.5 443.1A209.2 209.2 0 0 0 351 442.3ZM354.4 456.3A223.2 223.2 0 0 1 352.8 457.2L346.4 444.7A209.2 209.2 0 0 0 348 443.9ZM349.4 458.8A223.2 223.2 0 0 1 348.6 459.2L342.5 446.6A209.2 209.2 0 0 0 343.3 446.2ZM342.7 461.9A223.2 223.2 0 0 1 341 462.7L335.4 449.8A209.2 209.2 0 0 0 337 449.1ZM334.2 465.5A223.2 223.2 0 0 1 332.5 466.2L327.4 453.1A209.2 209.2 0 0 0 329 452.5ZM319.4 470.8A223.2 223.2 0 0 1 317.6 471.3L313.5 458A209.2 209.2 0 0 0 315.2 457.4ZM315.9 471.9A223.2 223.2 0 0 1 315 472.1L311 458.7A209.2 209.2 0 0 0 311.8 458.5ZM310.5 473.4A223.2 223.2 0 0 1 309.6 473.6L306 460.1A209.2 209.2 0 0 0 306.8 459.9ZM306 474.6A223.2 223.2 0 0 1 304.2 475L301 461.4A209.2 209.2 0 0 0 302.6 461ZM302.4 475.4A223.2 223.2 0 0 1 301.5 475.6L298.4 462A209.2 209.2 0 0 0 299.3 461.8ZM295.2 477A223.2 223.2 0 0 1 293.4 477.3L290.8 463.6A209.2 209.2 0 0 0 292.5 463.2ZM288.8 478.1A223.2 223.2 0 0 1 287 478.4L284.8 464.6A209.2 209.2 0 0 0 286.5 464.3ZM280.6 479.4A223.2 223.2 0 0 1 278.8 479.6L277.1 465.7A209.2 209.2 0 0 0 278.8 465.5ZM275.1 480A223.2 223.2 0 0 1 273.2 480.2L271.9 466.3A209.2 209.2 0 0 0 273.6 466.1ZM268.6 480.6A223.2 223.2 0 0 1 267.7 480.6L266.7 466.7A209.2 209.2 0 0 0 267.6 466.6ZM251.1 481.2A223.2 223.2 0 0 1 248.3 481.2L248.5 467.2A209.2 209.2 0 0 0 251.1 467.2ZM239.1 480.8A223.2 223.2 0 0 1 238.1 480.8L239 466.8A209.2 209.2 0 0 0 239.9 466.8ZM228 479.9A223.2 223.2 0 0 1 227.1 479.8L228.6 465.9A209.2 209.2 0 0 0 229.5 466ZM216.1 478.3A223.2 223.2 0 0 1 214.3 478L216.6 464.2A209.2 209.2 0 0 0 218.3 464.5ZM212.4 477.7A223.2 223.2 0 0 1 210.6 477.3L213.2 463.6A209.2 209.2 0 0 0 214.9 463.9ZM207.9 476.8A223.2 223.2 0 0 1 207 476.6L209.8 462.9A209.2 209.2 0 0 0 210.7 463.1ZM204.3 476A223.2 223.2 0 0 1 203.4 475.8L206.4 462.2A209.2 209.2 0 0 0 207.3 462.4ZM202.5 475.6A223.2 223.2 0 0 1 200.7 475.2L203.9 461.6A209.2 209.2 0 0 0 205.6 462ZM195.3 473.9A223.2 223.2 0 0 1 194.4 473.6L198 460.1A209.2 209.2 0 0 0 198.8 460.3ZM193.5 473.4A223.2 223.2 0 0 1 191.7 472.9L195.5 459.4A209.2 209.2 0 0 0 197.2 459.9ZM189 472.1A223.2 223.2 0 0 1 187.3 471.6L191.3 458.2A209.2 209.2 0 0 0 193 458.7ZM185.5 471.1A223.2 223.2 0 0 1 184.6 470.8L188.8 457.4A209.2 209.2 0 0 0 189.7 457.7ZM182.9 470.2A223.2 223.2 0 0 1 181.1 469.6L185.5 456.4A209.2 209.2 0 0 0 187.2 456.9ZM180.2 469.3A223.2 223.2 0 0 1 178.5 468.7L183.1 455.5A209.2 209.2 0 0 0 184.7 456.1ZM170.7 465.9A223.2 223.2 0 0 1 168.9 465.2L174.2 452.2A209.2 209.2 0 0 0 175.8 452.8ZM167.2 464.5A223.2 223.2 0 0 1 165.5 463.8L170.9 450.9A209.2 209.2 0 0 0 172.5 451.5ZM164.7 463.4A223.2 223.2 0 0 1 163 462.7L168.6 449.8A209.2 209.2 0 0 0 170.1 450.5ZM159.6 461.2A223.2 223.2 0 0 1 158.7 460.8L164.6 448.1A209.2 209.2 0 0 0 165.4 448.4ZM148 455.5A223.2 223.2 0 0 1 146.3 454.6L153 442.3A209.2 209.2 0 0 0 154.5 443.1ZM141.5 451.9A223.2 223.2 0 0 1 139.9 451L146.9 438.9A209.2 209.2 0 0 0 148.4 439.7ZM138.3 450.1A223.2 223.2 0 0 1 135.9 448.6L143.2 436.7A209.2 209.2 0 0 0 145.4 438ZM132 446.2A223.2 223.2 0 0 1 131.2 445.7L138.8 433.9A209.2 209.2 0 0 0 139.5 434.4ZM127.3 443.1A223.2 223.2 0 0 1 126.6 442.6L134.4 431A209.2 209.2 0 0 0 135.1 431.5ZM110.3 430.4A223.2 223.2 0 0 1 109.6 429.8L118.5 419.1A209.2 209.2 0 0 0 119.2 419.6ZM107.4 428.1A223.2 223.2 0 0 1 105.3 426.2L114.5 415.7A209.2 209.2 0 0 0 116.5 417.4ZM92.5 414.2A223.2 223.2 0 0 1 91.3 412.9L101.3 403.1A209.2 209.2 0 0 0 102.5 404.4ZM87.5 408.8A223.2 223.2 0 0 1 85.6 406.8L96 397.4A209.2 209.2 0 0 0 97.8 399.4ZM85 406.1A223.2 223.2 0 0 1 84.4 405.4L94.9 396.1A209.2 209.2 0 0 0 95.5 396.8ZM79.6 399.7A223.2 223.2 0 0 1 79 399L89.8 390.2A209.2 209.2 0 0 0 90.4 390.8ZM69.5 386.5A223.2 223.2 0 0 1 67.9 384.2L79.5 376.3A209.2 209.2 0 0 0 80.9 378.4ZM65.3 380.4A223.2 223.2 0 0 1 64.8 379.6L76.6 372A209.2 209.2 0 0 0 77 372.7ZM63.3 377.3A223.2 223.2 0 0 1 62.8 376.5L74.7 369A209.2 209.2 0 0 0 75.2 369.8ZM58.5 369.3A223.2 223.2 0 0 1 58.1 368.5L70.3 361.6A209.2 209.2 0 0 0 70.7 362.3ZM56.7 366.1A223.2 223.2 0 0 1 56.3 365.3L68.6 358.6A209.2 209.2 0 0 0 69 359.3ZM45.5 342.8A223.2 223.2 0 0 1 44.8 341.1L57.8 335.8A209.2 209.2 0 0 0 58.5 337.5ZM42.5 335A223.2 223.2 0 0 1 42.2 334.1L55.4 329.4A209.2 209.2 0 0 0 55.6 330.2ZM37.4 319.2A223.2 223.2 0 0 1 37.1 318.3L50.6 314.5A209.2 209.2 0 0 0 50.8 315.3ZM33.2 302.1A223.2 223.2 0 0 1 32.8 300.3L46.6 297.6A209.2 209.2 0 0 0 46.9 299.3ZM32.7 299.4A223.2 223.2 0 0 1 32.3 297.6L46.1 295.1A209.2 209.2 0 0 0 46.4 296.8ZM32.2 296.7A223.2 223.2 0 0 1 32 295.7L45.8 293.4A209.2 209.2 0 0 0 46 294.2ZM31.9 294.8A223.2 223.2 0 0 1 31.6 293L45.4 290.8A209.2 209.2 0 0 0 45.7 292.5ZM30.6 286.6A223.2 223.2 0 0 1 30.5 285.7L44.4 283.9A209.2 209.2 0 0 0 44.5 284.8ZM30.3 283.8A223.2 223.2 0 0 1 30.1 282L44 280.5A209.2 209.2 0 0 0 44.2 282.2ZM29.5 275.6A223.2 223.2 0 0 1 29.4 274.6L43.4 273.6A209.2 209.2 0 0 0 43.4 274.5ZM29.1 270A223.2 223.2 0 0 1 29 268.2L43 267.5A209.2 209.2 0 0 0 43.1 269.3ZM28.9 252.5A223.2 223.2 0 0 1 28.9 250.6L42.9 251.1A209.2 209.2 0 0 0 42.9 252.8ZM29.1 246A223.2 223.2 0 0 1 29.2 245.1L43.2 245.9A209.2 209.2 0 0 0 43.1 246.7ZM29.3 243.2A223.2 223.2 0 0 1 29.5 240.4L43.4 241.5A209.2 209.2 0 0 0 43.3 244.1ZM29.6 239.5A223.2 223.2 0 0 1 29.6 238.6L43.6 239.8A209.2 209.2 0 0 0 43.5 240.7ZM31 226.7A223.2 223.2 0 0 1 31.1 225.7L45 227.8A209.2 209.2 0 0 0 44.9 228.6ZM32.2 219.3A223.2 223.2 0 0 1 32.3 218.4L46.1 220.9A209.2 209.2 0 0 0 46 221.8ZM37.6 195.9A223.2 223.2 0 0 1 38.1 194.1L51.5 198.2A209.2 209.2 0 0 0 51.1 199.8ZM41 185.3A223.2 223.2 0 0 1 41.3 184.5L54.5 189.1A209.2 209.2 0 0 0 54.2 189.9ZM47.3 169A223.2 223.2 0 0 1 48.4 166.4L61.2 172.2A209.2 209.2 0 0 0 60.2 174.6ZM50.4 162.2A223.2 223.2 0 0 1 51.2 160.6L63.8 166.7A209.2 209.2 0 0 0 63 168.2ZM53.7 155.6A223.2 223.2 0 0 1 54.1 154.8L66.5 161.3A209.2 209.2 0 0 0 66.1 162ZM60.9 142.7A223.2 223.2 0 0 1 61.4 141.9L73.3 149.2A209.2 209.2 0 0 0 72.9 149.9ZM62.3 140.3A223.2 223.2 0 0 1 63.3 138.7L75.2 146.2A209.2 209.2 0 0 0 74.2 147.7ZM65.3 135.6A223.2 223.2 0 0 1 66.4 134.1L78 141.9A209.2 209.2 0 0 0 77 143.3ZM76.1 120.6A223.2 223.2 0 0 1 76.7 119.9L87.7 128.5A209.2 209.2 0 0 0 87.1 129.2ZM78.4 117.7A223.2 223.2 0 0 1 79 117L89.8 125.8A209.2 209.2 0 0 0 89.3 126.5ZM85.6 109.2A223.2 223.2 0 0 1 86.2 108.6L96.6 117.9A209.2 209.2 0 0 0 96 118.6ZM91.9 102.5A223.2 223.2 0 0 1 93.2 101.2L103.2 111A209.2 209.2 0 0 0 101.9 112.2ZM94.5 99.8A223.2 223.2 0 0 1 95.2 99.2L105 109.2A209.2 209.2 0 0 0 104.4 109.8ZM95.8 98.5A223.2 223.2 0 0 1 97.1 97.3L106.9 107.3A209.2 209.2 0 0 0 105.6 108.5ZM98.5 96A223.2 223.2 0 0 1 100.5 94.1L110 104.4A209.2 209.2 0 0 0 108.1 106.1ZM106 89.2A223.2 223.2 0 0 1 106.7 88.5L115.8 99.2A209.2 209.2 0 0 0 115.2 99.7ZM132.7 69.3A223.2 223.2 0 0 1 134.3 68.3L141.7 80.2A209.2 209.2 0 0 0 140.2 81.2ZM141.5 64.1A223.2 223.2 0 0 1 143.1 63.2L149.9 75.4A209.2 209.2 0 0 0 148.4 76.3ZM144.7 62.3A223.2 223.2 0 0 1 146.3 61.4L153 73.7A209.2 209.2 0 0 0 151.4 74.6ZM148.8 60.1A223.2 223.2 0 0 1 149.6 59.7L156 72.1A209.2 209.2 0 0 0 155.3 72.5ZM150.4 59.3A223.2 223.2 0 0 1 151.2 58.8L157.6 71.3A209.2 209.2 0 0 0 156.8 71.7ZM154.6 57.2A223.2 223.2 0 0 1 156.2 56.4L162.2 69A209.2 209.2 0 0 0 160.7 69.8ZM157.9 55.6A223.2 223.2 0 0 1 159.6 54.8L165.4 67.6A209.2 209.2 0 0 0 163.8 68.3ZM161.3 54.1A223.2 223.2 0 0 1 163 53.3L168.6 66.2A209.2 209.2 0 0 0 167 66.9ZM164.7 52.6A223.2 223.2 0 0 1 165.5 52.2L170.9 65.1A209.2 209.2 0 0 0 170.1 65.5ZM175 48.5A223.2 223.2 0 0 1 175.9 48.2L180.6 61.4A209.2 209.2 0 0 0 179.8 61.6ZM182 46.1A223.2 223.2 0 0 1 182.9 45.8L187.2 59.1A209.2 209.2 0 0 0 186.4 59.4ZM186.4 44.7A223.2 223.2 0 0 1 187.3 44.4L191.3 57.8A209.2 209.2 0 0 0 190.5 58ZM193.5 42.6A223.2 223.2 0 0 1 195.3 42.1L198.8 55.7A209.2 209.2 0 0 0 197.2 56.1ZM199.8 41A223.2 223.2 0 0 1 201.6 40.6L204.7 54.2A209.2 209.2 0 0 0 203 54.6ZM204.3 40A223.2 223.2 0 0 1 206.1 39.6L209 53.3A209.2 209.2 0 0 0 207.3 53.6ZM207.9 39.2A223.2 223.2 0 0 1 208.8 39L211.5 52.8A209.2 209.2 0 0 0 210.7 52.9ZM214.3 38A223.2 223.2 0 0 1 217 37.6L219.2 51.4A209.2 209.2 0 0 0 216.6 51.8ZM221.6 36.9A223.2 223.2 0 0 1 222.5 36.8L224.3 50.6A209.2 209.2 0 0 0 223.5 50.8ZM223.4 36.6A223.2 223.2 0 0 1 226.2 36.3L227.8 50.2A209.2 209.2 0 0 0 225.2 50.5ZM230.8 35.8A223.2 223.2 0 0 1 232.6 35.6L233.8 49.6A209.2 209.2 0 0 0 232.1 49.7ZM237.2 35.3A223.2 223.2 0 0 1 238.1 35.2L239 49.2A209.2 209.2 0 0 0 238.1 49.3ZM256.6 34.8A223.2 223.2 0 0 1 258.5 34.9L258.1 48.9A209.2 209.2 0 0 0 256.3 48.8ZM265.9 35.2A223.2 223.2 0 0 1 268.6 35.4L267.6 49.4A209.2 209.2 0 0 0 265 49.2ZM304.2 41A223.2 223.2 0 0 1 306 41.4L302.6 55A209.2 209.2 0 0 0 301 54.6ZM329.9 48.8A223.2 223.2 0 0 1 330.7 49.2L325.8 62.3A209.2 209.2 0 0 0 325 61.9ZM346.1 55.6A223.2 223.2 0 0 1 347.8 56.4L341.8 69A209.2 209.2 0 0 0 340.2 68.3ZM360.9 63.2A223.2 223.2 0 0 1 362.5 64.1L355.6 76.3A209.2 209.2 0 0 0 354.1 75.4ZM375.1 71.8A223.2 223.2 0 0 1 375.9 72.4L368.1 84A209.2 209.2 0 0 0 367.4 83.5ZM377.4 73.4A223.2 223.2 0 0 1 379.7 75L371.7 86.4A209.2 209.2 0 0 0 369.6 85ZM380.5 75.5A223.2 223.2 0 0 1 381.2 76L373.1 87.4A209.2 209.2 0 0 0 372.4 86.9ZM382.7 77.1A223.2 223.2 0 0 1 383.5 77.6L375.2 89A209.2 209.2 0 0 0 374.5 88.4ZM392.3 84.4A223.2 223.2 0 0 1 393.7 85.6L384.8 96.4A209.2 209.2 0 0 0 383.5 95.3ZM398 89.2A223.2 223.2 0 0 1 398.7 89.8L389.5 100.3A209.2 209.2 0 0 0 388.8 99.7ZM400.8 91.6A223.2 223.2 0 0 1 402.1 92.8L392.7 103.2A209.2 209.2 0 0 0 391.4 102ZM407.5 97.9A223.2 223.2 0 0 1 408.2 98.5L398.4 108.5A209.2 209.2 0 0 0 397.8 107.9ZM410.8 101.2A223.2 223.2 0 0 1 411.5 101.8L401.5 111.6A209.2 209.2 0 0 0 400.8 111ZM414 104.5A223.2 223.2 0 0 1 415.9 106.5L405.6 116A209.2 209.2 0 0 0 403.9 114.1ZM419 109.9A223.2 223.2 0 0 1 419.6 110.6L409.1 119.9A209.2 209.2 0 0 0 408.5 119.2ZM422.7 114.1A223.2 223.2 0 0 1 423.2 114.8L412.5 123.8A209.2 209.2 0 0 0 411.9 123.2ZM427.9 120.6A223.2 223.2 0 0 1 429 122.1L417.9 130.6A209.2 209.2 0 0 0 416.9 129.2ZM431.8 125.8A223.2 223.2 0 0 1 432.9 127.3L421.6 135.5A209.2 209.2 0 0 0 420.5 134.1ZM434 128.8A223.2 223.2 0 0 1 434.5 129.5L423.1 137.6A209.2 209.2 0 0 0 422.6 136.9ZM435.6 131A223.2 223.2 0 0 1 436.1 131.8L424.5 139.7A209.2 209.2 0 0 0 424.1 139ZM438.7 135.6A223.2 223.2 0 0 1 439.7 137.2L427.9 144.8A209.2 209.2 0 0 0 427 143.3ZM444.1 144.3A223.2 223.2 0 0 1 444.5 145.1L432.4 152.2A209.2 209.2 0 0 0 432 151.4ZM445 145.9A223.2 223.2 0 0 1 445.9 147.5L433.7 154.4A209.2 209.2 0 0 0 432.9 152.9ZM446.8 149.1A223.2 223.2 0 0 1 447.7 150.7L435.4 157.4A209.2 209.2 0 0 0 434.6 155.9ZM449.9 154.8A223.2 223.2 0 0 1 450.3 155.6L437.9 162A209.2 209.2 0 0 0 437.5 161.3ZM452 158.9A223.2 223.2 0 0 1 453.2 161.4L440.6 167.5A209.2 209.2 0 0 0 439.4 165.1ZM454.4 163.9A223.2 223.2 0 0 1 454.8 164.7L442.1 170.6A209.2 209.2 0 0 0 441.7 169.8ZM456.3 168.1A223.2 223.2 0 0 1 457 169.8L444.2 175.3A209.2 209.2 0 0 0 443.5 173.8ZM457.8 171.5A223.2 223.2 0 0 1 458.5 173.2L445.5 178.5A209.2 209.2 0 0 0 444.9 176.9ZM462.7 184.5A223.2 223.2 0 0 1 463 185.3L449.8 189.9A209.2 209.2 0 0 0 449.5 189.1ZM463.6 187.1A223.2 223.2 0 0 1 463.9 188L450.6 192.4A209.2 209.2 0 0 0 450.4 191.5ZM465.6 193.3A223.2 223.2 0 0 1 465.9 194.1L452.5 198.2A209.2 209.2 0 0 0 452.2 197.3ZM469.4 207.6A223.2 223.2 0 0 1 470 210.3L456.4 213.3A209.2 209.2 0 0 0 455.8 210.7ZM473 226.7A223.2 223.2 0 0 1 473.2 228.5L459.4 230.3A209.2 209.2 0 0 0 459.1 228.6ZM473.5 230.3A223.2 223.2 0 0 1 473.7 232.2L459.8 233.8A209.2 209.2 0 0 0 459.6 232.1ZM474.4 239.5A223.2 223.2 0 0 1 474.6 241.4L460.6 242.4A209.2 209.2 0 0 0 460.5 240.7ZM475.1 252.5A223.2 223.2 0 0 1 475.2 254.3L461.2 254.5A209.2 209.2 0 0 0 461.1 252.8Z" fill="#b590d3"/>
<path d="M434 257.9L434.8 257.9L434.8 258.9L437.8 258.6L437.8 259.7L439.3 259.4L439.3 260.5L439.4 260.2L439.4 261.2L434 261.1A182.0 182.0 0 0 0 434 257.9ZM434 261.6L434.5 261.7L434.4 262.7L433.9 262.7A182.0 182.0 0 0 0 434 261.6ZM433.9 263.2L437.8 263.3L437.7 264.3L436.8 264L436.8 265L437.1 264.8L437.1 265.8L437.5 265.6L437.4 266.6L440.1 266.4L440 267.5L439 267.2L438.9 268.2L435.5 267.8L435.4 268.8L434.2 268.5L434.1 269.5L435.8 269.3L435.7 270.3L437.4 270.2L437.3 271.2L434.1 270.7L434 271.7L433.5 271.7A182.0 182.0 0 0 0 433.9 263.2ZM433.4 272.2L434 272.2L433.9 273.2L433.9 273L433.8 274L435.5 273.9L435.4 274.9L433.8 274.5L433.7 275.5L436.6 275.5L436.5 276.5L433.7 276L433.6 277L435 276.9L434.9 277.9L433.5 277.5L433.4 278.5L435.5 278.5L435.3 279.5L433.4 279L433.3 280L433.2 279.8L433.1 280.8L432.6 280.7A182.0 182.0 0 0 0 433.4 272.2ZM432.5 281.2L434.2 281.4L434 282.4L434.4 282.2L434.3 283.2L433.1 282.8L433 283.8L432.7 283.5L432.6 284.5L432.7 284.3L432.6 285.3L432.5 285L432.3 286L437.8 286.6L437.6 287.6L437.7 287.4L437.5 288.4L440.4 288.6L440.3 289.6L436.2 288.7L436 289.7L436.8 289.6L436.6 290.6L438.1 290.6L437.9 291.6L437.7 291.3L437.5 292.3L439 292.4L438.8 293.4L431.4 291.7L431.2 292.7L441.2 294.4L441 295.4L438.3 294.6L438.1 295.7L434.9 294.7L434.7 295.8L430.8 294.7L430.6 295.7L439.5 297.3L439.3 298.3L431.6 296.4L431.3 297.4L434.5 297.8L434.3 298.8L429.6 297.8A182.0 182.0 0 0 0 432.5 281.2ZM429.5 298.3L430 298.4L429.8 299.4L434.5 300.2L434.3 301.2L431.8 300.4L431.6 301.4L433.4 301.5L433.2 302.5L448.2 306L448 307L433.9 303.2L433.6 304.3L429.4 302.9L429.2 303.9L428.7 303.5L428.5 304.5L429.1 304.4L428.8 305.4L431.2 305.8L431 306.8L430.8 306.4L430.5 307.4L428.7 306.7L428.4 307.6L427.8 307.2L427.5 308.2L427.6 307.9L427.3 308.9L427.3 308.6L427.1 309.6L429.6 310.1L429.3 311.1L426.9 310.1L426.6 311.1L426.7 310.8L426.4 311.8L426.5 311.5L426.2 312.5L426.3 312.3L426 313.2L426 313L425.7 313.9L426.2 313.8L425.9 314.8L425.8 314.5L425.5 315.5L425.3 315.1L425 316.1L425.3 315.9L425 316.9L424.9 316.6L424.5 317.5L425.9 317.7L425.5 318.7L428.3 319.4L428 320.4L427.2 319.8L426.8 320.8L424.1 319.5L423.8 320.5L424.3 320.4L423.9 321.3L426.6 322L426.2 323L423.2 321.6L422.9 322.6L425.1 323.1L424.7 324.1L422.5 323L422.2 323.9L422.5 323.8L422.1 324.7L422 324.4L421.6 325.3L424 326L423.6 327L421.4 325.8L421.1 326.7L421.2 326.5L420.8 327.4L424.4 328.6L424 329.6L421.2 328.1L420.8 329.1L424.1 330.2L423.7 331.2L420.5 329.5L420.1 330.4L419.7 330L419.3 330.9L420.2 331L419.8 331.9L420.6 332L420.2 333L422.5 333.7L422.1 334.7L421.2 334L420.8 334.9L420.6 334.6L420.2 335.5L417.9 334.1L417.5 335.1L417 334.8A182.0 182.0 0 0 0 429.5 298.3ZM416.8 335.3L417.3 335.6L416.9 336.5L417 336.2L416.5 337.1L416.6 336.9L416.2 337.8L418.4 338.6L418 339.5L417.2 338.9L416.8 339.8L415.9 339L415.4 340L415.2 339.6L414.8 340.5L414.3 340.3A182.0 182.0 0 0 0 416.8 335.3ZM414.1 340.7L414.7 341L414.2 341.9L413.7 341.6A182.0 182.0 0 0 0 414.1 340.7ZM413.4 342.1L414 342.4L413.5 343.2L413.5 343L413 343.9L415.4 344.8L414.9 345.7L413.2 344.5L412.7 345.4L416.7 347.3L416.2 348.2L413.4 346.3L412.9 347.2L412.3 346.6L411.8 347.5L411.7 347.1L411.2 348L412.9 348.7L412.4 349.6L413 349.6L412.5 350.5L410.2 348.9L409.7 349.8L411.1 350.3L410.6 351.2L409.5 350.2L409 351.1L409.1 350.9L408.6 351.8L408.8 351.6L408.3 352.5L408.4 352.2L407.9 353.1L408.5 353.2L408 354.1L408.2 353.9L407.6 354.7L410.2 356L409.7 356.9L406.8 354.8L406.3 355.6L406.3 355.4L405.8 356.3L405.4 356A182.0 182.0 0 0 0 413.4 342.1ZM405.1 356.4L405.5 356.7L405 357.5L404.6 357.3A182.0 182.0 0 0 0 405.1 356.4ZM404.3 357.7L404.7 357.9L404.1 358.8L404.3 358.6L403.7 359.4L407.5 361.6L406.9 362.5L403.8 360.1L403.3 360.9L402.5 360.4A182.0 182.0 0 0 0 404.3 357.7ZM402.2 360.8L402.6 361.1L402 361.9L402.2 361.7L401.6 362.5L404.4 364.2L403.8 365L403.4 364.4L402.8 365.2L400.9 363.6L400.3 364.4L401 364.6L400.4 365.4L400 364.8L399.4 365.6L401.2 366.6L400.6 367.4L399.3 366.2L398.7 367L399 366.9L398.4 367.7L398.8 367.7L398.2 368.5L397.7 367.8L397.1 368.6L397.3 368.4L396.7 369.3L396.3 368.9A182.0 182.0 0 0 0 402.2 360.8ZM396 369.3L396.8 370L396.2 370.8L396.4 370.7L395.8 371.4L398.1 373L397.5 373.8L395 371.4L394.3 372.2L394.5 372L393.9 372.8L394.9 373.3L394.3 374.1L393.6 373.2L392.9 374L393.1 373.8L392.4 374.6L393 374.7L392.3 375.5L391.6 374.8A182.0 182.0 0 0 0 396 369.3ZM391.2 375.2L391.6 375.5L391 376.3L392.1 376.9L391.4 377.7L390.7 376.7L390 377.5L391.2 378.2L390.6 379L389.7 377.8L389 378.6L390.1 379.3L389.4 380L388.6 379L388 379.7L387.6 379.4A182.0 182.0 0 0 0 391.2 375.2ZM387.3 379.8L389.4 381.6L388.7 382.4L388 381.4L387.3 382.2L386.6 381.2L386 382L386.1 381.8L385.4 382.5L385.6 382.3L384.9 383.1L385.2 383L384.5 383.7L384.6 383.4L383.9 384.2L386 385.8L385.3 386.6L383.5 384.5L382.8 385.3L383 385.1L382.3 385.8L382.5 385.7L381.8 386.4L381.4 386A182.0 182.0 0 0 0 387.3 379.8ZM381 386.3L381.9 387.2L381.2 387.9L380.3 387A182.0 182.0 0 0 0 381 386.3ZM380 387.4L381.4 388.8L380.6 389.5L379.3 388.1A182.0 182.0 0 0 0 380 387.4ZM378.9 388.5L379.3 388.8L378.5 389.5L379.3 389.9L378.6 390.6L379.5 391.3L378.8 392L377.6 390.4L376.9 391.1L377.1 390.9L376.3 391.6L378.6 393.7L377.9 394.4L376 391.9L375.2 392.6L375.4 392.5L374.7 393.2L374.8 393L374.1 393.6L374.3 393.5L373.5 394.1L373.7 394L373 394.7L373.2 394.6L372.5 395.2L372.6 395L371.8 395.6L372.2 395.6L371.4 396.3L372 396.7L371.3 397.3L371.6 397.4L370.9 398L370.5 397.2L369.7 397.9L369.7 397.5L369 398.1L369.3 398.2L368.6 398.8L368.7 398.6L368 399.3L368.9 400L368.1 400.7L367.4 399.4L366.6 400L366.9 400L366.2 400.7L367.8 402.2L367 402.9L365.1 400.6A182.0 182.0 0 0 0 378.9 388.5ZM364.7 400.9L365 401.3L364.2 401.9L364.8 402.2L364 402.8L365 403.7L364.2 404.3L363.3 402.8L362.5 403.4L362.7 403.2L361.9 403.8L361.5 403.3A182.0 182.0 0 0 0 364.7 400.9ZM361.1 403.6L361.4 404L360.6 404.6L361.3 405.1L360.5 405.7L360.9 405.9L360.1 406.5L359.1 405.1A182.0 182.0 0 0 0 361.1 403.6ZM357.5 406.3L357.8 406.7L357 407.3L359.2 410.1L358.4 410.7L356.5 407.6L355.7 408.2L355.4 407.8A182.0 182.0 0 0 0 357.5 406.3ZM355 408L356.1 409.6L355.3 410.2L356.5 411.5L355.6 412.1L353.6 409A182.0 182.0 0 0 0 355 408ZM353.1 409.3L353.4 409.8L352.6 410.3L352.8 410.1L351.9 410.7L352.2 410.6L351.4 411.2L352.4 412.3L351.5 412.8L357.8 422L356.8 422.6L355.1 419.4L354.2 420L351 414.4L350.1 414.9L351.5 416.6L350.6 417.1L350.9 417.2L350.1 417.7L351.2 419.2L350.3 419.7L349.4 417.6L348.5 418.1L352.8 424.8L351.9 425.4L351.3 423.9L350.4 424.4L351.4 425.6L350.5 426.1L344.4 415.4L343.6 415.9L346.2 419.9L345.3 420.4L342.7 415.8A182.0 182.0 0 0 0 353.1 409.3ZM342.2 416.1L344.3 419.7L343.4 420.2L346.7 425.6L345.8 426.1L348.3 430L347.4 430.5L340.5 417.6L339.6 418.1L340.1 418.4L339.2 418.9L340.2 420.2L339.3 420.7L339.4 420.4L338.5 420.8L337.9 419L337 419.5L338.4 421.8L337.5 422.2L336.5 419.8L335.6 420.2L336.4 421.2L335.5 421.7L335.9 421.8L335 422.3L334.5 420.9L333.6 421.3L334 421.5L333.1 422L333.1 421.5L332.2 421.9L332.6 422.1L331.7 422.6L331.8 422.2L330.9 422.6L332.1 424.6L331.2 425L330 422.4A182.0 182.0 0 0 0 342.2 416.1ZM329.5 422.7L330.7 425.2L329.8 425.7L329.1 423.4L328.1 423.9L328.4 423.8L327.4 424.2L328.2 425.2L327.3 425.7L327.4 425.2L326.4 425.6L326.3 424.8L325.4 425.2L325.6 425L324.7 425.4L325 425.5L324.1 425.9L324.2 425.6L323.3 426L323.1 425.5A182.0 182.0 0 0 0 329.5 422.7ZM322.6 425.7L323 426.7L322.1 427.1L322.1 426.5L321.2 426.9L322 428.1L321 428.5L320.8 427.3L319.9 427.6L320 427.3L319.1 427.7L319.3 427.6L318.4 428L319.3 429.5L318.3 429.9L318 428.3L317 428.7L317.2 428.5L316.3 428.8L317 430.1L316.1 430.5L315.8 429L314.9 429.3L315.7 431L314.8 431.3L314.4 429.7L313.5 430L314.2 431.1L313.2 431.5L313 430L312 430.4L312.4 430.6L311.4 430.9L312.2 432.6L311.3 432.9L310.4 430.4A182.0 182.0 0 0 0 322.6 425.7ZM309.9 430.5L310.1 431L309.1 431.3L309.9 432.9L309 433.2L309.7 434.5L308.7 434.8L308.7 434L307.7 434.4L307.4 432.5L306.4 432.8L306.6 432.5L305.6 432.8L305.8 432.5L304.8 432.8L304.7 432.2A182.0 182.0 0 0 0 309.9 430.5ZM304.2 432.4L304.5 433.5L303.5 433.8L304.2 435L303.2 435.3L302.9 433.3L301.9 433.6L302.2 433.5L301.2 433.7L302.2 436.3L301.2 436.6L300.7 434.1L299.8 434.3L299.6 433.7A182.0 182.0 0 0 0 304.2 432.4ZM299.1 433.8L299.3 434.6L298.3 434.9L298.5 434.5L297.5 434.7L297.8 434.7L296.8 434.9L297 434.9L296.1 435.1L296.7 436.4L295.7 436.7L296.3 438L295.3 438.3L294.8 435.4L293.9 435.6L294.2 435.8L293.2 436L293.6 436.8L292.6 437L292.3 435.5A182.0 182.0 0 0 0 299.1 433.8ZM291.8 435.6L291.9 436.1L290.9 436.3L291.4 437.2L290.4 437.4L290.5 436.6L289.5 436.9L289.7 436.7L288.7 436.9L289.9 441.4L288.9 441.6L288.2 436.9L287.2 437.1L288.4 442L287.4 442.2L286.9 437.9L285.9 438.1L286.1 438.1L285.1 438.2L285.3 437.6L284.3 437.8L284.7 439L283.7 439.2L283.8 437.8L282.8 438L283 438L282 438.2L282.2 438L281.2 438.1L281.6 438.6L280.6 438.8L280.8 438.5L279.8 438.7L280 438.3L279 438.5L279.3 438.5L278.3 438.6L278.5 438.6L277.5 438.8L277.4 438.2A182.0 182.0 0 0 0 291.8 435.6ZM276.9 438.3L277 438.8L276 438.9L276.8 443.2L275.8 443.3L275.5 439L274.5 439.1L274.8 439.1L273.8 439.2L274.2 440.5L273.2 440.6L273.4 440.6L272.4 440.7L272.5 439.4L271.5 439.5L271.4 439A182.0 182.0 0 0 0 276.9 438.3ZM271 439L271 439.8L270 439.9L270.3 439.6L269.2 439.7L269.6 440.8L268.6 440.9L268.7 439.7L267.7 439.8L268 440.4L267 440.5L267.4 441.2L266.3 441.3L266.5 440L265.5 440.1L265.4 439.5A182.0 182.0 0 0 0 271 439ZM264.9 439.5L265 440.9L264 440.9L263.9 439.6A182.0 182.0 0 0 0 264.9 439.5ZM262.7 439.7L262.9 442.8L261.8 442.9L262 440.2L260.9 440.3L261.2 440.3L260.2 440.3L260.5 441L259.5 441.1L259.7 440.3L258.7 440.4L258.9 440.4L257.9 440.4L257.9 439.9A182.0 182.0 0 0 0 262.7 439.7ZM257.4 439.9L257.4 440.4L256.4 440.4L256.7 440.6L255.7 440.7L256 443.2L254.9 443.2L255.2 441.6L254.2 441.6L254.4 442.5L253.4 442.5L253.6 441.1L252.6 441.1L252.9 445L251.9 445L252.1 443.7L251.1 443.7L251.4 444.3L250.3 444.3L250.6 440.8L249.6 440.8L249.8 444.3L248.8 444.3L249.1 443.3L248 443.3L248.3 442.2L247.3 442.2L247.5 443.5L246.5 443.4L246.8 442.9L245.7 442.9L246.1 440.7L245.1 440.6L245.3 440.4L244.3 440.3L244.5 440.9L243.5 440.8L243.6 444.5L242.6 444.4L243 441.4L242 441.4L242.1 443.5L241.1 443.5L241.5 441.7L240.4 441.7L240.6 443.1L239.6 443.1L240 441.1L239 441L239.3 440.1L238.3 440L238.3 439.5A182.0 182.0 0 0 0 257.4 439.9ZM237.8 439.4L237.8 440L236.8 439.9L236.8 439.4A182.0 182.0 0 0 0 237.8 439.4ZM236.3 439.3L236.3 439.9L235.2 439.8L235.3 442L234.3 441.9L234.7 440L233.7 439.9L233.7 442.8L232.7 442.7L233.3 439.5L232.2 439.4L232.1 442.7L231.1 442.6L231.5 441.3L230.5 441.2L231 439.3L230 439.2L230.2 439.2L229.2 439.1L229.1 442.2L228.1 442.1L228.2 443.3L227.2 443.2L227.4 443.7L226.3 443.6L226.5 444.3L225.5 444.2L226.2 441L225.2 440.9L225 443.8L224 443.7L223.8 446.5L222.8 446.4L223.4 443.8L222.4 443.7L221.8 449.1L220.7 448.9L221.5 446L220.4 445.8L222 438L221 437.8L219.5 448L218.5 447.8L219.5 443.4L218.5 443.2L219.4 439.6L218.4 439.4L219 437.6L218 437.4L217.6 441.2L216.6 441L217.5 437.4L216.5 437.2L216.8 437.1L215.8 436.9L215.9 436.4A182.0 182.0 0 0 0 236.3 439.3ZM215.4 436.3L215.2 437.2L214.2 436.9L214.6 436.6L213.6 436.4L213.8 436.5L212.8 436.3L213.1 436.4L212.1 436.1L211.3 441L210.3 440.8L211.6 436L210.6 435.8L210.9 435.8L209.9 435.6L210.1 435.8L209.1 435.6L209.2 436.3L208.2 436L207.6 439.5L206.6 439.3L206.9 439.1L205.9 438.9L207.2 434.9L206.2 434.7L206.5 434.7L205.5 434.5L205.7 434.6L204.8 434.3L205 434.3L204 434.1L204.3 434.2L203.3 433.9L203.6 434L202.6 433.7L201.6 438.2L200.6 437.9L202 433A182.0 182.0 0 0 0 215.4 436.3ZM201.5 432.9L201.4 433.3L200.4 433.1L200.6 433.1L199.7 432.8L199.3 435.1L198.3 434.8L198.6 434.7L197.6 434.4L198.5 432.5L197.5 432.2L197.5 433L196.5 432.7L196.6 433.4L195.6 433.1L195.9 433L194.9 432.7L194.6 434.7L193.6 434.4L193.6 435.1L192.6 434.8L193.3 433.6L192.3 433.3L193.1 431.9L192.1 431.5L191.8 433.3L190.8 433L191.8 431L190.8 430.6L190.1 433.4L189.1 433.1L189.7 432.3L188.7 432L189.9 429.6L188.9 429.3L188.4 431.5L187.4 431.1L188.4 429.1L187.5 428.7L187.6 429.1L186.7 428.7L187 428.5L186.1 428.2L186 429.1L185.1 428.7L184.4 431L183.5 430.6L184.7 428.3L183.7 428L184.2 427.4L183.3 427.1L182.9 428.7L181.9 428.3L182.8 426.9L181.9 426.5L181.7 427.5L180.8 427.1L181.4 426.3L180.5 425.9L180.7 426L179.8 425.6L179.8 426.2L178.9 425.8L176.7 431.5L175.7 431.1L177.4 427.8L176.5 427.4L176.7 427.6L175.7 427.2L176.9 425.2L176 424.8L176.6 424.2L175.6 423.8L174.4 427.2L173.4 426.7L172.2 429.9L171.3 429.4L171.7 429.1L170.8 428.6L173.8 422.9L172.9 422.5L172.4 424.1L171.5 423.6L170.7 425.8L169.8 425.4L171.8 421.4A182.0 182.0 0 0 0 201.5 432.9ZM171.3 421.1L171.1 421.6L170.2 421.1L169.7 422.7L168.8 422.3L167.4 425.4L166.5 425L169.1 420.6L168.2 420.1L168.4 419.7A182.0 182.0 0 0 0 171.3 421.1ZM167.9 419.4L166.4 422.4L165.5 421.9L167 419.5L166.1 419L165.9 420L165 419.6L165.7 418.8L164.8 418.4L165 418.5L164.2 418L164.2 418.4L163.3 417.9L163.7 417.8L162.8 417.3L163.1 417.4L162.2 416.9L162.3 417.1L161.4 416.6L161 418L160.1 417.5L161 416.4L160.1 415.9L160 416.6L159.1 416.1L158.4 417.7L157.6 417.2L159.1 415.1L158.2 414.6L157.9 415.7L157 415.1L157.8 414.3L157 413.8L157.2 413.9L156.3 413.4L156.1 414.2L155.2 413.7L155.9 413.2L155 412.6L155.2 412.7L154.4 412.2L154.7 411.8A182.0 182.0 0 0 0 167.9 419.4ZM154.2 411.5L152.3 414.6L151.4 414L153.3 411.5L152.5 411L152.7 411.1L151.8 410.6L151 412.3L150.2 411.7L151.4 410.3L150.6 409.7L150.5 410.3L149.7 409.7L149 411.2L148.1 410.6L147.7 411.7L146.8 411.2L146.8 411.6L146 411L146.4 410.9L145.5 410.4L147.4 408.1L146.6 407.5L145.7 409.2L144.9 408.6L146.2 407.2L145.3 406.7L145.8 406.4L145 405.8L145.2 406L144.3 405.4L144.6 405.6L143.7 405L144 405.1L143.2 404.5L142.8 405.4L142 404.8L142.7 404.2L141.9 403.6L140.6 405.8L139.8 405.2L141.5 403.4L140.7 402.8L139.8 404.4L139 403.8L139.8 403.1L139 402.4L139.7 401.9L138.9 401.3L139.2 401.4L138.4 400.8L137.2 402.6L136.4 402L138 400.5L137.2 399.9L137.4 400L136.6 399.4L136.8 399.5L136 398.9L136.2 399.1L135.4 398.4L135.6 398.6L134.9 397.9L134.7 398.5L133.9 397.8L134.4 397.6L133.7 397L133.3 397.8L132.5 397.2L132.4 397.7L131.7 397L132.7 396.2L132 395.5L132.3 395.1A182.0 182.0 0 0 0 154.2 411.5ZM131.9 394.8L131 395.9L130.2 395.2L130.9 394.8L130.2 394.1L130.5 394.1L129.7 393.5L128.7 395L128 394.3L129.3 393.2L128.6 392.5L128.8 392.7L128 392L127.6 392.8L126.9 392.1L127.7 391.6L126.9 390.9L126.1 392.2L125.4 391.5L126.6 390.6L125.8 389.9L124.6 391.5L123.9 390.8L125.5 389.5L124.7 388.8L124.8 389.2L124 388.5L124.4 388.5L123.7 387.8L123.7 388.1L123 387.3L122.2 388.5L121.5 387.8L122.7 386.9L122 386.2L121.1 387.5L120.4 386.7L121.9 385.3A182.0 182.0 0 0 0 131.9 394.8ZM121.5 384.9L118.8 387.6L118.1 386.9L120.5 384.9L119.8 384.1L118.5 385.7L117.8 385L119.5 383.7L118.8 383L117.3 384.7L116.6 384L118.5 382.5L117.9 381.8L118.1 382L117.4 381.2L117.5 381.4L116.9 380.7L117 380.8L116.4 380.1L116.4 380.4L115.7 379.7L116.2 379.2A182.0 182.0 0 0 0 121.5 384.9ZM115.9 378.8L113.9 380.6L113.3 379.8L114.9 378.7L114.2 378L113.3 379.1L112.7 378.3L114.2 376.9A182.0 182.0 0 0 0 115.9 378.8ZM113.9 376.6L111.1 379L110.4 378.2L113 376.3L112.4 375.5L112.5 375.7L111.9 375L112.1 375.1L111.4 374.4L111.6 374.6L110.9 373.8L110.9 374.1L110.3 373.4L108.6 375.1L107.9 374.3L110.1 372.9L109.4 372.1L107.7 373.8L107.1 373L109.2 371.6L108.6 370.8L108.7 371.1L108 370.3L108.5 369.9A182.0 182.0 0 0 0 113.9 376.6ZM108.2 369.5L107.7 369.9L107.1 369.1L107.3 369.3L106.7 368.4L106.8 368.7L106.2 367.9L106.2 368.2L105.6 367.4L106 367.4L105.4 366.6L104.5 367.6L103.9 366.7L105 366.3L104.4 365.4L102.8 366.9L102.2 366.1L103.8 365.2L103.2 364.4L103.7 364.4L103.1 363.6L103.5 363.3A182.0 182.0 0 0 0 108.2 369.5ZM103.3 362.9L101.4 364.2L100.8 363.4L102.4 362.5L101.8 361.7L94 367.5L93.4 366.6L98 363.7L97.4 362.9L94.2 365.4L93.7 364.5L94.2 364.4L93.6 363.5L95 362.9L94.4 362.1L98.7 359.5L98.2 358.7L98.7 358.7L98.1 357.8L99.3 357A182.0 182.0 0 0 0 103.3 362.9ZM98.6 356L94 358.9L93.5 358L90.9 360L90.4 359.1L92.6 358L92.1 357.1L88.3 359.8L87.7 358.9L96.9 353.2A182.0 182.0 0 0 0 98.6 356ZM96.6 352.8L90.1 356.7L89.6 355.8L86.3 358.1L85.8 357.2L88.2 356.1L87.7 355.1L93.9 351.8L93.3 350.9L92.5 351.7L92 350.8L91.3 351.5L90.8 350.6L88.2 352.4L87.7 351.5L93.4 348.5L92.9 347.7L92.8 348L92.3 347.1L92.3 347.4L91.8 346.6L87.9 349L87.4 348.1L92 345.8L91.5 345L85.9 348.3L85.4 347.4L86.1 347.3L85.6 346.4L84.3 347.4L83.8 346.5L90.6 343.2L90.1 342.3L86.1 344.7L85.7 343.7L89.9 341.8L89.4 340.9L82.2 344.9L81.7 344L83.5 343.4L83.1 342.4L79.3 344.6L78.8 343.7L80.9 342.9L80.4 342L85.4 339.8L85 338.9L86.1 338.6L85.7 337.7L85 338.3L84.6 337.4L87.2 336.4L86.8 335.5L83.3 337.4L82.9 336.5L82.2 337.1L81.8 336.1L81.6 336.5L81.1 335.6L83.2 334.9L82.8 334L85 333.3L84.6 332.3L79.6 334.8L79.2 333.9L84.8 331.7L84.4 330.8L84.7 330.9L84.3 330L84.4 330.2L84 329.3L84.1 329.5L83.7 328.6L83.6 328.9L83.2 328L78.7 330.1L78.3 329.2L83.2 327.4L82.8 326.5L79.6 328.1L79.2 327.1L82.6 326L82.2 325.1L81.4 325.7L81.1 324.8L77.7 326.3L77.3 325.4L81.4 324.1L81.1 323.1L79.7 323.9L79.4 323L79.1 323.3L78.7 322.4L80.3 322.1L79.9 321.1L81.1 320.7A182.0 182.0 0 0 0 96.6 352.8ZM81 320.2L80.5 320.4L80.1 319.4L80 319.8L79.6 318.8L79.1 319.3L78.8 318.3L79.7 318.3L79.4 317.3L78.6 317.8L78.3 316.9L77.9 317.3L77.6 316.3L79 316.1L78.7 315.1L77.8 315.7L77.5 314.7L78.5 314.7L78.1 313.7L76.3 314.6L75.9 313.6L78.1 313.2L77.8 312.3L77.8 312.5L77.5 311.5L77.6 311.8L77.3 310.8L73.1 312.3L72.8 311.4L74.8 311L74.5 310L73.5 310.6L73.2 309.6L74 309.7L73.7 308.7L76.5 308.2L76.2 307.2L76.3 307.4L76 306.4L76.5 306.3A182.0 182.0 0 0 0 81 320.2ZM76.4 305.8L75.9 306L75.6 305L75.6 305.3L75.4 304.3L74.5 304.8L74.3 303.8L73 304.4L72.7 303.4L74.7 303.2L74.5 302.2L74.9 302.3L74.7 301.3L74.3 301.7L74.1 300.7L65.9 302.9L65.6 301.9L70.2 301.1L70 300.1L68.1 300.8L67.9 299.8L73.7 298.7L73.5 297.7L71.9 298.3L71.7 297.3L71.1 297.7L70.9 296.7L72.8 296.6L72.6 295.6L72.8 295.8L72.6 294.8L73.7 294.6A182.0 182.0 0 0 0 76.4 305.8ZM73.6 294.1L66 295.6L65.8 294.6L67.1 294.6L66.9 293.6L72.8 292.7L72.6 291.7L71.9 292.1L71.7 291.1L71.1 291.5L70.9 290.5L66 291.6L65.8 290.6L69.9 290.2L69.7 289.1L72.1 289L71.9 288L72.5 287.9A182.0 182.0 0 0 0 73.6 294.1ZM72.4 287.4L69.5 287.9L69.3 286.9L71.8 286.8L71.6 285.8L72.1 285.7A182.0 182.0 0 0 0 72.4 287.4ZM72 285.2L65 286.2L64.9 285.2L69.5 284.8L69.3 283.8L67.1 284.4L67 283.3L66.1 283.7L65.9 282.7L69.6 282.5L69.4 281.5L71 281.5L70.9 280.5L69.8 280.9L69.6 279.9L70.4 280.1L70.3 279.1L67.9 279.6L67.8 278.6L69.9 278.6L69.8 277.6L62.6 278.6L62.5 277.6L65.3 277.5L65.2 276.5L70.2 276.3L70.1 275.3L66.4 275.9L66.3 274.9L62.8 275.4L62.7 274.4L66 274.4L65.9 273.3L68.2 273.4L68.1 272.4L67.9 272.7L67.8 271.6L69.5 271.8L69.5 270.8L65.3 271.3L65.2 270.3L70.4 269.9A182.0 182.0 0 0 0 72 285.2ZM70.4 269.4L63.9 269.8L63.8 268.8L70.3 268.4A182.0 182.0 0 0 0 70.4 269.4ZM70.3 267.9L68.3 268L68.3 267L69.5 267.2L69.4 266.2L69.7 266.4L69.7 265.4L69.1 265.7L69.1 264.7L66.9 265L66.9 264L68.7 264.2L68.7 263.2L70.1 263.2A182.0 182.0 0 0 0 70.3 267.9ZM70.1 262.7L67.6 262.7L67.5 261.7L69.5 261.9L69.5 260.9L65.5 261.2L65.5 260.2L65.1 260.5L65.1 259.4L64.8 259.7L64.8 258.6L66.4 258.9L66.4 257.9L68.5 258.1L68.5 257.1L69.5 257.4L69.5 256.4L69.5 256.6L69.5 255.6L67 255.8L67 254.8L68.4 255.1L68.4 254.1L69.4 254.3L69.4 253.3L70.1 253.3A182.0 182.0 0 0 0 70.1 262.7ZM70.1 252.8L69.4 252.8L69.5 251.8L70.1 251.8A182.0 182.0 0 0 0 70.1 252.8ZM70.1 251.3L69.6 251.3L69.7 250.3L69.7 250.6L69.7 249.6L69.6 249.8L69.6 248.8L69 249L69 248L67.8 248.2L67.9 247.2L66.5 247.4L66.6 246.3L67.8 246.7L67.8 245.6L69.9 246L70 245L69.5 245.2L69.5 244.2L69.3 244.5L69.3 243.5L70.1 243.8L70.1 242.8L69.9 243L70 242L70.2 242.3L70.3 241.3L70.2 241.5L70.3 240.5L66.6 240.4L66.7 239.4L69.7 239.9L69.8 238.9L70.3 239.2L70.4 238.2L70.3 238.5L70.4 237.5L66.4 237.3L66.5 236.2L67.6 236.6L67.7 235.6L65.3 235.6L65.4 234.5L70.8 235.5L70.9 234.5L71 234.7L71.1 233.7L70 233.9L70.2 232.8L64.6 232.3L64.7 231.3L71.3 232.5L71.4 231.5L64.5 230.7L64.7 229.7L64.8 230L65 229L66.9 229.5L67 228.5L70.5 229.3L70.6 228.3L71.9 228.8L72 227.8L67.4 227.2L67.5 226.2L68.7 226.7L68.8 225.7L68.5 225.9L68.7 224.9L71.9 225.7L72.1 224.7L72.5 225L72.7 224L68.9 223.6L69.1 222.6L69.3 222.9L69.5 221.9L72.9 222.8L73.1 221.8L73.1 222.1L73.3 221.1L67.3 220.1L67.5 219.1L71.3 220.2L71.6 219.1L71.2 219.3L71.4 218.3L73.5 219.1L73.8 218.1L73.8 218.3L74 217.4L73.5 217.5L73.7 216.5L74.7 216.7A182.0 182.0 0 0 0 70.1 251.3ZM74.9 216.3L73.4 215.9L73.7 214.9L71.8 214.7L72 213.7L73.2 214.3L73.4 213.3L73.7 213.6L73.9 212.7L74.2 213L74.5 212L70.3 211.2L70.6 210.2L74.3 211.4L74.5 210.4L73.7 210.5L73.9 209.5L76.4 210.2A182.0 182.0 0 0 0 74.9 216.3ZM76.5 209.7L74.5 209.1L74.7 208.1L76.3 208.8L76.5 207.8L76.2 208L76.4 207L76.3 207.3L76.6 206.3L74 205.8L74.3 204.8L76.8 205.8L77.1 204.9L77.3 205.2L77.6 204.2L62.7 199.9L63.1 198.9L64.9 199.7L65.2 198.7L78 203L78.3 202.1L69.4 199.5L69.7 198.5L72.3 199.6L72.6 198.6L65.5 196.5L65.8 195.5L68.5 196.7L68.9 195.7L64.2 194.4L64.6 193.3L68.1 194.8L68.4 193.8L75.1 196.4L75.5 195.4L68.2 193.1L68.5 192.1L67.9 192.2L68.2 191.2L80.4 195.9L80.8 194.9L81.2 195.1A182.0 182.0 0 0 0 76.5 209.7ZM81.7 193.9L69.3 189.2L69.6 188.2L77.4 191.5L77.8 190.5L80.8 192L81.2 191L78.1 190.1L78.5 189.1L82.3 190.9L82.7 190L77.9 188.3L78.3 187.4L82.8 189.5L83.2 188.5L83.1 188.8L83.5 187.9L81.5 187.3L81.9 186.4L84.3 187.4A182.0 182.0 0 0 0 81.7 193.9ZM84.5 186.9L84 186.7L84.4 185.8L83.2 185.6L83.6 184.6L80 183.3L80.4 182.4L82.3 183.5L82.7 182.6L85.2 183.9L85.6 183L84.9 183L85.3 182L85.6 182.5L86.1 181.6L86 181.8L86.4 180.9L86.5 181.2L86.9 180.3L86.7 180.4L87.1 179.5L82.4 177.6L82.8 176.6L86.9 178.9L87.4 178L84.9 177.1L85.4 176.1L87.2 177.3L87.7 176.4L87.9 176.9L88.4 175.9L87.2 175.6L87.6 174.7L89.1 175.7L89.6 174.8L87 173.8L87.4 172.9L88.4 173.7L88.9 172.8L90.1 173.7L90.6 172.8L90 172.8L90.4 171.9L88 170.9L88.5 170L90.5 171.3L91 170.5L91.5 171L92 170.1L89.9 169.3L90.4 168.4L87.8 167.2L88.3 166.3L87.3 166.1L87.8 165.2L85.4 164.1L85.9 163.2L93.4 167.7L93.9 166.9L86.8 163.1L87.3 162.1L88 162.9L88.5 161.9L90.2 163.2L90.7 162.3L90 162.2L90.6 161.3L95.3 164.5L95.8 163.6L95.5 163.7L96.1 162.9L96.1 163.2L96.6 162.3L96.4 162.5L96.9 161.6L97.4 161.9A182.0 182.0 0 0 0 84.5 186.9ZM97.7 161.5L97.2 161.2L97.7 160.3L94.8 158.8L95.3 157.9L97 159.3L97.5 158.4L97.3 158.6L97.9 157.7L99.4 158.7A182.0 182.0 0 0 0 97.7 161.5ZM99.7 158.3L99.3 158.1L99.9 157.2L98.1 156.4L98.7 155.5L98.6 155.8L99.1 154.9L98.6 154.9L99.2 154L100.8 155.4L101.4 154.6L101.4 154.9L102 154.1L101.8 154.3L102.4 153.5L101.7 153.3L102.3 152.5L102.2 152.7L102.8 151.9L101.7 151.4L102.3 150.6L103.4 151.7L104 150.9L103.9 151.1L104.5 150.3L104.5 150.6L105.1 149.8L103.4 148.9L104 148L105.3 149.3L105.9 148.5L105.8 148.8L106.4 147.9L106.3 148.2L106.9 147.4L106.2 147.2L106.9 146.4L107.7 147.1A182.0 182.0 0 0 0 99.7 158.3ZM108 146.7L104.1 143.6L104.7 142.8L107.8 145.5L108.4 144.7L107 143.9L107.6 143.1L108.4 144.1L109 143.3L109.5 143.9L110.1 143.2L110.5 143.5A182.0 182.0 0 0 0 108 146.7ZM110.8 143.1L110.4 142.8L111.1 142L110.9 142.2L111.6 141.4L109 139.6L109.7 138.8L111.2 140.5L111.9 139.7L111.5 139.7L112.1 138.9L110 137.4L110.6 136.6L113.3 139.3L114 138.5L113.9 138.7L114.5 138L113.5 137.4L114.1 136.6L114.5 137.3L115.2 136.5L114.8 136.5L115.5 135.8L115.8 136.4L116.5 135.7L114.3 134.1L115 133.3L116.9 135.3L117.5 134.6L117.4 134.8L118.1 134L118.4 134.4A182.0 182.0 0 0 0 110.8 143.1ZM119.3 133.5L117.6 131.9L118.3 131.1L115.4 128.7L116.1 128L115.9 128.2L116.7 127.4L120.3 131.3L121 130.6L121 130.9L121.7 130.2L120 128.9L120.7 128.1L120.5 128.3L121.3 127.6L120.5 127.2L121.2 126.5L123.7 129A182.0 182.0 0 0 0 119.3 133.5ZM124 128.6L121.6 126.2L122.4 125.5L124.2 127.7L124.9 127L123.9 126.3L124.6 125.6L125.3 126.7L126 126L126.4 126.3A182.0 182.0 0 0 0 124 128.6ZM126.7 126L126.4 125.6L127.1 124.9L126.9 125.1L127.6 124.4L125.6 122.5L126.3 121.8L124.5 120.2L125.3 119.5L128.6 123.5L129.3 122.9L127.9 121.7L128.7 121L124.6 116.9L125.4 116.2L125.6 116.8L126.4 116.1L125.8 115.8L126.6 115.1L131.4 121L132.2 120.4L132 120.5L132.7 119.9L131.2 118.5L132 117.8L130.3 116.2L131.1 115.5L133.7 119L134.5 118.4L133.9 118.1L134.7 117.5L134.9 118.1L135.6 117.4L135.4 117.6L136.2 116.9L135.6 116.6L136.4 116L136.4 116.4L137.2 115.8L135.3 113.8L136.1 113.1L138.3 115.9A182.0 182.0 0 0 0 126.7 126ZM138.7 115.6L137.4 114L138.2 113.4L138.7 114.4L139.5 113.8L139.5 114.2L140.3 113.6L139.7 113.3L140.5 112.6L140.8 113.3L141.6 112.7L141.9 113.1A182.0 182.0 0 0 0 138.7 115.6ZM142.3 112.8L140.8 110.9L141.6 110.2L140.4 109.1L141.3 108.5L143.2 111.5L144 110.9L143.4 110.6L144.3 110L143 108.7L143.8 108.1L145 110.2L145.8 109.6L145.6 109.7L146.4 109.1L146.2 109.3L147 108.7L145.7 107.3L146.6 106.7L147.1 107.9L147.9 107.3L144.9 103.4L145.8 102.8L147.9 106.4L148.8 105.9L149.2 107L150.1 106.4L149.5 106.1L150.4 105.5L148.3 102.8L149.1 102.3L149.1 102.7L150 102.1L149.9 102.5L150.8 101.9L152.4 104.9L153.3 104.4L153.6 104.9A182.0 182.0 0 0 0 142.3 112.8ZM154 104.6L153.5 103.8L154.3 103.2L152.7 101.1L153.5 100.6L153.8 101.5L154.7 100.9L155.5 102.7L156.3 102.1L156.3 102.6L157.2 102.1L157 102.2L157.8 101.7L157.5 101.7L158.4 101.2L158.2 101.4L159.1 100.9L158.9 101L159.8 100.5L159.3 100.3L160.2 99.8L159.2 98.6L160.1 98.1L157.3 93.7L158.2 93.2L161.5 99.5L162.4 99L162.2 99.1L163.1 98.6L162.8 98.7L163.7 98.3L163.5 98.4L164.4 97.9L164 97.7L164.9 97.2L162.6 93.6L163.5 93.1L164.5 95.6L165.4 95.1L166.1 97L167 96.5L166.1 95.2L167 94.8L166.8 95L167.7 94.5L168.6 96.2A182.0 182.0 0 0 0 154 104.6ZM169.1 96L168.6 95.1L169.5 94.7L169.1 94.5L170 94L170 94.5L170.9 94.1L170.8 94.5L171.8 94.1L168.9 88.9L169.9 88.5L172.1 93.6L173 93.2L172.8 93.4L173.7 92.9L172.8 91.6L173.7 91.2L174.3 92.9L175.2 92.4L173 88.3L173.9 87.9L172.6 85.7L173.6 85.3L174.2 87.3L175.2 86.9L177 91.6L177.9 91.2L177 89.6L177.9 89.2L177.4 88.8L178.4 88.4L179 90.6L180 90.2L177.7 85.5L178.6 85.1L180.4 89.8L181.3 89.4L180.7 88.8L181.7 88.4L179.5 83.8L180.5 83.4L181.8 87.4L182.7 87L181.9 85.6L182.9 85.3L183.9 88.5L184.8 88.1L183.9 86.5L184.9 86.1L183.6 83.6L184.6 83.2L186.5 88.2A182.0 182.0 0 0 0 169.1 96ZM187 88L185.9 85.3L186.9 85L187.5 87.2L188.4 86.9L186.7 83L187.7 82.6L188.9 86.6L189.8 86.3L189 84.8L190 84.5L190.7 86.6A182.0 182.0 0 0 0 187 88ZM191.2 86.5L191 86L192 85.6L192.2 86.1A182.0 182.0 0 0 0 191.2 86.5ZM192.6 86L191.1 81.5L192.1 81.1L192.1 82L193 81.6L193.7 84.2L194.6 83.9L194.6 84.6L195.5 84.3L195.3 84.5L196.3 84.2L196.1 84.3L197 84L196.7 83.9L197.7 83.6L196.3 79.9L197.3 79.6L198.1 83.1L199 82.8L197.2 77.8L198.2 77.5L199.1 81.4L200.1 81.1L200.2 82.3L201.2 82L201.1 82.6L202 82.3L201.8 82.5L202.8 82.3L202.5 82.1L203.5 81.9L201.7 76.5L202.8 76.2L204.4 82.3A182.0 182.0 0 0 0 192.6 86ZM204.9 82.2L204.8 81.7L205.7 81.5L205.3 80.8L206.3 80.6L206.2 81.3L207.2 81.1L206.4 79L207.4 78.7L207.7 80.9L208.7 80.7L208.2 79.8L209.2 79.6L209.1 80.5L210.1 80.2L210.3 80.9A182.0 182.0 0 0 0 204.9 82.2ZM210.7 80.7L210.6 80.1L211.6 79.8L211.3 79.8L212.3 79.6L210.9 74.4L211.9 74.2L212.7 79.2L213.7 79L213.5 79.4L214.5 79.2L214.1 78.2L215.1 78L214.7 77.6L215.7 77.4L214.8 74.1L215.8 73.9L216.2 77.3L217.2 77.1L217.3 78.8L218.3 78.6L217.1 74L218.2 73.8L218 74.4L219 74.2L218.6 73.3L219.6 73.1L219.9 76.1L220.9 76L220.9 77.7L221.9 77.5L221.3 75L222.3 74.8L222.5 77.9L223.5 77.7L223.1 77L224.1 76.8L223.9 76.8L224.9 76.7L225.1 78A182.0 182.0 0 0 0 210.7 80.7ZM225.6 77.9L225.5 77.3L226.5 77.1L225.4 71.7L226.5 71.6L226.8 76.1L227.8 76L227.7 76.6L228.7 76.5L228.4 76L229.4 75.9L229 75.4L230.1 75.2L229.6 73.5L230.6 73.4L230.1 71.6L231.2 71.4L230.9 71.8L232 71.7L231.4 69L232.5 68.9L232.4 71.1L233.5 71L233.1 70.2L234.2 70.1L234.2 73.5L235.2 73.4L234.8 71.3L235.8 71.2L236 76.2L237 76.1L236.7 74.8L237.7 74.7L237.5 76L238.5 75.9L238.2 75.1L239.2 75L239 76L240 75.9L239.5 72.4L240.6 72.3L240.5 75.4L241.5 75.4L241.3 75.7L242.3 75.7L242.3 76.3A182.0 182.0 0 0 0 225.6 77.9ZM242.8 76.2L242.8 75.5L243.8 75.4L243.6 75.7L244.6 75.6L244.3 74.7L245.3 74.6L245.1 75.6L246.1 75.6L245.7 71.6L246.7 71.6L246.6 75.6L247.6 75.6L247.3 73.2L248.3 73.2L248 73.3L249.1 73.3L249.1 76A182.0 182.0 0 0 0 242.8 76.2ZM249.6 76L249.6 75.5L250.6 75.5L250.3 73L251.4 73L251.1 75.5L252.1 75.5L251.9 71.6L252.9 71.6L252.6 72.7L253.7 72.8L253.4 69.8L254.5 69.8L254.2 70.6L255.2 70.6L255 71.6L256 71.7L255.7 74.7L256.7 74.7L256.5 70.9L257.6 71L257.3 69.3L258.4 69.3L257.9 75.6L258.9 75.6L258.9 69.7L259.9 69.8L259.7 68.8L260.8 68.8L260.2 75.7L261.2 75.7L261 74.8L262 74.9L261.9 72.7L262.9 72.7L263 66.6L264 66.7L263.3 74.5L264.3 74.6L264 75.7L265 75.7L265.3 68.3L266.3 68.4L265.9 70.9L266.9 71L266.3 75.3L267.3 75.4L267.6 69L268.6 69.1L267.8 75.1L268.8 75.2L268.5 75.9L269.5 76L269.4 75.2L270.4 75.3L270 76.4L271 76.5L270.9 75.2L271.9 75.3L272.5 67.7L273.5 67.8L273.2 68.5L274.2 68.6L273.3 74.5L274.3 74.6L274.6 70L275.6 70.1L275.5 69L276.5 69.1L275.4 77.5A182.0 182.0 0 0 0 249.6 76ZM275.9 77.6L277 69.9L278 70L277.4 72.1L278.5 72.3L278.2 72.7L279.2 72.9L279.2 70.6L280.3 70.8L280.3 69L281.3 69.2L279.9 78.2A182.0 182.0 0 0 0 275.9 77.6ZM280.4 78.2L280.8 75.9L281.8 76.1L281.6 75.8L282.6 76L283.4 69.4L284.5 69.6L282.7 78.1L283.7 78.3L284.9 69.9L286 70.1L285.4 72L286.4 72.2L285.2 77.2L286.2 77.4L286.2 75.8L287.3 76L286.5 78.5L287.5 78.7L287.3 78.2L288.3 78.4L289 73.6L290.1 73.9L288.8 78.7L289.8 78.9L290.7 73.4L291.7 73.6L290.9 76L291.9 76.2L290.9 79.7L291.9 79.9L292.7 75.1L293.7 75.4L293.6 74.8L294.6 75L293.1 80.1L294.1 80.3L293.9 80.4L294.8 80.6L295.6 76.3L296.6 76.5L295.5 81.3A182.0 182.0 0 0 0 280.4 78.2ZM295.9 81.4L298.2 72.4L299.2 72.6L296.8 81.1L297.8 81.3L299.6 73.3L300.6 73.6L298.4 82A182.0 182.0 0 0 0 295.9 81.4ZM298.9 82.1L301 74.1L302 74.4L302.3 72.3L303.3 72.6L301.5 78.3L302.5 78.6L303.5 74L304.5 74.3L303.5 76.8L304.5 77.1L302.7 83.2A182.0 182.0 0 0 0 298.9 82.1ZM303.2 83.4L305.4 75.8L306.5 76.1L305.9 76.9L306.9 77.2L307.4 74.7L308.4 75L306.6 80.2L307.5 80.5L307 81.2L308 81.5L307.2 83.4L308.1 83.7L307.7 84.2L308.7 84.5L309 82.8L309.9 83.1L310 82.1L311 82.4L310.6 82.5L311.6 82.9L311.1 83.7L312 84L314.6 75.7L315.6 76L312.7 83.7L313.7 84L317.5 72.2L318.6 72.6L315.3 80.9L316.3 81.3L316.7 79.3L317.7 79.7L315.2 85.6L316.2 86L317.7 81.1L318.7 81.5L318.8 80.5L319.8 80.9L318.3 84.1L319.2 84.5L320.5 80.5L321.5 80.9L322.8 76.8L323.8 77.2L319.1 88.8A182.0 182.0 0 0 0 303.2 83.4ZM319.6 89L325 75.6L326 76L322.7 83.3L323.7 83.7L326.1 77.1L327.1 77.5L321.9 89.4L322.8 89.8L325.5 82.7L326.5 83.1L324.7 86.6L325.7 87L329.1 78.4L330.1 78.8L327.8 83.4L328.8 83.8L329 82.6L330 83L326.1 91.2L327 91.6L327.1 90.8L328 91.2L330.2 85.8L331.1 86.2L331.9 83.8L332.9 84.3L333.5 82.3L334.5 82.7L335.3 80.5L336.3 80.9L333.7 85.8L334.6 86.2L332.7 89.5L333.7 90L335.8 84.9L336.8 85.4L335.6 87.3L336.5 87.7L338.3 83.4L339.3 83.9L334.3 93.4L335.2 93.9L339.8 84.1L340.8 84.6L336.5 92.5L337.4 92.9L336.3 94.4L337.2 94.9L342.1 85L343 85.5L342.5 85.9L343.5 86.4L337.6 97.4A182.0 182.0 0 0 0 319.6 89ZM338.1 97.6L344.7 85.2L345.7 85.7L341.2 93.3L342.1 93.8L344.4 89.2L345.3 89.8L344.1 91.3L345 91.9L343.3 94.5L344.2 95L346.9 89.6L347.9 90.1L349.5 86.6L350.5 87.1L349.5 88.3L350.4 88.9L343.5 100.7A182.0 182.0 0 0 0 338.1 97.6ZM344 101L350.5 89.9L351.4 90.4L352.2 88.5L353.1 89.1L349.2 95.1L350.1 95.6L349.9 95.5L350.8 96.1L354.1 90.2L355 90.7L354 91.8L355 92.3L355.7 90.7L356.6 91.2L353.8 95.1L354.7 95.7L349.4 103.7L350.3 104.2L350.8 102.9L351.7 103.4L355.6 96.8L356.5 97.3L358.6 93.6L359.5 94.2L356.1 98.9L357 99.5L357.1 98.9L358 99.4L361.1 94.4L362 95L360.2 97.1L361.1 97.7L355.3 105.8L356.1 106.4L360.2 100L361 100.6L355.7 107.8L356.5 108.4L357.9 106L358.8 106.6L357.6 107.7L358.5 108.3L365.9 97.3L366.8 98L359.2 108.2L360 108.8L358.8 110L359.6 110.6L365.5 102.1L366.4 102.7L366.2 102.5L367.1 103.1L360.9 111L361.7 111.6L361.5 111.4L362.3 112L365.3 107.7L366.1 108.3L370 102.8L370.9 103.4L368 106.7L368.8 107.4L369.6 105.9L370.5 106.6L364.3 114L365.1 114.6L365.5 113.8L366.3 114.4L365.9 114.5L366.7 115.1L367 114.3L367.8 114.9L367.2 115.3L368 115.9L367.6 116L368.3 116.7L367.8 116.9L368.6 117.6L369.6 116L370.3 116.6L369 117.9L369.7 118.5L369.4 118.9A182.0 182.0 0 0 0 344 101ZM369.8 119.3L370.1 118.9L370.9 119.5L370.7 119.4L371.5 120L372.1 118.9L372.9 119.6L373.7 118.2L374.5 118.9L373 120.1L373.8 120.8L373 121.3L373.7 122L374.5 120.8L375.3 121.4L374.1 122.4L374.8 123L374.7 122.9L375.4 123.5L375.2 123.4L376 124.1L375.9 123.8L376.6 124.5L376.3 124.4L377.1 125.1L377.6 124.1L378.4 124.8L378.4 124.5L379.1 125.2L378.2 125.8L378.9 126.5L379.3 125.7L380 126.4L381.6 124.4L382.3 125.2L379.9 127.2L380.6 127.9L380 128.6A182.0 182.0 0 0 0 369.8 119.3ZM380.3 129L381.2 128L382 128.8L381.7 128.6L382.4 129.3L381.8 129.7L382.5 130.4L382.3 130.2L383 130.9L383 130.6L383.7 131.3L383.8 130.8L384.5 131.5L386.2 129.6L386.9 130.4L384.2 132.9A182.0 182.0 0 0 0 380.3 129ZM384.5 133.3L387.7 130.3L388.4 131L388.2 130.9L388.9 131.7L385.9 134L386.6 134.8L386.3 135.1A182.0 182.0 0 0 0 384.5 133.3ZM386.6 135.5L387.6 134.6L388.3 135.4L389.3 134.1L390 134.8L388 136.3L388.6 137L388.5 136.8L389.1 137.6L389 137.4L389.6 138.2L389.5 138L390.1 138.7L390 138.5L390.6 139.3L390.5 139.1L391.1 139.9L391 139.7L391.6 140.5L391.5 140.2L392.2 141L391.9 140.9L392.6 141.6L394.1 140.1L394.7 140.9L392.9 142L393.5 142.8L393.4 142.6L394.1 143.4L394.5 142.7L395.1 143.5L394.1 144.3A182.0 182.0 0 0 0 386.6 135.5ZM394.4 144.7L394.8 144.4L395.4 145.2L395 145.5A182.0 182.0 0 0 0 394.4 144.7ZM395.4 145.9L395.7 145.6L396.4 146.4L396 146.7A182.0 182.0 0 0 0 395.4 145.9ZM396.3 147.1L396.7 146.8L397.3 147.6L397.1 147.4L397.7 148.2L403.1 143.8L403.8 144.6L401.9 145.7L402.5 146.5L398.2 149.7A182.0 182.0 0 0 0 396.3 147.1ZM398.5 150.1L400.7 148.5L401.3 149.3L399.5 150.3L400.1 151.1L400.8 150.3L401.4 151.1L400.6 151.4L401.2 152.2L400.9 152.1L401.5 152.9L406.8 148.9L407.4 149.7L402.1 153.1L402.6 154L403.1 153.4L403.6 154.2L404.7 153.2L405.2 154L403.2 155.1L403.8 155.9L408.7 152.3L409.3 153.2L403.8 156.5L404.4 157.4L407.4 155.1L408 155.9L407.6 155.8L408.2 156.7L405.3 158.3L405.8 159.1L420.1 149.6L420.7 150.6L406.8 159.1L407.3 160L406.9 159.9L407.4 160.8L410.4 158.6L411 159.5L409.7 160L410.2 160.9L407.4 162.3L407.9 163.2L408.7 162.4L409.3 163.3L408.5 163.4L409 164.3L409.5 163.7L410 164.6L414.2 161.8L414.7 162.7L409 166A182.0 182.0 0 0 0 398.5 150.1ZM409.3 166.5L409.7 166.2L410.2 167.1L414.5 164.3L415.1 165.2L413.4 165.8L413.9 166.7L413.5 166.7L414 167.6L416.3 166L416.8 166.9L411.6 169.5L412.1 170.4L414.2 168.9L414.7 169.8L412.4 170.8L412.9 171.7L414 170.8L414.5 171.7L413.1 172.1L413.5 173L415.8 171.5L416.3 172.5L415.1 172.8L415.6 173.7L418.9 171.7L419.4 172.6L414.6 174.8L415.1 175.7L414.8 175.5L415.3 176.4L415.8 175.8L416.3 176.8L415.7 176.7L416.2 177.6L416 177.4L416.4 178.4L415.8 178.7A182.0 182.0 0 0 0 409.3 166.5ZM416.3 179.8L420 178L420.4 179L417.2 180.2L417.6 181.1L417.9 180.7L418.3 181.6L417.8 181.6L418.2 182.6L418.6 182.1L419.1 183L418 183.4A182.0 182.0 0 0 0 416.3 179.8ZM418.2 183.9L421.8 182.3L422.2 183.3L423.5 182.4L423.9 183.4L422.1 183.9L422.5 184.8L419.6 185.8L420 186.7L419.9 186.5L420.3 187.4L419.8 187.6A182.0 182.0 0 0 0 418.2 183.9ZM420 188.1L421.2 187.6L421.6 188.5L422.9 187.7L423.3 188.6L421.1 189.3L421.4 190.2L421.3 190L421.7 190.9L423.4 190L423.8 190.9L423.4 190.8L423.8 191.7L422.2 192.1L422.5 193L423.3 192.4L423.7 193.4L423.6 193.2L423.9 194.1L423 194.2L423.3 195.1L423.6 194.8L423.9 195.7L426.7 194.4L427.1 195.4L424.1 196.2L424.5 197.2L425.8 196.4L426.1 197.4L425.2 197.4L425.5 198.4L424.5 198.5L424.8 199.4L426.1 198.7L426.4 199.7L425 199.9L425.3 200.9L425.4 200.6L425.7 201.5L425.5 201.3L425.8 202.3L425.9 202L426.2 203L427.4 202.3L427.7 203.3L426.3 203.4L426.6 204.4L426.4 204.2L426.7 205.2L426.7 204.9L427 205.9L427.1 205.6L427.4 206.5L430 205.5L430.2 206.5L429.8 206.4L430.1 207.4L427.5 207.8L427.7 208.8L427.7 208.6L428 209.6L427.9 209.3L428.2 210.3L429.9 209.6L430.1 210.5L428.3 210.7L428.6 211.7L428.9 211.4L429.1 212.4L428.7 212.2L428.9 213.2L432 212.2L432.3 213.2L429.7 213.5L430 214.5L429.2 214.4L429.5 215.4L430.1 215L430.3 216L429.1 216.3A182.0 182.0 0 0 0 420 188.1ZM429.3 216.7L429.8 216.6L430 217.6L436.7 215.8L436.9 216.9L435 217L435.2 218L443 216.1L443.2 217.1L430.4 219.6L430.6 220.6L433.3 219.8L433.5 220.8L434.9 220.2L435.2 221.2L430.4 222.2A182.0 182.0 0 0 0 429.3 216.7ZM430.5 222.6L441.1 220.6L441.3 221.6L437.4 222.1L437.6 223.1L438.2 222.7L438.4 223.8L431.5 224.8L431.6 225.8L438.2 224.3L438.4 225.4L431.7 226.3L431.9 227.3L431.8 227L432 228L436.9 226.9L437 228L440.4 227.1L440.6 228.2L437.8 228.4L437.9 229.4L439.2 228.9L439.3 230L432.5 230.7L432.6 231.7L434.5 231.2L434.6 232.2L432.7 232.2L432.8 233.2L438.3 232.2L438.5 233.3L443.2 232.4L443.3 233.4L433.4 234.4L433.6 235.4L433.1 235.2L433.2 236.2L433.2 236L433.3 237L444.3 235.4L444.5 236.5L447.6 235.9L447.7 237L434 238.2L434.1 239.2L436.9 238.6L437 239.7L433.6 239.7L433.7 240.8L433.7 240.5L433.8 241.5L436.5 241L436.6 242L433.8 242L433.9 243L436.7 242.5L436.8 243.5L440.9 243L441 244L442.9 243.6L443 244.7L436.9 244.8L437 245.8L438.1 245.5L438.1 246.5L440.2 246.2L440.3 247.2L434.2 247.3L434.3 248.3L436.7 247.9L436.7 248.9L443.4 248.3L443.5 249.4L438.1 249.4L438.1 250.4L443.5 249.9L443.5 251L434.9 251L435 252.1L434.4 251.8L434.4 252.8L434.7 252.6L434.8 253.6L434.4 253.3L434.5 254.3L440.2 254L440.3 255L434.5 254.8L434.5 255.9L435.6 255.6L435.6 256.6L439.3 256.3L439.3 257.4L434.5 257.1L434.5 258.1L434 258.1A182.0 182.0 0 0 0 430.5 222.6Z" fill="#d95f02"/>
<path d="M434 260.9L432.7 260.9L432.7 261.9L434 261.9A182.0 182.0 0 0 0 434 260.9ZM433.9 262.4L430.7 262.3L430.7 263.3L433.9 263.4A182.0 182.0 0 0 0 433.9 262.4ZM433.5 271.4L432.9 271.4L432.9 272.4L433.4 272.4A182.0 182.0 0 0 0 433.5 271.4ZM432.6 280.4L432 280.4L431.9 281.4L432.5 281.4A182.0 182.0 0 0 0 432.6 280.4ZM429.7 297.5L429 297.4L428.8 298.4L429.4 298.5A182.0 182.0 0 0 0 429.7 297.5ZM417.1 334.6L414.3 333.3L413.9 334.2L416.7 335.5A182.0 182.0 0 0 0 417.1 334.6ZM414.5 340L402 333.7L401.5 334.6L414 340.9A182.0 182.0 0 0 0 414.5 340ZM413.8 341.4L413.3 341.1L412.8 342L413.3 342.3A182.0 182.0 0 0 0 413.8 341.4ZM405.5 355.8L403.6 354.6L403.1 355.4L405 356.6A182.0 182.0 0 0 0 405.5 355.8ZM404.7 357L402.9 355.9L402.3 356.7L404.1 357.9A182.0 182.0 0 0 0 404.7 357ZM402.6 360.2L401.4 359.3L400.8 360.2L402 361A182.0 182.0 0 0 0 402.6 360.2ZM396.4 368.7L393.1 366.2L392.5 367L395.8 369.5A182.0 182.0 0 0 0 396.4 368.7ZM391.7 374.6L389.6 372.8L388.9 373.6L391.1 375.4A182.0 182.0 0 0 0 391.7 374.6ZM387.8 379.2L385 376.7L384.4 377.5L387.1 380A182.0 182.0 0 0 0 387.8 379.2ZM381.6 385.8L379.2 383.5L378.5 384.2L380.9 386.5A182.0 182.0 0 0 0 381.6 385.8ZM380.5 386.9L380 386.4L379.3 387.1L379.8 387.6A182.0 182.0 0 0 0 380.5 386.9ZM379.4 387.9L376.4 384.9L375.7 385.6L378.7 388.6A182.0 182.0 0 0 0 379.4 387.9ZM365.3 400.4L364.9 399.9L364.1 400.5L364.5 401A182.0 182.0 0 0 0 365.3 400.4ZM361.7 403.2L361.2 402.5L360.4 403.1L360.9 403.8A182.0 182.0 0 0 0 361.7 403.2ZM359.3 405L357.6 402.6L356.7 403.1L348.2 390.9L347.4 391.4L357.4 404.9L356.6 405.4L357.3 406.5A182.0 182.0 0 0 0 359.3 405ZM355.6 407.6L354.5 406L353.7 406.6L354.8 408.2A182.0 182.0 0 0 0 355.6 407.6ZM353.8 408.9L353.3 408.2L352.5 408.8L352.9 409.5A182.0 182.0 0 0 0 353.8 408.9ZM342.9 415.7L342.6 415.2L341.7 415.7L342 416.2A182.0 182.0 0 0 0 342.9 415.7ZM330.2 422.3L329.3 420.5L328.4 420.9L329.3 422.8A182.0 182.0 0 0 0 330.2 422.3ZM323.3 425.4L322.6 423.7L321.7 424.1L322.4 425.8A182.0 182.0 0 0 0 323.3 425.4ZM310.7 430.3L309.9 428L308.9 428.4L309.7 430.6A182.0 182.0 0 0 0 310.7 430.3ZM304.9 432.1L304.6 431.1L303.6 431.4L303.9 432.4A182.0 182.0 0 0 0 304.9 432.1ZM299.8 433.6L298.8 429.8L297.8 430L298.9 433.9A182.0 182.0 0 0 0 299.8 433.6ZM292.5 435.4L292.4 434.8L291.4 435L291.5 435.7A182.0 182.0 0 0 0 292.5 435.4ZM277.7 438.2L277.6 437.7L276.6 437.8L276.7 438.3A182.0 182.0 0 0 0 277.7 438.2ZM271.7 438.9L271.3 435.4L270.3 435.5L270.7 439A182.0 182.0 0 0 0 271.7 438.9ZM265.7 439.5L265.6 438.6L264.6 438.6L264.7 439.6A182.0 182.0 0 0 0 265.7 439.5ZM264.2 439.6L264.1 438.9L263.1 439L263.2 435.4L262.2 435.5L262.4 439.7A182.0 182.0 0 0 0 264.2 439.6ZM258.2 439.9L258.1 439L257.1 439L257.2 439.9A182.0 182.0 0 0 0 258.2 439.9ZM238.6 439.5L238.6 438.6L237.6 438.6L237.6 439.4A182.0 182.0 0 0 0 238.6 439.5ZM237.1 439.4L237.1 438.6L236.1 438.5L236.1 439.3A182.0 182.0 0 0 0 237.1 439.4ZM216.2 436.4L216.3 435.9L215.3 435.7L215.2 436.2A182.0 182.0 0 0 0 216.2 436.4ZM202.2 433.1L202.4 432.3L201.5 432.1L201.3 432.8A182.0 182.0 0 0 0 202.2 433.1ZM172 421.5L172.6 420.3L171.7 419.9L171.1 421A182.0 182.0 0 0 0 172 421.5ZM168.6 419.8L169.9 417.2L169 416.8L167.7 419.3A182.0 182.0 0 0 0 168.6 419.8ZM154.9 411.9L155.9 410.2L155.1 409.7L154 411.4A182.0 182.0 0 0 0 154.9 411.9ZM132.5 395.3L132.9 394.9L132.1 394.2L131.7 394.6A182.0 182.0 0 0 0 132.5 395.3ZM122.1 385.4L124.3 383.3L123.6 382.6L121.4 384.7A182.0 182.0 0 0 0 122.1 385.4ZM116.4 379.4L117.1 378.8L116.4 378L115.7 378.6A182.0 182.0 0 0 0 116.4 379.4ZM114.4 377.1L114.8 376.8L114.2 376L113.7 376.4A182.0 182.0 0 0 0 114.4 377.1ZM108.6 370.1L110.8 368.4L110.2 367.7L108 369.3A182.0 182.0 0 0 0 108.6 370.1ZM103.7 363.5L105.4 362.2L104.9 361.4L103.1 362.7A182.0 182.0 0 0 0 103.7 363.5ZM99.4 357.3L103 354.9L102.5 354.1L99.5 356.3L98.9 355.5L98.5 355.8A182.0 182.0 0 0 0 99.4 357.3ZM97 353.4L98.6 352.4L98.1 351.6L96.5 352.6A182.0 182.0 0 0 0 97 353.4ZM81.2 320.9L85 319.5L84.6 318.6L80.9 320A182.0 182.0 0 0 0 81.2 320.9ZM76.6 306.6L77.5 306.3L77.2 305.4L76.3 305.6A182.0 182.0 0 0 0 76.6 306.6ZM73.8 294.8L75.9 294.4L75.7 293.4L73.6 293.8A182.0 182.0 0 0 0 73.8 294.8ZM72.5 288.2L74.6 287.8L74.5 286.8L72.4 287.2A182.0 182.0 0 0 0 72.5 288.2ZM72.2 285.9L74.3 285.6L74.1 284.6L72 284.9A182.0 182.0 0 0 0 72.2 285.9ZM70.4 270.2L74.1 269.9L74 269L70.3 269.2A182.0 182.0 0 0 0 70.4 270.2ZM70.3 268.7L71.8 268.6L71.8 267.6L70.3 267.7A182.0 182.0 0 0 0 70.3 268.7ZM70.1 263.4L70.6 263.4L70.6 262.4L70.1 262.4A182.0 182.0 0 0 0 70.1 263.4ZM70.1 253.6L74.1 253.7L74.1 252.7L70.1 252.6A182.0 182.0 0 0 0 70.1 253.6ZM70.1 252.1L70.6 252.1L70.7 251.1L70.1 251.1A182.0 182.0 0 0 0 70.1 252.1ZM74.7 217L75.8 217.3L76.1 216.3L74.9 216A182.0 182.0 0 0 0 74.7 217ZM76.3 210.4L80.6 211.6L80.8 210.6L76.6 209.4A182.0 182.0 0 0 0 76.3 210.4ZM81.1 195.3L81.7 195.5L82.1 194.6L83.5 195.4L83.9 194.5L81.7 193.7A182.0 182.0 0 0 0 81.1 195.3ZM84.2 187.6L86.7 188.7L87.1 187.8L84.6 186.7A182.0 182.0 0 0 0 84.2 187.6ZM97.3 162.1L99.2 163.3L99.7 162.5L97.8 161.3A182.0 182.0 0 0 0 97.3 162.1ZM99.3 159L99.9 159.4L100.5 158.5L99.9 158.1A182.0 182.0 0 0 0 99.3 159ZM107.6 147.3L108.5 148L109.1 147.2L108.2 146.5A182.0 182.0 0 0 0 107.6 147.3ZM110.4 143.7L111.6 144.7L112.2 143.9L111 142.9A182.0 182.0 0 0 0 110.4 143.7ZM118.3 134.6L119 135.2L119.7 134.5L119.8 135L120.5 134.3L119.5 133.3A182.0 182.0 0 0 0 118.3 134.6ZM123.5 129.1L125.9 131.6L126.6 130.9L124.2 128.4A182.0 182.0 0 0 0 123.5 129.1ZM126.2 126.5L128.8 129.2L129.5 128.5L126.9 125.8A182.0 182.0 0 0 0 126.2 126.5ZM138.1 116.1L139.5 117.8L140.2 117.1L138.9 115.4A182.0 182.0 0 0 0 138.1 116.1ZM141.7 113.3L143.9 116.3L144.7 115.7L142.5 112.7A182.0 182.0 0 0 0 141.7 113.3ZM153.4 105L153.7 105.5L154.5 104.9L154.2 104.5A182.0 182.0 0 0 0 153.4 105ZM168.4 96.3L168.6 96.8L169.5 96.4L169.3 95.9A182.0 182.0 0 0 0 168.4 96.3ZM186.3 88.3L187.1 90.4L188 90.1L187.2 87.9A182.0 182.0 0 0 0 186.3 88.3ZM190.5 86.7L190.7 87.3L191.7 87L191.4 86.4A182.0 182.0 0 0 0 190.5 86.7ZM191.9 86.2L192.1 86.7L193 86.4L192.9 85.9A182.0 182.0 0 0 0 191.9 86.2ZM204.2 82.4L204.4 83.3L205.4 83L205.1 82.1A182.0 182.0 0 0 0 204.2 82.4ZM210 80.9L210.2 81.9L211.2 81.7L211 80.7A182.0 182.0 0 0 0 210 80.9ZM224.8 78L225.4 81.9L226.4 81.7L225.8 77.9A182.0 182.0 0 0 0 224.8 78ZM242.1 76.3L242.1 76.9L243.1 76.8L243.1 76.2A182.0 182.0 0 0 0 242.1 76.3ZM248.9 76L248.9 77L249.9 77L249.9 76A182.0 182.0 0 0 0 248.9 76ZM275.2 77.5L275.1 78.5L276.1 78.6L276.2 77.6A182.0 182.0 0 0 0 275.2 77.5ZM279.7 78.1L279.6 78.6L280.6 78.8L280.7 78.3A182.0 182.0 0 0 0 279.7 78.1ZM295.2 81.2L295 81.9L296 82.1L296.2 81.4A182.0 182.0 0 0 0 295.2 81.2ZM298.1 81.9L297.5 84.3L298.5 84.5L299.1 82.2A182.0 182.0 0 0 0 298.1 81.9ZM302.5 83.1L301.9 85.1L302.9 85.3L303.5 83.4A182.0 182.0 0 0 0 302.5 83.1ZM318.9 88.7L318.3 90.4L319.2 90.8L319.8 89.1A182.0 182.0 0 0 0 318.9 88.7ZM337.4 97.3L336.9 98.3L337.8 98.7L338.3 97.8A182.0 182.0 0 0 0 337.4 97.3ZM343.3 100.6L342.9 101.3L343.7 101.8L344.2 101.1A182.0 182.0 0 0 0 343.3 100.6ZM369.2 118.8L368.1 120.1L368.9 120.7L370 119.4A182.0 182.0 0 0 0 369.2 118.8ZM379.8 128.4L378.5 129.8L379.2 130.5L380.5 129.1A182.0 182.0 0 0 0 379.8 128.4ZM384 132.7L382.8 133.9L383.5 134.6L384.7 133.5A182.0 182.0 0 0 0 384 132.7ZM386.1 134.9L385.7 135.3L386.3 136.1L386.8 135.7A182.0 182.0 0 0 0 386.1 134.9ZM393.9 144.1L392.3 145.4L392.9 146.2L394.6 144.9A182.0 182.0 0 0 0 393.9 144.1ZM394.9 145.3L393.7 146.2L394.3 147L395.5 146.1A182.0 182.0 0 0 0 394.9 145.3ZM395.8 146.5L395.2 146.9L395.9 147.7L396.4 147.3A182.0 182.0 0 0 0 395.8 146.5ZM398.1 149.5L396.7 150.5L397.3 151.3L398.7 150.3A182.0 182.0 0 0 0 398.1 149.5ZM408.9 165.8L407.8 166.5L408.3 167.3L409.4 166.7A182.0 182.0 0 0 0 408.9 165.8ZM415.7 178.4L414.8 178.9L415.2 179.8L414.4 179.9L414.8 180.8L416.4 180A182.0 182.0 0 0 0 415.7 178.4ZM417.9 183.2L413.4 185.3L413.8 186.2L418.3 184.1A182.0 182.0 0 0 0 417.9 183.2ZM419.7 187.4L419.2 187.6L419.6 188.5L420.1 188.3A182.0 182.0 0 0 0 419.7 187.4ZM429.1 216L427.4 216.4L427.6 217.4L429.3 217A182.0 182.0 0 0 0 429.1 216ZM430.4 221.9L429.5 222.1L429.7 223.1L430.6 222.9A182.0 182.0 0 0 0 430.4 221.9Z" fill="#7570b3"/>
<text x="0.5" y="11.6" font-weight="bold" font-size="21">a</text>
<text x="514.5" y="46.7" font-size="15.2">Pollen limitation (PL)</text>
<text x="514.5" y="64.3" font-size="15.2">effect size</text>
<rect x="519" y="100.2" width="40" height="2.8" fill="#d95f02"/>
<rect x="577.6" y="95" width="40.3" height="13" fill="#d95f02" fill-opacity="0.2"/>
<text x="623.5" y="106.2" font-size="13">PL</text>
<rect x="519" y="141.5" width="40" height="2.8" fill="#7570b3"/>
<rect x="577.6" y="138" width="40.3" height="13" fill="#7570b3" fill-opacity="0.2"/>
<text x="623.5" y="147.6" font-size="13">no PL</text>
<text x="514.5" y="241.2" font-size="15.2">Pollinator dependence</text>
<rect x="519" y="276.3" width="40" height="3.2" fill="#a983c6"/>
<text x="565.4" y="282" font-size="13">Autofertile</text>
<rect x="519" y="317.2" width="40" height="3.2" fill="#d6efd0"/>
<text x="565.4" y="323.2" font-size="13">Pollinator dependent</text>
<text x="514.5" y="411.8" font-size="15.2">Ecological specialization</text>
<path d="M519 449.5H559M539.2 436.5V462.5" stroke="#00441b" stroke-width="2" fill="none"/><circle cx="539.2" cy="449.5" r="5.9" fill="#00441b"/>
<text x="565.4" y="454.1" font-size="13">One pollinator</text>
<path d="M519 489.8H559M539.2 476.8V502.8" stroke="#238b45" stroke-width="2" fill="none"/><path d="M539.2 483L546.8 494.2L531.6 494.2Z" fill="#238b45"/>
<text x="565.4" y="494.4" font-size="13">Few pollinators</text>
<path d="M519 530.8H559M539.2 517.8V543.8" stroke="#66c2a4" stroke-width="2" fill="none"/><rect x="533.4" y="525" width="11.6" height="11.6" fill="#66c2a4"/>
<text x="565.4" y="535.4" font-size="13">Many pollinators</text>
<text x="514.5" y="618.4" font-size="15.2">Functional specialization</text>
<path d="M515.2 655.7H555.2M535.2 642.7V668.7" stroke="#081d58" stroke-width="2" fill="none"/><circle cx="535.2" cy="655.7" r="5.9" fill="#081d58"/>
<text x="561.5" y="660.3" font-size="13">Exclusively bee</text>
<path d="M515.2 696.4H555.2M535.2 683.4V709.4" stroke="#225ea8" stroke-width="2" fill="none"/><path d="M535.2 689.6L542.8 700.8L527.6 700.8Z" fill="#225ea8"/>
<text x="561.5" y="701" font-size="13">Exclusively other</text>
<path d="M515.2 737H555.2M535.2 724V750" stroke="#41b6c4" stroke-width="2" fill="none"/><rect x="529.4" y="731.2" width="11.6" height="11.6" fill="#41b6c4"/>
<text x="561.5" y="741.6" font-size="13">Multiple</text>
<rect x="53.2" y="576.0" width="203" height="165.8" fill="#faebe0"/>
<rect x="53.2" y="741.8" width="203" height="19.8" fill="#eeedf6"/>
<path d="M53.2 741.8H256.2" stroke="#b0b0b0" stroke-width="1.2" stroke-dasharray="1.2 2.4"/>
<path d="M63.2 665.6L220.7 667.9" stroke="#00441b" stroke-width="2.2" fill="none"/>
<path d="M63.2 583.7V717.6" stroke="#00441b" stroke-width="2" fill="none"/>
<circle cx="63.2" cy="665.6" r="5.9" fill="#00441b"/>
<path d="M220.7 616.1V707.3" stroke="#00441b" stroke-width="2" fill="none"/>
<circle cx="220.7" cy="667.9" r="5.9" fill="#00441b"/>
<path d="M75.8 690.8L233.3 705.2" stroke="#238b45" stroke-width="2.2" fill="none"/>
<path d="M75.8 650.1V726.3" stroke="#238b45" stroke-width="2" fill="none"/>
<path d="M75.8 683.5L83.4 694.7L68.2 694.7Z" fill="#238b45"/>
<path d="M233.3 668.2V738.7" stroke="#238b45" stroke-width="2" fill="none"/>
<path d="M233.3 697.9L240.9 709.1L225.7 709.1Z" fill="#238b45"/>
<path d="M88.8 708.3L246.3 707.8" stroke="#66c2a4" stroke-width="2.2" fill="none"/>
<path d="M88.8 683.1V734.6" stroke="#66c2a4" stroke-width="2" fill="none"/>
<rect x="83" y="702.5" width="11.6" height="11.6" fill="#66c2a4"/>
<path d="M246.3 685.1V732.5" stroke="#66c2a4" stroke-width="2" fill="none"/>
<rect x="240.5" y="702" width="11.6" height="11.6" fill="#66c2a4"/>
<rect x="53.2" y="576.0" width="203" height="185.6" fill="none" stroke="#000" stroke-width="1.6"/>
<path d="M75.8 761.6V770.8M233.3 761.6V770.8" stroke="#000" stroke-width="2.2"/>
<text x="154.8" y="546.6" font-weight="bold" font-size="22" text-anchor="middle">b</text>
<text x="159.7" y="567.8" font-size="15.2" text-anchor="middle">Ecological specialization</text>
<text transform="translate(80.6 786.4) rotate(-24)" font-size="15.2" text-anchor="end">Natural</text>
<text transform="translate(238.1 786.4) rotate(-24)" font-size="15.2" text-anchor="end">Managed</text>
<rect x="266.0" y="576.0" width="203.3" height="165.8" fill="#faebe0"/>
<rect x="266.0" y="741.8" width="203.3" height="19.8" fill="#eeedf6"/>
<path d="M266 741.8H469.3" stroke="#b0b0b0" stroke-width="1.2" stroke-dasharray="1.2 2.4"/>
<path d="M276 688.8L433.8 709.4" stroke="#081d58" stroke-width="2.2" fill="none"/>
<path d="M276 640.9V734.1" stroke="#081d58" stroke-width="2" fill="none"/>
<circle cx="276" cy="688.8" r="5.9" fill="#081d58"/>
<path d="M433.8 668.7V744.4" stroke="#081d58" stroke-width="2" fill="none"/>
<circle cx="433.8" cy="709.4" r="5.9" fill="#081d58"/>
<path d="M288.6 703.7L446.4 690.3" stroke="#225ea8" stroke-width="2.2" fill="none"/>
<path d="M288.6 664V737.7" stroke="#225ea8" stroke-width="2" fill="none"/>
<path d="M288.6 696.4L296.2 707.6L281 707.6Z" fill="#225ea8"/>
<path d="M446.4 659.4V729.4" stroke="#225ea8" stroke-width="2" fill="none"/>
<path d="M446.4 683L454 694.2L438.8 694.2Z" fill="#225ea8"/>
<path d="M301.6 724.3L459.4 719.7" stroke="#41b6c4" stroke-width="2.2" fill="none"/>
<path d="M301.6 697.5V754.2" stroke="#41b6c4" stroke-width="2" fill="none"/>
<rect x="295.8" y="718.5" width="11.6" height="11.6" fill="#41b6c4"/>
<path d="M459.4 696V744.9" stroke="#41b6c4" stroke-width="2" fill="none"/>
<rect x="453.6" y="713.9" width="11.6" height="11.6" fill="#41b6c4"/>
<rect x="266.0" y="576.0" width="203.3" height="185.6" fill="none" stroke="#000" stroke-width="1.6"/>
<path d="M288.6 761.6V770.8M446.4 761.6V770.8" stroke="#000" stroke-width="2.2"/>
<text x="367.9" y="546.6" font-weight="bold" font-size="22" text-anchor="middle">c</text>
<text x="369.8" y="567.8" font-size="15.2" text-anchor="middle">Functional specialization</text>
<text transform="translate(293.4 786.4) rotate(-24)" font-size="15.2" text-anchor="end">Natural</text>
<text transform="translate(451.2 786.4) rotate(-24)" font-size="15.2" text-anchor="end">Managed</text>
<path d="M44.3 741.8H53.2" stroke="#000" stroke-width="2.2"/>
<text x="40" y="747.2" font-size="15.2" text-anchor="end">0</text>
<path d="M44.3 690.3H53.2" stroke="#000" stroke-width="2.2"/>
<text x="40" y="695.7" font-size="15.2" text-anchor="end">1</text>
<path d="M44.3 638.8H53.2" stroke="#000" stroke-width="2.2"/>
<text x="40" y="644.2" font-size="15.2" text-anchor="end">2</text>
<path d="M44.3 587.3H53.2" stroke="#000" stroke-width="2.2"/>
<text x="40" y="592.7" font-size="15.2" text-anchor="end">3</text>
<text transform="translate(18.6 668.2) rotate(-90)" font-size="15.2" text-anchor="middle">Pollen limitation (PL) effect size</text>
</svg>
</body></html>
